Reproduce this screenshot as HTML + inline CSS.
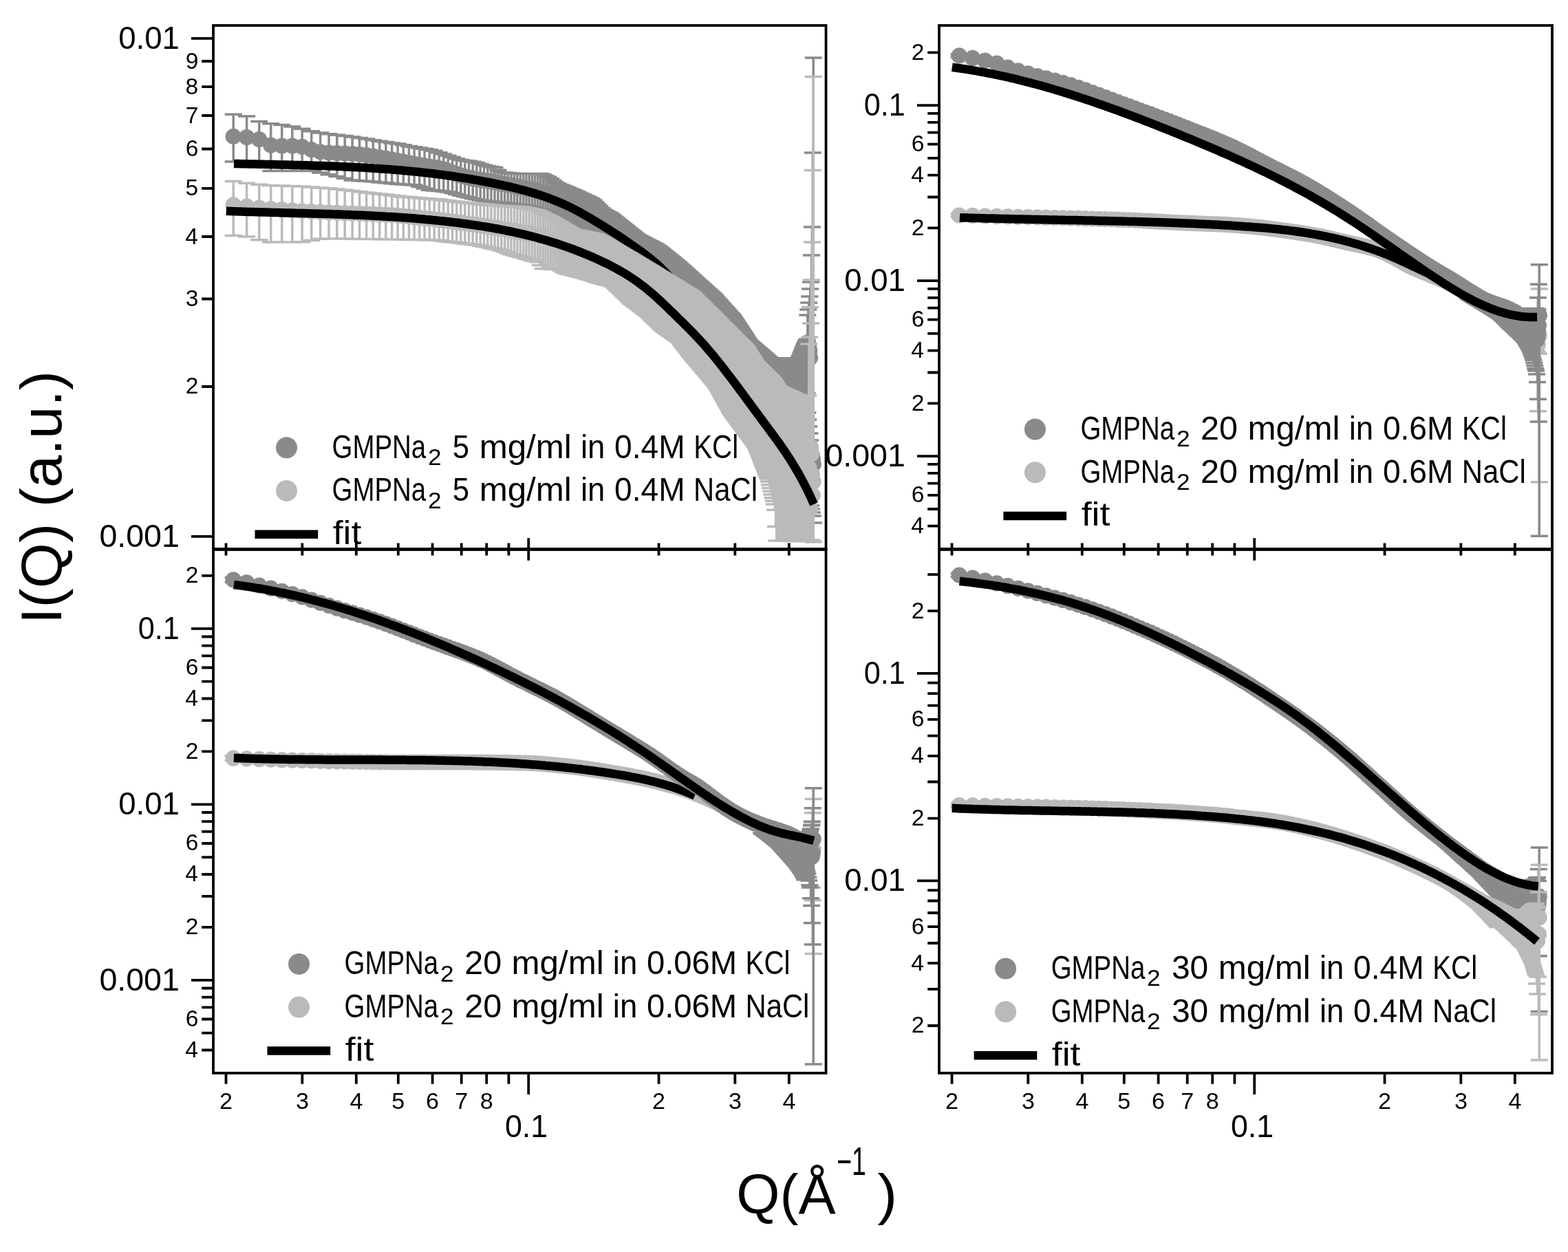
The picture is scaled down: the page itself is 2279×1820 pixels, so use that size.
<!DOCTYPE html>
<html><head><meta charset="utf-8"><title>SAXS I(Q)</title><style>html,body{margin:0;padding:0;background:#fff;overflow:hidden}</style></head><body>
<svg xmlns="http://www.w3.org/2000/svg" width="2279" height="1820" viewBox="0 0 2279 1820" font-family="'Liberation Sans', Arial, sans-serif" style="display:block">
<rect width="2279" height="1820" fill="#fff"/>
<defs>
<clipPath id="cTL"><rect x="310" y="37" width="890.5" height="761.5"/></clipPath>
<clipPath id="cTR"><rect x="1365" y="37" width="891" height="761.5"/></clipPath>
<clipPath id="cBL"><rect x="310" y="798.5" width="890.5" height="761.4000000000001"/></clipPath>
<clipPath id="cBR"><rect x="1365" y="798.5" width="891" height="761.4000000000001"/></clipPath>
</defs>
<g clip-path="url(#cTL)">
<path d="M327.6 198.4a11.6 11.6 0 1 0 23.2 0a11.6 11.6 0 1 0 -23.2 0M347.0 199.5a11.6 11.6 0 1 0 23.2 0a11.6 11.6 0 1 0 -23.2 0M365.1 202.5a11.6 11.6 0 1 0 23.2 0a11.6 11.6 0 1 0 -23.2 0M382.1 211.1a11.6 11.6 0 1 0 23.2 0a11.6 11.6 0 1 0 -23.2 0M398.1 212.0a11.6 11.6 0 1 0 23.2 0a11.6 11.6 0 1 0 -23.2 0M413.2 212.0a11.6 11.6 0 1 0 23.2 0a11.6 11.6 0 1 0 -23.2 0M427.5 213.3a11.6 11.6 0 1 0 23.2 0a11.6 11.6 0 1 0 -23.2 0M441.1 217.5a11.6 11.6 0 1 0 23.2 0a11.6 11.6 0 1 0 -23.2 0M454.0 220.9a11.6 11.6 0 1 0 23.2 0a11.6 11.6 0 1 0 -23.2 0M466.4 222.1a11.6 11.6 0 1 0 23.2 0a11.6 11.6 0 1 0 -23.2 0M478.2 222.7a11.6 11.6 0 1 0 23.2 0a11.6 11.6 0 1 0 -23.2 0M489.6 223.1a11.6 11.6 0 1 0 23.2 0a11.6 11.6 0 1 0 -23.2 0M500.5 223.6a11.6 11.6 0 1 0 23.2 0a11.6 11.6 0 1 0 -23.2 0M510.9 224.4a11.6 11.6 0 1 0 23.2 0a11.6 11.6 0 1 0 -23.2 0M521.0 225.6a11.6 11.6 0 1 0 23.2 0a11.6 11.6 0 1 0 -23.2 0M530.7 227.0a11.6 11.6 0 1 0 23.2 0a11.6 11.6 0 1 0 -23.2 0M540.1 228.6a11.6 11.6 0 1 0 23.2 0a11.6 11.6 0 1 0 -23.2 0M549.2 230.1a11.6 11.6 0 1 0 23.2 0a11.6 11.6 0 1 0 -23.2 0M558.0 231.8a11.6 11.6 0 1 0 23.2 0a11.6 11.6 0 1 0 -23.2 0M566.5 233.5a11.6 11.6 0 1 0 23.2 0a11.6 11.6 0 1 0 -23.2 0M574.7 235.2a11.6 11.6 0 1 0 23.2 0a11.6 11.6 0 1 0 -23.2 0M582.8 236.9a11.6 11.6 0 1 0 23.2 0a11.6 11.6 0 1 0 -23.2 0M590.5 238.4a11.6 11.6 0 1 0 23.2 0a11.6 11.6 0 1 0 -23.2 0M598.1 239.7a11.6 11.6 0 1 0 23.2 0a11.6 11.6 0 1 0 -23.2 0M605.5 240.8a11.6 11.6 0 1 0 23.2 0a11.6 11.6 0 1 0 -23.2 0M612.6 242.0a11.6 11.6 0 1 0 23.2 0a11.6 11.6 0 1 0 -23.2 0M619.6 243.2a11.6 11.6 0 1 0 23.2 0a11.6 11.6 0 1 0 -23.2 0M626.5 244.6a11.6 11.6 0 1 0 23.2 0a11.6 11.6 0 1 0 -23.2 0M633.1 246.2a11.6 11.6 0 1 0 23.2 0a11.6 11.6 0 1 0 -23.2 0M639.6 248.3a11.6 11.6 0 1 0 23.2 0a11.6 11.6 0 1 0 -23.2 0M645.9 250.6a11.6 11.6 0 1 0 23.2 0a11.6 11.6 0 1 0 -23.2 0M652.1 252.9a11.6 11.6 0 1 0 23.2 0a11.6 11.6 0 1 0 -23.2 0M658.2 255.0a11.6 11.6 0 1 0 23.2 0a11.6 11.6 0 1 0 -23.2 0M664.1 256.9a11.6 11.6 0 1 0 23.2 0a11.6 11.6 0 1 0 -23.2 0M669.9 258.3a11.6 11.6 0 1 0 23.2 0a11.6 11.6 0 1 0 -23.2 0M675.6 259.5a11.6 11.6 0 1 0 23.2 0a11.6 11.6 0 1 0 -23.2 0M681.2 260.5a11.6 11.6 0 1 0 23.2 0a11.6 11.6 0 1 0 -23.2 0M686.6 261.4a11.6 11.6 0 1 0 23.2 0a11.6 11.6 0 1 0 -23.2 0M692.0 262.3a11.6 11.6 0 1 0 23.2 0a11.6 11.6 0 1 0 -23.2 0M697.2 263.1a11.6 11.6 0 1 0 23.2 0a11.6 11.6 0 1 0 -23.2 0M702.3 263.9a11.6 11.6 0 1 0 23.2 0a11.6 11.6 0 1 0 -23.2 0M707.4 264.8a11.6 11.6 0 1 0 23.2 0a11.6 11.6 0 1 0 -23.2 0M712.3 265.7a11.6 11.6 0 1 0 23.2 0a11.6 11.6 0 1 0 -23.2 0M717.2 266.7a11.6 11.6 0 1 0 23.2 0a11.6 11.6 0 1 0 -23.2 0M722.0 267.6a11.6 11.6 0 1 0 23.2 0a11.6 11.6 0 1 0 -23.2 0M726.7 268.5a11.6 11.6 0 1 0 23.2 0a11.6 11.6 0 1 0 -23.2 0M731.3 269.4a11.6 11.6 0 1 0 23.2 0a11.6 11.6 0 1 0 -23.2 0M735.9 270.3a11.6 11.6 0 1 0 23.2 0a11.6 11.6 0 1 0 -23.2 0M740.3 271.3a11.6 11.6 0 1 0 23.2 0a11.6 11.6 0 1 0 -23.2 0M744.7 272.2a11.6 11.6 0 1 0 23.2 0a11.6 11.6 0 1 0 -23.2 0M749.1 273.1a11.6 11.6 0 1 0 23.2 0a11.6 11.6 0 1 0 -23.2 0M753.3 274.1a11.6 11.6 0 1 0 23.2 0a11.6 11.6 0 1 0 -23.2 0M757.5 275.0a11.6 11.6 0 1 0 23.2 0a11.6 11.6 0 1 0 -23.2 0M761.7 276.0a11.6 11.6 0 1 0 23.2 0a11.6 11.6 0 1 0 -23.2 0M765.7 276.9a11.6 11.6 0 1 0 23.2 0a11.6 11.6 0 1 0 -23.2 0M769.8 277.9a11.6 11.6 0 1 0 23.2 0a11.6 11.6 0 1 0 -23.2 0M773.7 278.8a11.6 11.6 0 1 0 23.2 0a11.6 11.6 0 1 0 -23.2 0M777.6 279.9a11.6 11.6 0 1 0 23.2 0a11.6 11.6 0 1 0 -23.2 0M781.4 280.9a11.6 11.6 0 1 0 23.2 0a11.6 11.6 0 1 0 -23.2 0M785.2 282.0a11.6 11.6 0 1 0 23.2 0a11.6 11.6 0 1 0 -23.2 0M789.0 283.2a11.6 11.6 0 1 0 23.2 0a11.6 11.6 0 1 0 -23.2 0M792.7 284.4a11.6 11.6 0 1 0 23.2 0a11.6 11.6 0 1 0 -23.2 0M796.3 285.7a11.6 11.6 0 1 0 23.2 0a11.6 11.6 0 1 0 -23.2 0M799.9 287.0a11.6 11.6 0 1 0 23.2 0a11.6 11.6 0 1 0 -23.2 0M803.4 288.4a11.6 11.6 0 1 0 23.2 0a11.6 11.6 0 1 0 -23.2 0M806.9 289.9a11.6 11.6 0 1 0 23.2 0a11.6 11.6 0 1 0 -23.2 0M810.4 291.3a11.6 11.6 0 1 0 23.2 0a11.6 11.6 0 1 0 -23.2 0M813.8 292.8a11.6 11.6 0 1 0 23.2 0a11.6 11.6 0 1 0 -23.2 0M817.2 294.4a11.6 11.6 0 1 0 23.2 0a11.6 11.6 0 1 0 -23.2 0M820.5 296.0a11.6 11.6 0 1 0 23.2 0a11.6 11.6 0 1 0 -23.2 0M823.8 297.5a11.6 11.6 0 1 0 23.2 0a11.6 11.6 0 1 0 -23.2 0M827.0 299.1a11.6 11.6 0 1 0 23.2 0a11.6 11.6 0 1 0 -23.2 0M830.2 300.8a11.6 11.6 0 1 0 23.2 0a11.6 11.6 0 1 0 -23.2 0M833.4 302.4a11.6 11.6 0 1 0 23.2 0a11.6 11.6 0 1 0 -23.2 0M836.5 304.0a11.6 11.6 0 1 0 23.2 0a11.6 11.6 0 1 0 -23.2 0M839.6 305.7a11.6 11.6 0 1 0 23.2 0a11.6 11.6 0 1 0 -23.2 0M842.7 307.4a11.6 11.6 0 1 0 23.2 0a11.6 11.6 0 1 0 -23.2 0M845.7 309.1a11.6 11.6 0 1 0 23.2 0a11.6 11.6 0 1 0 -23.2 0M848.7 310.9a11.6 11.6 0 1 0 23.2 0a11.6 11.6 0 1 0 -23.2 0M851.7 312.8a11.6 11.6 0 1 0 23.2 0a11.6 11.6 0 1 0 -23.2 0M854.6 314.7a11.6 11.6 0 1 0 23.2 0a11.6 11.6 0 1 0 -23.2 0M857.5 316.6a11.6 11.6 0 1 0 23.2 0a11.6 11.6 0 1 0 -23.2 0M860.4 318.6a11.6 11.6 0 1 0 23.2 0a11.6 11.6 0 1 0 -23.2 0M863.3 320.5a11.6 11.6 0 1 0 23.2 0a11.6 11.6 0 1 0 -23.2 0M866.1 322.5a11.6 11.6 0 1 0 23.2 0a11.6 11.6 0 1 0 -23.2 0M868.9 324.4a11.6 11.6 0 1 0 23.2 0a11.6 11.6 0 1 0 -23.2 0M871.6 326.4a11.6 11.6 0 1 0 23.2 0a11.6 11.6 0 1 0 -23.2 0M874.3 328.3a11.6 11.6 0 1 0 23.2 0a11.6 11.6 0 1 0 -23.2 0M877.0 330.2a11.6 11.6 0 1 0 23.2 0a11.6 11.6 0 1 0 -23.2 0M879.7 332.0a11.6 11.6 0 1 0 23.2 0a11.6 11.6 0 1 0 -23.2 0M882.4 333.9a11.6 11.6 0 1 0 23.2 0a11.6 11.6 0 1 0 -23.2 0M885.0 335.7a11.6 11.6 0 1 0 23.2 0a11.6 11.6 0 1 0 -23.2 0M887.6 337.5a11.6 11.6 0 1 0 23.2 0a11.6 11.6 0 1 0 -23.2 0M890.2 339.2a11.6 11.6 0 1 0 23.2 0a11.6 11.6 0 1 0 -23.2 0M892.7 340.9a11.6 11.6 0 1 0 23.2 0a11.6 11.6 0 1 0 -23.2 0M895.2 342.5a11.6 11.6 0 1 0 23.2 0a11.6 11.6 0 1 0 -23.2 0M897.8 344.2a11.6 11.6 0 1 0 23.2 0a11.6 11.6 0 1 0 -23.2 0M900.2 345.8a11.6 11.6 0 1 0 23.2 0a11.6 11.6 0 1 0 -23.2 0M902.7 347.4a11.6 11.6 0 1 0 23.2 0a11.6 11.6 0 1 0 -23.2 0M905.1 349.0a11.6 11.6 0 1 0 23.2 0a11.6 11.6 0 1 0 -23.2 0M907.5 350.6a11.6 11.6 0 1 0 23.2 0a11.6 11.6 0 1 0 -23.2 0M909.9 352.2a11.6 11.6 0 1 0 23.2 0a11.6 11.6 0 1 0 -23.2 0M912.3 353.8a11.6 11.6 0 1 0 23.2 0a11.6 11.6 0 1 0 -23.2 0M914.7 355.3a11.6 11.6 0 1 0 23.2 0a11.6 11.6 0 1 0 -23.2 0M917.0 356.9a11.6 11.6 0 1 0 23.2 0a11.6 11.6 0 1 0 -23.2 0M919.3 358.5a11.6 11.6 0 1 0 23.2 0a11.6 11.6 0 1 0 -23.2 0M921.6 360.0a11.6 11.6 0 1 0 23.2 0a11.6 11.6 0 1 0 -23.2 0M923.9 361.6a11.6 11.6 0 1 0 23.2 0a11.6 11.6 0 1 0 -23.2 0M926.1 363.1a11.6 11.6 0 1 0 23.2 0a11.6 11.6 0 1 0 -23.2 0M928.4 364.7a11.6 11.6 0 1 0 23.2 0a11.6 11.6 0 1 0 -23.2 0M930.6 366.3a11.6 11.6 0 1 0 23.2 0a11.6 11.6 0 1 0 -23.2 0M932.8 367.9a11.6 11.6 0 1 0 23.2 0a11.6 11.6 0 1 0 -23.2 0M935.0 369.5a11.6 11.6 0 1 0 23.2 0a11.6 11.6 0 1 0 -23.2 0M937.1 371.1a11.6 11.6 0 1 0 23.2 0a11.6 11.6 0 1 0 -23.2 0M939.3 372.7a11.6 11.6 0 1 0 23.2 0a11.6 11.6 0 1 0 -23.2 0M941.4 374.3a11.6 11.6 0 1 0 23.2 0a11.6 11.6 0 1 0 -23.2 0M943.5 375.9a11.6 11.6 0 1 0 23.2 0a11.6 11.6 0 1 0 -23.2 0M945.6 377.6a11.6 11.6 0 1 0 23.2 0a11.6 11.6 0 1 0 -23.2 0M947.7 379.2a11.6 11.6 0 1 0 23.2 0a11.6 11.6 0 1 0 -23.2 0M949.8 380.9a11.6 11.6 0 1 0 23.2 0a11.6 11.6 0 1 0 -23.2 0M951.8 382.6a11.6 11.6 0 1 0 23.2 0a11.6 11.6 0 1 0 -23.2 0M953.9 384.2a11.6 11.6 0 1 0 23.2 0a11.6 11.6 0 1 0 -23.2 0M955.9 385.9a11.6 11.6 0 1 0 23.2 0a11.6 11.6 0 1 0 -23.2 0M957.9 387.6a11.6 11.6 0 1 0 23.2 0a11.6 11.6 0 1 0 -23.2 0M959.9 389.2a11.6 11.6 0 1 0 23.2 0a11.6 11.6 0 1 0 -23.2 0M961.9 390.9a11.6 11.6 0 1 0 23.2 0a11.6 11.6 0 1 0 -23.2 0M963.8 392.6a11.6 11.6 0 1 0 23.2 0a11.6 11.6 0 1 0 -23.2 0M965.8 394.3a11.6 11.6 0 1 0 23.2 0a11.6 11.6 0 1 0 -23.2 0M967.7 395.9a11.6 11.6 0 1 0 23.2 0a11.6 11.6 0 1 0 -23.2 0M969.7 397.6a11.6 11.6 0 1 0 23.2 0a11.6 11.6 0 1 0 -23.2 0M971.6 399.2a11.6 11.6 0 1 0 23.2 0a11.6 11.6 0 1 0 -23.2 0M973.5 400.9a11.6 11.6 0 1 0 23.2 0a11.6 11.6 0 1 0 -23.2 0M975.3 402.5a11.6 11.6 0 1 0 23.2 0a11.6 11.6 0 1 0 -23.2 0M977.2 404.2a11.6 11.6 0 1 0 23.2 0a11.6 11.6 0 1 0 -23.2 0M979.1 405.8a11.6 11.6 0 1 0 23.2 0a11.6 11.6 0 1 0 -23.2 0M980.9 407.4a11.6 11.6 0 1 0 23.2 0a11.6 11.6 0 1 0 -23.2 0M982.7 409.0a11.6 11.6 0 1 0 23.2 0a11.6 11.6 0 1 0 -23.2 0M984.6 410.6a11.6 11.6 0 1 0 23.2 0a11.6 11.6 0 1 0 -23.2 0M986.4 412.2a11.6 11.6 0 1 0 23.2 0a11.6 11.6 0 1 0 -23.2 0M988.2 413.8a11.6 11.6 0 1 0 23.2 0a11.6 11.6 0 1 0 -23.2 0M990.0 415.4a11.6 11.6 0 1 0 23.2 0a11.6 11.6 0 1 0 -23.2 0M991.7 416.9a11.6 11.6 0 1 0 23.2 0a11.6 11.6 0 1 0 -23.2 0M993.5 418.5a11.6 11.6 0 1 0 23.2 0a11.6 11.6 0 1 0 -23.2 0M995.2 420.0a11.6 11.6 0 1 0 23.2 0a11.6 11.6 0 1 0 -23.2 0M997.0 421.5a11.6 11.6 0 1 0 23.2 0a11.6 11.6 0 1 0 -23.2 0M998.7 423.0a11.6 11.6 0 1 0 23.2 0a11.6 11.6 0 1 0 -23.2 0M1000.4 424.5a11.6 11.6 0 1 0 23.2 0a11.6 11.6 0 1 0 -23.2 0M1002.1 426.0a11.6 11.6 0 1 0 23.2 0a11.6 11.6 0 1 0 -23.2 0M1003.8 427.5a11.6 11.6 0 1 0 23.2 0a11.6 11.6 0 1 0 -23.2 0M1005.5 429.0a11.6 11.6 0 1 0 23.2 0a11.6 11.6 0 1 0 -23.2 0M1007.2 430.4a11.6 11.6 0 1 0 23.2 0a11.6 11.6 0 1 0 -23.2 0M1008.8 431.9a11.6 11.6 0 1 0 23.2 0a11.6 11.6 0 1 0 -23.2 0M1010.5 433.4a11.6 11.6 0 1 0 23.2 0a11.6 11.6 0 1 0 -23.2 0M1012.1 434.9a11.6 11.6 0 1 0 23.2 0a11.6 11.6 0 1 0 -23.2 0M1013.8 436.3a11.6 11.6 0 1 0 23.2 0a11.6 11.6 0 1 0 -23.2 0M1015.4 437.8a11.6 11.6 0 1 0 23.2 0a11.6 11.6 0 1 0 -23.2 0M1017.0 439.3a11.6 11.6 0 1 0 23.2 0a11.6 11.6 0 1 0 -23.2 0M1018.6 440.7a11.6 11.6 0 1 0 23.2 0a11.6 11.6 0 1 0 -23.2 0M1020.2 442.2a11.6 11.6 0 1 0 23.2 0a11.6 11.6 0 1 0 -23.2 0M1021.8 443.7a11.6 11.6 0 1 0 23.2 0a11.6 11.6 0 1 0 -23.2 0M1023.4 445.2a11.6 11.6 0 1 0 23.2 0a11.6 11.6 0 1 0 -23.2 0M1025.0 446.7a11.6 11.6 0 1 0 23.2 0a11.6 11.6 0 1 0 -23.2 0M1026.5 448.1a11.6 11.6 0 1 0 23.2 0a11.6 11.6 0 1 0 -23.2 0M1028.1 449.6a11.6 11.6 0 1 0 23.2 0a11.6 11.6 0 1 0 -23.2 0M1029.6 451.1a11.6 11.6 0 1 0 23.2 0a11.6 11.6 0 1 0 -23.2 0M1031.1 452.6a11.6 11.6 0 1 0 23.2 0a11.6 11.6 0 1 0 -23.2 0M1032.7 454.2a11.6 11.6 0 1 0 23.2 0a11.6 11.6 0 1 0 -23.2 0M1034.2 455.7a11.6 11.6 0 1 0 23.2 0a11.6 11.6 0 1 0 -23.2 0M1035.7 457.2a11.6 11.6 0 1 0 23.2 0a11.6 11.6 0 1 0 -23.2 0M1037.2 458.8a11.6 11.6 0 1 0 23.2 0a11.6 11.6 0 1 0 -23.2 0M1038.7 460.3a11.6 11.6 0 1 0 23.2 0a11.6 11.6 0 1 0 -23.2 0M1040.2 461.9a11.6 11.6 0 1 0 23.2 0a11.6 11.6 0 1 0 -23.2 0M1041.7 463.5a11.6 11.6 0 1 0 23.2 0a11.6 11.6 0 1 0 -23.2 0M1043.1 465.2a11.6 11.6 0 1 0 23.2 0a11.6 11.6 0 1 0 -23.2 0M1044.6 466.9a11.6 11.6 0 1 0 23.2 0a11.6 11.6 0 1 0 -23.2 0M1046.0 468.6a11.6 11.6 0 1 0 23.2 0a11.6 11.6 0 1 0 -23.2 0M1047.5 470.3a11.6 11.6 0 1 0 23.2 0a11.6 11.6 0 1 0 -23.2 0M1048.9 472.1a11.6 11.6 0 1 0 23.2 0a11.6 11.6 0 1 0 -23.2 0M1050.3 473.8a11.6 11.6 0 1 0 23.2 0a11.6 11.6 0 1 0 -23.2 0M1051.8 475.6a11.6 11.6 0 1 0 23.2 0a11.6 11.6 0 1 0 -23.2 0M1053.2 477.4a11.6 11.6 0 1 0 23.2 0a11.6 11.6 0 1 0 -23.2 0M1054.6 479.2a11.6 11.6 0 1 0 23.2 0a11.6 11.6 0 1 0 -23.2 0M1056.0 481.1a11.6 11.6 0 1 0 23.2 0a11.6 11.6 0 1 0 -23.2 0M1057.4 482.9a11.6 11.6 0 1 0 23.2 0a11.6 11.6 0 1 0 -23.2 0M1058.8 484.7a11.6 11.6 0 1 0 23.2 0a11.6 11.6 0 1 0 -23.2 0M1060.1 486.5a11.6 11.6 0 1 0 23.2 0a11.6 11.6 0 1 0 -23.2 0M1061.5 488.3a11.6 11.6 0 1 0 23.2 0a11.6 11.6 0 1 0 -23.2 0M1062.9 490.1a11.6 11.6 0 1 0 23.2 0a11.6 11.6 0 1 0 -23.2 0M1064.2 491.9a11.6 11.6 0 1 0 23.2 0a11.6 11.6 0 1 0 -23.2 0M1065.6 493.6a11.6 11.6 0 1 0 23.2 0a11.6 11.6 0 1 0 -23.2 0M1066.9 495.4a11.6 11.6 0 1 0 23.2 0a11.6 11.6 0 1 0 -23.2 0M1068.3 497.1a11.6 11.6 0 1 0 23.2 0a11.6 11.6 0 1 0 -23.2 0M1069.6 498.8a11.6 11.6 0 1 0 23.2 0a11.6 11.6 0 1 0 -23.2 0M1070.9 500.5a11.6 11.6 0 1 0 23.2 0a11.6 11.6 0 1 0 -23.2 0M1072.3 502.1a11.6 11.6 0 1 0 23.2 0a11.6 11.6 0 1 0 -23.2 0M1073.6 503.8a11.6 11.6 0 1 0 23.2 0a11.6 11.6 0 1 0 -23.2 0M1074.9 505.4a11.6 11.6 0 1 0 23.2 0a11.6 11.6 0 1 0 -23.2 0M1076.2 506.9a11.6 11.6 0 1 0 23.2 0a11.6 11.6 0 1 0 -23.2 0M1077.5 508.5a11.6 11.6 0 1 0 23.2 0a11.6 11.6 0 1 0 -23.2 0M1078.8 510.0a11.6 11.6 0 1 0 23.2 0a11.6 11.6 0 1 0 -23.2 0M1080.0 511.4a11.6 11.6 0 1 0 23.2 0a11.6 11.6 0 1 0 -23.2 0M1081.3 512.8a11.6 11.6 0 1 0 23.2 0a11.6 11.6 0 1 0 -23.2 0M1082.6 514.2a11.6 11.6 0 1 0 23.2 0a11.6 11.6 0 1 0 -23.2 0M1083.8 515.5a11.6 11.6 0 1 0 23.2 0a11.6 11.6 0 1 0 -23.2 0M1085.1 516.8a11.6 11.6 0 1 0 23.2 0a11.6 11.6 0 1 0 -23.2 0M1086.4 518.1a11.6 11.6 0 1 0 23.2 0a11.6 11.6 0 1 0 -23.2 0M1087.6 519.3a11.6 11.6 0 1 0 23.2 0a11.6 11.6 0 1 0 -23.2 0M1088.8 520.4a11.6 11.6 0 1 0 23.2 0a11.6 11.6 0 1 0 -23.2 0M1090.1 521.5a11.6 11.6 0 1 0 23.2 0a11.6 11.6 0 1 0 -23.2 0M1091.3 522.7a11.6 11.6 0 1 0 23.2 0a11.6 11.6 0 1 0 -23.2 0M1092.5 523.8a11.6 11.6 0 1 0 23.2 0a11.6 11.6 0 1 0 -23.2 0M1093.8 524.9a11.6 11.6 0 1 0 23.2 0a11.6 11.6 0 1 0 -23.2 0M1095.0 526.0a11.6 11.6 0 1 0 23.2 0a11.6 11.6 0 1 0 -23.2 0M1096.2 527.1a11.6 11.6 0 1 0 23.2 0a11.6 11.6 0 1 0 -23.2 0M1097.4 528.2a11.6 11.6 0 1 0 23.2 0a11.6 11.6 0 1 0 -23.2 0M1098.6 529.2a11.6 11.6 0 1 0 23.2 0a11.6 11.6 0 1 0 -23.2 0M1099.8 530.2a11.6 11.6 0 1 0 23.2 0a11.6 11.6 0 1 0 -23.2 0M1101.0 531.3a11.6 11.6 0 1 0 23.2 0a11.6 11.6 0 1 0 -23.2 0M1102.1 532.2a11.6 11.6 0 1 0 23.2 0a11.6 11.6 0 1 0 -23.2 0M1103.3 533.2a11.6 11.6 0 1 0 23.2 0a11.6 11.6 0 1 0 -23.2 0M1104.5 534.1a11.6 11.6 0 1 0 23.2 0a11.6 11.6 0 1 0 -23.2 0M1105.7 535.1a11.6 11.6 0 1 0 23.2 0a11.6 11.6 0 1 0 -23.2 0M1106.8 535.9a11.6 11.6 0 1 0 23.2 0a11.6 11.6 0 1 0 -23.2 0M1108.0 536.8a11.6 11.6 0 1 0 23.2 0a11.6 11.6 0 1 0 -23.2 0M1109.1 537.6a11.6 11.6 0 1 0 23.2 0a11.6 11.6 0 1 0 -23.2 0M1110.3 538.4a11.6 11.6 0 1 0 23.2 0a11.6 11.6 0 1 0 -23.2 0M1111.4 539.2a11.6 11.6 0 1 0 23.2 0a11.6 11.6 0 1 0 -23.2 0M1112.6 539.9a11.6 11.6 0 1 0 23.2 0a11.6 11.6 0 1 0 -23.2 0M1113.7 540.6a11.6 11.6 0 1 0 23.2 0a11.6 11.6 0 1 0 -23.2 0M1114.8 541.2a11.6 11.6 0 1 0 23.2 0a11.6 11.6 0 1 0 -23.2 0M1115.9 541.8a11.6 11.6 0 1 0 23.2 0a11.6 11.6 0 1 0 -23.2 0M1117.1 542.4a11.6 11.6 0 1 0 23.2 0a11.6 11.6 0 1 0 -23.2 0M1118.2 542.9a11.6 11.6 0 1 0 23.2 0a11.6 11.6 0 1 0 -23.2 0M1119.3 543.4a11.6 11.6 0 1 0 23.2 0a11.6 11.6 0 1 0 -23.2 0M1120.4 543.9a11.6 11.6 0 1 0 23.2 0a11.6 11.6 0 1 0 -23.2 0M1121.5 544.4a11.6 11.6 0 1 0 23.2 0a11.6 11.6 0 1 0 -23.2 0M1122.6 544.9a11.6 11.6 0 1 0 23.2 0a11.6 11.6 0 1 0 -23.2 0M1123.7 545.4a11.6 11.6 0 1 0 23.2 0a11.6 11.6 0 1 0 -23.2 0M1124.8 545.9a11.6 11.6 0 1 0 23.2 0a11.6 11.6 0 1 0 -23.2 0M1125.8 546.3a11.6 11.6 0 1 0 23.2 0a11.6 11.6 0 1 0 -23.2 0M1126.9 546.7a11.6 11.6 0 1 0 23.2 0a11.6 11.6 0 1 0 -23.2 0M1128.0 547.1a11.6 11.6 0 1 0 23.2 0a11.6 11.6 0 1 0 -23.2 0M1129.1 547.4a11.6 11.6 0 1 0 23.2 0a11.6 11.6 0 1 0 -23.2 0M1130.1 547.6a11.6 11.6 0 1 0 23.2 0a11.6 11.6 0 1 0 -23.2 0M1131.2 547.8a11.6 11.6 0 1 0 23.2 0a11.6 11.6 0 1 0 -23.2 0M1132.3 548.0a11.6 11.6 0 1 0 23.2 0a11.6 11.6 0 1 0 -23.2 0M1133.3 548.0a11.6 11.6 0 1 0 23.2 0a11.6 11.6 0 1 0 -23.2 0M1134.4 547.9a11.6 11.6 0 1 0 23.2 0a11.6 11.6 0 1 0 -23.2 0M1135.4 547.5a11.6 11.6 0 1 0 23.2 0a11.6 11.6 0 1 0 -23.2 0M1136.5 547.0a11.6 11.6 0 1 0 23.2 0a11.6 11.6 0 1 0 -23.2 0M1137.5 546.3a11.6 11.6 0 1 0 23.2 0a11.6 11.6 0 1 0 -23.2 0M1138.5 545.4a11.6 11.6 0 1 0 23.2 0a11.6 11.6 0 1 0 -23.2 0M1139.6 544.4a11.6 11.6 0 1 0 23.2 0a11.6 11.6 0 1 0 -23.2 0M1140.6 543.3a11.6 11.6 0 1 0 23.2 0a11.6 11.6 0 1 0 -23.2 0M1141.6 542.1a11.6 11.6 0 1 0 23.2 0a11.6 11.6 0 1 0 -23.2 0M1142.6 540.9a11.6 11.6 0 1 0 23.2 0a11.6 11.6 0 1 0 -23.2 0M1143.6 539.7a11.6 11.6 0 1 0 23.2 0a11.6 11.6 0 1 0 -23.2 0M1144.7 538.1a11.6 11.6 0 1 0 23.2 0a11.6 11.6 0 1 0 -23.2 0M1145.7 536.2a11.6 11.6 0 1 0 23.2 0a11.6 11.6 0 1 0 -23.2 0M1146.7 533.9a11.6 11.6 0 1 0 23.2 0a11.6 11.6 0 1 0 -23.2 0M1147.7 531.5a11.6 11.6 0 1 0 23.2 0a11.6 11.6 0 1 0 -23.2 0M1148.7 528.9a11.6 11.6 0 1 0 23.2 0a11.6 11.6 0 1 0 -23.2 0M1149.7 526.3a11.6 11.6 0 1 0 23.2 0a11.6 11.6 0 1 0 -23.2 0M1150.6 523.8a11.6 11.6 0 1 0 23.2 0a11.6 11.6 0 1 0 -23.2 0M1151.6 521.5a11.6 11.6 0 1 0 23.2 0a11.6 11.6 0 1 0 -23.2 0M1152.6 519.1a11.6 11.6 0 1 0 23.2 0a11.6 11.6 0 1 0 -23.2 0M1153.6 516.6a11.6 11.6 0 1 0 23.2 0a11.6 11.6 0 1 0 -23.2 0M1154.6 514.0a11.6 11.6 0 1 0 23.2 0a11.6 11.6 0 1 0 -23.2 0M1155.5 511.6a11.6 11.6 0 1 0 23.2 0a11.6 11.6 0 1 0 -23.2 0M1156.5 509.2a11.6 11.6 0 1 0 23.2 0a11.6 11.6 0 1 0 -23.2 0M1157.5 506.9a11.6 11.6 0 1 0 23.2 0a11.6 11.6 0 1 0 -23.2 0M1158.4 504.9a11.6 11.6 0 1 0 23.2 0a11.6 11.6 0 1 0 -23.2 0M1159.4 503.1a11.6 11.6 0 1 0 23.2 0a11.6 11.6 0 1 0 -23.2 0M1160.3 501.2a11.6 11.6 0 1 0 23.2 0a11.6 11.6 0 1 0 -23.2 0M1161.3 499.5a11.6 11.6 0 1 0 23.2 0a11.6 11.6 0 1 0 -23.2 0M1162.2 498.0a11.6 11.6 0 1 0 23.2 0a11.6 11.6 0 1 0 -23.2 0M1163.2 500.0a11.6 11.6 0 1 0 23.2 0a11.6 11.6 0 1 0 -23.2 0M1164.1 505.0a11.6 11.6 0 1 0 23.2 0a11.6 11.6 0 1 0 -23.2 0M1165.1 510.0a11.6 11.6 0 1 0 23.2 0a11.6 11.6 0 1 0 -23.2 0M1166.0 520.0a11.6 11.6 0 1 0 23.2 0a11.6 11.6 0 1 0 -23.2 0M1166.9 665.0a11.6 11.6 0 1 0 23.2 0a11.6 11.6 0 1 0 -23.2 0M1167.9 672.0a11.6 11.6 0 1 0 23.2 0a11.6 11.6 0 1 0 -23.2 0M1168.8 662.0a11.6 11.6 0 1 0 23.2 0a11.6 11.6 0 1 0 -23.2 0M1169.7 668.0a11.6 11.6 0 1 0 23.2 0a11.6 11.6 0 1 0 -23.2 0M1170.6 675.0a11.6 11.6 0 1 0 23.2 0a11.6 11.6 0 1 0 -23.2 0" fill="#8a8a8a"/>
<path d="M339.2 166.2V235.0M358.6 169.0V236.5M376.7 176.6V242.1M393.7 179.8V248.5M409.7 181.4V248.5M424.8 184.0V248.5M439.1 187.2V248.5M452.7 190.7V248.5M465.6 193.1V250.9M478.0 194.7V253.7M489.8 196.3V256.6M501.2 197.6V259.3M512.1 198.9V261.9M522.5 200.4V262.7M532.6 202.1V263.3M542.3 203.8V264.0M551.7 205.3V264.9M560.8 206.6V265.8M569.6 207.9V266.7M578.1 209.1V267.4M586.3 210.8V267.9M594.4 212.4V268.5M602.1 213.8V269.0M609.7 215.0V271.5M617.1 216.3V274.1M624.2 217.5V276.2M631.2 219.3V276.9M638.1 221.7V277.6M644.7 224.0V278.2M651.2 226.3V278.9M657.5 228.5V280.5M663.7 230.7V282.4M669.8 232.4V284.2M675.7 233.4V285.7M681.5 234.3V287.1M687.2 235.3V288.4M692.8 236.6V289.7M698.2 238.5V291.0M703.6 240.3V292.1M708.8 241.6V292.6M713.9 242.6V293.1M719.0 243.5V293.6M723.9 247.2V294.1M728.8 250.7V294.6M733.6 251.1V295.1M738.3 251.5V295.7M742.9 251.9V296.3M747.5 252.2V296.9M751.9 252.4V297.4M756.3 252.4V298.0M760.7 252.4V298.5M764.9 252.4V299.1M769.1 252.4V299.6M773.3 252.4V300.2M777.3 252.4V301.5M781.4 252.4V302.7M785.3 252.4V303.8M789.2 253.7V305.0M793.0 255.4V306.2M796.8 257.2V307.3M800.6 259.8V308.4M804.3 262.5V309.5M807.9 265.2V310.6M811.5 267.2V311.7M815.0 268.7V313.3M818.5 270.2V315.1M822.0 271.6V316.9M825.4 273.0V318.7M828.8 274.4V320.5M832.1 275.8V322.2M835.4 277.3V323.9M838.6 278.8V325.6M841.8 280.3V327.3M845.0 281.8V328.9M848.1 283.2V330.5M851.2 284.7V332.1M854.3 286.1V333.7M857.3 287.5V335.3M860.3 288.9V336.9M863.3 291.2V338.4M866.2 294.1V340.0M869.1 297.0V341.6M872.0 299.8V343.1M874.9 302.7V344.7M877.7 305.1V346.2M880.5 306.5V347.7M883.2 307.9V349.2M885.9 309.2V350.7M888.6 310.9V352.1M891.3 313.1V353.6M894.0 315.2V355.0M896.6 317.3V356.4M899.2 319.4V357.8M901.8 321.4V359.2M904.3 323.5V360.6M906.8 325.5V361.9M909.4 327.5V363.3M911.8 329.5V364.6M914.3 331.5V366.3M916.7 333.4V368.1M919.1 335.4V369.9M921.5 337.3V371.7M923.9 339.2V373.4M926.3 341.1V375.2M928.6 342.5V376.9M930.9 343.7V378.6M933.2 344.9V380.3M935.5 346.1V382.0M937.7 347.2V383.7M940.0 348.4V385.3M942.2 349.6V387.0M944.4 350.7V388.6M946.6 351.8V390.2M948.7 353.0V391.8M950.9 354.1V393.4M953.0 355.2V395.0M955.1 356.3V396.6M957.2 357.8V398.1M959.3 359.4V399.6M961.4 361.1V401.2M963.4 362.7V402.7M965.5 364.4V404.3M967.5 366.0V405.8M969.5 367.6V407.3M971.5 369.2V408.8M973.5 370.7V410.3M975.4 372.4V411.8M977.4 374.0V413.3M979.3 375.6V414.8M981.3 377.2V416.3M983.2 378.7V417.7M985.1 380.3V419.1M986.9 381.8V420.6M988.8 383.5V422.0M990.7 385.2V423.4M992.5 386.8V424.8M994.3 388.5V426.2M996.2 390.1V427.6M998.0 391.7V429.0M999.8 393.4V430.3M1001.6 395.0V431.7M1003.3 396.6V433.0M1005.1 398.2V434.4M1006.8 399.7V435.7M1008.6 401.3V437.0M1010.3 402.9V438.3M1012.0 404.4V439.6M1013.7 406.0V441.2M1015.4 407.5V442.9M1017.1 409.0V444.6M1018.8 410.5V446.3M1020.4 412.0V447.9M1022.1 413.5V449.6M1023.7 415.0V451.2M1025.4 416.5V452.9M1027.0 417.9V454.5M1028.6 419.4V456.1M1030.2 420.8V457.7M1031.8 422.3V459.3M1033.4 423.7V460.9M1035.0 425.1V462.5M1036.6 426.6V464.1M1038.1 428.1V465.6M1039.7 429.8V467.2M1041.2 431.5V468.7M1042.7 433.2V470.2M1044.3 434.9V471.8M1045.8 436.6V473.3M1047.3 438.3V474.8M1048.8 439.9V476.3M1050.3 441.6V477.8M1051.8 443.2V479.3M1053.3 444.9V480.8M1054.7 446.5V482.2M1056.2 448.1V483.7M1057.6 449.7V485.1M1059.1 451.3V486.6M1060.5 452.9V488.0M1061.9 454.5V489.4M1063.4 456.1V490.9M1064.8 457.6V492.3M1066.2 459.3V493.7M1067.6 461.4V495.1M1069.0 463.6V496.5M1070.4 465.7V497.9M1071.7 467.8V499.2M1073.1 469.9V500.6M1074.5 472.0V502.0M1075.8 474.1V503.3M1077.2 476.1V500.0M1078.5 478.2V501.7M1079.9 480.3V503.5M1081.2 482.3V505.2M1082.5 484.3V506.8M1083.9 486.3V508.5M1085.2 488.4V510.1M1086.5 490.4V511.7M1087.8 492.4V513.3M1089.1 494.3V514.8M1090.4 495.7V516.3M1091.6 496.8V517.8M1092.9 497.9V519.2M1094.2 499.0V520.6M1095.4 500.1V521.9M1096.7 501.2V523.2M1098.0 502.3V524.4M1099.2 503.3V525.6M1100.4 504.4V526.8M1101.7 505.5V527.9M1102.9 506.5V529.0M1104.1 507.6V530.1M1105.4 508.6V531.3M1106.6 509.7V532.4M1107.8 510.7V533.4M1109.0 511.8V534.5M1110.2 512.8V535.6M1111.4 513.8V536.6M1112.6 514.8V537.6M1113.7 515.8V538.6M1114.9 516.9V539.6M1116.1 517.9V540.5M1117.3 518.9V541.4M1118.4 519.9V542.3M1119.6 520.8V543.1M1120.7 520.8V544.0M1121.9 520.8V544.8M1123.0 520.8V545.5M1124.2 520.8V546.2M1125.3 520.8V546.9M1126.4 520.8V547.6M1127.5 520.8V548.2M1128.7 520.8V548.7M1129.8 520.8V549.2M1130.9 520.8V549.7M1132.0 520.8V550.3M1133.1 520.8V550.8M1134.2 520.8V551.3M1135.3 520.8V551.8M1136.4 520.8V552.2M1137.4 520.8V552.7M1138.5 520.8V553.1M1139.6 520.8V553.4M1140.7 520.8V553.7M1141.7 520.8V554.0M1142.8 520.8V558.9M1143.9 520.8V559.6M1144.9 520.8V560.3M1146.0 520.8V560.9M1147.0 520.8V561.6M1148.1 520.8V562.2M1149.1 520.8V562.9M1150.1 520.8V563.5M1151.2 520.8V564.2M1152.2 520.8V564.8M1153.2 520.8V565.2M1154.2 520.8V565.5M1155.2 520.8V565.9M1156.3 520.8V566.2M1157.3 520.8V566.5M1158.3 520.8V566.8M1159.3 525.2V567.1M1160.3 522.7V567.4M1161.3 520.1V567.7M1162.2 517.6V568.0M1163.2 515.2V568.4M1164.2 512.8V568.7M1165.2 510.3V569.0M1166.2 507.8V569.3M1167.1 505.3V569.6M1168.1 502.9V569.9M1169.1 500.7V570.2M1170.0 498.7V570.5M1171.0 496.8V570.8M1171.9 495.0V571.1M1172.9 493.2V571.4M1173.8 458.0V600.0M1174.8 450.0V610.0M1175.7 440.0V620.0M1176.7 431.0V630.0M1177.6 420.0V640.0M1178.5 410.0V735.0M1179.5 371.0V740.0M1180.4 330.0V745.0M1181.3 222.0V750.0M1182.2 84.0V760.0" stroke="#8a8a8a" stroke-width="3.5" fill="none"/>
<path d="M326.7 166.2h25M326.7 235.0h25M346.1 169.0h25M346.1 236.5h25M364.2 176.6h25M364.2 242.1h25M381.2 179.8h25M381.2 248.5h25M397.2 181.4h25M397.2 248.5h25M412.3 184.0h25M412.3 248.5h25M426.6 187.2h25M426.6 248.5h25M440.2 190.7h25M440.2 248.5h25M453.1 193.1h25M453.1 250.9h25M465.5 194.7h25M465.5 253.7h25M477.3 196.3h25M477.3 256.6h25M488.7 197.6h25M488.7 259.3h25M499.6 198.9h25M499.6 261.9h25M510.0 200.4h25M510.0 262.7h25M520.1 202.1h25M520.1 263.3h25M529.8 203.8h25M529.8 264.0h25M539.2 205.3h25M539.2 264.9h25M548.3 206.6h25M548.3 265.8h25M557.1 207.9h25M557.1 266.7h25M565.6 209.1h25M565.6 267.4h25M573.8 210.8h25M573.8 267.9h25M581.9 212.4h25M581.9 268.5h25M589.6 213.8h25M589.6 269.0h25M597.2 215.0h25M597.2 271.5h25M604.6 216.3h25M604.6 274.1h25M611.7 217.5h25M611.7 276.2h25M618.7 219.3h25M618.7 276.9h25M625.6 221.7h25M625.6 277.6h25M632.2 224.0h25M632.2 278.2h25M638.7 226.3h25M638.7 278.9h25M645.0 228.5h25M645.0 280.5h25M651.2 230.7h25M651.2 282.4h25M657.3 232.4h25M657.3 284.2h25M663.2 233.4h25M663.2 285.7h25M669.0 234.3h25M669.0 287.1h25M674.7 235.3h25M674.7 288.4h25M680.3 236.6h25M680.3 289.7h25M685.7 238.5h25M685.7 291.0h25M691.1 240.3h25M691.1 292.1h25M696.3 241.6h25M696.3 292.6h25M701.4 242.6h25M701.4 293.1h25M706.5 243.5h25M706.5 293.6h25M711.4 247.2h25M711.4 294.1h25M716.3 250.7h25M716.3 294.6h25M721.1 251.1h25M721.1 295.1h25M725.8 251.5h25M725.8 295.7h25M730.4 251.9h25M730.4 296.3h25M735.0 252.2h25M735.0 296.9h25M739.4 252.4h25M739.4 297.4h25M743.8 252.4h25M743.8 298.0h25M748.2 252.4h25M748.2 298.5h25M752.4 252.4h25M752.4 299.1h25M756.6 252.4h25M756.6 299.6h25M760.8 252.4h25M760.8 300.2h25M764.8 252.4h25M764.8 301.5h25M768.9 252.4h25M768.9 302.7h25M772.8 252.4h25M772.8 303.8h25M776.7 253.7h25M776.7 305.0h25M780.5 255.4h25M780.5 306.2h25M784.3 257.2h25M784.3 307.3h25M788.1 259.8h25M788.1 308.4h25M791.8 262.5h25M791.8 309.5h25M795.4 265.2h25M795.4 310.6h25M799.0 267.2h25M799.0 311.7h25M802.5 268.7h25M802.5 313.3h25M806.0 270.2h25M806.0 315.1h25M809.5 271.6h25M809.5 316.9h25M812.9 273.0h25M812.9 318.7h25M816.3 274.4h25M816.3 320.5h25M819.6 275.8h25M819.6 322.2h25M822.9 277.3h25M822.9 323.9h25M826.1 278.8h25M826.1 325.6h25M829.3 280.3h25M829.3 327.3h25M832.5 281.8h25M832.5 328.9h25M835.6 283.2h25M835.6 330.5h25M838.7 284.7h25M838.7 332.1h25M841.8 286.1h25M841.8 333.7h25M844.8 287.5h25M844.8 335.3h25M847.8 288.9h25M847.8 336.9h25M850.8 291.2h25M850.8 338.4h25M853.7 294.1h25M853.7 340.0h25M856.6 297.0h25M856.6 341.6h25M859.5 299.8h25M859.5 343.1h25M862.4 302.7h25M862.4 344.7h25M865.2 305.1h25M865.2 346.2h25M868.0 306.5h25M868.0 347.7h25M870.7 307.9h25M870.7 349.2h25M873.4 309.2h25M873.4 350.7h25M876.1 310.9h25M876.1 352.1h25M878.8 313.1h25M878.8 353.6h25M881.5 315.2h25M881.5 355.0h25M884.1 317.3h25M884.1 356.4h25M886.7 319.4h25M886.7 357.8h25M889.3 321.4h25M889.3 359.2h25M891.8 323.5h25M891.8 360.6h25M894.3 325.5h25M894.3 361.9h25M896.9 327.5h25M896.9 363.3h25M899.3 329.5h25M899.3 364.6h25M901.8 331.5h25M901.8 366.3h25M904.2 333.4h25M904.2 368.1h25M906.6 335.4h25M906.6 369.9h25M909.0 337.3h25M909.0 371.7h25M911.4 339.2h25M911.4 373.4h25M913.8 341.1h25M913.8 375.2h25M916.1 342.5h25M916.1 376.9h25M918.4 343.7h25M918.4 378.6h25M920.7 344.9h25M920.7 380.3h25M923.0 346.1h25M923.0 382.0h25M925.2 347.2h25M925.2 383.7h25M927.5 348.4h25M927.5 385.3h25M929.7 349.6h25M929.7 387.0h25M931.9 350.7h25M931.9 388.6h25M934.1 351.8h25M934.1 390.2h25M936.2 353.0h25M936.2 391.8h25M938.4 354.1h25M938.4 393.4h25M940.5 355.2h25M940.5 395.0h25M942.6 356.3h25M942.6 396.6h25M944.7 357.8h25M944.7 398.1h25M946.8 359.4h25M946.8 399.6h25M948.9 361.1h25M948.9 401.2h25M950.9 362.7h25M950.9 402.7h25M953.0 364.4h25M953.0 404.3h25M955.0 366.0h25M955.0 405.8h25M957.0 367.6h25M957.0 407.3h25M959.0 369.2h25M959.0 408.8h25M961.0 370.7h25M961.0 410.3h25M962.9 372.4h25M962.9 411.8h25M964.9 374.0h25M964.9 413.3h25M966.8 375.6h25M966.8 414.8h25M968.8 377.2h25M968.8 416.3h25M970.7 378.7h25M970.7 417.7h25M972.6 380.3h25M972.6 419.1h25M974.4 381.8h25M974.4 420.6h25M976.3 383.5h25M976.3 422.0h25M978.2 385.2h25M978.2 423.4h25M980.0 386.8h25M980.0 424.8h25M981.8 388.5h25M981.8 426.2h25M983.7 390.1h25M983.7 427.6h25M985.5 391.7h25M985.5 429.0h25M987.3 393.4h25M987.3 430.3h25M989.1 395.0h25M989.1 431.7h25M990.8 396.6h25M990.8 433.0h25M992.6 398.2h25M992.6 434.4h25M994.3 399.7h25M994.3 435.7h25M996.1 401.3h25M996.1 437.0h25M997.8 402.9h25M997.8 438.3h25M999.5 404.4h25M999.5 439.6h25M1001.2 406.0h25M1001.2 441.2h25M1002.9 407.5h25M1002.9 442.9h25M1004.6 409.0h25M1004.6 444.6h25M1006.3 410.5h25M1006.3 446.3h25M1007.9 412.0h25M1007.9 447.9h25M1009.6 413.5h25M1009.6 449.6h25M1011.2 415.0h25M1011.2 451.2h25M1012.9 416.5h25M1012.9 452.9h25M1014.5 417.9h25M1014.5 454.5h25M1016.1 419.4h25M1016.1 456.1h25M1017.7 420.8h25M1017.7 457.7h25M1019.3 422.3h25M1019.3 459.3h25M1020.9 423.7h25M1020.9 460.9h25M1022.5 425.1h25M1022.5 462.5h25M1024.1 426.6h25M1024.1 464.1h25M1025.6 428.1h25M1025.6 465.6h25M1027.2 429.8h25M1027.2 467.2h25M1028.7 431.5h25M1028.7 468.7h25M1030.2 433.2h25M1030.2 470.2h25M1031.8 434.9h25M1031.8 471.8h25M1033.3 436.6h25M1033.3 473.3h25M1034.8 438.3h25M1034.8 474.8h25M1036.3 439.9h25M1036.3 476.3h25M1037.8 441.6h25M1037.8 477.8h25M1039.3 443.2h25M1039.3 479.3h25M1040.8 444.9h25M1040.8 480.8h25M1042.2 446.5h25M1042.2 482.2h25M1043.7 448.1h25M1043.7 483.7h25M1045.1 449.7h25M1045.1 485.1h25M1046.6 451.3h25M1046.6 486.6h25M1048.0 452.9h25M1048.0 488.0h25M1049.4 454.5h25M1049.4 489.4h25M1050.9 456.1h25M1050.9 490.9h25M1052.3 457.6h25M1052.3 492.3h25M1053.7 459.3h25M1053.7 493.7h25M1055.1 461.4h25M1055.1 495.1h25M1056.5 463.6h25M1056.5 496.5h25M1057.9 465.7h25M1057.9 497.9h25M1059.2 467.8h25M1059.2 499.2h25M1060.6 469.9h25M1060.6 500.6h25M1062.0 472.0h25M1062.0 502.0h25M1063.3 474.1h25M1063.3 503.3h25M1064.7 476.1h25M1064.7 500.0h25M1066.0 478.2h25M1066.0 501.7h25M1067.4 480.3h25M1067.4 503.5h25M1068.7 482.3h25M1068.7 505.2h25M1070.0 484.3h25M1070.0 506.8h25M1071.4 486.3h25M1071.4 508.5h25M1072.7 488.4h25M1072.7 510.1h25M1074.0 490.4h25M1074.0 511.7h25M1075.3 492.4h25M1075.3 513.3h25M1076.6 494.3h25M1076.6 514.8h25M1077.9 495.7h25M1077.9 516.3h25M1079.1 496.8h25M1079.1 517.8h25M1080.4 497.9h25M1080.4 519.2h25M1081.7 499.0h25M1081.7 520.6h25M1082.9 500.1h25M1082.9 521.9h25M1084.2 501.2h25M1084.2 523.2h25M1085.5 502.3h25M1085.5 524.4h25M1086.7 503.3h25M1086.7 525.6h25M1087.9 504.4h25M1087.9 526.8h25M1089.2 505.5h25M1089.2 527.9h25M1090.4 506.5h25M1090.4 529.0h25M1091.6 507.6h25M1091.6 530.1h25M1092.9 508.6h25M1092.9 531.3h25M1094.1 509.7h25M1094.1 532.4h25M1095.3 510.7h25M1095.3 533.4h25M1096.5 511.8h25M1096.5 534.5h25M1097.7 512.8h25M1097.7 535.6h25M1098.9 513.8h25M1098.9 536.6h25M1100.1 514.8h25M1100.1 537.6h25M1101.2 515.8h25M1101.2 538.6h25M1102.4 516.9h25M1102.4 539.6h25M1103.6 517.9h25M1103.6 540.5h25M1104.8 518.9h25M1104.8 541.4h25M1105.9 519.9h25M1105.9 542.3h25M1107.1 520.8h25M1107.1 543.1h25M1108.2 520.8h25M1108.2 544.0h25M1109.4 520.8h25M1109.4 544.8h25M1110.5 520.8h25M1110.5 545.5h25M1111.7 520.8h25M1111.7 546.2h25M1112.8 520.8h25M1112.8 546.9h25M1113.9 520.8h25M1113.9 547.6h25M1115.0 520.8h25M1115.0 548.2h25M1116.2 520.8h25M1116.2 548.7h25M1117.3 520.8h25M1117.3 549.2h25M1118.4 520.8h25M1118.4 549.7h25M1119.5 520.8h25M1119.5 550.3h25M1120.6 520.8h25M1120.6 550.8h25M1121.7 520.8h25M1121.7 551.3h25M1122.8 520.8h25M1122.8 551.8h25M1123.9 520.8h25M1123.9 552.2h25M1124.9 520.8h25M1124.9 552.7h25M1126.0 520.8h25M1126.0 553.1h25M1127.1 520.8h25M1127.1 553.4h25M1128.2 520.8h25M1128.2 553.7h25M1129.2 520.8h25M1129.2 554.0h25M1130.3 520.8h25M1130.3 558.9h25M1131.4 520.8h25M1131.4 559.6h25M1132.4 520.8h25M1132.4 560.3h25M1133.5 520.8h25M1133.5 560.9h25M1134.5 520.8h25M1134.5 561.6h25M1135.6 520.8h25M1135.6 562.2h25M1136.6 520.8h25M1136.6 562.9h25M1137.6 520.8h25M1137.6 563.5h25M1138.7 520.8h25M1138.7 564.2h25M1139.7 520.8h25M1139.7 564.8h25M1140.7 520.8h25M1140.7 565.2h25M1141.7 520.8h25M1141.7 565.5h25M1142.7 520.8h25M1142.7 565.9h25M1143.8 520.8h25M1143.8 566.2h25M1144.8 520.8h25M1144.8 566.5h25M1145.8 520.8h25M1145.8 566.8h25M1146.8 525.2h25M1146.8 567.1h25M1147.8 522.7h25M1147.8 567.4h25M1148.8 520.1h25M1148.8 567.7h25M1149.7 517.6h25M1149.7 568.0h25M1150.7 515.2h25M1150.7 568.4h25M1151.7 512.8h25M1151.7 568.7h25M1152.7 510.3h25M1152.7 569.0h25M1153.7 507.8h25M1153.7 569.3h25M1154.6 505.3h25M1154.6 569.6h25M1155.6 502.9h25M1155.6 569.9h25M1156.6 500.7h25M1156.6 570.2h25M1157.5 498.7h25M1157.5 570.5h25M1158.5 496.8h25M1158.5 570.8h25M1159.4 495.0h25M1159.4 571.1h25M1160.4 493.2h25M1160.4 571.4h25M1161.3 458.0h25M1161.3 600.0h25M1162.3 450.0h25M1162.3 610.0h25M1163.2 440.0h25M1163.2 620.0h25M1164.2 431.0h25M1164.2 630.0h25M1165.1 420.0h25M1165.1 640.0h25M1166.0 410.0h25M1166.0 735.0h25M1167.0 371.0h25M1167.0 740.0h25M1167.9 330.0h25M1167.9 745.0h25M1168.8 222.0h25M1168.8 750.0h25M1169.7 84.0h25M1169.7 760.0h25" stroke="#8a8a8a" stroke-width="3.5" fill="none"/>
<path d="M340.0 237.9 L343.5 238.0 L347.0 238.1 L350.6 238.2 L354.1 238.2 L357.6 238.3 L361.1 238.4 L364.7 238.5 L368.2 238.5 L371.7 238.6 L375.2 238.7 L378.8 238.8 L382.3 238.8 L385.8 238.9 L389.3 239.0 L392.8 239.1 L396.4 239.1 L399.9 239.2 L403.4 239.3 L406.9 239.4 L410.5 239.5 L414.0 239.5 L417.5 239.6 L421.0 239.7 L424.6 239.8 L428.1 239.9 L431.6 240.0 L435.1 240.1 L438.6 240.2 L442.2 240.2 L445.7 240.3 L449.2 240.4 L452.7 240.5 L456.3 240.7 L459.8 240.8 L463.3 240.9 L466.8 241.0 L470.4 241.1 L473.9 241.2 L477.4 241.4 L480.9 241.5 L484.4 241.6 L488.0 241.8 L491.5 241.9 L495.0 242.1 L498.5 242.2 L502.1 242.4 L505.6 242.5 L509.1 242.7 L512.6 242.9 L516.2 243.0 L519.7 243.2 L523.2 243.4 L526.7 243.6 L530.2 243.8 L533.8 244.0 L537.3 244.2 L540.8 244.4 L544.3 244.7 L547.9 244.9 L551.4 245.1 L554.9 245.4 L558.4 245.6 L561.9 245.9 L565.5 246.1 L569.0 246.4 L572.5 246.7 L576.0 247.0 L579.6 247.3 L583.1 247.6 L586.6 247.9 L590.1 248.2 L593.7 248.5 L597.2 248.9 L600.7 249.2 L604.2 249.6 L607.7 249.9 L611.3 250.3 L614.8 250.7 L618.3 251.1 L621.8 251.5 L625.4 251.9 L628.9 252.3 L632.4 252.7 L635.9 253.2 L639.5 253.6 L643.0 254.1 L646.5 254.6 L650.0 255.0 L653.5 255.5 L657.1 256.0 L660.6 256.5 L664.1 257.1 L667.6 257.6 L671.2 258.2 L674.7 258.7 L678.2 259.3 L681.7 259.9 L685.3 260.5 L688.8 261.1 L692.3 261.7 L695.8 262.3 L699.3 263.0 L702.9 263.6 L706.4 264.3 L709.9 265.0 L713.4 265.7 L717.0 266.4 L720.5 267.1 L724.0 267.8 L727.5 268.6 L731.1 269.3 L734.6 270.1 L738.1 270.9 L741.6 271.7 L745.1 272.5 L748.7 273.4 L752.2 274.3 L755.7 275.2 L759.2 276.1 L762.8 277.0 L766.3 278.0 L769.8 279.0 L773.3 280.0 L776.9 281.1 L780.4 282.2 L783.9 283.3 L787.4 284.4 L790.9 285.6 L794.5 286.9 L798.0 288.2 L801.5 289.5 L805.0 290.9 L808.6 292.3 L812.1 293.7 L815.6 295.2 L819.1 296.8 L822.7 298.4 L826.2 300.0 L829.7 301.8 L833.2 303.5 L836.7 305.3 L840.3 307.2 L843.8 309.1 L847.3 311.1 L850.8 313.1 L854.4 315.1 L857.9 317.2 L861.4 319.3 L864.9 321.4 L868.5 323.6 L872.0 325.7 L875.5 327.9 L879.0 330.0 L882.5 332.2 L886.1 334.5 L889.6 336.7 L893.1 339.0 L896.6 341.3 L900.2 343.6 L903.7 346.0 L907.2 348.4 L910.7 350.9 L914.3 353.3 L917.8 355.8 L921.3 358.2 L924.8 360.6 L928.3 363.1 L931.9 365.6 L935.4 368.2 L938.9 370.9 L942.4 373.6 L946.0 376.4 L949.5 379.4 L953.0 382.4 L956.5 385.6 L960.1 388.9 L963.6 392.4 L967.1 395.9 L970.6 399.5 L974.1 403.2 L977.7 406.9 L981.2 410.7 L984.7 414.6 L988.2 418.5 L991.8 422.5 L995.3 426.5 L998.8 430.6 L1002.3 434.7 L1005.8 438.8 L1009.4 443.0 L1012.9 447.1 L1016.4 451.3 L1019.9 455.5 L1023.5 459.7 L1027.0 463.9 L1030.5 468.2 L1034.0 472.4 L1037.6 476.7 L1041.1 481.0 L1044.6 485.3 L1048.1 489.7 L1051.6 494.1 L1055.2 498.5 L1058.7 503.0 L1062.2 507.6 L1065.7 512.1 L1069.3 516.8 L1072.8 521.5 L1076.3 526.2 L1079.8 531.0 L1083.4 535.9 L1086.9 540.9 L1090.4 545.9 L1093.9 551.0 L1097.4 556.2 L1101.0 561.5 L1104.5 566.8 L1108.0 572.2 L1111.5 577.7 L1115.1 583.3 L1118.6 588.9 L1122.1 594.6 L1125.6 600.2 L1129.2 606.0 L1132.7 611.7 L1136.2 617.5 L1139.7 623.2 L1143.2 629.0 L1146.8 634.7 L1150.3 640.5 L1153.8 646.2 L1157.3 651.8 L1160.9 657.5 L1164.4 663.1 L1167.9 668.6 L1171.4 674.1 L1175.0 679.5 L1178.5 684.8 L1182.0 690.0" stroke="#000" stroke-width="12.5" fill="none" stroke-linejoin="round"/>
<path d="M327.6 297.9a11.6 11.6 0 1 0 23.2 0a11.6 11.6 0 1 0 -23.2 0M347.0 300.1a11.6 11.6 0 1 0 23.2 0a11.6 11.6 0 1 0 -23.2 0M365.1 302.0a11.6 11.6 0 1 0 23.2 0a11.6 11.6 0 1 0 -23.2 0M382.1 303.5a11.6 11.6 0 1 0 23.2 0a11.6 11.6 0 1 0 -23.2 0M398.1 304.7a11.6 11.6 0 1 0 23.2 0a11.6 11.6 0 1 0 -23.2 0M413.2 305.8a11.6 11.6 0 1 0 23.2 0a11.6 11.6 0 1 0 -23.2 0M427.5 306.8a11.6 11.6 0 1 0 23.2 0a11.6 11.6 0 1 0 -23.2 0M441.1 307.6a11.6 11.6 0 1 0 23.2 0a11.6 11.6 0 1 0 -23.2 0M454.0 308.3a11.6 11.6 0 1 0 23.2 0a11.6 11.6 0 1 0 -23.2 0M466.4 308.9a11.6 11.6 0 1 0 23.2 0a11.6 11.6 0 1 0 -23.2 0M478.2 309.4a11.6 11.6 0 1 0 23.2 0a11.6 11.6 0 1 0 -23.2 0M489.6 309.8a11.6 11.6 0 1 0 23.2 0a11.6 11.6 0 1 0 -23.2 0M500.5 310.2a11.6 11.6 0 1 0 23.2 0a11.6 11.6 0 1 0 -23.2 0M510.9 310.5a11.6 11.6 0 1 0 23.2 0a11.6 11.6 0 1 0 -23.2 0M521.0 310.8a11.6 11.6 0 1 0 23.2 0a11.6 11.6 0 1 0 -23.2 0M530.7 311.2a11.6 11.6 0 1 0 23.2 0a11.6 11.6 0 1 0 -23.2 0M540.1 311.6a11.6 11.6 0 1 0 23.2 0a11.6 11.6 0 1 0 -23.2 0M549.2 312.0a11.6 11.6 0 1 0 23.2 0a11.6 11.6 0 1 0 -23.2 0M558.0 312.6a11.6 11.6 0 1 0 23.2 0a11.6 11.6 0 1 0 -23.2 0M566.5 313.3a11.6 11.6 0 1 0 23.2 0a11.6 11.6 0 1 0 -23.2 0M574.7 314.1a11.6 11.6 0 1 0 23.2 0a11.6 11.6 0 1 0 -23.2 0M582.8 314.9a11.6 11.6 0 1 0 23.2 0a11.6 11.6 0 1 0 -23.2 0M590.5 315.7a11.6 11.6 0 1 0 23.2 0a11.6 11.6 0 1 0 -23.2 0M598.1 316.5a11.6 11.6 0 1 0 23.2 0a11.6 11.6 0 1 0 -23.2 0M605.5 317.3a11.6 11.6 0 1 0 23.2 0a11.6 11.6 0 1 0 -23.2 0M612.6 318.1a11.6 11.6 0 1 0 23.2 0a11.6 11.6 0 1 0 -23.2 0M619.6 318.9a11.6 11.6 0 1 0 23.2 0a11.6 11.6 0 1 0 -23.2 0M626.5 319.7a11.6 11.6 0 1 0 23.2 0a11.6 11.6 0 1 0 -23.2 0M633.1 320.5a11.6 11.6 0 1 0 23.2 0a11.6 11.6 0 1 0 -23.2 0M639.6 321.3a11.6 11.6 0 1 0 23.2 0a11.6 11.6 0 1 0 -23.2 0M645.9 322.1a11.6 11.6 0 1 0 23.2 0a11.6 11.6 0 1 0 -23.2 0M652.1 322.9a11.6 11.6 0 1 0 23.2 0a11.6 11.6 0 1 0 -23.2 0M658.2 323.7a11.6 11.6 0 1 0 23.2 0a11.6 11.6 0 1 0 -23.2 0M664.1 324.5a11.6 11.6 0 1 0 23.2 0a11.6 11.6 0 1 0 -23.2 0M669.9 325.3a11.6 11.6 0 1 0 23.2 0a11.6 11.6 0 1 0 -23.2 0M675.6 326.1a11.6 11.6 0 1 0 23.2 0a11.6 11.6 0 1 0 -23.2 0M681.2 326.9a11.6 11.6 0 1 0 23.2 0a11.6 11.6 0 1 0 -23.2 0M686.6 327.7a11.6 11.6 0 1 0 23.2 0a11.6 11.6 0 1 0 -23.2 0M692.0 328.5a11.6 11.6 0 1 0 23.2 0a11.6 11.6 0 1 0 -23.2 0M697.2 329.3a11.6 11.6 0 1 0 23.2 0a11.6 11.6 0 1 0 -23.2 0M702.3 330.1a11.6 11.6 0 1 0 23.2 0a11.6 11.6 0 1 0 -23.2 0M707.4 330.9a11.6 11.6 0 1 0 23.2 0a11.6 11.6 0 1 0 -23.2 0M712.3 331.7a11.6 11.6 0 1 0 23.2 0a11.6 11.6 0 1 0 -23.2 0M717.2 332.5a11.6 11.6 0 1 0 23.2 0a11.6 11.6 0 1 0 -23.2 0M722.0 333.3a11.6 11.6 0 1 0 23.2 0a11.6 11.6 0 1 0 -23.2 0M726.7 334.1a11.6 11.6 0 1 0 23.2 0a11.6 11.6 0 1 0 -23.2 0M731.3 334.9a11.6 11.6 0 1 0 23.2 0a11.6 11.6 0 1 0 -23.2 0M735.9 335.7a11.6 11.6 0 1 0 23.2 0a11.6 11.6 0 1 0 -23.2 0M740.3 336.5a11.6 11.6 0 1 0 23.2 0a11.6 11.6 0 1 0 -23.2 0M744.7 337.3a11.6 11.6 0 1 0 23.2 0a11.6 11.6 0 1 0 -23.2 0M749.1 338.1a11.6 11.6 0 1 0 23.2 0a11.6 11.6 0 1 0 -23.2 0M753.3 338.9a11.6 11.6 0 1 0 23.2 0a11.6 11.6 0 1 0 -23.2 0M757.5 339.6a11.6 11.6 0 1 0 23.2 0a11.6 11.6 0 1 0 -23.2 0M761.7 340.4a11.6 11.6 0 1 0 23.2 0a11.6 11.6 0 1 0 -23.2 0M765.7 341.1a11.6 11.6 0 1 0 23.2 0a11.6 11.6 0 1 0 -23.2 0M769.8 341.9a11.6 11.6 0 1 0 23.2 0a11.6 11.6 0 1 0 -23.2 0M773.7 342.6a11.6 11.6 0 1 0 23.2 0a11.6 11.6 0 1 0 -23.2 0M777.6 343.4a11.6 11.6 0 1 0 23.2 0a11.6 11.6 0 1 0 -23.2 0M781.4 344.3a11.6 11.6 0 1 0 23.2 0a11.6 11.6 0 1 0 -23.2 0M785.2 345.2a11.6 11.6 0 1 0 23.2 0a11.6 11.6 0 1 0 -23.2 0M789.0 346.2a11.6 11.6 0 1 0 23.2 0a11.6 11.6 0 1 0 -23.2 0M792.7 347.2a11.6 11.6 0 1 0 23.2 0a11.6 11.6 0 1 0 -23.2 0M796.3 348.4a11.6 11.6 0 1 0 23.2 0a11.6 11.6 0 1 0 -23.2 0M799.9 349.6a11.6 11.6 0 1 0 23.2 0a11.6 11.6 0 1 0 -23.2 0M803.4 350.9a11.6 11.6 0 1 0 23.2 0a11.6 11.6 0 1 0 -23.2 0M806.9 352.3a11.6 11.6 0 1 0 23.2 0a11.6 11.6 0 1 0 -23.2 0M810.4 353.7a11.6 11.6 0 1 0 23.2 0a11.6 11.6 0 1 0 -23.2 0M813.8 355.1a11.6 11.6 0 1 0 23.2 0a11.6 11.6 0 1 0 -23.2 0M817.2 356.5a11.6 11.6 0 1 0 23.2 0a11.6 11.6 0 1 0 -23.2 0M820.5 358.0a11.6 11.6 0 1 0 23.2 0a11.6 11.6 0 1 0 -23.2 0M823.8 359.5a11.6 11.6 0 1 0 23.2 0a11.6 11.6 0 1 0 -23.2 0M827.0 360.9a11.6 11.6 0 1 0 23.2 0a11.6 11.6 0 1 0 -23.2 0M830.2 362.4a11.6 11.6 0 1 0 23.2 0a11.6 11.6 0 1 0 -23.2 0M833.4 363.8a11.6 11.6 0 1 0 23.2 0a11.6 11.6 0 1 0 -23.2 0M836.5 365.2a11.6 11.6 0 1 0 23.2 0a11.6 11.6 0 1 0 -23.2 0M839.6 366.5a11.6 11.6 0 1 0 23.2 0a11.6 11.6 0 1 0 -23.2 0M842.7 367.9a11.6 11.6 0 1 0 23.2 0a11.6 11.6 0 1 0 -23.2 0M845.7 369.2a11.6 11.6 0 1 0 23.2 0a11.6 11.6 0 1 0 -23.2 0M848.7 370.5a11.6 11.6 0 1 0 23.2 0a11.6 11.6 0 1 0 -23.2 0M851.7 371.8a11.6 11.6 0 1 0 23.2 0a11.6 11.6 0 1 0 -23.2 0M854.6 373.2a11.6 11.6 0 1 0 23.2 0a11.6 11.6 0 1 0 -23.2 0M857.5 374.5a11.6 11.6 0 1 0 23.2 0a11.6 11.6 0 1 0 -23.2 0M860.4 375.8a11.6 11.6 0 1 0 23.2 0a11.6 11.6 0 1 0 -23.2 0M863.3 377.1a11.6 11.6 0 1 0 23.2 0a11.6 11.6 0 1 0 -23.2 0M866.1 378.4a11.6 11.6 0 1 0 23.2 0a11.6 11.6 0 1 0 -23.2 0M868.9 379.8a11.6 11.6 0 1 0 23.2 0a11.6 11.6 0 1 0 -23.2 0M871.6 381.1a11.6 11.6 0 1 0 23.2 0a11.6 11.6 0 1 0 -23.2 0M874.3 382.5a11.6 11.6 0 1 0 23.2 0a11.6 11.6 0 1 0 -23.2 0M877.0 383.9a11.6 11.6 0 1 0 23.2 0a11.6 11.6 0 1 0 -23.2 0M879.7 385.2a11.6 11.6 0 1 0 23.2 0a11.6 11.6 0 1 0 -23.2 0M882.4 386.7a11.6 11.6 0 1 0 23.2 0a11.6 11.6 0 1 0 -23.2 0M885.0 388.1a11.6 11.6 0 1 0 23.2 0a11.6 11.6 0 1 0 -23.2 0M887.6 389.5a11.6 11.6 0 1 0 23.2 0a11.6 11.6 0 1 0 -23.2 0M890.2 391.0a11.6 11.6 0 1 0 23.2 0a11.6 11.6 0 1 0 -23.2 0M892.7 392.5a11.6 11.6 0 1 0 23.2 0a11.6 11.6 0 1 0 -23.2 0M895.2 394.1a11.6 11.6 0 1 0 23.2 0a11.6 11.6 0 1 0 -23.2 0M897.8 395.7a11.6 11.6 0 1 0 23.2 0a11.6 11.6 0 1 0 -23.2 0M900.2 397.3a11.6 11.6 0 1 0 23.2 0a11.6 11.6 0 1 0 -23.2 0M902.7 398.9a11.6 11.6 0 1 0 23.2 0a11.6 11.6 0 1 0 -23.2 0M905.1 400.6a11.6 11.6 0 1 0 23.2 0a11.6 11.6 0 1 0 -23.2 0M907.5 402.2a11.6 11.6 0 1 0 23.2 0a11.6 11.6 0 1 0 -23.2 0M909.9 403.9a11.6 11.6 0 1 0 23.2 0a11.6 11.6 0 1 0 -23.2 0M912.3 405.6a11.6 11.6 0 1 0 23.2 0a11.6 11.6 0 1 0 -23.2 0M914.7 407.3a11.6 11.6 0 1 0 23.2 0a11.6 11.6 0 1 0 -23.2 0M917.0 409.0a11.6 11.6 0 1 0 23.2 0a11.6 11.6 0 1 0 -23.2 0M919.3 410.7a11.6 11.6 0 1 0 23.2 0a11.6 11.6 0 1 0 -23.2 0M921.6 412.4a11.6 11.6 0 1 0 23.2 0a11.6 11.6 0 1 0 -23.2 0M923.9 414.1a11.6 11.6 0 1 0 23.2 0a11.6 11.6 0 1 0 -23.2 0M926.1 415.8a11.6 11.6 0 1 0 23.2 0a11.6 11.6 0 1 0 -23.2 0M928.4 417.5a11.6 11.6 0 1 0 23.2 0a11.6 11.6 0 1 0 -23.2 0M930.6 419.1a11.6 11.6 0 1 0 23.2 0a11.6 11.6 0 1 0 -23.2 0M932.8 420.8a11.6 11.6 0 1 0 23.2 0a11.6 11.6 0 1 0 -23.2 0M935.0 422.4a11.6 11.6 0 1 0 23.2 0a11.6 11.6 0 1 0 -23.2 0M937.1 424.1a11.6 11.6 0 1 0 23.2 0a11.6 11.6 0 1 0 -23.2 0M939.3 425.7a11.6 11.6 0 1 0 23.2 0a11.6 11.6 0 1 0 -23.2 0M941.4 427.3a11.6 11.6 0 1 0 23.2 0a11.6 11.6 0 1 0 -23.2 0M943.5 428.8a11.6 11.6 0 1 0 23.2 0a11.6 11.6 0 1 0 -23.2 0M945.6 430.4a11.6 11.6 0 1 0 23.2 0a11.6 11.6 0 1 0 -23.2 0M947.7 432.0a11.6 11.6 0 1 0 23.2 0a11.6 11.6 0 1 0 -23.2 0M949.8 433.5a11.6 11.6 0 1 0 23.2 0a11.6 11.6 0 1 0 -23.2 0M951.8 435.0a11.6 11.6 0 1 0 23.2 0a11.6 11.6 0 1 0 -23.2 0M953.9 436.6a11.6 11.6 0 1 0 23.2 0a11.6 11.6 0 1 0 -23.2 0M955.9 438.1a11.6 11.6 0 1 0 23.2 0a11.6 11.6 0 1 0 -23.2 0M957.9 439.6a11.6 11.6 0 1 0 23.2 0a11.6 11.6 0 1 0 -23.2 0M959.9 441.2a11.6 11.6 0 1 0 23.2 0a11.6 11.6 0 1 0 -23.2 0M961.9 442.7a11.6 11.6 0 1 0 23.2 0a11.6 11.6 0 1 0 -23.2 0M963.8 444.2a11.6 11.6 0 1 0 23.2 0a11.6 11.6 0 1 0 -23.2 0M965.8 445.8a11.6 11.6 0 1 0 23.2 0a11.6 11.6 0 1 0 -23.2 0M967.7 447.3a11.6 11.6 0 1 0 23.2 0a11.6 11.6 0 1 0 -23.2 0M969.7 448.8a11.6 11.6 0 1 0 23.2 0a11.6 11.6 0 1 0 -23.2 0M971.6 450.4a11.6 11.6 0 1 0 23.2 0a11.6 11.6 0 1 0 -23.2 0M973.5 452.0a11.6 11.6 0 1 0 23.2 0a11.6 11.6 0 1 0 -23.2 0M975.3 453.5a11.6 11.6 0 1 0 23.2 0a11.6 11.6 0 1 0 -23.2 0M977.2 455.1a11.6 11.6 0 1 0 23.2 0a11.6 11.6 0 1 0 -23.2 0M979.1 456.7a11.6 11.6 0 1 0 23.2 0a11.6 11.6 0 1 0 -23.2 0M980.9 458.3a11.6 11.6 0 1 0 23.2 0a11.6 11.6 0 1 0 -23.2 0M982.7 459.9a11.6 11.6 0 1 0 23.2 0a11.6 11.6 0 1 0 -23.2 0M984.6 461.5a11.6 11.6 0 1 0 23.2 0a11.6 11.6 0 1 0 -23.2 0M986.4 463.1a11.6 11.6 0 1 0 23.2 0a11.6 11.6 0 1 0 -23.2 0M988.2 464.8a11.6 11.6 0 1 0 23.2 0a11.6 11.6 0 1 0 -23.2 0M990.0 466.5a11.6 11.6 0 1 0 23.2 0a11.6 11.6 0 1 0 -23.2 0M991.7 468.1a11.6 11.6 0 1 0 23.2 0a11.6 11.6 0 1 0 -23.2 0M993.5 469.8a11.6 11.6 0 1 0 23.2 0a11.6 11.6 0 1 0 -23.2 0M995.2 471.6a11.6 11.6 0 1 0 23.2 0a11.6 11.6 0 1 0 -23.2 0M997.0 473.3a11.6 11.6 0 1 0 23.2 0a11.6 11.6 0 1 0 -23.2 0M998.7 475.1a11.6 11.6 0 1 0 23.2 0a11.6 11.6 0 1 0 -23.2 0M1000.4 476.8a11.6 11.6 0 1 0 23.2 0a11.6 11.6 0 1 0 -23.2 0M1002.1 478.6a11.6 11.6 0 1 0 23.2 0a11.6 11.6 0 1 0 -23.2 0M1003.8 480.4a11.6 11.6 0 1 0 23.2 0a11.6 11.6 0 1 0 -23.2 0M1005.5 482.2a11.6 11.6 0 1 0 23.2 0a11.6 11.6 0 1 0 -23.2 0M1007.2 484.0a11.6 11.6 0 1 0 23.2 0a11.6 11.6 0 1 0 -23.2 0M1008.8 485.8a11.6 11.6 0 1 0 23.2 0a11.6 11.6 0 1 0 -23.2 0M1010.5 487.6a11.6 11.6 0 1 0 23.2 0a11.6 11.6 0 1 0 -23.2 0M1012.1 489.4a11.6 11.6 0 1 0 23.2 0a11.6 11.6 0 1 0 -23.2 0M1013.8 491.3a11.6 11.6 0 1 0 23.2 0a11.6 11.6 0 1 0 -23.2 0M1015.4 493.1a11.6 11.6 0 1 0 23.2 0a11.6 11.6 0 1 0 -23.2 0M1017.0 494.9a11.6 11.6 0 1 0 23.2 0a11.6 11.6 0 1 0 -23.2 0M1018.6 496.8a11.6 11.6 0 1 0 23.2 0a11.6 11.6 0 1 0 -23.2 0M1020.2 498.6a11.6 11.6 0 1 0 23.2 0a11.6 11.6 0 1 0 -23.2 0M1021.8 500.4a11.6 11.6 0 1 0 23.2 0a11.6 11.6 0 1 0 -23.2 0M1023.4 502.3a11.6 11.6 0 1 0 23.2 0a11.6 11.6 0 1 0 -23.2 0M1025.0 504.1a11.6 11.6 0 1 0 23.2 0a11.6 11.6 0 1 0 -23.2 0M1026.5 505.9a11.6 11.6 0 1 0 23.2 0a11.6 11.6 0 1 0 -23.2 0M1028.1 507.7a11.6 11.6 0 1 0 23.2 0a11.6 11.6 0 1 0 -23.2 0M1029.6 509.6a11.6 11.6 0 1 0 23.2 0a11.6 11.6 0 1 0 -23.2 0M1031.1 511.4a11.6 11.6 0 1 0 23.2 0a11.6 11.6 0 1 0 -23.2 0M1032.7 513.2a11.6 11.6 0 1 0 23.2 0a11.6 11.6 0 1 0 -23.2 0M1034.2 515.0a11.6 11.6 0 1 0 23.2 0a11.6 11.6 0 1 0 -23.2 0M1035.7 516.8a11.6 11.6 0 1 0 23.2 0a11.6 11.6 0 1 0 -23.2 0M1037.2 518.6a11.6 11.6 0 1 0 23.2 0a11.6 11.6 0 1 0 -23.2 0M1038.7 520.3a11.6 11.6 0 1 0 23.2 0a11.6 11.6 0 1 0 -23.2 0M1040.2 522.1a11.6 11.6 0 1 0 23.2 0a11.6 11.6 0 1 0 -23.2 0M1041.7 523.9a11.6 11.6 0 1 0 23.2 0a11.6 11.6 0 1 0 -23.2 0M1043.1 525.7a11.6 11.6 0 1 0 23.2 0a11.6 11.6 0 1 0 -23.2 0M1044.6 527.4a11.6 11.6 0 1 0 23.2 0a11.6 11.6 0 1 0 -23.2 0M1046.0 529.2a11.6 11.6 0 1 0 23.2 0a11.6 11.6 0 1 0 -23.2 0M1047.5 530.9a11.6 11.6 0 1 0 23.2 0a11.6 11.6 0 1 0 -23.2 0M1048.9 532.7a11.6 11.6 0 1 0 23.2 0a11.6 11.6 0 1 0 -23.2 0M1050.3 534.4a11.6 11.6 0 1 0 23.2 0a11.6 11.6 0 1 0 -23.2 0M1051.8 536.2a11.6 11.6 0 1 0 23.2 0a11.6 11.6 0 1 0 -23.2 0M1053.2 538.0a11.6 11.6 0 1 0 23.2 0a11.6 11.6 0 1 0 -23.2 0M1054.6 539.7a11.6 11.6 0 1 0 23.2 0a11.6 11.6 0 1 0 -23.2 0M1056.0 541.5a11.6 11.6 0 1 0 23.2 0a11.6 11.6 0 1 0 -23.2 0M1057.4 543.2a11.6 11.6 0 1 0 23.2 0a11.6 11.6 0 1 0 -23.2 0M1058.8 545.0a11.6 11.6 0 1 0 23.2 0a11.6 11.6 0 1 0 -23.2 0M1060.1 546.7a11.6 11.6 0 1 0 23.2 0a11.6 11.6 0 1 0 -23.2 0M1061.5 548.5a11.6 11.6 0 1 0 23.2 0a11.6 11.6 0 1 0 -23.2 0M1062.9 550.2a11.6 11.6 0 1 0 23.2 0a11.6 11.6 0 1 0 -23.2 0M1064.2 552.0a11.6 11.6 0 1 0 23.2 0a11.6 11.6 0 1 0 -23.2 0M1065.6 553.7a11.6 11.6 0 1 0 23.2 0a11.6 11.6 0 1 0 -23.2 0M1066.9 555.5a11.6 11.6 0 1 0 23.2 0a11.6 11.6 0 1 0 -23.2 0M1068.3 557.2a11.6 11.6 0 1 0 23.2 0a11.6 11.6 0 1 0 -23.2 0M1069.6 559.0a11.6 11.6 0 1 0 23.2 0a11.6 11.6 0 1 0 -23.2 0M1070.9 560.8a11.6 11.6 0 1 0 23.2 0a11.6 11.6 0 1 0 -23.2 0M1072.3 562.5a11.6 11.6 0 1 0 23.2 0a11.6 11.6 0 1 0 -23.2 0M1073.6 564.3a11.6 11.6 0 1 0 23.2 0a11.6 11.6 0 1 0 -23.2 0M1074.9 566.0a11.6 11.6 0 1 0 23.2 0a11.6 11.6 0 1 0 -23.2 0M1076.2 567.8a11.6 11.6 0 1 0 23.2 0a11.6 11.6 0 1 0 -23.2 0M1077.5 569.6a11.6 11.6 0 1 0 23.2 0a11.6 11.6 0 1 0 -23.2 0M1078.8 571.4a11.6 11.6 0 1 0 23.2 0a11.6 11.6 0 1 0 -23.2 0M1080.0 573.1a11.6 11.6 0 1 0 23.2 0a11.6 11.6 0 1 0 -23.2 0M1081.3 574.9a11.6 11.6 0 1 0 23.2 0a11.6 11.6 0 1 0 -23.2 0M1082.6 576.7a11.6 11.6 0 1 0 23.2 0a11.6 11.6 0 1 0 -23.2 0M1083.8 578.5a11.6 11.6 0 1 0 23.2 0a11.6 11.6 0 1 0 -23.2 0M1085.1 580.3a11.6 11.6 0 1 0 23.2 0a11.6 11.6 0 1 0 -23.2 0M1086.4 582.1a11.6 11.6 0 1 0 23.2 0a11.6 11.6 0 1 0 -23.2 0M1087.6 583.8a11.6 11.6 0 1 0 23.2 0a11.6 11.6 0 1 0 -23.2 0M1088.8 585.6a11.6 11.6 0 1 0 23.2 0a11.6 11.6 0 1 0 -23.2 0M1090.1 587.5a11.6 11.6 0 1 0 23.2 0a11.6 11.6 0 1 0 -23.2 0M1091.3 589.3a11.6 11.6 0 1 0 23.2 0a11.6 11.6 0 1 0 -23.2 0M1092.5 591.2a11.6 11.6 0 1 0 23.2 0a11.6 11.6 0 1 0 -23.2 0M1093.8 593.0a11.6 11.6 0 1 0 23.2 0a11.6 11.6 0 1 0 -23.2 0M1095.0 594.9a11.6 11.6 0 1 0 23.2 0a11.6 11.6 0 1 0 -23.2 0M1096.2 596.8a11.6 11.6 0 1 0 23.2 0a11.6 11.6 0 1 0 -23.2 0M1097.4 598.8a11.6 11.6 0 1 0 23.2 0a11.6 11.6 0 1 0 -23.2 0M1098.6 600.7a11.6 11.6 0 1 0 23.2 0a11.6 11.6 0 1 0 -23.2 0M1099.8 602.6a11.6 11.6 0 1 0 23.2 0a11.6 11.6 0 1 0 -23.2 0M1101.0 604.6a11.6 11.6 0 1 0 23.2 0a11.6 11.6 0 1 0 -23.2 0M1102.1 606.5a11.6 11.6 0 1 0 23.2 0a11.6 11.6 0 1 0 -23.2 0M1103.3 608.5a11.6 11.6 0 1 0 23.2 0a11.6 11.6 0 1 0 -23.2 0M1104.5 610.4a11.6 11.6 0 1 0 23.2 0a11.6 11.6 0 1 0 -23.2 0M1105.7 612.4a11.6 11.6 0 1 0 23.2 0a11.6 11.6 0 1 0 -23.2 0M1106.8 614.3a11.6 11.6 0 1 0 23.2 0a11.6 11.6 0 1 0 -23.2 0M1108.0 616.3a11.6 11.6 0 1 0 23.2 0a11.6 11.6 0 1 0 -23.2 0M1109.1 618.2a11.6 11.6 0 1 0 23.2 0a11.6 11.6 0 1 0 -23.2 0M1110.3 620.1a11.6 11.6 0 1 0 23.2 0a11.6 11.6 0 1 0 -23.2 0M1111.4 622.1a11.6 11.6 0 1 0 23.2 0a11.6 11.6 0 1 0 -23.2 0M1112.6 624.0a11.6 11.6 0 1 0 23.2 0a11.6 11.6 0 1 0 -23.2 0M1113.7 625.9a11.6 11.6 0 1 0 23.2 0a11.6 11.6 0 1 0 -23.2 0M1114.8 627.8a11.6 11.6 0 1 0 23.2 0a11.6 11.6 0 1 0 -23.2 0M1115.9 629.7a11.6 11.6 0 1 0 23.2 0a11.6 11.6 0 1 0 -23.2 0M1117.1 631.6a11.6 11.6 0 1 0 23.2 0a11.6 11.6 0 1 0 -23.2 0M1118.2 633.4a11.6 11.6 0 1 0 23.2 0a11.6 11.6 0 1 0 -23.2 0M1119.3 635.3a11.6 11.6 0 1 0 23.2 0a11.6 11.6 0 1 0 -23.2 0M1120.4 637.1a11.6 11.6 0 1 0 23.2 0a11.6 11.6 0 1 0 -23.2 0M1121.5 638.9a11.6 11.6 0 1 0 23.2 0a11.6 11.6 0 1 0 -23.2 0M1122.6 640.7a11.6 11.6 0 1 0 23.2 0a11.6 11.6 0 1 0 -23.2 0M1123.7 642.5a11.6 11.6 0 1 0 23.2 0a11.6 11.6 0 1 0 -23.2 0M1124.8 644.3a11.6 11.6 0 1 0 23.2 0a11.6 11.6 0 1 0 -23.2 0M1125.8 646.0a11.6 11.6 0 1 0 23.2 0a11.6 11.6 0 1 0 -23.2 0M1126.9 647.7a11.6 11.6 0 1 0 23.2 0a11.6 11.6 0 1 0 -23.2 0M1128.0 649.4a11.6 11.6 0 1 0 23.2 0a11.6 11.6 0 1 0 -23.2 0M1129.1 651.0a11.6 11.6 0 1 0 23.2 0a11.6 11.6 0 1 0 -23.2 0M1130.1 652.7a11.6 11.6 0 1 0 23.2 0a11.6 11.6 0 1 0 -23.2 0M1131.2 654.3a11.6 11.6 0 1 0 23.2 0a11.6 11.6 0 1 0 -23.2 0M1132.3 655.9a11.6 11.6 0 1 0 23.2 0a11.6 11.6 0 1 0 -23.2 0M1133.3 657.4a11.6 11.6 0 1 0 23.2 0a11.6 11.6 0 1 0 -23.2 0M1134.4 659.0a11.6 11.6 0 1 0 23.2 0a11.6 11.6 0 1 0 -23.2 0M1135.4 660.5a11.6 11.6 0 1 0 23.2 0a11.6 11.6 0 1 0 -23.2 0M1136.5 662.0a11.6 11.6 0 1 0 23.2 0a11.6 11.6 0 1 0 -23.2 0M1137.5 663.5a11.6 11.6 0 1 0 23.2 0a11.6 11.6 0 1 0 -23.2 0M1138.5 665.0a11.6 11.6 0 1 0 23.2 0a11.6 11.6 0 1 0 -23.2 0M1139.6 666.6a11.6 11.6 0 1 0 23.2 0a11.6 11.6 0 1 0 -23.2 0M1140.6 668.1a11.6 11.6 0 1 0 23.2 0a11.6 11.6 0 1 0 -23.2 0M1141.6 669.6a11.6 11.6 0 1 0 23.2 0a11.6 11.6 0 1 0 -23.2 0M1142.6 671.1a11.6 11.6 0 1 0 23.2 0a11.6 11.6 0 1 0 -23.2 0M1143.6 672.6a11.6 11.6 0 1 0 23.2 0a11.6 11.6 0 1 0 -23.2 0M1144.7 674.1a11.6 11.6 0 1 0 23.2 0a11.6 11.6 0 1 0 -23.2 0M1145.7 675.7a11.6 11.6 0 1 0 23.2 0a11.6 11.6 0 1 0 -23.2 0M1146.7 677.2a11.6 11.6 0 1 0 23.2 0a11.6 11.6 0 1 0 -23.2 0M1147.7 678.8a11.6 11.6 0 1 0 23.2 0a11.6 11.6 0 1 0 -23.2 0M1148.7 680.4a11.6 11.6 0 1 0 23.2 0a11.6 11.6 0 1 0 -23.2 0M1149.7 682.0a11.6 11.6 0 1 0 23.2 0a11.6 11.6 0 1 0 -23.2 0M1150.6 683.6a11.6 11.6 0 1 0 23.2 0a11.6 11.6 0 1 0 -23.2 0M1151.6 685.3a11.6 11.6 0 1 0 23.2 0a11.6 11.6 0 1 0 -23.2 0M1152.6 686.9a11.6 11.6 0 1 0 23.2 0a11.6 11.6 0 1 0 -23.2 0M1153.6 688.5a11.6 11.6 0 1 0 23.2 0a11.6 11.6 0 1 0 -23.2 0M1154.6 690.1a11.6 11.6 0 1 0 23.2 0a11.6 11.6 0 1 0 -23.2 0M1155.5 691.8a11.6 11.6 0 1 0 23.2 0a11.6 11.6 0 1 0 -23.2 0M1156.5 693.4a11.6 11.6 0 1 0 23.2 0a11.6 11.6 0 1 0 -23.2 0M1157.5 695.1a11.6 11.6 0 1 0 23.2 0a11.6 11.6 0 1 0 -23.2 0M1158.4 696.7a11.6 11.6 0 1 0 23.2 0a11.6 11.6 0 1 0 -23.2 0M1159.4 698.4a11.6 11.6 0 1 0 23.2 0a11.6 11.6 0 1 0 -23.2 0M1160.3 700.0a11.6 11.6 0 1 0 23.2 0a11.6 11.6 0 1 0 -23.2 0M1161.3 701.7a11.6 11.6 0 1 0 23.2 0a11.6 11.6 0 1 0 -23.2 0M1162.2 703.4a11.6 11.6 0 1 0 23.2 0a11.6 11.6 0 1 0 -23.2 0M1163.2 705.0a11.6 11.6 0 1 0 23.2 0a11.6 11.6 0 1 0 -23.2 0M1164.1 680.0a11.6 11.6 0 1 0 23.2 0a11.6 11.6 0 1 0 -23.2 0M1165.1 700.0a11.6 11.6 0 1 0 23.2 0a11.6 11.6 0 1 0 -23.2 0M1166.0 740.0a11.6 11.6 0 1 0 23.2 0a11.6 11.6 0 1 0 -23.2 0M1166.9 650.0a11.6 11.6 0 1 0 23.2 0a11.6 11.6 0 1 0 -23.2 0M1167.9 660.0a11.6 11.6 0 1 0 23.2 0a11.6 11.6 0 1 0 -23.2 0M1168.8 690.0a11.6 11.6 0 1 0 23.2 0a11.6 11.6 0 1 0 -23.2 0M1169.7 720.0a11.6 11.6 0 1 0 23.2 0a11.6 11.6 0 1 0 -23.2 0M1170.6 700.0a11.6 11.6 0 1 0 23.2 0a11.6 11.6 0 1 0 -23.2 0" fill="#bababa"/>
<path d="M339.2 263.5V342.5M358.6 266.3V344.1M376.7 268.2V348.7M393.7 269.6V352.0M409.7 270.1V352.0M424.8 270.6V352.0M439.1 271.1V351.7M452.7 272.0V349.5M465.6 272.9V347.3M478.0 273.7V347.0M489.8 274.9V347.0M501.2 276.2V347.1M512.1 277.5V347.2M522.5 278.8V347.4M532.6 280.0V347.5M542.3 281.1V347.6M551.7 282.1V347.7M560.8 283.1V347.9M569.6 284.0V348.0M578.1 285.0V348.1M586.3 285.9V348.2M594.4 286.5V348.4M602.1 287.2V348.5M609.7 287.8V348.6M617.1 288.4V348.7M624.2 288.9V348.9M631.2 289.5V349.0M638.1 290.1V349.6M644.7 290.9V350.4M651.2 291.7V351.2M657.5 292.5V351.9M663.7 293.3V352.6M669.8 294.0V353.3M675.7 294.8V354.0M681.5 295.4V354.7M687.2 296.0V355.4M692.8 296.5V356.1M698.2 297.1V357.2M703.6 297.6V358.4M708.8 298.1V359.5M713.9 298.4V360.7M719.0 298.7V361.8M723.9 299.0V362.8M728.8 299.3V364.2M733.6 299.6V366.1M738.3 299.8V368.0M742.9 300.1V369.8M747.5 300.4V371.1M751.9 300.7V372.3M756.3 300.9V373.4M760.7 301.6V374.6M764.9 302.5V375.9M769.1 303.3V377.1M773.3 304.2V378.4M777.3 305.0V379.6M781.4 305.8V380.8M785.3 307.4V385.5M789.2 309.4V390.5M793.0 311.4V390.7M796.8 313.3V390.8M800.6 315.3V391.0M804.3 317.1V391.2M807.9 319.0V391.4M811.5 321.2V391.6M815.0 323.3V393.2M818.5 325.3V395.5M822.0 327.4V397.2M825.4 329.4V398.0M828.8 331.4V398.8M832.1 333.4V399.7M835.4 334.6V400.5M838.6 335.2V401.3M841.8 335.8V402.1M845.0 336.5V402.9M848.1 337.1V403.8M851.2 337.7V404.8M854.3 338.3V405.7M857.3 338.9V406.6M860.3 339.5V407.6M863.3 340.1V408.5M866.2 340.9V409.4M869.1 342.3V410.3M872.0 343.8V411.1M874.9 345.2V411.9M877.7 346.6V412.6M880.5 348.2V413.4M883.2 349.8V414.1M885.9 351.4V414.8M888.6 353.0V415.5M891.3 354.6V416.8M894.0 356.1V419.3M896.6 357.7V421.9M899.2 359.2V424.4M901.8 360.7V426.8M904.3 362.2V429.3M906.8 363.7V431.7M909.4 365.2V434.1M911.8 366.7V436.5M914.3 368.1V438.9M916.7 369.5V441.2M919.1 371.0V443.1M921.5 372.4V444.9M923.9 373.9V446.6M926.3 375.3V448.4M928.6 376.7V450.1M930.9 378.1V451.9M933.2 379.5V453.6M935.5 380.9V455.3M937.7 382.3V456.9M940.0 383.6V458.6M942.2 385.0V460.6M944.4 386.3V462.7M946.6 387.6V464.8M948.7 388.9V466.9M950.9 390.2V468.9M953.0 391.6V471.0M955.1 392.9V473.0M957.2 394.2V475.0M959.3 395.5V477.0M961.4 396.8V479.0M963.4 398.1V480.9M965.5 399.4V482.4M967.5 400.6V483.8M969.5 401.9V485.2M971.5 403.1V486.6M973.5 404.4V487.9M975.4 405.6V489.3M977.4 406.8V490.7M979.3 408.0V492.0M981.3 409.1V493.4M983.2 410.3V494.7M985.1 411.5V496.0M986.9 412.6V497.6M988.8 413.8V500.0M990.7 414.9V502.4M992.5 416.0V504.9M994.3 417.2V507.2M996.2 418.3V509.6M998.0 419.4V512.0M999.8 420.5V514.3M1001.6 421.6V516.7M1003.3 422.7V519.0M1005.1 423.7V521.2M1006.8 425.3V523.3M1008.6 427.0V525.3M1010.3 428.7V527.3M1012.0 430.4V529.4M1013.7 432.1V531.4M1015.4 433.8V533.4M1017.1 435.4V535.4M1018.8 437.1V537.3M1020.4 438.7V539.3M1022.1 440.3V541.3M1023.7 442.0V543.2M1025.4 443.6V545.1M1027.0 445.2V547.0M1028.6 446.8V548.9M1030.2 448.3V550.8M1031.8 449.9V552.7M1033.4 451.5V554.6M1035.0 453.0V556.5M1036.6 454.6V558.3M1038.1 456.1V560.1M1039.7 457.7V562.0M1041.2 459.3V564.4M1042.7 460.8V567.1M1044.3 462.3V569.8M1045.8 463.9V572.5M1047.3 465.4V575.2M1048.8 466.9V577.9M1050.3 468.4V580.5M1051.8 469.9V583.2M1053.3 471.4V585.8M1054.7 472.9V588.4M1056.2 474.4V591.0M1057.6 475.8V593.6M1059.1 477.3V596.1M1060.5 478.7V598.7M1061.9 480.2V601.2M1063.4 481.6V603.8M1064.8 483.0V605.7M1066.2 484.5V607.6M1067.6 485.9V609.5M1069.0 487.3V611.4M1070.4 488.6V613.2M1071.7 490.0V615.1M1073.1 491.3V616.9M1074.5 492.7V618.8M1075.8 494.0V620.6M1077.2 495.3V622.4M1078.5 496.6V624.2M1079.9 498.0V626.0M1081.2 499.3V627.8M1082.5 500.6V629.6M1083.9 501.9V631.4M1085.2 503.5V633.1M1086.5 505.6V634.9M1087.8 507.6V636.6M1089.1 509.7V638.4M1090.4 511.7V640.1M1091.6 513.7V641.8M1092.9 515.7V643.6M1094.2 517.7V645.3M1095.4 519.6V647.0M1096.7 521.6V648.7M1098.0 523.6V650.3M1099.2 525.5V653.1M1100.4 526.9V656.2M1101.7 528.1V659.4M1102.9 529.3V662.5M1104.1 530.5V665.6M1105.4 531.7V668.7M1106.6 532.9V671.8M1107.8 534.1V674.9M1109.0 535.3V677.9M1110.2 536.5V680.9M1111.4 537.6V684.0M1112.6 538.8V687.0M1113.7 539.9V690.0M1114.9 541.1V693.0M1116.1 542.2V695.9M1117.3 543.4V700.1M1118.4 544.5V704.8M1119.6 545.7V709.6M1120.7 546.8V714.3M1121.9 547.9V719.0M1123.0 549.0V723.7M1124.2 550.5V728.3M1125.3 552.3V733.0M1126.4 554.1V741.3M1127.5 555.8V765.4M1128.7 557.6V786.0M1129.8 559.3V786.0M1130.9 561.0V786.0M1132.0 562.2V786.1M1133.1 562.7V786.1M1134.2 563.2V786.1M1135.3 563.8V786.1M1136.4 564.3V786.1M1137.4 564.8V786.2M1138.5 565.3V786.2M1139.6 565.8V786.2M1140.7 566.3V786.2M1141.7 566.8V786.2M1142.8 567.2V786.3M1143.9 567.7V786.3M1144.9 568.2V786.3M1146.0 568.7V786.3M1147.0 569.2V786.3M1148.1 569.7V786.3M1149.1 570.2V786.4M1150.1 570.6V786.4M1151.2 571.1V786.4M1152.2 571.6V786.4M1153.2 572.1V786.4M1154.2 572.6V786.5M1155.2 573.0V786.5M1156.3 573.5V786.5M1157.3 574.0V786.5M1158.3 574.4V786.5M1159.3 574.9V786.5M1160.3 575.0V786.6M1161.3 575.0V786.6M1162.2 575.0V786.6M1163.2 575.0V786.6M1164.2 575.0V786.6M1165.2 575.0V786.7M1166.2 575.0V786.7M1167.1 575.0V786.7M1168.1 575.0V786.7M1169.1 575.0V786.7M1170.0 575.0V786.7M1171.0 575.0V786.8M1171.9 575.0V786.8M1172.9 575.0V786.8M1173.8 575.0V786.8M1174.8 575.0V786.8M1175.7 500.0V785.0M1176.7 490.0V785.0M1177.6 446.5V785.0M1178.5 470.0V785.0M1179.5 407.0V786.0M1180.4 352.0V786.0M1181.3 247.6V787.0M1182.2 111.5V788.0" stroke="#bababa" stroke-width="3.5" fill="none"/>
<path d="M326.7 263.5h25M326.7 342.5h25M346.1 266.3h25M346.1 344.1h25M364.2 268.2h25M364.2 348.7h25M381.2 269.6h25M381.2 352.0h25M397.2 270.1h25M397.2 352.0h25M412.3 270.6h25M412.3 352.0h25M426.6 271.1h25M426.6 351.7h25M440.2 272.0h25M440.2 349.5h25M453.1 272.9h25M453.1 347.3h25M465.5 273.7h25M465.5 347.0h25M477.3 274.9h25M477.3 347.0h25M488.7 276.2h25M488.7 347.1h25M499.6 277.5h25M499.6 347.2h25M510.0 278.8h25M510.0 347.4h25M520.1 280.0h25M520.1 347.5h25M529.8 281.1h25M529.8 347.6h25M539.2 282.1h25M539.2 347.7h25M548.3 283.1h25M548.3 347.9h25M557.1 284.0h25M557.1 348.0h25M565.6 285.0h25M565.6 348.1h25M573.8 285.9h25M573.8 348.2h25M581.9 286.5h25M581.9 348.4h25M589.6 287.2h25M589.6 348.5h25M597.2 287.8h25M597.2 348.6h25M604.6 288.4h25M604.6 348.7h25M611.7 288.9h25M611.7 348.9h25M618.7 289.5h25M618.7 349.0h25M625.6 290.1h25M625.6 349.6h25M632.2 290.9h25M632.2 350.4h25M638.7 291.7h25M638.7 351.2h25M645.0 292.5h25M645.0 351.9h25M651.2 293.3h25M651.2 352.6h25M657.3 294.0h25M657.3 353.3h25M663.2 294.8h25M663.2 354.0h25M669.0 295.4h25M669.0 354.7h25M674.7 296.0h25M674.7 355.4h25M680.3 296.5h25M680.3 356.1h25M685.7 297.1h25M685.7 357.2h25M691.1 297.6h25M691.1 358.4h25M696.3 298.1h25M696.3 359.5h25M701.4 298.4h25M701.4 360.7h25M706.5 298.7h25M706.5 361.8h25M711.4 299.0h25M711.4 362.8h25M716.3 299.3h25M716.3 364.2h25M721.1 299.6h25M721.1 366.1h25M725.8 299.8h25M725.8 368.0h25M730.4 300.1h25M730.4 369.8h25M735.0 300.4h25M735.0 371.1h25M739.4 300.7h25M739.4 372.3h25M743.8 300.9h25M743.8 373.4h25M748.2 301.6h25M748.2 374.6h25M752.4 302.5h25M752.4 375.9h25M756.6 303.3h25M756.6 377.1h25M760.8 304.2h25M760.8 378.4h25M764.8 305.0h25M764.8 379.6h25M768.9 305.8h25M768.9 380.8h25M772.8 307.4h25M772.8 385.5h25M776.7 309.4h25M776.7 390.5h25M780.5 311.4h25M780.5 390.7h25M784.3 313.3h25M784.3 390.8h25M788.1 315.3h25M788.1 391.0h25M791.8 317.1h25M791.8 391.2h25M795.4 319.0h25M795.4 391.4h25M799.0 321.2h25M799.0 391.6h25M802.5 323.3h25M802.5 393.2h25M806.0 325.3h25M806.0 395.5h25M809.5 327.4h25M809.5 397.2h25M812.9 329.4h25M812.9 398.0h25M816.3 331.4h25M816.3 398.8h25M819.6 333.4h25M819.6 399.7h25M822.9 334.6h25M822.9 400.5h25M826.1 335.2h25M826.1 401.3h25M829.3 335.8h25M829.3 402.1h25M832.5 336.5h25M832.5 402.9h25M835.6 337.1h25M835.6 403.8h25M838.7 337.7h25M838.7 404.8h25M841.8 338.3h25M841.8 405.7h25M844.8 338.9h25M844.8 406.6h25M847.8 339.5h25M847.8 407.6h25M850.8 340.1h25M850.8 408.5h25M853.7 340.9h25M853.7 409.4h25M856.6 342.3h25M856.6 410.3h25M859.5 343.8h25M859.5 411.1h25M862.4 345.2h25M862.4 411.9h25M865.2 346.6h25M865.2 412.6h25M868.0 348.2h25M868.0 413.4h25M870.7 349.8h25M870.7 414.1h25M873.4 351.4h25M873.4 414.8h25M876.1 353.0h25M876.1 415.5h25M878.8 354.6h25M878.8 416.8h25M881.5 356.1h25M881.5 419.3h25M884.1 357.7h25M884.1 421.9h25M886.7 359.2h25M886.7 424.4h25M889.3 360.7h25M889.3 426.8h25M891.8 362.2h25M891.8 429.3h25M894.3 363.7h25M894.3 431.7h25M896.9 365.2h25M896.9 434.1h25M899.3 366.7h25M899.3 436.5h25M901.8 368.1h25M901.8 438.9h25M904.2 369.5h25M904.2 441.2h25M906.6 371.0h25M906.6 443.1h25M909.0 372.4h25M909.0 444.9h25M911.4 373.9h25M911.4 446.6h25M913.8 375.3h25M913.8 448.4h25M916.1 376.7h25M916.1 450.1h25M918.4 378.1h25M918.4 451.9h25M920.7 379.5h25M920.7 453.6h25M923.0 380.9h25M923.0 455.3h25M925.2 382.3h25M925.2 456.9h25M927.5 383.6h25M927.5 458.6h25M929.7 385.0h25M929.7 460.6h25M931.9 386.3h25M931.9 462.7h25M934.1 387.6h25M934.1 464.8h25M936.2 388.9h25M936.2 466.9h25M938.4 390.2h25M938.4 468.9h25M940.5 391.6h25M940.5 471.0h25M942.6 392.9h25M942.6 473.0h25M944.7 394.2h25M944.7 475.0h25M946.8 395.5h25M946.8 477.0h25M948.9 396.8h25M948.9 479.0h25M950.9 398.1h25M950.9 480.9h25M953.0 399.4h25M953.0 482.4h25M955.0 400.6h25M955.0 483.8h25M957.0 401.9h25M957.0 485.2h25M959.0 403.1h25M959.0 486.6h25M961.0 404.4h25M961.0 487.9h25M962.9 405.6h25M962.9 489.3h25M964.9 406.8h25M964.9 490.7h25M966.8 408.0h25M966.8 492.0h25M968.8 409.1h25M968.8 493.4h25M970.7 410.3h25M970.7 494.7h25M972.6 411.5h25M972.6 496.0h25M974.4 412.6h25M974.4 497.6h25M976.3 413.8h25M976.3 500.0h25M978.2 414.9h25M978.2 502.4h25M980.0 416.0h25M980.0 504.9h25M981.8 417.2h25M981.8 507.2h25M983.7 418.3h25M983.7 509.6h25M985.5 419.4h25M985.5 512.0h25M987.3 420.5h25M987.3 514.3h25M989.1 421.6h25M989.1 516.7h25M990.8 422.7h25M990.8 519.0h25M992.6 423.7h25M992.6 521.2h25M994.3 425.3h25M994.3 523.3h25M996.1 427.0h25M996.1 525.3h25M997.8 428.7h25M997.8 527.3h25M999.5 430.4h25M999.5 529.4h25M1001.2 432.1h25M1001.2 531.4h25M1002.9 433.8h25M1002.9 533.4h25M1004.6 435.4h25M1004.6 535.4h25M1006.3 437.1h25M1006.3 537.3h25M1007.9 438.7h25M1007.9 539.3h25M1009.6 440.3h25M1009.6 541.3h25M1011.2 442.0h25M1011.2 543.2h25M1012.9 443.6h25M1012.9 545.1h25M1014.5 445.2h25M1014.5 547.0h25M1016.1 446.8h25M1016.1 548.9h25M1017.7 448.3h25M1017.7 550.8h25M1019.3 449.9h25M1019.3 552.7h25M1020.9 451.5h25M1020.9 554.6h25M1022.5 453.0h25M1022.5 556.5h25M1024.1 454.6h25M1024.1 558.3h25M1025.6 456.1h25M1025.6 560.1h25M1027.2 457.7h25M1027.2 562.0h25M1028.7 459.3h25M1028.7 564.4h25M1030.2 460.8h25M1030.2 567.1h25M1031.8 462.3h25M1031.8 569.8h25M1033.3 463.9h25M1033.3 572.5h25M1034.8 465.4h25M1034.8 575.2h25M1036.3 466.9h25M1036.3 577.9h25M1037.8 468.4h25M1037.8 580.5h25M1039.3 469.9h25M1039.3 583.2h25M1040.8 471.4h25M1040.8 585.8h25M1042.2 472.9h25M1042.2 588.4h25M1043.7 474.4h25M1043.7 591.0h25M1045.1 475.8h25M1045.1 593.6h25M1046.6 477.3h25M1046.6 596.1h25M1048.0 478.7h25M1048.0 598.7h25M1049.4 480.2h25M1049.4 601.2h25M1050.9 481.6h25M1050.9 603.8h25M1052.3 483.0h25M1052.3 605.7h25M1053.7 484.5h25M1053.7 607.6h25M1055.1 485.9h25M1055.1 609.5h25M1056.5 487.3h25M1056.5 611.4h25M1057.9 488.6h25M1057.9 613.2h25M1059.2 490.0h25M1059.2 615.1h25M1060.6 491.3h25M1060.6 616.9h25M1062.0 492.7h25M1062.0 618.8h25M1063.3 494.0h25M1063.3 620.6h25M1064.7 495.3h25M1064.7 622.4h25M1066.0 496.6h25M1066.0 624.2h25M1067.4 498.0h25M1067.4 626.0h25M1068.7 499.3h25M1068.7 627.8h25M1070.0 500.6h25M1070.0 629.6h25M1071.4 501.9h25M1071.4 631.4h25M1072.7 503.5h25M1072.7 633.1h25M1074.0 505.6h25M1074.0 634.9h25M1075.3 507.6h25M1075.3 636.6h25M1076.6 509.7h25M1076.6 638.4h25M1077.9 511.7h25M1077.9 640.1h25M1079.1 513.7h25M1079.1 641.8h25M1080.4 515.7h25M1080.4 643.6h25M1081.7 517.7h25M1081.7 645.3h25M1082.9 519.6h25M1082.9 647.0h25M1084.2 521.6h25M1084.2 648.7h25M1085.5 523.6h25M1085.5 650.3h25M1086.7 525.5h25M1086.7 653.1h25M1087.9 526.9h25M1087.9 656.2h25M1089.2 528.1h25M1089.2 659.4h25M1090.4 529.3h25M1090.4 662.5h25M1091.6 530.5h25M1091.6 665.6h25M1092.9 531.7h25M1092.9 668.7h25M1094.1 532.9h25M1094.1 671.8h25M1095.3 534.1h25M1095.3 674.9h25M1096.5 535.3h25M1096.5 677.9h25M1097.7 536.5h25M1097.7 680.9h25M1098.9 537.6h25M1098.9 684.0h25M1100.1 538.8h25M1100.1 687.0h25M1101.2 539.9h25M1101.2 690.0h25M1102.4 541.1h25M1102.4 693.0h25M1103.6 542.2h25M1103.6 695.9h25M1104.8 543.4h25M1104.8 700.1h25M1105.9 544.5h25M1105.9 704.8h25M1107.1 545.7h25M1107.1 709.6h25M1108.2 546.8h25M1108.2 714.3h25M1109.4 547.9h25M1109.4 719.0h25M1110.5 549.0h25M1110.5 723.7h25M1111.7 550.5h25M1111.7 728.3h25M1112.8 552.3h25M1112.8 733.0h25M1113.9 554.1h25M1113.9 741.3h25M1115.0 555.8h25M1115.0 765.4h25M1116.2 557.6h25M1116.2 786.0h25M1117.3 559.3h25M1117.3 786.0h25M1118.4 561.0h25M1118.4 786.0h25M1119.5 562.2h25M1119.5 786.1h25M1120.6 562.7h25M1120.6 786.1h25M1121.7 563.2h25M1121.7 786.1h25M1122.8 563.8h25M1122.8 786.1h25M1123.9 564.3h25M1123.9 786.1h25M1124.9 564.8h25M1124.9 786.2h25M1126.0 565.3h25M1126.0 786.2h25M1127.1 565.8h25M1127.1 786.2h25M1128.2 566.3h25M1128.2 786.2h25M1129.2 566.8h25M1129.2 786.2h25M1130.3 567.2h25M1130.3 786.3h25M1131.4 567.7h25M1131.4 786.3h25M1132.4 568.2h25M1132.4 786.3h25M1133.5 568.7h25M1133.5 786.3h25M1134.5 569.2h25M1134.5 786.3h25M1135.6 569.7h25M1135.6 786.3h25M1136.6 570.2h25M1136.6 786.4h25M1137.6 570.6h25M1137.6 786.4h25M1138.7 571.1h25M1138.7 786.4h25M1139.7 571.6h25M1139.7 786.4h25M1140.7 572.1h25M1140.7 786.4h25M1141.7 572.6h25M1141.7 786.5h25M1142.7 573.0h25M1142.7 786.5h25M1143.8 573.5h25M1143.8 786.5h25M1144.8 574.0h25M1144.8 786.5h25M1145.8 574.4h25M1145.8 786.5h25M1146.8 574.9h25M1146.8 786.5h25M1147.8 575.0h25M1147.8 786.6h25M1148.8 575.0h25M1148.8 786.6h25M1149.7 575.0h25M1149.7 786.6h25M1150.7 575.0h25M1150.7 786.6h25M1151.7 575.0h25M1151.7 786.6h25M1152.7 575.0h25M1152.7 786.7h25M1153.7 575.0h25M1153.7 786.7h25M1154.6 575.0h25M1154.6 786.7h25M1155.6 575.0h25M1155.6 786.7h25M1156.6 575.0h25M1156.6 786.7h25M1157.5 575.0h25M1157.5 786.7h25M1158.5 575.0h25M1158.5 786.8h25M1159.4 575.0h25M1159.4 786.8h25M1160.4 575.0h25M1160.4 786.8h25M1161.3 575.0h25M1161.3 786.8h25M1162.3 575.0h25M1162.3 786.8h25M1163.2 500.0h25M1163.2 785.0h25M1164.2 490.0h25M1164.2 785.0h25M1165.1 446.5h25M1165.1 785.0h25M1166.0 470.0h25M1166.0 785.0h25M1167.0 407.0h25M1167.0 786.0h25M1167.9 352.0h25M1167.9 786.0h25M1168.8 247.6h25M1168.8 787.0h25M1169.7 111.5h25M1169.7 788.0h25" stroke="#bababa" stroke-width="3.5" fill="none"/>
<path d="M328.8 306.7 L332.4 306.9 L335.9 307.0 L339.5 307.2 L343.1 307.3 L346.7 307.4 L350.2 307.5 L353.8 307.7 L357.4 307.8 L361.0 307.9 L364.5 308.0 L368.1 308.1 L371.7 308.2 L375.3 308.3 L378.8 308.4 L382.4 308.5 L386.0 308.6 L389.6 308.7 L393.1 308.8 L396.7 308.9 L400.3 309.0 L403.9 309.1 L407.4 309.2 L411.0 309.3 L414.6 309.4 L418.2 309.5 L421.7 309.6 L425.3 309.7 L428.9 309.8 L432.4 309.9 L436.0 309.9 L439.6 310.0 L443.2 310.1 L446.7 310.2 L450.3 310.3 L453.9 310.4 L457.5 310.5 L461.0 310.6 L464.6 310.7 L468.2 310.8 L471.8 310.9 L475.3 311.0 L478.9 311.1 L482.5 311.3 L486.1 311.4 L489.6 311.5 L493.2 311.6 L496.8 311.7 L500.4 311.9 L503.9 312.0 L507.5 312.1 L511.1 312.3 L514.7 312.4 L518.2 312.5 L521.8 312.7 L525.4 312.8 L528.9 313.0 L532.5 313.2 L536.1 313.3 L539.7 313.5 L543.2 313.7 L546.8 313.9 L550.4 314.1 L554.0 314.2 L557.5 314.4 L561.1 314.7 L564.7 314.9 L568.3 315.1 L571.8 315.3 L575.4 315.5 L579.0 315.8 L582.6 316.0 L586.1 316.3 L589.7 316.5 L593.3 316.8 L596.9 317.1 L600.4 317.3 L604.0 317.6 L607.6 317.9 L611.2 318.2 L614.7 318.5 L618.3 318.9 L621.9 319.2 L625.4 319.5 L629.0 319.9 L632.6 320.2 L636.2 320.6 L639.7 321.0 L643.3 321.3 L646.9 321.7 L650.5 322.1 L654.0 322.5 L657.6 323.0 L661.2 323.4 L664.8 323.8 L668.3 324.3 L671.9 324.8 L675.5 325.2 L679.1 325.7 L682.6 326.2 L686.2 326.7 L689.8 327.2 L693.4 327.8 L696.9 328.3 L700.5 328.9 L704.1 329.4 L707.7 330.0 L711.2 330.6 L714.8 331.2 L718.4 331.9 L721.9 332.5 L725.5 333.2 L729.1 333.9 L732.7 334.5 L736.2 335.3 L739.8 336.0 L743.4 336.7 L747.0 337.5 L750.5 338.3 L754.1 339.1 L757.7 339.9 L761.3 340.7 L764.8 341.6 L768.4 342.5 L772.0 343.4 L775.6 344.3 L779.1 345.2 L782.7 346.2 L786.3 347.2 L789.9 348.2 L793.4 349.2 L797.0 350.3 L800.6 351.4 L804.1 352.5 L807.7 353.6 L811.3 354.7 L814.9 355.9 L818.4 357.1 L822.0 358.4 L825.6 359.6 L829.2 360.9 L832.7 362.2 L836.3 363.6 L839.9 364.9 L843.5 366.3 L847.0 367.8 L850.6 369.2 L854.2 370.7 L857.8 372.2 L861.3 373.8 L864.9 375.4 L868.5 377.0 L872.1 378.6 L875.6 380.3 L879.2 382.0 L882.8 383.7 L886.4 385.5 L889.9 387.4 L893.5 389.3 L897.1 391.2 L900.6 393.2 L904.2 395.3 L907.8 397.4 L911.4 399.6 L914.9 401.9 L918.5 404.2 L922.1 406.6 L925.7 409.1 L929.2 411.7 L932.8 414.4 L936.4 417.1 L940.0 420.0 L943.5 423.0 L947.1 426.0 L950.7 429.1 L954.3 432.3 L957.8 435.6 L961.4 438.9 L965.0 442.3 L968.6 445.7 L972.1 449.2 L975.7 452.6 L979.3 456.1 L982.9 459.6 L986.4 463.1 L990.0 466.6 L993.6 470.1 L997.1 473.6 L1000.7 477.2 L1004.3 480.8 L1007.9 484.4 L1011.4 488.2 L1015.0 492.0 L1018.6 495.9 L1022.2 499.8 L1025.7 503.9 L1029.3 508.1 L1032.9 512.3 L1036.5 516.6 L1040.0 520.9 L1043.6 525.4 L1047.2 529.9 L1050.8 534.4 L1054.3 539.0 L1057.9 543.7 L1061.5 548.3 L1065.1 553.1 L1068.6 557.8 L1072.2 562.6 L1075.8 567.4 L1079.4 572.2 L1082.9 577.1 L1086.5 581.9 L1090.1 586.8 L1093.6 591.6 L1097.2 596.5 L1100.8 601.3 L1104.4 606.2 L1107.9 611.0 L1111.5 615.8 L1115.1 620.6 L1118.7 625.4 L1122.2 630.2 L1125.8 635.1 L1129.4 640.0 L1133.0 645.0 L1136.5 650.1 L1140.1 655.3 L1143.7 660.7 L1147.3 666.1 L1150.8 671.8 L1154.4 677.6 L1158.0 683.7 L1161.6 689.9 L1165.1 696.4 L1168.7 703.2 L1172.3 710.2 L1175.9 717.5 L1179.4 725.1 L1183.0 733.0" stroke="#000" stroke-width="12.5" fill="none" stroke-linejoin="round"/>
</g>
<g clip-path="url(#cTR)">
<path d="M1382.6 313.0a11.6 11.6 0 1 0 23.2 0a11.6 11.6 0 1 0 -23.2 0M1402.0 313.5a11.6 11.6 0 1 0 23.2 0a11.6 11.6 0 1 0 -23.2 0M1420.1 314.0a11.6 11.6 0 1 0 23.2 0a11.6 11.6 0 1 0 -23.2 0M1437.1 314.5a11.6 11.6 0 1 0 23.2 0a11.6 11.6 0 1 0 -23.2 0M1453.1 314.9a11.6 11.6 0 1 0 23.2 0a11.6 11.6 0 1 0 -23.2 0M1468.2 315.3a11.6 11.6 0 1 0 23.2 0a11.6 11.6 0 1 0 -23.2 0M1482.5 315.6a11.6 11.6 0 1 0 23.2 0a11.6 11.6 0 1 0 -23.2 0M1496.1 315.9a11.6 11.6 0 1 0 23.2 0a11.6 11.6 0 1 0 -23.2 0M1509.0 316.2a11.6 11.6 0 1 0 23.2 0a11.6 11.6 0 1 0 -23.2 0M1521.4 316.5a11.6 11.6 0 1 0 23.2 0a11.6 11.6 0 1 0 -23.2 0M1533.2 316.8a11.6 11.6 0 1 0 23.2 0a11.6 11.6 0 1 0 -23.2 0M1544.6 317.1a11.6 11.6 0 1 0 23.2 0a11.6 11.6 0 1 0 -23.2 0M1555.5 317.4a11.6 11.6 0 1 0 23.2 0a11.6 11.6 0 1 0 -23.2 0M1565.9 317.7a11.6 11.6 0 1 0 23.2 0a11.6 11.6 0 1 0 -23.2 0M1576.0 318.0a11.6 11.6 0 1 0 23.2 0a11.6 11.6 0 1 0 -23.2 0M1585.7 318.3a11.6 11.6 0 1 0 23.2 0a11.6 11.6 0 1 0 -23.2 0M1595.1 318.6a11.6 11.6 0 1 0 23.2 0a11.6 11.6 0 1 0 -23.2 0M1604.2 318.9a11.6 11.6 0 1 0 23.2 0a11.6 11.6 0 1 0 -23.2 0M1613.0 319.2a11.6 11.6 0 1 0 23.2 0a11.6 11.6 0 1 0 -23.2 0M1621.5 319.6a11.6 11.6 0 1 0 23.2 0a11.6 11.6 0 1 0 -23.2 0M1629.7 319.9a11.6 11.6 0 1 0 23.2 0a11.6 11.6 0 1 0 -23.2 0M1637.8 320.2a11.6 11.6 0 1 0 23.2 0a11.6 11.6 0 1 0 -23.2 0M1645.5 320.6a11.6 11.6 0 1 0 23.2 0a11.6 11.6 0 1 0 -23.2 0M1653.1 321.0a11.6 11.6 0 1 0 23.2 0a11.6 11.6 0 1 0 -23.2 0M1660.5 321.4a11.6 11.6 0 1 0 23.2 0a11.6 11.6 0 1 0 -23.2 0M1667.6 321.8a11.6 11.6 0 1 0 23.2 0a11.6 11.6 0 1 0 -23.2 0M1674.6 322.2a11.6 11.6 0 1 0 23.2 0a11.6 11.6 0 1 0 -23.2 0M1681.5 322.6a11.6 11.6 0 1 0 23.2 0a11.6 11.6 0 1 0 -23.2 0M1688.1 322.9a11.6 11.6 0 1 0 23.2 0a11.6 11.6 0 1 0 -23.2 0M1694.6 323.3a11.6 11.6 0 1 0 23.2 0a11.6 11.6 0 1 0 -23.2 0M1700.9 323.6a11.6 11.6 0 1 0 23.2 0a11.6 11.6 0 1 0 -23.2 0M1707.1 323.9a11.6 11.6 0 1 0 23.2 0a11.6 11.6 0 1 0 -23.2 0M1713.2 324.2a11.6 11.6 0 1 0 23.2 0a11.6 11.6 0 1 0 -23.2 0M1719.1 324.4a11.6 11.6 0 1 0 23.2 0a11.6 11.6 0 1 0 -23.2 0M1724.9 324.7a11.6 11.6 0 1 0 23.2 0a11.6 11.6 0 1 0 -23.2 0M1730.6 324.9a11.6 11.6 0 1 0 23.2 0a11.6 11.6 0 1 0 -23.2 0M1736.2 325.1a11.6 11.6 0 1 0 23.2 0a11.6 11.6 0 1 0 -23.2 0M1741.6 325.3a11.6 11.6 0 1 0 23.2 0a11.6 11.6 0 1 0 -23.2 0M1747.0 325.5a11.6 11.6 0 1 0 23.2 0a11.6 11.6 0 1 0 -23.2 0M1752.2 325.7a11.6 11.6 0 1 0 23.2 0a11.6 11.6 0 1 0 -23.2 0M1757.3 325.9a11.6 11.6 0 1 0 23.2 0a11.6 11.6 0 1 0 -23.2 0M1762.4 326.1a11.6 11.6 0 1 0 23.2 0a11.6 11.6 0 1 0 -23.2 0M1767.3 326.4a11.6 11.6 0 1 0 23.2 0a11.6 11.6 0 1 0 -23.2 0M1772.2 326.6a11.6 11.6 0 1 0 23.2 0a11.6 11.6 0 1 0 -23.2 0M1777.0 326.9a11.6 11.6 0 1 0 23.2 0a11.6 11.6 0 1 0 -23.2 0M1781.7 327.2a11.6 11.6 0 1 0 23.2 0a11.6 11.6 0 1 0 -23.2 0M1786.3 327.5a11.6 11.6 0 1 0 23.2 0a11.6 11.6 0 1 0 -23.2 0M1790.9 327.9a11.6 11.6 0 1 0 23.2 0a11.6 11.6 0 1 0 -23.2 0M1795.3 328.2a11.6 11.6 0 1 0 23.2 0a11.6 11.6 0 1 0 -23.2 0M1799.7 328.6a11.6 11.6 0 1 0 23.2 0a11.6 11.6 0 1 0 -23.2 0M1804.1 329.0a11.6 11.6 0 1 0 23.2 0a11.6 11.6 0 1 0 -23.2 0M1808.3 329.4a11.6 11.6 0 1 0 23.2 0a11.6 11.6 0 1 0 -23.2 0M1812.5 329.8a11.6 11.6 0 1 0 23.2 0a11.6 11.6 0 1 0 -23.2 0M1816.7 330.3a11.6 11.6 0 1 0 23.2 0a11.6 11.6 0 1 0 -23.2 0M1820.7 330.7a11.6 11.6 0 1 0 23.2 0a11.6 11.6 0 1 0 -23.2 0M1824.8 331.1a11.6 11.6 0 1 0 23.2 0a11.6 11.6 0 1 0 -23.2 0M1828.7 331.6a11.6 11.6 0 1 0 23.2 0a11.6 11.6 0 1 0 -23.2 0M1832.6 332.1a11.6 11.6 0 1 0 23.2 0a11.6 11.6 0 1 0 -23.2 0M1836.4 332.6a11.6 11.6 0 1 0 23.2 0a11.6 11.6 0 1 0 -23.2 0M1840.2 333.0a11.6 11.6 0 1 0 23.2 0a11.6 11.6 0 1 0 -23.2 0M1844.0 333.5a11.6 11.6 0 1 0 23.2 0a11.6 11.6 0 1 0 -23.2 0M1847.7 334.0a11.6 11.6 0 1 0 23.2 0a11.6 11.6 0 1 0 -23.2 0M1851.3 334.5a11.6 11.6 0 1 0 23.2 0a11.6 11.6 0 1 0 -23.2 0M1854.9 335.0a11.6 11.6 0 1 0 23.2 0a11.6 11.6 0 1 0 -23.2 0M1858.4 335.5a11.6 11.6 0 1 0 23.2 0a11.6 11.6 0 1 0 -23.2 0M1861.9 336.0a11.6 11.6 0 1 0 23.2 0a11.6 11.6 0 1 0 -23.2 0M1865.4 336.5a11.6 11.6 0 1 0 23.2 0a11.6 11.6 0 1 0 -23.2 0M1868.8 337.0a11.6 11.6 0 1 0 23.2 0a11.6 11.6 0 1 0 -23.2 0M1872.2 337.5a11.6 11.6 0 1 0 23.2 0a11.6 11.6 0 1 0 -23.2 0M1875.5 338.0a11.6 11.6 0 1 0 23.2 0a11.6 11.6 0 1 0 -23.2 0M1878.8 338.5a11.6 11.6 0 1 0 23.2 0a11.6 11.6 0 1 0 -23.2 0M1882.0 339.0a11.6 11.6 0 1 0 23.2 0a11.6 11.6 0 1 0 -23.2 0M1885.2 339.5a11.6 11.6 0 1 0 23.2 0a11.6 11.6 0 1 0 -23.2 0M1888.4 340.0a11.6 11.6 0 1 0 23.2 0a11.6 11.6 0 1 0 -23.2 0M1891.5 340.5a11.6 11.6 0 1 0 23.2 0a11.6 11.6 0 1 0 -23.2 0M1894.6 341.0a11.6 11.6 0 1 0 23.2 0a11.6 11.6 0 1 0 -23.2 0M1897.7 341.6a11.6 11.6 0 1 0 23.2 0a11.6 11.6 0 1 0 -23.2 0M1900.7 342.2a11.6 11.6 0 1 0 23.2 0a11.6 11.6 0 1 0 -23.2 0M1903.7 342.8a11.6 11.6 0 1 0 23.2 0a11.6 11.6 0 1 0 -23.2 0M1906.7 343.4a11.6 11.6 0 1 0 23.2 0a11.6 11.6 0 1 0 -23.2 0M1909.6 344.0a11.6 11.6 0 1 0 23.2 0a11.6 11.6 0 1 0 -23.2 0M1912.5 344.7a11.6 11.6 0 1 0 23.2 0a11.6 11.6 0 1 0 -23.2 0M1915.4 345.3a11.6 11.6 0 1 0 23.2 0a11.6 11.6 0 1 0 -23.2 0M1918.3 345.9a11.6 11.6 0 1 0 23.2 0a11.6 11.6 0 1 0 -23.2 0M1921.1 346.6a11.6 11.6 0 1 0 23.2 0a11.6 11.6 0 1 0 -23.2 0M1923.9 347.2a11.6 11.6 0 1 0 23.2 0a11.6 11.6 0 1 0 -23.2 0M1926.6 347.9a11.6 11.6 0 1 0 23.2 0a11.6 11.6 0 1 0 -23.2 0M1929.3 348.5a11.6 11.6 0 1 0 23.2 0a11.6 11.6 0 1 0 -23.2 0M1932.0 349.2a11.6 11.6 0 1 0 23.2 0a11.6 11.6 0 1 0 -23.2 0M1934.7 349.8a11.6 11.6 0 1 0 23.2 0a11.6 11.6 0 1 0 -23.2 0M1937.4 350.4a11.6 11.6 0 1 0 23.2 0a11.6 11.6 0 1 0 -23.2 0M1940.0 351.0a11.6 11.6 0 1 0 23.2 0a11.6 11.6 0 1 0 -23.2 0M1942.6 351.7a11.6 11.6 0 1 0 23.2 0a11.6 11.6 0 1 0 -23.2 0M1945.2 352.3a11.6 11.6 0 1 0 23.2 0a11.6 11.6 0 1 0 -23.2 0M1947.7 352.8a11.6 11.6 0 1 0 23.2 0a11.6 11.6 0 1 0 -23.2 0M1950.2 353.4a11.6 11.6 0 1 0 23.2 0a11.6 11.6 0 1 0 -23.2 0M1952.8 354.0a11.6 11.6 0 1 0 23.2 0a11.6 11.6 0 1 0 -23.2 0M1955.2 354.5a11.6 11.6 0 1 0 23.2 0a11.6 11.6 0 1 0 -23.2 0M1957.7 355.0a11.6 11.6 0 1 0 23.2 0a11.6 11.6 0 1 0 -23.2 0M1960.1 355.5a11.6 11.6 0 1 0 23.2 0a11.6 11.6 0 1 0 -23.2 0M1962.5 356.0a11.6 11.6 0 1 0 23.2 0a11.6 11.6 0 1 0 -23.2 0M1964.9 356.6a11.6 11.6 0 1 0 23.2 0a11.6 11.6 0 1 0 -23.2 0M1967.3 357.1a11.6 11.6 0 1 0 23.2 0a11.6 11.6 0 1 0 -23.2 0M1969.7 357.6a11.6 11.6 0 1 0 23.2 0a11.6 11.6 0 1 0 -23.2 0M1972.0 358.1a11.6 11.6 0 1 0 23.2 0a11.6 11.6 0 1 0 -23.2 0M1974.3 358.6a11.6 11.6 0 1 0 23.2 0a11.6 11.6 0 1 0 -23.2 0M1976.6 359.2a11.6 11.6 0 1 0 23.2 0a11.6 11.6 0 1 0 -23.2 0M1978.9 359.8a11.6 11.6 0 1 0 23.2 0a11.6 11.6 0 1 0 -23.2 0M1981.1 360.3a11.6 11.6 0 1 0 23.2 0a11.6 11.6 0 1 0 -23.2 0M1983.4 361.0a11.6 11.6 0 1 0 23.2 0a11.6 11.6 0 1 0 -23.2 0M1985.6 361.6a11.6 11.6 0 1 0 23.2 0a11.6 11.6 0 1 0 -23.2 0M1987.8 362.2a11.6 11.6 0 1 0 23.2 0a11.6 11.6 0 1 0 -23.2 0M1990.0 362.9a11.6 11.6 0 1 0 23.2 0a11.6 11.6 0 1 0 -23.2 0M1992.1 363.7a11.6 11.6 0 1 0 23.2 0a11.6 11.6 0 1 0 -23.2 0M1994.3 364.5a11.6 11.6 0 1 0 23.2 0a11.6 11.6 0 1 0 -23.2 0M1996.4 365.3a11.6 11.6 0 1 0 23.2 0a11.6 11.6 0 1 0 -23.2 0M1998.5 366.2a11.6 11.6 0 1 0 23.2 0a11.6 11.6 0 1 0 -23.2 0M2000.6 367.1a11.6 11.6 0 1 0 23.2 0a11.6 11.6 0 1 0 -23.2 0M2002.7 368.1a11.6 11.6 0 1 0 23.2 0a11.6 11.6 0 1 0 -23.2 0M2004.8 369.1a11.6 11.6 0 1 0 23.2 0a11.6 11.6 0 1 0 -23.2 0M2006.8 370.2a11.6 11.6 0 1 0 23.2 0a11.6 11.6 0 1 0 -23.2 0M2008.9 371.2a11.6 11.6 0 1 0 23.2 0a11.6 11.6 0 1 0 -23.2 0M2010.9 372.2a11.6 11.6 0 1 0 23.2 0a11.6 11.6 0 1 0 -23.2 0M2012.9 373.3a11.6 11.6 0 1 0 23.2 0a11.6 11.6 0 1 0 -23.2 0M2014.9 374.3a11.6 11.6 0 1 0 23.2 0a11.6 11.6 0 1 0 -23.2 0M2016.9 375.4a11.6 11.6 0 1 0 23.2 0a11.6 11.6 0 1 0 -23.2 0M2018.8 376.4a11.6 11.6 0 1 0 23.2 0a11.6 11.6 0 1 0 -23.2 0M2020.8 377.5a11.6 11.6 0 1 0 23.2 0a11.6 11.6 0 1 0 -23.2 0M2022.7 378.6a11.6 11.6 0 1 0 23.2 0a11.6 11.6 0 1 0 -23.2 0M2024.7 379.8a11.6 11.6 0 1 0 23.2 0a11.6 11.6 0 1 0 -23.2 0M2026.6 380.9a11.6 11.6 0 1 0 23.2 0a11.6 11.6 0 1 0 -23.2 0M2028.5 382.1a11.6 11.6 0 1 0 23.2 0a11.6 11.6 0 1 0 -23.2 0M2030.3 383.2a11.6 11.6 0 1 0 23.2 0a11.6 11.6 0 1 0 -23.2 0M2032.2 384.3a11.6 11.6 0 1 0 23.2 0a11.6 11.6 0 1 0 -23.2 0M2034.1 385.3a11.6 11.6 0 1 0 23.2 0a11.6 11.6 0 1 0 -23.2 0M2035.9 386.3a11.6 11.6 0 1 0 23.2 0a11.6 11.6 0 1 0 -23.2 0M2037.7 387.1a11.6 11.6 0 1 0 23.2 0a11.6 11.6 0 1 0 -23.2 0M2039.6 388.0a11.6 11.6 0 1 0 23.2 0a11.6 11.6 0 1 0 -23.2 0M2041.4 388.8a11.6 11.6 0 1 0 23.2 0a11.6 11.6 0 1 0 -23.2 0M2043.2 389.6a11.6 11.6 0 1 0 23.2 0a11.6 11.6 0 1 0 -23.2 0M2045.0 390.4a11.6 11.6 0 1 0 23.2 0a11.6 11.6 0 1 0 -23.2 0M2046.7 391.1a11.6 11.6 0 1 0 23.2 0a11.6 11.6 0 1 0 -23.2 0M2048.5 391.9a11.6 11.6 0 1 0 23.2 0a11.6 11.6 0 1 0 -23.2 0M2050.2 392.6a11.6 11.6 0 1 0 23.2 0a11.6 11.6 0 1 0 -23.2 0M2052.0 393.3a11.6 11.6 0 1 0 23.2 0a11.6 11.6 0 1 0 -23.2 0M2053.7 394.0a11.6 11.6 0 1 0 23.2 0a11.6 11.6 0 1 0 -23.2 0M2055.4 394.7a11.6 11.6 0 1 0 23.2 0a11.6 11.6 0 1 0 -23.2 0M2057.1 395.4a11.6 11.6 0 1 0 23.2 0a11.6 11.6 0 1 0 -23.2 0M2058.8 396.0a11.6 11.6 0 1 0 23.2 0a11.6 11.6 0 1 0 -23.2 0M2060.5 396.7a11.6 11.6 0 1 0 23.2 0a11.6 11.6 0 1 0 -23.2 0M2062.2 397.4a11.6 11.6 0 1 0 23.2 0a11.6 11.6 0 1 0 -23.2 0M2063.8 398.1a11.6 11.6 0 1 0 23.2 0a11.6 11.6 0 1 0 -23.2 0M2065.5 398.8a11.6 11.6 0 1 0 23.2 0a11.6 11.6 0 1 0 -23.2 0M2067.1 399.5a11.6 11.6 0 1 0 23.2 0a11.6 11.6 0 1 0 -23.2 0M2068.8 400.2a11.6 11.6 0 1 0 23.2 0a11.6 11.6 0 1 0 -23.2 0M2070.4 400.9a11.6 11.6 0 1 0 23.2 0a11.6 11.6 0 1 0 -23.2 0M2072.0 401.6a11.6 11.6 0 1 0 23.2 0a11.6 11.6 0 1 0 -23.2 0M2073.6 402.2a11.6 11.6 0 1 0 23.2 0a11.6 11.6 0 1 0 -23.2 0M2075.2 402.9a11.6 11.6 0 1 0 23.2 0a11.6 11.6 0 1 0 -23.2 0M2076.8 403.6a11.6 11.6 0 1 0 23.2 0a11.6 11.6 0 1 0 -23.2 0M2078.4 404.3a11.6 11.6 0 1 0 23.2 0a11.6 11.6 0 1 0 -23.2 0M2080.0 404.9a11.6 11.6 0 1 0 23.2 0a11.6 11.6 0 1 0 -23.2 0M2081.5 405.6a11.6 11.6 0 1 0 23.2 0a11.6 11.6 0 1 0 -23.2 0M2083.1 406.2a11.6 11.6 0 1 0 23.2 0a11.6 11.6 0 1 0 -23.2 0M2084.6 406.9a11.6 11.6 0 1 0 23.2 0a11.6 11.6 0 1 0 -23.2 0M2086.1 407.5a11.6 11.6 0 1 0 23.2 0a11.6 11.6 0 1 0 -23.2 0M2087.7 408.2a11.6 11.6 0 1 0 23.2 0a11.6 11.6 0 1 0 -23.2 0M2089.2 408.8a11.6 11.6 0 1 0 23.2 0a11.6 11.6 0 1 0 -23.2 0M2090.7 409.5a11.6 11.6 0 1 0 23.2 0a11.6 11.6 0 1 0 -23.2 0M2092.2 410.1a11.6 11.6 0 1 0 23.2 0a11.6 11.6 0 1 0 -23.2 0M2093.7 410.7a11.6 11.6 0 1 0 23.2 0a11.6 11.6 0 1 0 -23.2 0M2095.2 411.4a11.6 11.6 0 1 0 23.2 0a11.6 11.6 0 1 0 -23.2 0M2096.7 412.0a11.6 11.6 0 1 0 23.2 0a11.6 11.6 0 1 0 -23.2 0M2098.1 412.7a11.6 11.6 0 1 0 23.2 0a11.6 11.6 0 1 0 -23.2 0M2099.6 413.3a11.6 11.6 0 1 0 23.2 0a11.6 11.6 0 1 0 -23.2 0M2101.0 413.9a11.6 11.6 0 1 0 23.2 0a11.6 11.6 0 1 0 -23.2 0M2102.5 414.6a11.6 11.6 0 1 0 23.2 0a11.6 11.6 0 1 0 -23.2 0M2103.9 415.2a11.6 11.6 0 1 0 23.2 0a11.6 11.6 0 1 0 -23.2 0M2105.3 415.9a11.6 11.6 0 1 0 23.2 0a11.6 11.6 0 1 0 -23.2 0M2106.8 416.5a11.6 11.6 0 1 0 23.2 0a11.6 11.6 0 1 0 -23.2 0M2108.2 417.1a11.6 11.6 0 1 0 23.2 0a11.6 11.6 0 1 0 -23.2 0M2109.6 417.8a11.6 11.6 0 1 0 23.2 0a11.6 11.6 0 1 0 -23.2 0M2111.0 418.4a11.6 11.6 0 1 0 23.2 0a11.6 11.6 0 1 0 -23.2 0M2112.4 419.1a11.6 11.6 0 1 0 23.2 0a11.6 11.6 0 1 0 -23.2 0M2113.8 419.8a11.6 11.6 0 1 0 23.2 0a11.6 11.6 0 1 0 -23.2 0M2115.1 420.4a11.6 11.6 0 1 0 23.2 0a11.6 11.6 0 1 0 -23.2 0M2116.5 421.1a11.6 11.6 0 1 0 23.2 0a11.6 11.6 0 1 0 -23.2 0M2117.9 421.7a11.6 11.6 0 1 0 23.2 0a11.6 11.6 0 1 0 -23.2 0M2119.2 422.4a11.6 11.6 0 1 0 23.2 0a11.6 11.6 0 1 0 -23.2 0M2120.6 423.1a11.6 11.6 0 1 0 23.2 0a11.6 11.6 0 1 0 -23.2 0M2121.9 423.8a11.6 11.6 0 1 0 23.2 0a11.6 11.6 0 1 0 -23.2 0M2123.3 424.4a11.6 11.6 0 1 0 23.2 0a11.6 11.6 0 1 0 -23.2 0M2124.6 425.1a11.6 11.6 0 1 0 23.2 0a11.6 11.6 0 1 0 -23.2 0M2125.9 425.8a11.6 11.6 0 1 0 23.2 0a11.6 11.6 0 1 0 -23.2 0M2127.3 426.5a11.6 11.6 0 1 0 23.2 0a11.6 11.6 0 1 0 -23.2 0M2128.6 427.2a11.6 11.6 0 1 0 23.2 0a11.6 11.6 0 1 0 -23.2 0M2129.9 427.9a11.6 11.6 0 1 0 23.2 0a11.6 11.6 0 1 0 -23.2 0M2131.2 428.6a11.6 11.6 0 1 0 23.2 0a11.6 11.6 0 1 0 -23.2 0M2132.5 429.3a11.6 11.6 0 1 0 23.2 0a11.6 11.6 0 1 0 -23.2 0M2133.8 430.0a11.6 11.6 0 1 0 23.2 0a11.6 11.6 0 1 0 -23.2 0M2135.0 430.7a11.6 11.6 0 1 0 23.2 0a11.6 11.6 0 1 0 -23.2 0M2136.3 431.4a11.6 11.6 0 1 0 23.2 0a11.6 11.6 0 1 0 -23.2 0M2137.6 432.1a11.6 11.6 0 1 0 23.2 0a11.6 11.6 0 1 0 -23.2 0M2138.8 432.8a11.6 11.6 0 1 0 23.2 0a11.6 11.6 0 1 0 -23.2 0M2140.1 433.5a11.6 11.6 0 1 0 23.2 0a11.6 11.6 0 1 0 -23.2 0M2141.4 434.2a11.6 11.6 0 1 0 23.2 0a11.6 11.6 0 1 0 -23.2 0M2142.6 434.9a11.6 11.6 0 1 0 23.2 0a11.6 11.6 0 1 0 -23.2 0M2143.8 435.6a11.6 11.6 0 1 0 23.2 0a11.6 11.6 0 1 0 -23.2 0M2145.1 436.3a11.6 11.6 0 1 0 23.2 0a11.6 11.6 0 1 0 -23.2 0M2146.3 437.0a11.6 11.6 0 1 0 23.2 0a11.6 11.6 0 1 0 -23.2 0M2147.5 437.7a11.6 11.6 0 1 0 23.2 0a11.6 11.6 0 1 0 -23.2 0M2148.8 438.5a11.6 11.6 0 1 0 23.2 0a11.6 11.6 0 1 0 -23.2 0M2150.0 439.2a11.6 11.6 0 1 0 23.2 0a11.6 11.6 0 1 0 -23.2 0M2151.2 439.9a11.6 11.6 0 1 0 23.2 0a11.6 11.6 0 1 0 -23.2 0M2152.4 440.6a11.6 11.6 0 1 0 23.2 0a11.6 11.6 0 1 0 -23.2 0M2153.6 441.3a11.6 11.6 0 1 0 23.2 0a11.6 11.6 0 1 0 -23.2 0M2154.8 442.0a11.6 11.6 0 1 0 23.2 0a11.6 11.6 0 1 0 -23.2 0M2156.0 442.7a11.6 11.6 0 1 0 23.2 0a11.6 11.6 0 1 0 -23.2 0M2157.1 443.3a11.6 11.6 0 1 0 23.2 0a11.6 11.6 0 1 0 -23.2 0M2158.3 444.0a11.6 11.6 0 1 0 23.2 0a11.6 11.6 0 1 0 -23.2 0M2159.5 444.7a11.6 11.6 0 1 0 23.2 0a11.6 11.6 0 1 0 -23.2 0M2160.7 445.4a11.6 11.6 0 1 0 23.2 0a11.6 11.6 0 1 0 -23.2 0M2161.8 446.1a11.6 11.6 0 1 0 23.2 0a11.6 11.6 0 1 0 -23.2 0M2163.0 446.8a11.6 11.6 0 1 0 23.2 0a11.6 11.6 0 1 0 -23.2 0M2164.1 447.5a11.6 11.6 0 1 0 23.2 0a11.6 11.6 0 1 0 -23.2 0M2165.3 448.1a11.6 11.6 0 1 0 23.2 0a11.6 11.6 0 1 0 -23.2 0M2166.4 448.8a11.6 11.6 0 1 0 23.2 0a11.6 11.6 0 1 0 -23.2 0M2167.6 449.5a11.6 11.6 0 1 0 23.2 0a11.6 11.6 0 1 0 -23.2 0M2168.7 450.2a11.6 11.6 0 1 0 23.2 0a11.6 11.6 0 1 0 -23.2 0M2169.8 450.8a11.6 11.6 0 1 0 23.2 0a11.6 11.6 0 1 0 -23.2 0M2170.9 451.5a11.6 11.6 0 1 0 23.2 0a11.6 11.6 0 1 0 -23.2 0M2172.1 452.2a11.6 11.6 0 1 0 23.2 0a11.6 11.6 0 1 0 -23.2 0M2173.2 452.9a11.6 11.6 0 1 0 23.2 0a11.6 11.6 0 1 0 -23.2 0M2174.3 453.6a11.6 11.6 0 1 0 23.2 0a11.6 11.6 0 1 0 -23.2 0M2175.4 454.3a11.6 11.6 0 1 0 23.2 0a11.6 11.6 0 1 0 -23.2 0M2176.5 455.0a11.6 11.6 0 1 0 23.2 0a11.6 11.6 0 1 0 -23.2 0M2177.6 455.7a11.6 11.6 0 1 0 23.2 0a11.6 11.6 0 1 0 -23.2 0M2178.7 456.4a11.6 11.6 0 1 0 23.2 0a11.6 11.6 0 1 0 -23.2 0M2179.8 457.1a11.6 11.6 0 1 0 23.2 0a11.6 11.6 0 1 0 -23.2 0M2180.8 457.8a11.6 11.6 0 1 0 23.2 0a11.6 11.6 0 1 0 -23.2 0M2181.9 458.5a11.6 11.6 0 1 0 23.2 0a11.6 11.6 0 1 0 -23.2 0M2183.0 459.2a11.6 11.6 0 1 0 23.2 0a11.6 11.6 0 1 0 -23.2 0M2184.1 459.9a11.6 11.6 0 1 0 23.2 0a11.6 11.6 0 1 0 -23.2 0M2185.1 460.6a11.6 11.6 0 1 0 23.2 0a11.6 11.6 0 1 0 -23.2 0M2186.2 461.3a11.6 11.6 0 1 0 23.2 0a11.6 11.6 0 1 0 -23.2 0M2187.3 462.0a11.6 11.6 0 1 0 23.2 0a11.6 11.6 0 1 0 -23.2 0M2188.3 462.7a11.6 11.6 0 1 0 23.2 0a11.6 11.6 0 1 0 -23.2 0M2189.4 463.3a11.6 11.6 0 1 0 23.2 0a11.6 11.6 0 1 0 -23.2 0M2190.4 464.0a11.6 11.6 0 1 0 23.2 0a11.6 11.6 0 1 0 -23.2 0M2191.5 464.7a11.6 11.6 0 1 0 23.2 0a11.6 11.6 0 1 0 -23.2 0M2192.5 465.4a11.6 11.6 0 1 0 23.2 0a11.6 11.6 0 1 0 -23.2 0M2193.5 466.0a11.6 11.6 0 1 0 23.2 0a11.6 11.6 0 1 0 -23.2 0M2194.6 466.7a11.6 11.6 0 1 0 23.2 0a11.6 11.6 0 1 0 -23.2 0M2195.6 467.3a11.6 11.6 0 1 0 23.2 0a11.6 11.6 0 1 0 -23.2 0M2196.6 468.0a11.6 11.6 0 1 0 23.2 0a11.6 11.6 0 1 0 -23.2 0M2197.6 468.6a11.6 11.6 0 1 0 23.2 0a11.6 11.6 0 1 0 -23.2 0M2198.6 469.3a11.6 11.6 0 1 0 23.2 0a11.6 11.6 0 1 0 -23.2 0M2199.7 469.9a11.6 11.6 0 1 0 23.2 0a11.6 11.6 0 1 0 -23.2 0M2200.7 470.5a11.6 11.6 0 1 0 23.2 0a11.6 11.6 0 1 0 -23.2 0M2201.7 471.1a11.6 11.6 0 1 0 23.2 0a11.6 11.6 0 1 0 -23.2 0M2202.7 471.7a11.6 11.6 0 1 0 23.2 0a11.6 11.6 0 1 0 -23.2 0M2203.7 472.3a11.6 11.6 0 1 0 23.2 0a11.6 11.6 0 1 0 -23.2 0M2204.7 472.9a11.6 11.6 0 1 0 23.2 0a11.6 11.6 0 1 0 -23.2 0M2205.6 473.5a11.6 11.6 0 1 0 23.2 0a11.6 11.6 0 1 0 -23.2 0M2206.6 474.0a11.6 11.6 0 1 0 23.2 0a11.6 11.6 0 1 0 -23.2 0M2207.6 474.6a11.6 11.6 0 1 0 23.2 0a11.6 11.6 0 1 0 -23.2 0M2208.6 475.1a11.6 11.6 0 1 0 23.2 0a11.6 11.6 0 1 0 -23.2 0M2209.6 475.6a11.6 11.6 0 1 0 23.2 0a11.6 11.6 0 1 0 -23.2 0M2210.5 476.2a11.6 11.6 0 1 0 23.2 0a11.6 11.6 0 1 0 -23.2 0M2211.5 476.7a11.6 11.6 0 1 0 23.2 0a11.6 11.6 0 1 0 -23.2 0M2212.5 477.2a11.6 11.6 0 1 0 23.2 0a11.6 11.6 0 1 0 -23.2 0M2213.4 477.7a11.6 11.6 0 1 0 23.2 0a11.6 11.6 0 1 0 -23.2 0M2214.4 478.2a11.6 11.6 0 1 0 23.2 0a11.6 11.6 0 1 0 -23.2 0M2215.3 478.7a11.6 11.6 0 1 0 23.2 0a11.6 11.6 0 1 0 -23.2 0M2216.3 479.2a11.6 11.6 0 1 0 23.2 0a11.6 11.6 0 1 0 -23.2 0M2217.2 479.6a11.6 11.6 0 1 0 23.2 0a11.6 11.6 0 1 0 -23.2 0M2218.2 480.1a11.6 11.6 0 1 0 23.2 0a11.6 11.6 0 1 0 -23.2 0M2219.1 480.6a11.6 11.6 0 1 0 23.2 0a11.6 11.6 0 1 0 -23.2 0M2220.1 481.1a11.6 11.6 0 1 0 23.2 0a11.6 11.6 0 1 0 -23.2 0M2221.0 481.5a11.6 11.6 0 1 0 23.2 0a11.6 11.6 0 1 0 -23.2 0M2221.9 482.0a11.6 11.6 0 1 0 23.2 0a11.6 11.6 0 1 0 -23.2 0M2222.9 482.4a11.6 11.6 0 1 0 23.2 0a11.6 11.6 0 1 0 -23.2 0M2223.8 500.9a11.6 11.6 0 1 0 23.2 0a11.6 11.6 0 1 0 -23.2 0M2224.7 483.3a11.6 11.6 0 1 0 23.2 0a11.6 11.6 0 1 0 -23.2 0M2225.6 488.3a11.6 11.6 0 1 0 23.2 0a11.6 11.6 0 1 0 -23.2 0" fill="#bababa"/>
<path d="M1394.2 310.8V315.2M1413.6 311.3V315.8M1431.7 311.8V316.3M1448.7 312.2V316.8M1464.7 312.6V317.2M1479.8 312.9V317.6M1494.1 313.2V318.0M1507.7 313.5V318.3M1520.6 313.8V318.6M1533.0 314.1V318.9M1544.8 314.4V319.3M1556.2 314.6V319.6M1567.1 314.9V319.9M1577.5 315.2V320.2M1587.6 315.5V320.5M1597.3 315.8V320.9M1606.7 316.1V321.2M1615.8 316.4V321.5M1624.6 316.7V321.8M1633.1 317.0V322.2M1641.3 317.3V322.5M1649.4 317.7V322.9M1657.1 318.0V323.3M1664.7 318.4V323.7M1672.1 318.8V324.1M1679.2 319.2V324.5M1686.2 319.6V324.9M1693.1 319.9V325.3M1699.7 320.3V325.7M1706.2 320.6V326.0M1712.5 320.9V326.4M1718.7 321.2V326.7M1724.8 321.5V327.0M1730.7 321.7V327.2M1736.5 322.0V327.5M1742.2 322.2V327.7M1747.8 322.4V327.9M1753.2 322.6V328.1M1758.6 322.7V328.3M1763.8 322.9V328.5M1768.9 323.2V328.8M1774.0 323.4V329.0M1778.9 323.6V329.2M1783.8 323.9V329.5M1788.6 324.1V329.8M1793.3 324.4V330.1M1797.9 324.7V330.4M1802.5 325.0V330.8M1806.9 325.4V331.1M1811.3 325.8V331.5M1815.7 326.2V331.9M1819.9 326.6V332.3M1824.1 327.0V332.7M1828.3 327.4V333.2M1832.3 327.8V333.6M1836.4 328.3V334.1M1840.3 328.7V334.6M1844.2 329.2V335.0M1848.0 329.7V335.5M1851.8 330.1V336.0M1855.6 330.6V336.5M1859.3 331.1V337.0M1862.9 331.6V337.5M1866.5 332.1V338.0M1870.0 332.6V338.5M1873.5 333.1V339.0M1877.0 333.6V339.5M1880.4 334.1V340.0M1883.8 334.6V340.5M1887.1 335.1V341.0M1890.4 335.5V341.5M1893.6 336.0V342.0M1896.8 336.5V342.5M1900.0 337.0V343.1M1903.1 337.5V343.6M1906.2 338.1V344.1M1909.3 338.6V344.7M1912.3 339.2V345.3M1915.3 339.8V345.9M1918.3 340.4V346.5M1921.2 341.0V347.1M1924.1 341.6V347.7M1927.0 342.3V348.4M1929.9 342.9V349.0M1932.7 343.6V349.7M1935.5 344.2V350.3M1938.2 344.9V351.0M1940.9 345.5V351.6M1943.6 346.1V352.3M1946.3 346.8V352.9M1949.0 347.4V353.6M1951.6 348.0V354.2M1954.2 348.6V354.8M1956.8 349.2V355.4M1959.3 349.8V356.0M1961.8 350.4V356.6M1964.4 350.9V357.1M1966.8 351.4V357.7M1969.3 352.0V358.2M1971.7 352.5V358.7M1974.1 353.0V359.2M1976.5 353.5V359.7M1978.9 354.0V360.2M1981.3 354.5V360.8M1983.6 355.0V361.3M1985.9 355.5V361.8M1988.2 356.1V362.4M1990.5 356.7V363.0M1992.7 357.2V363.5M1995.0 357.8V364.2M1997.2 358.5V364.8M1999.4 359.1V365.5M2001.6 359.8V366.1M2003.7 360.5V366.9M2005.9 361.3V367.7M2008.0 362.2V368.5M2010.1 363.1V369.4M2012.2 364.0V370.4M2014.3 365.0V371.4M2016.4 366.0V372.4M2018.4 367.0V373.4M2020.5 368.0V374.4M2022.5 369.1V375.5M2024.5 370.1V376.5M2026.5 371.2V377.6M2028.5 372.2V378.6M2030.4 373.2V379.7M2032.4 374.3V380.7M2034.3 375.4V381.9M2036.3 376.6V383.0M2038.2 377.8V384.2M2040.1 378.9V385.4M2041.9 380.0V386.5M2043.8 381.1V387.6M2045.7 382.1V388.6M2047.5 383.1V389.5M2049.3 383.9V390.4M2051.2 384.8V391.3M2053.0 385.6V392.1M2054.8 386.4V392.9M2056.6 387.2V393.7M2058.3 387.9V394.5M2060.1 388.7V395.2M2061.8 389.4V395.9M2063.6 390.1V396.6M2065.3 390.8V397.3M2067.0 391.5V398.0M2068.7 392.1V398.7M2070.4 392.8V399.4M2072.1 393.5V400.1M2073.8 394.2V400.7M2075.4 394.8V401.4M2077.1 395.5V402.1M2078.7 396.2V402.8M2080.4 396.9V403.5M2082.0 397.6V404.2M2083.6 398.3V404.9M2085.2 399.0V405.6M2086.8 399.7V406.3M2088.4 400.3V406.9M2090.0 401.0V407.6M2091.6 401.7V408.3M2093.1 402.3V408.9M2094.7 403.0V409.6M2096.2 403.6V410.3M2097.7 404.3V410.9M2099.3 404.9V411.5M2100.8 405.5V412.2M2102.3 406.1V412.9M2103.8 406.7V413.6M2105.3 407.4V414.2M2106.8 408.0V414.9M2108.3 408.6V415.6M2109.7 409.2V416.3M2111.2 409.8V416.9M2112.6 410.4V417.6M2114.1 411.0V418.3M2115.5 411.6V418.9M2116.9 412.2V419.6M2118.4 412.8V420.3M2119.8 413.4V421.0M2121.2 414.1V421.7M2122.6 414.7V422.3M2124.0 415.3V423.0M2125.4 415.9V423.7M2126.7 416.6V424.4M2128.1 417.2V425.1M2129.5 417.8V425.8M2130.8 418.5V426.5M2132.2 419.1V427.2M2133.5 419.8V427.9M2134.9 420.4V428.6M2136.2 421.1V429.3M2137.5 421.7V430.1M2138.9 422.4V430.8M2140.2 423.1V431.5M2141.5 423.7V432.2M2142.8 424.4V433.0M2144.1 425.1V433.7M2145.4 425.8V434.4M2146.6 426.4V435.1M2147.9 427.1V435.9M2149.2 427.8V436.6M2150.4 428.4V437.4M2151.7 429.1V438.2M2153.0 429.7V439.0M2154.2 430.3V439.8M2155.4 430.9V440.6M2156.7 431.5V441.4M2157.9 432.1V442.2M2159.1 432.8V443.0M2160.4 433.4V443.8M2161.6 434.0V444.6M2162.8 434.6V445.4M2164.0 435.2V446.2M2165.2 435.8V447.0M2166.4 436.5V447.7M2167.6 437.1V448.5M2168.7 437.7V449.3M2169.9 438.3V450.1M2171.1 438.9V450.9M2172.3 439.5V451.7M2173.4 440.1V452.4M2174.6 440.7V453.2M2175.7 441.3V454.0M2176.9 441.9V454.8M2178.0 442.5V455.5M2179.2 443.1V456.3M2180.3 443.7V457.1M2181.4 444.1V458.0M2182.5 444.5V459.0M2183.7 445.0V459.9M2184.8 445.5V460.9M2185.9 445.9V461.8M2187.0 446.4V462.8M2188.1 446.9V463.8M2189.2 447.3V464.7M2190.3 447.8V465.7M2191.4 448.3V466.7M2192.4 448.8V467.6M2193.5 449.2V468.6M2194.6 449.7V469.5M2195.7 450.2V470.5M2196.7 450.7V471.5M2197.8 451.2V472.4M2198.9 451.6V473.4M2199.9 452.1V474.3M2201.0 452.5V475.4M2202.0 452.8V476.5M2203.1 453.1V477.6M2204.1 453.4V478.7M2205.1 453.8V479.8M2206.2 454.1V480.9M2207.2 454.4V482.0M2208.2 454.7V483.1M2209.2 455.0V484.2M2210.2 455.3V485.2M2211.3 455.6V486.3M2212.3 455.9V487.3M2213.3 456.2V488.4M2214.3 456.5V489.4M2215.3 456.7V490.5M2216.3 456.8V491.7M2217.2 456.9V492.9M2218.2 457.0V494.1M2219.2 457.1V495.3M2220.2 457.2V496.5M2221.2 457.2V497.7M2222.1 457.3V498.9M2223.1 457.4V500.1M2224.1 457.4V501.3M2225.0 457.5V502.4M2226.0 457.6V503.4M2226.9 457.8V504.4M2227.9 457.9V505.4M2228.8 458.1V506.4M2229.8 458.2V507.4M2230.7 458.4V508.4M2231.7 458.5V509.4M2232.6 458.6V510.4M2233.5 458.8V511.3M2234.5 458.9V512.3M2235.4 450.0V597.7M2236.3 459.1V514.2M2237.2 420.0V700.7" stroke="#bababa" stroke-width="3.5" fill="none"/>
<path d="M1381.7 310.8h25M1381.7 315.2h25M1401.1 311.3h25M1401.1 315.8h25M1419.2 311.8h25M1419.2 316.3h25M1436.2 312.2h25M1436.2 316.8h25M1452.2 312.6h25M1452.2 317.2h25M1467.3 312.9h25M1467.3 317.6h25M1481.6 313.2h25M1481.6 318.0h25M1495.2 313.5h25M1495.2 318.3h25M1508.1 313.8h25M1508.1 318.6h25M1520.5 314.1h25M1520.5 318.9h25M1532.3 314.4h25M1532.3 319.3h25M1543.7 314.6h25M1543.7 319.6h25M1554.6 314.9h25M1554.6 319.9h25M1565.0 315.2h25M1565.0 320.2h25M1575.1 315.5h25M1575.1 320.5h25M1584.8 315.8h25M1584.8 320.9h25M1594.2 316.1h25M1594.2 321.2h25M1603.3 316.4h25M1603.3 321.5h25M1612.1 316.7h25M1612.1 321.8h25M1620.6 317.0h25M1620.6 322.2h25M1628.8 317.3h25M1628.8 322.5h25M1636.9 317.7h25M1636.9 322.9h25M1644.6 318.0h25M1644.6 323.3h25M1652.2 318.4h25M1652.2 323.7h25M1659.6 318.8h25M1659.6 324.1h25M1666.7 319.2h25M1666.7 324.5h25M1673.7 319.6h25M1673.7 324.9h25M1680.6 319.9h25M1680.6 325.3h25M1687.2 320.3h25M1687.2 325.7h25M1693.7 320.6h25M1693.7 326.0h25M1700.0 320.9h25M1700.0 326.4h25M1706.2 321.2h25M1706.2 326.7h25M1712.3 321.5h25M1712.3 327.0h25M1718.2 321.7h25M1718.2 327.2h25M1724.0 322.0h25M1724.0 327.5h25M1729.7 322.2h25M1729.7 327.7h25M1735.3 322.4h25M1735.3 327.9h25M1740.7 322.6h25M1740.7 328.1h25M1746.1 322.7h25M1746.1 328.3h25M1751.3 322.9h25M1751.3 328.5h25M1756.4 323.2h25M1756.4 328.8h25M1761.5 323.4h25M1761.5 329.0h25M1766.4 323.6h25M1766.4 329.2h25M1771.3 323.9h25M1771.3 329.5h25M1776.1 324.1h25M1776.1 329.8h25M1780.8 324.4h25M1780.8 330.1h25M1785.4 324.7h25M1785.4 330.4h25M1790.0 325.0h25M1790.0 330.8h25M1794.4 325.4h25M1794.4 331.1h25M1798.8 325.8h25M1798.8 331.5h25M1803.2 326.2h25M1803.2 331.9h25M1807.4 326.6h25M1807.4 332.3h25M1811.6 327.0h25M1811.6 332.7h25M1815.8 327.4h25M1815.8 333.2h25M1819.8 327.8h25M1819.8 333.6h25M1823.9 328.3h25M1823.9 334.1h25M1827.8 328.7h25M1827.8 334.6h25M1831.7 329.2h25M1831.7 335.0h25M1835.5 329.7h25M1835.5 335.5h25M1839.3 330.1h25M1839.3 336.0h25M1843.1 330.6h25M1843.1 336.5h25M1846.8 331.1h25M1846.8 337.0h25M1850.4 331.6h25M1850.4 337.5h25M1854.0 332.1h25M1854.0 338.0h25M1857.5 332.6h25M1857.5 338.5h25M1861.0 333.1h25M1861.0 339.0h25M1864.5 333.6h25M1864.5 339.5h25M1867.9 334.1h25M1867.9 340.0h25M1871.3 334.6h25M1871.3 340.5h25M1874.6 335.1h25M1874.6 341.0h25M1877.9 335.5h25M1877.9 341.5h25M1881.1 336.0h25M1881.1 342.0h25M1884.3 336.5h25M1884.3 342.5h25M1887.5 337.0h25M1887.5 343.1h25M1890.6 337.5h25M1890.6 343.6h25M1893.7 338.1h25M1893.7 344.1h25M1896.8 338.6h25M1896.8 344.7h25M1899.8 339.2h25M1899.8 345.3h25M1902.8 339.8h25M1902.8 345.9h25M1905.8 340.4h25M1905.8 346.5h25M1908.7 341.0h25M1908.7 347.1h25M1911.6 341.6h25M1911.6 347.7h25M1914.5 342.3h25M1914.5 348.4h25M1917.4 342.9h25M1917.4 349.0h25M1920.2 343.6h25M1920.2 349.7h25M1923.0 344.2h25M1923.0 350.3h25M1925.7 344.9h25M1925.7 351.0h25M1928.4 345.5h25M1928.4 351.6h25M1931.1 346.1h25M1931.1 352.3h25M1933.8 346.8h25M1933.8 352.9h25M1936.5 347.4h25M1936.5 353.6h25M1939.1 348.0h25M1939.1 354.2h25M1941.7 348.6h25M1941.7 354.8h25M1944.3 349.2h25M1944.3 355.4h25M1946.8 349.8h25M1946.8 356.0h25M1949.3 350.4h25M1949.3 356.6h25M1951.9 350.9h25M1951.9 357.1h25M1954.3 351.4h25M1954.3 357.7h25M1956.8 352.0h25M1956.8 358.2h25M1959.2 352.5h25M1959.2 358.7h25M1961.6 353.0h25M1961.6 359.2h25M1964.0 353.5h25M1964.0 359.7h25M1966.4 354.0h25M1966.4 360.2h25M1968.8 354.5h25M1968.8 360.8h25M1971.1 355.0h25M1971.1 361.3h25M1973.4 355.5h25M1973.4 361.8h25M1975.7 356.1h25M1975.7 362.4h25M1978.0 356.7h25M1978.0 363.0h25M1980.2 357.2h25M1980.2 363.5h25M1982.5 357.8h25M1982.5 364.2h25M1984.7 358.5h25M1984.7 364.8h25M1986.9 359.1h25M1986.9 365.5h25M1989.1 359.8h25M1989.1 366.1h25M1991.2 360.5h25M1991.2 366.9h25M1993.4 361.3h25M1993.4 367.7h25M1995.5 362.2h25M1995.5 368.5h25M1997.6 363.1h25M1997.6 369.4h25M1999.7 364.0h25M1999.7 370.4h25M2001.8 365.0h25M2001.8 371.4h25M2003.9 366.0h25M2003.9 372.4h25M2005.9 367.0h25M2005.9 373.4h25M2008.0 368.0h25M2008.0 374.4h25M2010.0 369.1h25M2010.0 375.5h25M2012.0 370.1h25M2012.0 376.5h25M2014.0 371.2h25M2014.0 377.6h25M2016.0 372.2h25M2016.0 378.6h25M2017.9 373.2h25M2017.9 379.7h25M2019.9 374.3h25M2019.9 380.7h25M2021.8 375.4h25M2021.8 381.9h25M2023.8 376.6h25M2023.8 383.0h25M2025.7 377.8h25M2025.7 384.2h25M2027.6 378.9h25M2027.6 385.4h25M2029.4 380.0h25M2029.4 386.5h25M2031.3 381.1h25M2031.3 387.6h25M2033.2 382.1h25M2033.2 388.6h25M2035.0 383.1h25M2035.0 389.5h25M2036.8 383.9h25M2036.8 390.4h25M2038.7 384.8h25M2038.7 391.3h25M2040.5 385.6h25M2040.5 392.1h25M2042.3 386.4h25M2042.3 392.9h25M2044.1 387.2h25M2044.1 393.7h25M2045.8 387.9h25M2045.8 394.5h25M2047.6 388.7h25M2047.6 395.2h25M2049.3 389.4h25M2049.3 395.9h25M2051.1 390.1h25M2051.1 396.6h25M2052.8 390.8h25M2052.8 397.3h25M2054.5 391.5h25M2054.5 398.0h25M2056.2 392.1h25M2056.2 398.7h25M2057.9 392.8h25M2057.9 399.4h25M2059.6 393.5h25M2059.6 400.1h25M2061.3 394.2h25M2061.3 400.7h25M2062.9 394.8h25M2062.9 401.4h25M2064.6 395.5h25M2064.6 402.1h25M2066.2 396.2h25M2066.2 402.8h25M2067.9 396.9h25M2067.9 403.5h25M2069.5 397.6h25M2069.5 404.2h25M2071.1 398.3h25M2071.1 404.9h25M2072.7 399.0h25M2072.7 405.6h25M2074.3 399.7h25M2074.3 406.3h25M2075.9 400.3h25M2075.9 406.9h25M2077.5 401.0h25M2077.5 407.6h25M2079.1 401.7h25M2079.1 408.3h25M2080.6 402.3h25M2080.6 408.9h25M2082.2 403.0h25M2082.2 409.6h25M2083.7 403.6h25M2083.7 410.3h25M2085.2 404.3h25M2085.2 410.9h25M2086.8 404.9h25M2086.8 411.5h25M2088.3 405.5h25M2088.3 412.2h25M2089.8 406.1h25M2089.8 412.9h25M2091.3 406.7h25M2091.3 413.6h25M2092.8 407.4h25M2092.8 414.2h25M2094.3 408.0h25M2094.3 414.9h25M2095.8 408.6h25M2095.8 415.6h25M2097.2 409.2h25M2097.2 416.3h25M2098.7 409.8h25M2098.7 416.9h25M2100.1 410.4h25M2100.1 417.6h25M2101.6 411.0h25M2101.6 418.3h25M2103.0 411.6h25M2103.0 418.9h25M2104.4 412.2h25M2104.4 419.6h25M2105.9 412.8h25M2105.9 420.3h25M2107.3 413.4h25M2107.3 421.0h25M2108.7 414.1h25M2108.7 421.7h25M2110.1 414.7h25M2110.1 422.3h25M2111.5 415.3h25M2111.5 423.0h25M2112.9 415.9h25M2112.9 423.7h25M2114.2 416.6h25M2114.2 424.4h25M2115.6 417.2h25M2115.6 425.1h25M2117.0 417.8h25M2117.0 425.8h25M2118.3 418.5h25M2118.3 426.5h25M2119.7 419.1h25M2119.7 427.2h25M2121.0 419.8h25M2121.0 427.9h25M2122.4 420.4h25M2122.4 428.6h25M2123.7 421.1h25M2123.7 429.3h25M2125.0 421.7h25M2125.0 430.1h25M2126.4 422.4h25M2126.4 430.8h25M2127.7 423.1h25M2127.7 431.5h25M2129.0 423.7h25M2129.0 432.2h25M2130.3 424.4h25M2130.3 433.0h25M2131.6 425.1h25M2131.6 433.7h25M2132.9 425.8h25M2132.9 434.4h25M2134.1 426.4h25M2134.1 435.1h25M2135.4 427.1h25M2135.4 435.9h25M2136.7 427.8h25M2136.7 436.6h25M2137.9 428.4h25M2137.9 437.4h25M2139.2 429.1h25M2139.2 438.2h25M2140.5 429.7h25M2140.5 439.0h25M2141.7 430.3h25M2141.7 439.8h25M2142.9 430.9h25M2142.9 440.6h25M2144.2 431.5h25M2144.2 441.4h25M2145.4 432.1h25M2145.4 442.2h25M2146.6 432.8h25M2146.6 443.0h25M2147.9 433.4h25M2147.9 443.8h25M2149.1 434.0h25M2149.1 444.6h25M2150.3 434.6h25M2150.3 445.4h25M2151.5 435.2h25M2151.5 446.2h25M2152.7 435.8h25M2152.7 447.0h25M2153.9 436.5h25M2153.9 447.7h25M2155.1 437.1h25M2155.1 448.5h25M2156.2 437.7h25M2156.2 449.3h25M2157.4 438.3h25M2157.4 450.1h25M2158.6 438.9h25M2158.6 450.9h25M2159.8 439.5h25M2159.8 451.7h25M2160.9 440.1h25M2160.9 452.4h25M2162.1 440.7h25M2162.1 453.2h25M2163.2 441.3h25M2163.2 454.0h25M2164.4 441.9h25M2164.4 454.8h25M2165.5 442.5h25M2165.5 455.5h25M2166.7 443.1h25M2166.7 456.3h25M2167.8 443.7h25M2167.8 457.1h25M2168.9 444.1h25M2168.9 458.0h25M2170.0 444.5h25M2170.0 459.0h25M2171.2 445.0h25M2171.2 459.9h25M2172.3 445.5h25M2172.3 460.9h25M2173.4 445.9h25M2173.4 461.8h25M2174.5 446.4h25M2174.5 462.8h25M2175.6 446.9h25M2175.6 463.8h25M2176.7 447.3h25M2176.7 464.7h25M2177.8 447.8h25M2177.8 465.7h25M2178.9 448.3h25M2178.9 466.7h25M2179.9 448.8h25M2179.9 467.6h25M2181.0 449.2h25M2181.0 468.6h25M2182.1 449.7h25M2182.1 469.5h25M2183.2 450.2h25M2183.2 470.5h25M2184.2 450.7h25M2184.2 471.5h25M2185.3 451.2h25M2185.3 472.4h25M2186.4 451.6h25M2186.4 473.4h25M2187.4 452.1h25M2187.4 474.3h25M2188.5 452.5h25M2188.5 475.4h25M2189.5 452.8h25M2189.5 476.5h25M2190.6 453.1h25M2190.6 477.6h25M2191.6 453.4h25M2191.6 478.7h25M2192.6 453.8h25M2192.6 479.8h25M2193.7 454.1h25M2193.7 480.9h25M2194.7 454.4h25M2194.7 482.0h25M2195.7 454.7h25M2195.7 483.1h25M2196.7 455.0h25M2196.7 484.2h25M2197.7 455.3h25M2197.7 485.2h25M2198.8 455.6h25M2198.8 486.3h25M2199.8 455.9h25M2199.8 487.3h25M2200.8 456.2h25M2200.8 488.4h25M2201.8 456.5h25M2201.8 489.4h25M2202.8 456.7h25M2202.8 490.5h25M2203.8 456.8h25M2203.8 491.7h25M2204.7 456.9h25M2204.7 492.9h25M2205.7 457.0h25M2205.7 494.1h25M2206.7 457.1h25M2206.7 495.3h25M2207.7 457.2h25M2207.7 496.5h25M2208.7 457.2h25M2208.7 497.7h25M2209.6 457.3h25M2209.6 498.9h25M2210.6 457.4h25M2210.6 500.1h25M2211.6 457.4h25M2211.6 501.3h25M2212.5 457.5h25M2212.5 502.4h25M2213.5 457.6h25M2213.5 503.4h25M2214.4 457.8h25M2214.4 504.4h25M2215.4 457.9h25M2215.4 505.4h25M2216.3 458.1h25M2216.3 506.4h25M2217.3 458.2h25M2217.3 507.4h25M2218.2 458.4h25M2218.2 508.4h25M2219.2 458.5h25M2219.2 509.4h25M2220.1 458.6h25M2220.1 510.4h25M2221.0 458.8h25M2221.0 511.3h25M2222.0 458.9h25M2222.0 512.3h25M2222.9 450.0h25M2222.9 597.7h25M2223.8 459.1h25M2223.8 514.2h25M2224.7 420.0h25M2224.7 700.7h25" stroke="#bababa" stroke-width="3.5" fill="none"/>
<path d="M1394.9 316.2 L1398.4 316.4 L1401.9 316.5 L1405.4 316.6 L1408.9 316.7 L1412.5 316.8 L1416.0 316.9 L1419.5 317.0 L1423.0 317.1 L1426.5 317.2 L1430.0 317.3 L1433.5 317.4 L1437.0 317.5 L1440.5 317.6 L1444.1 317.6 L1447.6 317.7 L1451.1 317.8 L1454.6 317.9 L1458.1 318.0 L1461.6 318.1 L1465.1 318.1 L1468.6 318.2 L1472.1 318.3 L1475.7 318.4 L1479.2 318.5 L1482.7 318.5 L1486.2 318.6 L1489.7 318.7 L1493.2 318.7 L1496.7 318.8 L1500.2 318.9 L1503.7 319.0 L1507.2 319.0 L1510.8 319.1 L1514.3 319.2 L1517.8 319.2 L1521.3 319.3 L1524.8 319.4 L1528.3 319.4 L1531.8 319.5 L1535.3 319.6 L1538.8 319.7 L1542.4 319.7 L1545.9 319.8 L1549.4 319.9 L1552.9 319.9 L1556.4 320.0 L1559.9 320.1 L1563.4 320.1 L1566.9 320.2 L1570.4 320.3 L1574.0 320.3 L1577.5 320.4 L1581.0 320.5 L1584.5 320.6 L1588.0 320.6 L1591.5 320.7 L1595.0 320.8 L1598.5 320.9 L1602.0 320.9 L1605.6 321.0 L1609.1 321.1 L1612.6 321.2 L1616.1 321.3 L1619.6 321.3 L1623.1 321.4 L1626.6 321.5 L1630.1 321.6 L1633.6 321.7 L1637.2 321.8 L1640.7 321.9 L1644.2 322.0 L1647.7 322.1 L1651.2 322.1 L1654.7 322.2 L1658.2 322.3 L1661.7 322.4 L1665.2 322.5 L1668.7 322.7 L1672.3 322.8 L1675.8 322.9 L1679.3 323.0 L1682.8 323.1 L1686.3 323.2 L1689.8 323.3 L1693.3 323.5 L1696.8 323.6 L1700.3 323.7 L1703.9 323.8 L1707.4 324.0 L1710.9 324.1 L1714.4 324.2 L1717.9 324.4 L1721.4 324.5 L1724.9 324.7 L1728.4 324.8 L1731.9 325.0 L1735.5 325.1 L1739.0 325.3 L1742.5 325.4 L1746.0 325.6 L1749.5 325.8 L1753.0 325.9 L1756.5 326.1 L1760.0 326.3 L1763.5 326.5 L1767.1 326.6 L1770.6 326.8 L1774.1 327.0 L1777.6 327.2 L1781.1 327.4 L1784.6 327.6 L1788.1 327.8 L1791.6 328.0 L1795.1 328.2 L1798.7 328.5 L1802.2 328.7 L1805.7 328.9 L1809.2 329.2 L1812.7 329.4 L1816.2 329.6 L1819.7 329.9 L1823.2 330.2 L1826.7 330.4 L1830.2 330.7 L1833.8 331.0 L1837.3 331.3 L1840.8 331.6 L1844.3 331.9 L1847.8 332.3 L1851.3 332.6 L1854.8 333.0 L1858.3 333.3 L1861.8 333.7 L1865.4 334.1 L1868.9 334.5 L1872.4 334.9 L1875.9 335.4 L1879.4 335.8 L1882.9 336.3 L1886.4 336.8 L1889.9 337.3 L1893.4 337.8 L1897.0 338.3 L1900.5 338.9 L1904.0 339.5 L1907.5 340.1 L1911.0 340.7 L1914.5 341.3 L1918.0 342.0 L1921.5 342.6 L1925.0 343.3 L1928.6 344.0 L1932.1 344.8 L1935.6 345.5 L1939.1 346.3 L1942.6 347.1 L1946.1 348.0 L1949.6 348.8 L1953.1 349.7 L1956.6 350.6 L1960.2 351.5 L1963.7 352.5 L1967.2 353.5 L1970.7 354.5 L1974.2 355.5 L1977.7 356.6 L1981.2 357.7 L1984.7 358.8 L1988.2 360.0 L1991.7 361.1 L1995.3 362.4 L1998.8 363.6 L2002.3 364.9 L2005.8 366.2 L2009.3 367.5 L2012.8 368.9 L2016.3 370.3 L2019.8 371.7 L2023.3 373.2 L2026.9 374.7 L2030.4 376.3 L2033.9 377.9 L2037.4 379.5 L2040.9 381.1 L2044.4 382.7 L2047.9 384.4 L2051.4 386.1 L2054.9 387.8 L2058.5 389.4 L2062.0 391.1 L2065.5 392.7 L2069.0 394.4 L2072.5 396.0 L2076.0 397.7 L2079.5 399.5 L2083.0 401.4 L2086.5 403.3 L2090.1 405.4 L2093.6 407.5 L2097.1 409.7 L2100.6 411.9 L2104.1 414.2 L2107.6 416.5 L2111.1 418.8 L2114.6 421.1 L2118.1 423.5 L2121.7 425.8 L2125.2 428.1 L2128.7 430.3 L2132.2 432.5 L2135.7 434.6 L2139.2 436.7 L2142.7 438.7 L2146.2 440.6 L2149.7 442.4 L2153.2 444.1 L2156.8 445.6 L2160.3 447.1 L2163.8 448.4 L2167.3 449.6 L2170.8 450.8 L2174.3 451.8 L2177.8 452.8 L2181.3 453.6 L2184.8 454.4 L2188.4 455.2 L2191.9 455.8 L2195.4 456.5 L2198.9 457.0 L2202.4 457.5 L2205.9 458.0 L2209.4 458.5 L2212.9 458.9 L2216.4 459.3 L2220.0 459.7 L2223.5 460.1 L2227.0 460.5 L2230.5 460.9 L2234.0 461.3" stroke="#000" stroke-width="12.5" fill="none" stroke-linejoin="round"/>
<path d="M1382.6 80.9a11.6 11.6 0 1 0 23.2 0a11.6 11.6 0 1 0 -23.2 0M1402.0 84.5a11.6 11.6 0 1 0 23.2 0a11.6 11.6 0 1 0 -23.2 0M1420.1 88.0a11.6 11.6 0 1 0 23.2 0a11.6 11.6 0 1 0 -23.2 0M1437.1 92.2a11.6 11.6 0 1 0 23.2 0a11.6 11.6 0 1 0 -23.2 0M1453.1 98.1a11.6 11.6 0 1 0 23.2 0a11.6 11.6 0 1 0 -23.2 0M1468.2 102.9a11.6 11.6 0 1 0 23.2 0a11.6 11.6 0 1 0 -23.2 0M1482.5 106.9a11.6 11.6 0 1 0 23.2 0a11.6 11.6 0 1 0 -23.2 0M1496.1 110.5a11.6 11.6 0 1 0 23.2 0a11.6 11.6 0 1 0 -23.2 0M1509.0 113.8a11.6 11.6 0 1 0 23.2 0a11.6 11.6 0 1 0 -23.2 0M1521.4 117.0a11.6 11.6 0 1 0 23.2 0a11.6 11.6 0 1 0 -23.2 0M1533.2 120.3a11.6 11.6 0 1 0 23.2 0a11.6 11.6 0 1 0 -23.2 0M1544.6 123.7a11.6 11.6 0 1 0 23.2 0a11.6 11.6 0 1 0 -23.2 0M1555.5 127.3a11.6 11.6 0 1 0 23.2 0a11.6 11.6 0 1 0 -23.2 0M1565.9 131.0a11.6 11.6 0 1 0 23.2 0a11.6 11.6 0 1 0 -23.2 0M1576.0 134.6a11.6 11.6 0 1 0 23.2 0a11.6 11.6 0 1 0 -23.2 0M1585.7 138.2a11.6 11.6 0 1 0 23.2 0a11.6 11.6 0 1 0 -23.2 0M1595.1 141.7a11.6 11.6 0 1 0 23.2 0a11.6 11.6 0 1 0 -23.2 0M1604.2 145.1a11.6 11.6 0 1 0 23.2 0a11.6 11.6 0 1 0 -23.2 0M1613.0 148.4a11.6 11.6 0 1 0 23.2 0a11.6 11.6 0 1 0 -23.2 0M1621.5 151.6a11.6 11.6 0 1 0 23.2 0a11.6 11.6 0 1 0 -23.2 0M1629.7 154.7a11.6 11.6 0 1 0 23.2 0a11.6 11.6 0 1 0 -23.2 0M1637.8 157.6a11.6 11.6 0 1 0 23.2 0a11.6 11.6 0 1 0 -23.2 0M1645.5 160.5a11.6 11.6 0 1 0 23.2 0a11.6 11.6 0 1 0 -23.2 0M1653.1 163.3a11.6 11.6 0 1 0 23.2 0a11.6 11.6 0 1 0 -23.2 0M1660.5 166.0a11.6 11.6 0 1 0 23.2 0a11.6 11.6 0 1 0 -23.2 0M1667.6 168.7a11.6 11.6 0 1 0 23.2 0a11.6 11.6 0 1 0 -23.2 0M1674.6 171.3a11.6 11.6 0 1 0 23.2 0a11.6 11.6 0 1 0 -23.2 0M1681.5 173.9a11.6 11.6 0 1 0 23.2 0a11.6 11.6 0 1 0 -23.2 0M1688.1 176.4a11.6 11.6 0 1 0 23.2 0a11.6 11.6 0 1 0 -23.2 0M1694.6 178.9a11.6 11.6 0 1 0 23.2 0a11.6 11.6 0 1 0 -23.2 0M1700.9 181.4a11.6 11.6 0 1 0 23.2 0a11.6 11.6 0 1 0 -23.2 0M1707.1 183.8a11.6 11.6 0 1 0 23.2 0a11.6 11.6 0 1 0 -23.2 0M1713.2 186.2a11.6 11.6 0 1 0 23.2 0a11.6 11.6 0 1 0 -23.2 0M1719.1 188.5a11.6 11.6 0 1 0 23.2 0a11.6 11.6 0 1 0 -23.2 0M1724.9 190.8a11.6 11.6 0 1 0 23.2 0a11.6 11.6 0 1 0 -23.2 0M1730.6 193.0a11.6 11.6 0 1 0 23.2 0a11.6 11.6 0 1 0 -23.2 0M1736.2 195.2a11.6 11.6 0 1 0 23.2 0a11.6 11.6 0 1 0 -23.2 0M1741.6 197.4a11.6 11.6 0 1 0 23.2 0a11.6 11.6 0 1 0 -23.2 0M1747.0 199.5a11.6 11.6 0 1 0 23.2 0a11.6 11.6 0 1 0 -23.2 0M1752.2 201.7a11.6 11.6 0 1 0 23.2 0a11.6 11.6 0 1 0 -23.2 0M1757.3 203.8a11.6 11.6 0 1 0 23.2 0a11.6 11.6 0 1 0 -23.2 0M1762.4 205.9a11.6 11.6 0 1 0 23.2 0a11.6 11.6 0 1 0 -23.2 0M1767.3 208.1a11.6 11.6 0 1 0 23.2 0a11.6 11.6 0 1 0 -23.2 0M1772.2 210.2a11.6 11.6 0 1 0 23.2 0a11.6 11.6 0 1 0 -23.2 0M1777.0 212.4a11.6 11.6 0 1 0 23.2 0a11.6 11.6 0 1 0 -23.2 0M1781.7 214.5a11.6 11.6 0 1 0 23.2 0a11.6 11.6 0 1 0 -23.2 0M1786.3 216.7a11.6 11.6 0 1 0 23.2 0a11.6 11.6 0 1 0 -23.2 0M1790.9 218.9a11.6 11.6 0 1 0 23.2 0a11.6 11.6 0 1 0 -23.2 0M1795.3 221.2a11.6 11.6 0 1 0 23.2 0a11.6 11.6 0 1 0 -23.2 0M1799.7 223.4a11.6 11.6 0 1 0 23.2 0a11.6 11.6 0 1 0 -23.2 0M1804.1 225.7a11.6 11.6 0 1 0 23.2 0a11.6 11.6 0 1 0 -23.2 0M1808.3 227.9a11.6 11.6 0 1 0 23.2 0a11.6 11.6 0 1 0 -23.2 0M1812.5 230.1a11.6 11.6 0 1 0 23.2 0a11.6 11.6 0 1 0 -23.2 0M1816.7 232.3a11.6 11.6 0 1 0 23.2 0a11.6 11.6 0 1 0 -23.2 0M1820.7 234.4a11.6 11.6 0 1 0 23.2 0a11.6 11.6 0 1 0 -23.2 0M1824.8 236.5a11.6 11.6 0 1 0 23.2 0a11.6 11.6 0 1 0 -23.2 0M1828.7 238.6a11.6 11.6 0 1 0 23.2 0a11.6 11.6 0 1 0 -23.2 0M1832.6 240.6a11.6 11.6 0 1 0 23.2 0a11.6 11.6 0 1 0 -23.2 0M1836.4 242.6a11.6 11.6 0 1 0 23.2 0a11.6 11.6 0 1 0 -23.2 0M1840.2 244.5a11.6 11.6 0 1 0 23.2 0a11.6 11.6 0 1 0 -23.2 0M1844.0 246.4a11.6 11.6 0 1 0 23.2 0a11.6 11.6 0 1 0 -23.2 0M1847.7 248.2a11.6 11.6 0 1 0 23.2 0a11.6 11.6 0 1 0 -23.2 0M1851.3 250.0a11.6 11.6 0 1 0 23.2 0a11.6 11.6 0 1 0 -23.2 0M1854.9 251.9a11.6 11.6 0 1 0 23.2 0a11.6 11.6 0 1 0 -23.2 0M1858.4 253.6a11.6 11.6 0 1 0 23.2 0a11.6 11.6 0 1 0 -23.2 0M1861.9 255.4a11.6 11.6 0 1 0 23.2 0a11.6 11.6 0 1 0 -23.2 0M1865.4 257.2a11.6 11.6 0 1 0 23.2 0a11.6 11.6 0 1 0 -23.2 0M1868.8 258.9a11.6 11.6 0 1 0 23.2 0a11.6 11.6 0 1 0 -23.2 0M1872.2 260.7a11.6 11.6 0 1 0 23.2 0a11.6 11.6 0 1 0 -23.2 0M1875.5 262.4a11.6 11.6 0 1 0 23.2 0a11.6 11.6 0 1 0 -23.2 0M1878.8 264.2a11.6 11.6 0 1 0 23.2 0a11.6 11.6 0 1 0 -23.2 0M1882.0 266.0a11.6 11.6 0 1 0 23.2 0a11.6 11.6 0 1 0 -23.2 0M1885.2 267.7a11.6 11.6 0 1 0 23.2 0a11.6 11.6 0 1 0 -23.2 0M1888.4 269.5a11.6 11.6 0 1 0 23.2 0a11.6 11.6 0 1 0 -23.2 0M1891.5 271.3a11.6 11.6 0 1 0 23.2 0a11.6 11.6 0 1 0 -23.2 0M1894.6 273.1a11.6 11.6 0 1 0 23.2 0a11.6 11.6 0 1 0 -23.2 0M1897.7 274.9a11.6 11.6 0 1 0 23.2 0a11.6 11.6 0 1 0 -23.2 0M1900.7 276.7a11.6 11.6 0 1 0 23.2 0a11.6 11.6 0 1 0 -23.2 0M1903.7 278.5a11.6 11.6 0 1 0 23.2 0a11.6 11.6 0 1 0 -23.2 0M1906.7 280.3a11.6 11.6 0 1 0 23.2 0a11.6 11.6 0 1 0 -23.2 0M1909.6 282.1a11.6 11.6 0 1 0 23.2 0a11.6 11.6 0 1 0 -23.2 0M1912.5 283.9a11.6 11.6 0 1 0 23.2 0a11.6 11.6 0 1 0 -23.2 0M1915.4 285.7a11.6 11.6 0 1 0 23.2 0a11.6 11.6 0 1 0 -23.2 0M1918.3 287.5a11.6 11.6 0 1 0 23.2 0a11.6 11.6 0 1 0 -23.2 0M1921.1 289.2a11.6 11.6 0 1 0 23.2 0a11.6 11.6 0 1 0 -23.2 0M1923.9 291.0a11.6 11.6 0 1 0 23.2 0a11.6 11.6 0 1 0 -23.2 0M1926.6 292.8a11.6 11.6 0 1 0 23.2 0a11.6 11.6 0 1 0 -23.2 0M1929.3 294.5a11.6 11.6 0 1 0 23.2 0a11.6 11.6 0 1 0 -23.2 0M1932.0 296.3a11.6 11.6 0 1 0 23.2 0a11.6 11.6 0 1 0 -23.2 0M1934.7 298.0a11.6 11.6 0 1 0 23.2 0a11.6 11.6 0 1 0 -23.2 0M1937.4 299.7a11.6 11.6 0 1 0 23.2 0a11.6 11.6 0 1 0 -23.2 0M1940.0 301.5a11.6 11.6 0 1 0 23.2 0a11.6 11.6 0 1 0 -23.2 0M1942.6 303.2a11.6 11.6 0 1 0 23.2 0a11.6 11.6 0 1 0 -23.2 0M1945.2 304.9a11.6 11.6 0 1 0 23.2 0a11.6 11.6 0 1 0 -23.2 0M1947.7 306.6a11.6 11.6 0 1 0 23.2 0a11.6 11.6 0 1 0 -23.2 0M1950.2 308.2a11.6 11.6 0 1 0 23.2 0a11.6 11.6 0 1 0 -23.2 0M1952.8 309.9a11.6 11.6 0 1 0 23.2 0a11.6 11.6 0 1 0 -23.2 0M1955.2 311.6a11.6 11.6 0 1 0 23.2 0a11.6 11.6 0 1 0 -23.2 0M1957.7 313.3a11.6 11.6 0 1 0 23.2 0a11.6 11.6 0 1 0 -23.2 0M1960.1 314.9a11.6 11.6 0 1 0 23.2 0a11.6 11.6 0 1 0 -23.2 0M1962.5 316.6a11.6 11.6 0 1 0 23.2 0a11.6 11.6 0 1 0 -23.2 0M1964.9 318.3a11.6 11.6 0 1 0 23.2 0a11.6 11.6 0 1 0 -23.2 0M1967.3 320.0a11.6 11.6 0 1 0 23.2 0a11.6 11.6 0 1 0 -23.2 0M1969.7 321.6a11.6 11.6 0 1 0 23.2 0a11.6 11.6 0 1 0 -23.2 0M1972.0 323.3a11.6 11.6 0 1 0 23.2 0a11.6 11.6 0 1 0 -23.2 0M1974.3 324.9a11.6 11.6 0 1 0 23.2 0a11.6 11.6 0 1 0 -23.2 0M1976.6 326.5a11.6 11.6 0 1 0 23.2 0a11.6 11.6 0 1 0 -23.2 0M1978.9 328.2a11.6 11.6 0 1 0 23.2 0a11.6 11.6 0 1 0 -23.2 0M1981.1 329.8a11.6 11.6 0 1 0 23.2 0a11.6 11.6 0 1 0 -23.2 0M1983.4 331.4a11.6 11.6 0 1 0 23.2 0a11.6 11.6 0 1 0 -23.2 0M1985.6 333.0a11.6 11.6 0 1 0 23.2 0a11.6 11.6 0 1 0 -23.2 0M1987.8 334.5a11.6 11.6 0 1 0 23.2 0a11.6 11.6 0 1 0 -23.2 0M1990.0 336.1a11.6 11.6 0 1 0 23.2 0a11.6 11.6 0 1 0 -23.2 0M1992.1 337.6a11.6 11.6 0 1 0 23.2 0a11.6 11.6 0 1 0 -23.2 0M1994.3 339.2a11.6 11.6 0 1 0 23.2 0a11.6 11.6 0 1 0 -23.2 0M1996.4 340.7a11.6 11.6 0 1 0 23.2 0a11.6 11.6 0 1 0 -23.2 0M1998.5 342.2a11.6 11.6 0 1 0 23.2 0a11.6 11.6 0 1 0 -23.2 0M2000.6 343.6a11.6 11.6 0 1 0 23.2 0a11.6 11.6 0 1 0 -23.2 0M2002.7 345.1a11.6 11.6 0 1 0 23.2 0a11.6 11.6 0 1 0 -23.2 0M2004.8 346.5a11.6 11.6 0 1 0 23.2 0a11.6 11.6 0 1 0 -23.2 0M2006.8 347.9a11.6 11.6 0 1 0 23.2 0a11.6 11.6 0 1 0 -23.2 0M2008.9 349.3a11.6 11.6 0 1 0 23.2 0a11.6 11.6 0 1 0 -23.2 0M2010.9 350.7a11.6 11.6 0 1 0 23.2 0a11.6 11.6 0 1 0 -23.2 0M2012.9 352.1a11.6 11.6 0 1 0 23.2 0a11.6 11.6 0 1 0 -23.2 0M2014.9 353.4a11.6 11.6 0 1 0 23.2 0a11.6 11.6 0 1 0 -23.2 0M2016.9 354.8a11.6 11.6 0 1 0 23.2 0a11.6 11.6 0 1 0 -23.2 0M2018.8 356.1a11.6 11.6 0 1 0 23.2 0a11.6 11.6 0 1 0 -23.2 0M2020.8 357.5a11.6 11.6 0 1 0 23.2 0a11.6 11.6 0 1 0 -23.2 0M2022.7 358.8a11.6 11.6 0 1 0 23.2 0a11.6 11.6 0 1 0 -23.2 0M2024.7 360.1a11.6 11.6 0 1 0 23.2 0a11.6 11.6 0 1 0 -23.2 0M2026.6 361.4a11.6 11.6 0 1 0 23.2 0a11.6 11.6 0 1 0 -23.2 0M2028.5 362.7a11.6 11.6 0 1 0 23.2 0a11.6 11.6 0 1 0 -23.2 0M2030.3 364.0a11.6 11.6 0 1 0 23.2 0a11.6 11.6 0 1 0 -23.2 0M2032.2 365.3a11.6 11.6 0 1 0 23.2 0a11.6 11.6 0 1 0 -23.2 0M2034.1 366.5a11.6 11.6 0 1 0 23.2 0a11.6 11.6 0 1 0 -23.2 0M2035.9 367.8a11.6 11.6 0 1 0 23.2 0a11.6 11.6 0 1 0 -23.2 0M2037.7 369.0a11.6 11.6 0 1 0 23.2 0a11.6 11.6 0 1 0 -23.2 0M2039.6 370.2a11.6 11.6 0 1 0 23.2 0a11.6 11.6 0 1 0 -23.2 0M2041.4 371.5a11.6 11.6 0 1 0 23.2 0a11.6 11.6 0 1 0 -23.2 0M2043.2 372.7a11.6 11.6 0 1 0 23.2 0a11.6 11.6 0 1 0 -23.2 0M2045.0 373.9a11.6 11.6 0 1 0 23.2 0a11.6 11.6 0 1 0 -23.2 0M2046.7 375.0a11.6 11.6 0 1 0 23.2 0a11.6 11.6 0 1 0 -23.2 0M2048.5 376.2a11.6 11.6 0 1 0 23.2 0a11.6 11.6 0 1 0 -23.2 0M2050.2 377.4a11.6 11.6 0 1 0 23.2 0a11.6 11.6 0 1 0 -23.2 0M2052.0 378.5a11.6 11.6 0 1 0 23.2 0a11.6 11.6 0 1 0 -23.2 0M2053.7 379.6a11.6 11.6 0 1 0 23.2 0a11.6 11.6 0 1 0 -23.2 0M2055.4 380.7a11.6 11.6 0 1 0 23.2 0a11.6 11.6 0 1 0 -23.2 0M2057.1 381.8a11.6 11.6 0 1 0 23.2 0a11.6 11.6 0 1 0 -23.2 0M2058.8 382.9a11.6 11.6 0 1 0 23.2 0a11.6 11.6 0 1 0 -23.2 0M2060.5 384.0a11.6 11.6 0 1 0 23.2 0a11.6 11.6 0 1 0 -23.2 0M2062.2 385.1a11.6 11.6 0 1 0 23.2 0a11.6 11.6 0 1 0 -23.2 0M2063.8 386.1a11.6 11.6 0 1 0 23.2 0a11.6 11.6 0 1 0 -23.2 0M2065.5 387.2a11.6 11.6 0 1 0 23.2 0a11.6 11.6 0 1 0 -23.2 0M2067.1 388.2a11.6 11.6 0 1 0 23.2 0a11.6 11.6 0 1 0 -23.2 0M2068.8 389.2a11.6 11.6 0 1 0 23.2 0a11.6 11.6 0 1 0 -23.2 0M2070.4 390.2a11.6 11.6 0 1 0 23.2 0a11.6 11.6 0 1 0 -23.2 0M2072.0 391.2a11.6 11.6 0 1 0 23.2 0a11.6 11.6 0 1 0 -23.2 0M2073.6 392.2a11.6 11.6 0 1 0 23.2 0a11.6 11.6 0 1 0 -23.2 0M2075.2 393.1a11.6 11.6 0 1 0 23.2 0a11.6 11.6 0 1 0 -23.2 0M2076.8 394.1a11.6 11.6 0 1 0 23.2 0a11.6 11.6 0 1 0 -23.2 0M2078.4 395.0a11.6 11.6 0 1 0 23.2 0a11.6 11.6 0 1 0 -23.2 0M2080.0 395.9a11.6 11.6 0 1 0 23.2 0a11.6 11.6 0 1 0 -23.2 0M2081.5 396.8a11.6 11.6 0 1 0 23.2 0a11.6 11.6 0 1 0 -23.2 0M2083.1 397.7a11.6 11.6 0 1 0 23.2 0a11.6 11.6 0 1 0 -23.2 0M2084.6 398.6a11.6 11.6 0 1 0 23.2 0a11.6 11.6 0 1 0 -23.2 0M2086.1 399.5a11.6 11.6 0 1 0 23.2 0a11.6 11.6 0 1 0 -23.2 0M2087.7 400.4a11.6 11.6 0 1 0 23.2 0a11.6 11.6 0 1 0 -23.2 0M2089.2 401.2a11.6 11.6 0 1 0 23.2 0a11.6 11.6 0 1 0 -23.2 0M2090.7 402.1a11.6 11.6 0 1 0 23.2 0a11.6 11.6 0 1 0 -23.2 0M2092.2 403.0a11.6 11.6 0 1 0 23.2 0a11.6 11.6 0 1 0 -23.2 0M2093.7 403.9a11.6 11.6 0 1 0 23.2 0a11.6 11.6 0 1 0 -23.2 0M2095.2 404.8a11.6 11.6 0 1 0 23.2 0a11.6 11.6 0 1 0 -23.2 0M2096.7 405.7a11.6 11.6 0 1 0 23.2 0a11.6 11.6 0 1 0 -23.2 0M2098.1 406.6a11.6 11.6 0 1 0 23.2 0a11.6 11.6 0 1 0 -23.2 0M2099.6 407.5a11.6 11.6 0 1 0 23.2 0a11.6 11.6 0 1 0 -23.2 0M2101.0 408.4a11.6 11.6 0 1 0 23.2 0a11.6 11.6 0 1 0 -23.2 0M2102.5 409.3a11.6 11.6 0 1 0 23.2 0a11.6 11.6 0 1 0 -23.2 0M2103.9 410.2a11.6 11.6 0 1 0 23.2 0a11.6 11.6 0 1 0 -23.2 0M2105.3 411.1a11.6 11.6 0 1 0 23.2 0a11.6 11.6 0 1 0 -23.2 0M2106.8 412.0a11.6 11.6 0 1 0 23.2 0a11.6 11.6 0 1 0 -23.2 0M2108.2 412.9a11.6 11.6 0 1 0 23.2 0a11.6 11.6 0 1 0 -23.2 0M2109.6 413.8a11.6 11.6 0 1 0 23.2 0a11.6 11.6 0 1 0 -23.2 0M2111.0 414.7a11.6 11.6 0 1 0 23.2 0a11.6 11.6 0 1 0 -23.2 0M2112.4 415.6a11.6 11.6 0 1 0 23.2 0a11.6 11.6 0 1 0 -23.2 0M2113.8 416.5a11.6 11.6 0 1 0 23.2 0a11.6 11.6 0 1 0 -23.2 0M2115.1 417.4a11.6 11.6 0 1 0 23.2 0a11.6 11.6 0 1 0 -23.2 0M2116.5 418.3a11.6 11.6 0 1 0 23.2 0a11.6 11.6 0 1 0 -23.2 0M2117.9 419.2a11.6 11.6 0 1 0 23.2 0a11.6 11.6 0 1 0 -23.2 0M2119.2 420.1a11.6 11.6 0 1 0 23.2 0a11.6 11.6 0 1 0 -23.2 0M2120.6 421.0a11.6 11.6 0 1 0 23.2 0a11.6 11.6 0 1 0 -23.2 0M2121.9 421.8a11.6 11.6 0 1 0 23.2 0a11.6 11.6 0 1 0 -23.2 0M2123.3 422.7a11.6 11.6 0 1 0 23.2 0a11.6 11.6 0 1 0 -23.2 0M2124.6 423.6a11.6 11.6 0 1 0 23.2 0a11.6 11.6 0 1 0 -23.2 0M2125.9 424.4a11.6 11.6 0 1 0 23.2 0a11.6 11.6 0 1 0 -23.2 0M2127.3 425.3a11.6 11.6 0 1 0 23.2 0a11.6 11.6 0 1 0 -23.2 0M2128.6 426.1a11.6 11.6 0 1 0 23.2 0a11.6 11.6 0 1 0 -23.2 0M2129.9 426.9a11.6 11.6 0 1 0 23.2 0a11.6 11.6 0 1 0 -23.2 0M2131.2 427.8a11.6 11.6 0 1 0 23.2 0a11.6 11.6 0 1 0 -23.2 0M2132.5 428.6a11.6 11.6 0 1 0 23.2 0a11.6 11.6 0 1 0 -23.2 0M2133.8 429.4a11.6 11.6 0 1 0 23.2 0a11.6 11.6 0 1 0 -23.2 0M2135.0 430.2a11.6 11.6 0 1 0 23.2 0a11.6 11.6 0 1 0 -23.2 0M2136.3 431.0a11.6 11.6 0 1 0 23.2 0a11.6 11.6 0 1 0 -23.2 0M2137.6 431.7a11.6 11.6 0 1 0 23.2 0a11.6 11.6 0 1 0 -23.2 0M2138.8 432.5a11.6 11.6 0 1 0 23.2 0a11.6 11.6 0 1 0 -23.2 0M2140.1 433.2a11.6 11.6 0 1 0 23.2 0a11.6 11.6 0 1 0 -23.2 0M2141.4 434.0a11.6 11.6 0 1 0 23.2 0a11.6 11.6 0 1 0 -23.2 0M2142.6 434.7a11.6 11.6 0 1 0 23.2 0a11.6 11.6 0 1 0 -23.2 0M2143.8 435.4a11.6 11.6 0 1 0 23.2 0a11.6 11.6 0 1 0 -23.2 0M2145.1 436.1a11.6 11.6 0 1 0 23.2 0a11.6 11.6 0 1 0 -23.2 0M2146.3 436.8a11.6 11.6 0 1 0 23.2 0a11.6 11.6 0 1 0 -23.2 0M2147.5 437.5a11.6 11.6 0 1 0 23.2 0a11.6 11.6 0 1 0 -23.2 0M2148.8 438.1a11.6 11.6 0 1 0 23.2 0a11.6 11.6 0 1 0 -23.2 0M2150.0 438.8a11.6 11.6 0 1 0 23.2 0a11.6 11.6 0 1 0 -23.2 0M2151.2 439.4a11.6 11.6 0 1 0 23.2 0a11.6 11.6 0 1 0 -23.2 0M2152.4 440.0a11.6 11.6 0 1 0 23.2 0a11.6 11.6 0 1 0 -23.2 0M2153.6 440.6a11.6 11.6 0 1 0 23.2 0a11.6 11.6 0 1 0 -23.2 0M2154.8 441.2a11.6 11.6 0 1 0 23.2 0a11.6 11.6 0 1 0 -23.2 0M2156.0 441.9a11.6 11.6 0 1 0 23.2 0a11.6 11.6 0 1 0 -23.2 0M2157.1 442.5a11.6 11.6 0 1 0 23.2 0a11.6 11.6 0 1 0 -23.2 0M2158.3 443.0a11.6 11.6 0 1 0 23.2 0a11.6 11.6 0 1 0 -23.2 0M2159.5 443.6a11.6 11.6 0 1 0 23.2 0a11.6 11.6 0 1 0 -23.2 0M2160.7 444.2a11.6 11.6 0 1 0 23.2 0a11.6 11.6 0 1 0 -23.2 0M2161.8 444.8a11.6 11.6 0 1 0 23.2 0a11.6 11.6 0 1 0 -23.2 0M2163.0 445.4a11.6 11.6 0 1 0 23.2 0a11.6 11.6 0 1 0 -23.2 0M2164.1 446.0a11.6 11.6 0 1 0 23.2 0a11.6 11.6 0 1 0 -23.2 0M2165.3 446.6a11.6 11.6 0 1 0 23.2 0a11.6 11.6 0 1 0 -23.2 0M2166.4 447.2a11.6 11.6 0 1 0 23.2 0a11.6 11.6 0 1 0 -23.2 0M2167.6 447.7a11.6 11.6 0 1 0 23.2 0a11.6 11.6 0 1 0 -23.2 0M2168.7 448.3a11.6 11.6 0 1 0 23.2 0a11.6 11.6 0 1 0 -23.2 0M2169.8 448.9a11.6 11.6 0 1 0 23.2 0a11.6 11.6 0 1 0 -23.2 0M2170.9 449.5a11.6 11.6 0 1 0 23.2 0a11.6 11.6 0 1 0 -23.2 0M2172.1 450.1a11.6 11.6 0 1 0 23.2 0a11.6 11.6 0 1 0 -23.2 0M2173.2 450.7a11.6 11.6 0 1 0 23.2 0a11.6 11.6 0 1 0 -23.2 0M2174.3 451.3a11.6 11.6 0 1 0 23.2 0a11.6 11.6 0 1 0 -23.2 0M2175.4 452.0a11.6 11.6 0 1 0 23.2 0a11.6 11.6 0 1 0 -23.2 0M2176.5 452.6a11.6 11.6 0 1 0 23.2 0a11.6 11.6 0 1 0 -23.2 0M2177.6 453.2a11.6 11.6 0 1 0 23.2 0a11.6 11.6 0 1 0 -23.2 0M2178.7 453.8a11.6 11.6 0 1 0 23.2 0a11.6 11.6 0 1 0 -23.2 0M2179.8 454.5a11.6 11.6 0 1 0 23.2 0a11.6 11.6 0 1 0 -23.2 0M2180.8 455.1a11.6 11.6 0 1 0 23.2 0a11.6 11.6 0 1 0 -23.2 0M2181.9 455.8a11.6 11.6 0 1 0 23.2 0a11.6 11.6 0 1 0 -23.2 0M2183.0 456.5a11.6 11.6 0 1 0 23.2 0a11.6 11.6 0 1 0 -23.2 0M2184.1 457.1a11.6 11.6 0 1 0 23.2 0a11.6 11.6 0 1 0 -23.2 0M2185.1 457.8a11.6 11.6 0 1 0 23.2 0a11.6 11.6 0 1 0 -23.2 0M2186.2 458.5a11.6 11.6 0 1 0 23.2 0a11.6 11.6 0 1 0 -23.2 0M2187.3 459.3a11.6 11.6 0 1 0 23.2 0a11.6 11.6 0 1 0 -23.2 0M2188.3 460.0a11.6 11.6 0 1 0 23.2 0a11.6 11.6 0 1 0 -23.2 0M2189.4 460.8a11.6 11.6 0 1 0 23.2 0a11.6 11.6 0 1 0 -23.2 0M2190.4 461.5a11.6 11.6 0 1 0 23.2 0a11.6 11.6 0 1 0 -23.2 0M2191.5 462.3a11.6 11.6 0 1 0 23.2 0a11.6 11.6 0 1 0 -23.2 0M2192.5 463.1a11.6 11.6 0 1 0 23.2 0a11.6 11.6 0 1 0 -23.2 0M2193.5 463.9a11.6 11.6 0 1 0 23.2 0a11.6 11.6 0 1 0 -23.2 0M2194.6 464.7a11.6 11.6 0 1 0 23.2 0a11.6 11.6 0 1 0 -23.2 0M2195.6 465.6a11.6 11.6 0 1 0 23.2 0a11.6 11.6 0 1 0 -23.2 0M2196.6 466.4a11.6 11.6 0 1 0 23.2 0a11.6 11.6 0 1 0 -23.2 0M2197.6 467.2a11.6 11.6 0 1 0 23.2 0a11.6 11.6 0 1 0 -23.2 0M2198.6 468.1a11.6 11.6 0 1 0 23.2 0a11.6 11.6 0 1 0 -23.2 0M2199.7 468.9a11.6 11.6 0 1 0 23.2 0a11.6 11.6 0 1 0 -23.2 0M2200.7 469.7a11.6 11.6 0 1 0 23.2 0a11.6 11.6 0 1 0 -23.2 0M2201.7 470.6a11.6 11.6 0 1 0 23.2 0a11.6 11.6 0 1 0 -23.2 0M2202.7 471.4a11.6 11.6 0 1 0 23.2 0a11.6 11.6 0 1 0 -23.2 0M2203.7 472.2a11.6 11.6 0 1 0 23.2 0a11.6 11.6 0 1 0 -23.2 0M2204.7 473.0a11.6 11.6 0 1 0 23.2 0a11.6 11.6 0 1 0 -23.2 0M2205.6 473.8a11.6 11.6 0 1 0 23.2 0a11.6 11.6 0 1 0 -23.2 0M2206.6 474.6a11.6 11.6 0 1 0 23.2 0a11.6 11.6 0 1 0 -23.2 0M2207.6 475.4a11.6 11.6 0 1 0 23.2 0a11.6 11.6 0 1 0 -23.2 0M2208.6 476.1a11.6 11.6 0 1 0 23.2 0a11.6 11.6 0 1 0 -23.2 0M2209.6 476.9a11.6 11.6 0 1 0 23.2 0a11.6 11.6 0 1 0 -23.2 0M2210.5 477.7a11.6 11.6 0 1 0 23.2 0a11.6 11.6 0 1 0 -23.2 0M2211.5 478.4a11.6 11.6 0 1 0 23.2 0a11.6 11.6 0 1 0 -23.2 0M2212.5 479.2a11.6 11.6 0 1 0 23.2 0a11.6 11.6 0 1 0 -23.2 0M2213.4 479.9a11.6 11.6 0 1 0 23.2 0a11.6 11.6 0 1 0 -23.2 0M2214.4 480.7a11.6 11.6 0 1 0 23.2 0a11.6 11.6 0 1 0 -23.2 0M2215.3 481.4a11.6 11.6 0 1 0 23.2 0a11.6 11.6 0 1 0 -23.2 0M2216.3 482.2a11.6 11.6 0 1 0 23.2 0a11.6 11.6 0 1 0 -23.2 0M2217.2 482.9a11.6 11.6 0 1 0 23.2 0a11.6 11.6 0 1 0 -23.2 0M2218.2 483.6a11.6 11.6 0 1 0 23.2 0a11.6 11.6 0 1 0 -23.2 0M2219.1 484.4a11.6 11.6 0 1 0 23.2 0a11.6 11.6 0 1 0 -23.2 0M2220.1 485.1a11.6 11.6 0 1 0 23.2 0a11.6 11.6 0 1 0 -23.2 0M2221.0 485.8a11.6 11.6 0 1 0 23.2 0a11.6 11.6 0 1 0 -23.2 0M2221.9 494.2a11.6 11.6 0 1 0 23.2 0a11.6 11.6 0 1 0 -23.2 0M2222.9 490.6a11.6 11.6 0 1 0 23.2 0a11.6 11.6 0 1 0 -23.2 0M2223.8 483.6a11.6 11.6 0 1 0 23.2 0a11.6 11.6 0 1 0 -23.2 0M2224.7 473.1a11.6 11.6 0 1 0 23.2 0a11.6 11.6 0 1 0 -23.2 0M2225.6 458.5a11.6 11.6 0 1 0 23.2 0a11.6 11.6 0 1 0 -23.2 0" fill="#8a8a8a"/>
<path d="M1394.2 78.7V83.1M1413.6 82.3V86.8M1431.7 85.7V90.3M1448.7 89.9V94.5M1464.7 95.8V100.4M1479.8 100.6V105.3M1494.1 104.6V109.3M1507.7 108.1V112.9M1520.6 111.4V116.2M1533.0 114.6V119.4M1544.8 117.9V122.8M1556.2 121.3V126.2M1567.1 124.9V129.8M1577.5 128.5V133.5M1587.6 132.1V137.1M1597.3 135.7V140.7M1606.7 139.2V144.3M1615.8 142.6V147.7M1624.6 145.9V151.1M1633.1 149.1V154.2M1641.3 152.1V157.3M1649.4 155.0V160.3M1657.1 157.9V163.2M1664.7 160.7V166.0M1672.1 163.4V168.7M1679.2 166.1V171.4M1686.2 168.7V174.0M1693.1 171.3V176.6M1699.7 173.8V179.2M1706.2 176.3V181.7M1712.5 178.7V184.1M1718.7 181.1V186.6M1724.8 183.5V188.9M1730.7 185.8V191.3M1736.5 188.1V193.6M1742.2 190.3V195.8M1747.8 192.5V198.0M1753.2 194.6V200.2M1758.6 196.8V202.4M1763.8 198.9V204.5M1768.9 201.0V206.7M1774.0 203.2V208.8M1778.9 205.3V210.9M1783.8 207.4V213.1M1788.6 209.6V215.2M1793.3 211.7V217.4M1797.9 213.9V219.6M1802.5 216.1V221.8M1806.9 218.4V224.1M1811.3 220.6V226.3M1815.7 222.8V228.6M1819.9 225.0V230.8M1824.1 227.2V233.0M1828.3 229.4V235.2M1832.3 231.5V237.3M1836.4 233.6V239.5M1840.3 235.7V241.5M1844.2 237.7V243.6M1848.0 239.7V245.5M1851.8 241.6V247.5M1855.6 243.5V249.3M1859.3 245.3V251.2M1862.9 247.1V253.0M1866.5 248.9V254.8M1870.0 250.7V256.6M1873.5 252.5V258.4M1877.0 254.2V260.2M1880.4 256.0V262.0M1883.8 257.7V263.7M1887.1 259.5V265.5M1890.4 261.2V267.2M1893.6 263.0V269.0M1896.8 264.8V270.8M1900.0 266.5V272.6M1903.1 268.3V274.3M1906.2 270.1V276.1M1909.3 271.9V277.9M1912.3 273.7V279.8M1915.3 275.5V281.6M1918.3 277.3V283.4M1921.2 279.1V285.2M1924.1 280.9V287.0M1927.0 282.7V288.8M1929.9 284.4V290.6M1932.7 286.2V292.3M1935.5 288.0V294.1M1938.2 289.7V295.9M1940.9 291.5V297.6M1943.6 293.2V299.4M1946.3 295.0V301.1M1949.0 296.7V302.9M1951.6 298.4V304.6M1954.2 300.1V306.3M1956.8 301.8V308.0M1959.3 303.5V309.7M1961.8 305.2V311.4M1964.4 306.8V313.1M1966.8 308.5V314.7M1969.3 310.2V316.4M1971.7 311.9V318.1M1974.1 313.5V319.8M1976.5 315.2V321.5M1978.9 316.9V323.1M1981.3 318.5V324.8M1983.6 320.2V326.5M1985.9 321.8V328.1M1988.2 323.4V329.7M1990.5 325.1V331.4M1992.7 326.7V333.0M1995.0 328.3V334.6M1997.2 329.9V336.2M1999.4 331.4V337.8M2001.6 333.0V339.3M2003.7 334.5V340.9M2005.9 336.0V342.4M2008.0 337.5V343.9M2010.1 339.0V345.4M2012.2 340.5V346.9M2014.3 341.9V348.3M2016.4 343.4V349.8M2018.4 344.8V351.2M2020.5 346.2V352.6M2022.5 347.6V354.0M2024.5 348.9V355.3M2026.5 350.3V356.7M2028.5 351.6V358.1M2030.4 353.0V359.4M2032.4 354.3V360.7M2034.3 355.6V362.1M2036.3 356.9V363.4M2038.2 358.2V364.7M2040.1 359.5V366.0M2041.9 360.8V367.3M2043.8 362.1V368.6M2045.7 363.3V369.8M2047.5 364.6V371.1M2049.3 365.8V372.3M2051.2 367.0V373.5M2053.0 368.3V374.8M2054.8 369.5V376.0M2056.6 370.6V377.2M2058.3 371.8V378.3M2060.1 373.0V379.5M2061.8 374.1V380.7M2063.6 375.3V381.8M2065.3 376.4V382.9M2067.0 377.5V384.1M2068.7 378.6V385.2M2070.4 379.7V386.3M2072.1 380.8V387.4M2073.8 381.9V388.4M2075.4 382.9V389.5M2077.1 383.9V390.5M2078.7 385.0V391.6M2080.4 386.0V392.6M2082.0 387.0V393.6M2083.6 388.0V394.6M2085.2 388.9V395.5M2086.8 389.9V396.5M2088.4 390.8V397.4M2090.0 391.7V398.3M2091.6 392.6V399.3M2093.1 393.5V400.2M2094.7 394.4V401.1M2096.2 395.3V402.0M2097.7 396.2V402.8M2099.3 397.1V403.7M2100.8 397.9V404.7M2102.3 398.8V405.6M2103.8 399.6V406.6M2105.3 400.4V407.5M2106.8 401.2V408.5M2108.3 402.0V409.4M2109.7 402.9V410.4M2111.2 403.7V411.3M2112.6 404.5V412.3M2114.1 405.4V413.3M2115.5 406.2V414.3M2116.9 407.1V415.2M2118.4 407.9V416.2M2119.8 408.8V417.2M2121.2 409.6V418.2M2122.6 410.5V419.1M2124.0 411.3V420.1M2125.4 412.2V421.1M2126.7 413.0V422.0M2128.1 413.8V423.0M2129.5 414.7V423.9M2130.8 415.5V424.9M2132.2 416.3V425.8M2133.5 417.1V433.6M2134.9 417.9V434.4M2136.2 418.8V435.2M2137.5 419.6V436.0M2138.9 420.3V436.8M2140.2 421.1V437.6M2141.5 421.9V438.4M2142.8 422.7V439.2M2144.1 423.4V439.9M2145.4 424.2V440.7M2146.6 424.9V441.5M2147.9 425.6V442.2M2149.2 426.4V443.0M2150.4 427.0V443.8M2151.7 427.5V444.5M2153.0 428.1V445.3M2154.2 428.6V446.0M2155.4 429.1V446.8M2156.7 429.5V447.5M2157.9 430.0V448.2M2159.1 430.5V449.0M2160.4 430.9V449.7M2161.6 431.3V450.4M2162.8 431.8V451.2M2164.0 432.2V451.9M2165.2 432.6V452.7M2166.4 433.0V453.4M2167.6 433.4V454.2M2168.7 433.8V454.9M2169.9 434.2V455.7M2171.1 434.6V456.4M2172.3 435.0V457.2M2173.4 435.4V457.9M2174.6 435.8V458.6M2175.7 436.2V459.4M2176.9 436.5V460.1M2178.0 436.9V460.8M2179.2 437.3V461.5M2180.3 437.8V462.2M2181.4 438.3V462.9M2182.5 438.7V464.0M2183.7 439.3V465.2M2184.8 439.8V466.3M2185.9 440.3V467.4M2187.0 440.8V468.5M2188.1 441.3V469.6M2189.2 441.9V470.7M2190.3 442.4V471.8M2191.4 442.9V472.9M2192.4 443.5V473.9M2193.5 444.1V475.0M2194.6 444.6V476.1M2195.7 445.2V477.2M2196.7 445.8V478.2M2197.8 446.4V479.1M2198.9 447.1V480.1M2199.9 448.5V481.1M2201.0 448.5V482.1M2202.0 448.5V483.0M2203.1 448.5V484.0M2204.1 448.5V485.0M2205.1 448.5V485.9M2206.2 448.5V486.9M2207.2 448.5V487.8M2208.2 448.5V488.8M2209.2 448.5V489.7M2210.2 448.5V490.7M2211.3 448.5V491.8M2212.3 448.5V492.8M2213.3 448.5V493.8M2214.3 448.5V494.8M2215.3 448.5V495.8M2216.3 448.5V496.8M2217.2 448.5V498.3M2218.2 448.5V500.0M2219.2 448.5V501.6M2220.2 448.5V503.3M2221.2 448.5V505.0M2222.1 448.5V506.7M2223.1 448.5V508.3M2224.1 448.5V510.5M2225.0 448.5V513.0M2226.0 448.5V515.5M2226.9 448.5V518.0M2227.9 448.5V520.4M2228.8 448.5V523.5M2229.8 448.5V527.5M2230.7 448.5V531.5M2231.7 448.5V535.5M2232.6 448.5V539.1M2233.5 460.0V544.0M2234.5 450.0V555.5M2235.4 432.8V580.3M2236.3 413.2V613.0M2237.2 384.8V779.2" stroke="#8a8a8a" stroke-width="3.5" fill="none"/>
<path d="M1381.7 78.7h25M1381.7 83.1h25M1401.1 82.3h25M1401.1 86.8h25M1419.2 85.7h25M1419.2 90.3h25M1436.2 89.9h25M1436.2 94.5h25M1452.2 95.8h25M1452.2 100.4h25M1467.3 100.6h25M1467.3 105.3h25M1481.6 104.6h25M1481.6 109.3h25M1495.2 108.1h25M1495.2 112.9h25M1508.1 111.4h25M1508.1 116.2h25M1520.5 114.6h25M1520.5 119.4h25M1532.3 117.9h25M1532.3 122.8h25M1543.7 121.3h25M1543.7 126.2h25M1554.6 124.9h25M1554.6 129.8h25M1565.0 128.5h25M1565.0 133.5h25M1575.1 132.1h25M1575.1 137.1h25M1584.8 135.7h25M1584.8 140.7h25M1594.2 139.2h25M1594.2 144.3h25M1603.3 142.6h25M1603.3 147.7h25M1612.1 145.9h25M1612.1 151.1h25M1620.6 149.1h25M1620.6 154.2h25M1628.8 152.1h25M1628.8 157.3h25M1636.9 155.0h25M1636.9 160.3h25M1644.6 157.9h25M1644.6 163.2h25M1652.2 160.7h25M1652.2 166.0h25M1659.6 163.4h25M1659.6 168.7h25M1666.7 166.1h25M1666.7 171.4h25M1673.7 168.7h25M1673.7 174.0h25M1680.6 171.3h25M1680.6 176.6h25M1687.2 173.8h25M1687.2 179.2h25M1693.7 176.3h25M1693.7 181.7h25M1700.0 178.7h25M1700.0 184.1h25M1706.2 181.1h25M1706.2 186.6h25M1712.3 183.5h25M1712.3 188.9h25M1718.2 185.8h25M1718.2 191.3h25M1724.0 188.1h25M1724.0 193.6h25M1729.7 190.3h25M1729.7 195.8h25M1735.3 192.5h25M1735.3 198.0h25M1740.7 194.6h25M1740.7 200.2h25M1746.1 196.8h25M1746.1 202.4h25M1751.3 198.9h25M1751.3 204.5h25M1756.4 201.0h25M1756.4 206.7h25M1761.5 203.2h25M1761.5 208.8h25M1766.4 205.3h25M1766.4 210.9h25M1771.3 207.4h25M1771.3 213.1h25M1776.1 209.6h25M1776.1 215.2h25M1780.8 211.7h25M1780.8 217.4h25M1785.4 213.9h25M1785.4 219.6h25M1790.0 216.1h25M1790.0 221.8h25M1794.4 218.4h25M1794.4 224.1h25M1798.8 220.6h25M1798.8 226.3h25M1803.2 222.8h25M1803.2 228.6h25M1807.4 225.0h25M1807.4 230.8h25M1811.6 227.2h25M1811.6 233.0h25M1815.8 229.4h25M1815.8 235.2h25M1819.8 231.5h25M1819.8 237.3h25M1823.9 233.6h25M1823.9 239.5h25M1827.8 235.7h25M1827.8 241.5h25M1831.7 237.7h25M1831.7 243.6h25M1835.5 239.7h25M1835.5 245.5h25M1839.3 241.6h25M1839.3 247.5h25M1843.1 243.5h25M1843.1 249.3h25M1846.8 245.3h25M1846.8 251.2h25M1850.4 247.1h25M1850.4 253.0h25M1854.0 248.9h25M1854.0 254.8h25M1857.5 250.7h25M1857.5 256.6h25M1861.0 252.5h25M1861.0 258.4h25M1864.5 254.2h25M1864.5 260.2h25M1867.9 256.0h25M1867.9 262.0h25M1871.3 257.7h25M1871.3 263.7h25M1874.6 259.5h25M1874.6 265.5h25M1877.9 261.2h25M1877.9 267.2h25M1881.1 263.0h25M1881.1 269.0h25M1884.3 264.8h25M1884.3 270.8h25M1887.5 266.5h25M1887.5 272.6h25M1890.6 268.3h25M1890.6 274.3h25M1893.7 270.1h25M1893.7 276.1h25M1896.8 271.9h25M1896.8 277.9h25M1899.8 273.7h25M1899.8 279.8h25M1902.8 275.5h25M1902.8 281.6h25M1905.8 277.3h25M1905.8 283.4h25M1908.7 279.1h25M1908.7 285.2h25M1911.6 280.9h25M1911.6 287.0h25M1914.5 282.7h25M1914.5 288.8h25M1917.4 284.4h25M1917.4 290.6h25M1920.2 286.2h25M1920.2 292.3h25M1923.0 288.0h25M1923.0 294.1h25M1925.7 289.7h25M1925.7 295.9h25M1928.4 291.5h25M1928.4 297.6h25M1931.1 293.2h25M1931.1 299.4h25M1933.8 295.0h25M1933.8 301.1h25M1936.5 296.7h25M1936.5 302.9h25M1939.1 298.4h25M1939.1 304.6h25M1941.7 300.1h25M1941.7 306.3h25M1944.3 301.8h25M1944.3 308.0h25M1946.8 303.5h25M1946.8 309.7h25M1949.3 305.2h25M1949.3 311.4h25M1951.9 306.8h25M1951.9 313.1h25M1954.3 308.5h25M1954.3 314.7h25M1956.8 310.2h25M1956.8 316.4h25M1959.2 311.9h25M1959.2 318.1h25M1961.6 313.5h25M1961.6 319.8h25M1964.0 315.2h25M1964.0 321.5h25M1966.4 316.9h25M1966.4 323.1h25M1968.8 318.5h25M1968.8 324.8h25M1971.1 320.2h25M1971.1 326.5h25M1973.4 321.8h25M1973.4 328.1h25M1975.7 323.4h25M1975.7 329.7h25M1978.0 325.1h25M1978.0 331.4h25M1980.2 326.7h25M1980.2 333.0h25M1982.5 328.3h25M1982.5 334.6h25M1984.7 329.9h25M1984.7 336.2h25M1986.9 331.4h25M1986.9 337.8h25M1989.1 333.0h25M1989.1 339.3h25M1991.2 334.5h25M1991.2 340.9h25M1993.4 336.0h25M1993.4 342.4h25M1995.5 337.5h25M1995.5 343.9h25M1997.6 339.0h25M1997.6 345.4h25M1999.7 340.5h25M1999.7 346.9h25M2001.8 341.9h25M2001.8 348.3h25M2003.9 343.4h25M2003.9 349.8h25M2005.9 344.8h25M2005.9 351.2h25M2008.0 346.2h25M2008.0 352.6h25M2010.0 347.6h25M2010.0 354.0h25M2012.0 348.9h25M2012.0 355.3h25M2014.0 350.3h25M2014.0 356.7h25M2016.0 351.6h25M2016.0 358.1h25M2017.9 353.0h25M2017.9 359.4h25M2019.9 354.3h25M2019.9 360.7h25M2021.8 355.6h25M2021.8 362.1h25M2023.8 356.9h25M2023.8 363.4h25M2025.7 358.2h25M2025.7 364.7h25M2027.6 359.5h25M2027.6 366.0h25M2029.4 360.8h25M2029.4 367.3h25M2031.3 362.1h25M2031.3 368.6h25M2033.2 363.3h25M2033.2 369.8h25M2035.0 364.6h25M2035.0 371.1h25M2036.8 365.8h25M2036.8 372.3h25M2038.7 367.0h25M2038.7 373.5h25M2040.5 368.3h25M2040.5 374.8h25M2042.3 369.5h25M2042.3 376.0h25M2044.1 370.6h25M2044.1 377.2h25M2045.8 371.8h25M2045.8 378.3h25M2047.6 373.0h25M2047.6 379.5h25M2049.3 374.1h25M2049.3 380.7h25M2051.1 375.3h25M2051.1 381.8h25M2052.8 376.4h25M2052.8 382.9h25M2054.5 377.5h25M2054.5 384.1h25M2056.2 378.6h25M2056.2 385.2h25M2057.9 379.7h25M2057.9 386.3h25M2059.6 380.8h25M2059.6 387.4h25M2061.3 381.9h25M2061.3 388.4h25M2062.9 382.9h25M2062.9 389.5h25M2064.6 383.9h25M2064.6 390.5h25M2066.2 385.0h25M2066.2 391.6h25M2067.9 386.0h25M2067.9 392.6h25M2069.5 387.0h25M2069.5 393.6h25M2071.1 388.0h25M2071.1 394.6h25M2072.7 388.9h25M2072.7 395.5h25M2074.3 389.9h25M2074.3 396.5h25M2075.9 390.8h25M2075.9 397.4h25M2077.5 391.7h25M2077.5 398.3h25M2079.1 392.6h25M2079.1 399.3h25M2080.6 393.5h25M2080.6 400.2h25M2082.2 394.4h25M2082.2 401.1h25M2083.7 395.3h25M2083.7 402.0h25M2085.2 396.2h25M2085.2 402.8h25M2086.8 397.1h25M2086.8 403.7h25M2088.3 397.9h25M2088.3 404.7h25M2089.8 398.8h25M2089.8 405.6h25M2091.3 399.6h25M2091.3 406.6h25M2092.8 400.4h25M2092.8 407.5h25M2094.3 401.2h25M2094.3 408.5h25M2095.8 402.0h25M2095.8 409.4h25M2097.2 402.9h25M2097.2 410.4h25M2098.7 403.7h25M2098.7 411.3h25M2100.1 404.5h25M2100.1 412.3h25M2101.6 405.4h25M2101.6 413.3h25M2103.0 406.2h25M2103.0 414.3h25M2104.4 407.1h25M2104.4 415.2h25M2105.9 407.9h25M2105.9 416.2h25M2107.3 408.8h25M2107.3 417.2h25M2108.7 409.6h25M2108.7 418.2h25M2110.1 410.5h25M2110.1 419.1h25M2111.5 411.3h25M2111.5 420.1h25M2112.9 412.2h25M2112.9 421.1h25M2114.2 413.0h25M2114.2 422.0h25M2115.6 413.8h25M2115.6 423.0h25M2117.0 414.7h25M2117.0 423.9h25M2118.3 415.5h25M2118.3 424.9h25M2119.7 416.3h25M2119.7 425.8h25M2121.0 417.1h25M2121.0 433.6h25M2122.4 417.9h25M2122.4 434.4h25M2123.7 418.8h25M2123.7 435.2h25M2125.0 419.6h25M2125.0 436.0h25M2126.4 420.3h25M2126.4 436.8h25M2127.7 421.1h25M2127.7 437.6h25M2129.0 421.9h25M2129.0 438.4h25M2130.3 422.7h25M2130.3 439.2h25M2131.6 423.4h25M2131.6 439.9h25M2132.9 424.2h25M2132.9 440.7h25M2134.1 424.9h25M2134.1 441.5h25M2135.4 425.6h25M2135.4 442.2h25M2136.7 426.4h25M2136.7 443.0h25M2137.9 427.0h25M2137.9 443.8h25M2139.2 427.5h25M2139.2 444.5h25M2140.5 428.1h25M2140.5 445.3h25M2141.7 428.6h25M2141.7 446.0h25M2142.9 429.1h25M2142.9 446.8h25M2144.2 429.5h25M2144.2 447.5h25M2145.4 430.0h25M2145.4 448.2h25M2146.6 430.5h25M2146.6 449.0h25M2147.9 430.9h25M2147.9 449.7h25M2149.1 431.3h25M2149.1 450.4h25M2150.3 431.8h25M2150.3 451.2h25M2151.5 432.2h25M2151.5 451.9h25M2152.7 432.6h25M2152.7 452.7h25M2153.9 433.0h25M2153.9 453.4h25M2155.1 433.4h25M2155.1 454.2h25M2156.2 433.8h25M2156.2 454.9h25M2157.4 434.2h25M2157.4 455.7h25M2158.6 434.6h25M2158.6 456.4h25M2159.8 435.0h25M2159.8 457.2h25M2160.9 435.4h25M2160.9 457.9h25M2162.1 435.8h25M2162.1 458.6h25M2163.2 436.2h25M2163.2 459.4h25M2164.4 436.5h25M2164.4 460.1h25M2165.5 436.9h25M2165.5 460.8h25M2166.7 437.3h25M2166.7 461.5h25M2167.8 437.8h25M2167.8 462.2h25M2168.9 438.3h25M2168.9 462.9h25M2170.0 438.7h25M2170.0 464.0h25M2171.2 439.3h25M2171.2 465.2h25M2172.3 439.8h25M2172.3 466.3h25M2173.4 440.3h25M2173.4 467.4h25M2174.5 440.8h25M2174.5 468.5h25M2175.6 441.3h25M2175.6 469.6h25M2176.7 441.9h25M2176.7 470.7h25M2177.8 442.4h25M2177.8 471.8h25M2178.9 442.9h25M2178.9 472.9h25M2179.9 443.5h25M2179.9 473.9h25M2181.0 444.1h25M2181.0 475.0h25M2182.1 444.6h25M2182.1 476.1h25M2183.2 445.2h25M2183.2 477.2h25M2184.2 445.8h25M2184.2 478.2h25M2185.3 446.4h25M2185.3 479.1h25M2186.4 447.1h25M2186.4 480.1h25M2187.4 448.5h25M2187.4 481.1h25M2188.5 448.5h25M2188.5 482.1h25M2189.5 448.5h25M2189.5 483.0h25M2190.6 448.5h25M2190.6 484.0h25M2191.6 448.5h25M2191.6 485.0h25M2192.6 448.5h25M2192.6 485.9h25M2193.7 448.5h25M2193.7 486.9h25M2194.7 448.5h25M2194.7 487.8h25M2195.7 448.5h25M2195.7 488.8h25M2196.7 448.5h25M2196.7 489.7h25M2197.7 448.5h25M2197.7 490.7h25M2198.8 448.5h25M2198.8 491.8h25M2199.8 448.5h25M2199.8 492.8h25M2200.8 448.5h25M2200.8 493.8h25M2201.8 448.5h25M2201.8 494.8h25M2202.8 448.5h25M2202.8 495.8h25M2203.8 448.5h25M2203.8 496.8h25M2204.7 448.5h25M2204.7 498.3h25M2205.7 448.5h25M2205.7 500.0h25M2206.7 448.5h25M2206.7 501.6h25M2207.7 448.5h25M2207.7 503.3h25M2208.7 448.5h25M2208.7 505.0h25M2209.6 448.5h25M2209.6 506.7h25M2210.6 448.5h25M2210.6 508.3h25M2211.6 448.5h25M2211.6 510.5h25M2212.5 448.5h25M2212.5 513.0h25M2213.5 448.5h25M2213.5 515.5h25M2214.4 448.5h25M2214.4 518.0h25M2215.4 448.5h25M2215.4 520.4h25M2216.3 448.5h25M2216.3 523.5h25M2217.3 448.5h25M2217.3 527.5h25M2218.2 448.5h25M2218.2 531.5h25M2219.2 448.5h25M2219.2 535.5h25M2220.1 448.5h25M2220.1 539.1h25M2221.0 460.0h25M2221.0 544.0h25M2222.0 450.0h25M2222.0 555.5h25M2222.9 432.8h25M2222.9 580.3h25M2223.8 413.2h25M2223.8 613.0h25M2224.7 384.8h25M2224.7 779.2h25" stroke="#8a8a8a" stroke-width="3.5" fill="none"/>
<path d="M1383.8 97.8 L1387.4 98.3 L1390.9 98.7 L1394.5 99.2 L1398.0 99.7 L1401.6 100.3 L1405.1 100.8 L1408.7 101.4 L1412.3 102.0 L1415.8 102.6 L1419.4 103.2 L1422.9 103.8 L1426.5 104.5 L1430.0 105.1 L1433.6 105.8 L1437.2 106.5 L1440.7 107.2 L1444.3 107.9 L1447.8 108.6 L1451.4 109.4 L1454.9 110.2 L1458.5 110.9 L1462.1 111.7 L1465.6 112.5 L1469.2 113.4 L1472.7 114.2 L1476.3 115.0 L1479.8 115.9 L1483.4 116.8 L1487.0 117.7 L1490.5 118.6 L1494.1 119.5 L1497.6 120.4 L1501.2 121.4 L1504.7 122.3 L1508.3 123.3 L1511.9 124.2 L1515.4 125.2 L1519.0 126.2 L1522.5 127.3 L1526.1 128.3 L1529.7 129.3 L1533.2 130.4 L1536.8 131.4 L1540.3 132.5 L1543.9 133.6 L1547.4 134.7 L1551.0 135.8 L1554.6 136.9 L1558.1 138.0 L1561.7 139.2 L1565.2 140.3 L1568.8 141.5 L1572.3 142.6 L1575.9 143.8 L1579.5 145.0 L1583.0 146.2 L1586.6 147.4 L1590.1 148.6 L1593.7 149.8 L1597.2 151.1 L1600.8 152.3 L1604.4 153.5 L1607.9 154.8 L1611.5 156.1 L1615.0 157.3 L1618.6 158.6 L1622.1 159.9 L1625.7 161.2 L1629.3 162.5 L1632.8 163.8 L1636.4 165.2 L1639.9 166.5 L1643.5 167.8 L1647.0 169.2 L1650.6 170.5 L1654.2 171.9 L1657.7 173.2 L1661.3 174.6 L1664.8 176.0 L1668.4 177.3 L1671.9 178.7 L1675.5 180.1 L1679.1 181.5 L1682.6 182.9 L1686.2 184.3 L1689.7 185.8 L1693.3 187.2 L1696.8 188.6 L1700.4 190.0 L1704.0 191.5 L1707.5 192.9 L1711.1 194.3 L1714.6 195.8 L1718.2 197.2 L1721.7 198.7 L1725.3 200.2 L1728.9 201.6 L1732.4 203.1 L1736.0 204.6 L1739.5 206.1 L1743.1 207.5 L1746.6 209.0 L1750.2 210.5 L1753.8 212.0 L1757.3 213.5 L1760.9 215.0 L1764.4 216.6 L1768.0 218.1 L1771.5 219.6 L1775.1 221.2 L1778.7 222.7 L1782.2 224.3 L1785.8 225.8 L1789.3 227.4 L1792.9 229.0 L1796.4 230.6 L1800.0 232.2 L1803.6 233.8 L1807.1 235.4 L1810.7 237.1 L1814.2 238.7 L1817.8 240.4 L1821.4 242.0 L1824.9 243.7 L1828.5 245.4 L1832.0 247.1 L1835.6 248.8 L1839.1 250.5 L1842.7 252.2 L1846.3 254.0 L1849.8 255.7 L1853.4 257.5 L1856.9 259.3 L1860.5 261.1 L1864.0 262.9 L1867.6 264.7 L1871.2 266.6 L1874.7 268.4 L1878.3 270.3 L1881.8 272.2 L1885.4 274.1 L1888.9 276.0 L1892.5 277.9 L1896.1 279.9 L1899.6 281.8 L1903.2 283.8 L1906.7 285.8 L1910.3 287.8 L1913.8 289.8 L1917.4 291.9 L1921.0 294.0 L1924.5 296.0 L1928.1 298.1 L1931.6 300.3 L1935.2 302.4 L1938.7 304.6 L1942.3 306.7 L1945.9 308.9 L1949.4 311.1 L1953.0 313.4 L1956.5 315.6 L1960.1 317.9 L1963.6 320.2 L1967.2 322.5 L1970.8 324.8 L1974.3 327.2 L1977.9 329.6 L1981.4 332.0 L1985.0 334.3 L1988.5 336.8 L1992.1 339.2 L1995.7 341.6 L1999.2 344.1 L2002.8 346.5 L2006.3 349.0 L2009.9 351.4 L2013.4 353.9 L2017.0 356.4 L2020.6 358.9 L2024.1 361.4 L2027.7 363.8 L2031.2 366.3 L2034.8 368.8 L2038.3 371.3 L2041.9 373.8 L2045.5 376.3 L2049.0 378.7 L2052.6 381.2 L2056.1 383.7 L2059.7 386.1 L2063.2 388.6 L2066.8 391.0 L2070.4 393.4 L2073.9 395.8 L2077.5 398.2 L2081.0 400.6 L2084.6 403.0 L2088.1 405.3 L2091.7 407.6 L2095.3 409.9 L2098.8 412.2 L2102.4 414.5 L2105.9 416.7 L2109.5 418.9 L2113.1 421.1 L2116.6 423.2 L2120.2 425.3 L2123.7 427.4 L2127.3 429.4 L2130.8 431.3 L2134.4 433.3 L2138.0 435.1 L2141.5 437.0 L2145.1 438.8 L2148.6 440.5 L2152.2 442.1 L2155.7 443.8 L2159.3 445.3 L2162.9 446.8 L2166.4 448.2 L2170.0 449.6 L2173.5 450.9 L2177.1 452.1 L2180.6 453.3 L2184.2 454.3 L2187.8 455.4 L2191.3 456.3 L2194.9 457.1 L2198.4 457.9 L2202.0 458.6 L2205.5 459.2 L2209.1 459.7 L2212.7 460.2 L2216.2 460.5 L2219.8 460.8 L2223.3 460.9 L2226.9 461.0 L2230.4 460.9 L2234.0 460.8" stroke="#000" stroke-width="12.5" fill="none" stroke-linejoin="round"/>
</g>
<g clip-path="url(#cBL)">
<path d="M327.6 1102.2a11.6 11.6 0 1 0 23.2 0a11.6 11.6 0 1 0 -23.2 0M347.0 1102.9a11.6 11.6 0 1 0 23.2 0a11.6 11.6 0 1 0 -23.2 0M365.1 1103.6a11.6 11.6 0 1 0 23.2 0a11.6 11.6 0 1 0 -23.2 0M382.1 1104.1a11.6 11.6 0 1 0 23.2 0a11.6 11.6 0 1 0 -23.2 0M398.1 1104.7a11.6 11.6 0 1 0 23.2 0a11.6 11.6 0 1 0 -23.2 0M413.2 1105.1a11.6 11.6 0 1 0 23.2 0a11.6 11.6 0 1 0 -23.2 0M427.5 1105.5a11.6 11.6 0 1 0 23.2 0a11.6 11.6 0 1 0 -23.2 0M441.1 1105.9a11.6 11.6 0 1 0 23.2 0a11.6 11.6 0 1 0 -23.2 0M454.0 1106.3a11.6 11.6 0 1 0 23.2 0a11.6 11.6 0 1 0 -23.2 0M466.4 1106.6a11.6 11.6 0 1 0 23.2 0a11.6 11.6 0 1 0 -23.2 0M478.2 1106.8a11.6 11.6 0 1 0 23.2 0a11.6 11.6 0 1 0 -23.2 0M489.6 1107.0a11.6 11.6 0 1 0 23.2 0a11.6 11.6 0 1 0 -23.2 0M500.5 1107.2a11.6 11.6 0 1 0 23.2 0a11.6 11.6 0 1 0 -23.2 0M510.9 1107.4a11.6 11.6 0 1 0 23.2 0a11.6 11.6 0 1 0 -23.2 0M521.0 1107.6a11.6 11.6 0 1 0 23.2 0a11.6 11.6 0 1 0 -23.2 0M530.7 1107.7a11.6 11.6 0 1 0 23.2 0a11.6 11.6 0 1 0 -23.2 0M540.1 1107.8a11.6 11.6 0 1 0 23.2 0a11.6 11.6 0 1 0 -23.2 0M549.2 1107.9a11.6 11.6 0 1 0 23.2 0a11.6 11.6 0 1 0 -23.2 0M558.0 1108.0a11.6 11.6 0 1 0 23.2 0a11.6 11.6 0 1 0 -23.2 0M566.5 1108.0a11.6 11.6 0 1 0 23.2 0a11.6 11.6 0 1 0 -23.2 0M574.7 1108.0a11.6 11.6 0 1 0 23.2 0a11.6 11.6 0 1 0 -23.2 0M582.8 1108.0a11.6 11.6 0 1 0 23.2 0a11.6 11.6 0 1 0 -23.2 0M590.5 1108.0a11.6 11.6 0 1 0 23.2 0a11.6 11.6 0 1 0 -23.2 0M598.1 1108.0a11.6 11.6 0 1 0 23.2 0a11.6 11.6 0 1 0 -23.2 0M605.5 1108.0a11.6 11.6 0 1 0 23.2 0a11.6 11.6 0 1 0 -23.2 0M612.6 1108.0a11.6 11.6 0 1 0 23.2 0a11.6 11.6 0 1 0 -23.2 0M619.6 1108.0a11.6 11.6 0 1 0 23.2 0a11.6 11.6 0 1 0 -23.2 0M626.5 1108.0a11.6 11.6 0 1 0 23.2 0a11.6 11.6 0 1 0 -23.2 0M633.1 1108.0a11.6 11.6 0 1 0 23.2 0a11.6 11.6 0 1 0 -23.2 0M639.6 1108.0a11.6 11.6 0 1 0 23.2 0a11.6 11.6 0 1 0 -23.2 0M645.9 1108.0a11.6 11.6 0 1 0 23.2 0a11.6 11.6 0 1 0 -23.2 0M652.1 1108.0a11.6 11.6 0 1 0 23.2 0a11.6 11.6 0 1 0 -23.2 0M658.2 1108.0a11.6 11.6 0 1 0 23.2 0a11.6 11.6 0 1 0 -23.2 0M664.1 1108.0a11.6 11.6 0 1 0 23.2 0a11.6 11.6 0 1 0 -23.2 0M669.9 1108.0a11.6 11.6 0 1 0 23.2 0a11.6 11.6 0 1 0 -23.2 0M675.6 1108.1a11.6 11.6 0 1 0 23.2 0a11.6 11.6 0 1 0 -23.2 0M681.2 1108.1a11.6 11.6 0 1 0 23.2 0a11.6 11.6 0 1 0 -23.2 0M686.6 1108.1a11.6 11.6 0 1 0 23.2 0a11.6 11.6 0 1 0 -23.2 0M692.0 1108.2a11.6 11.6 0 1 0 23.2 0a11.6 11.6 0 1 0 -23.2 0M697.2 1108.2a11.6 11.6 0 1 0 23.2 0a11.6 11.6 0 1 0 -23.2 0M702.3 1108.3a11.6 11.6 0 1 0 23.2 0a11.6 11.6 0 1 0 -23.2 0M707.4 1108.3a11.6 11.6 0 1 0 23.2 0a11.6 11.6 0 1 0 -23.2 0M712.3 1108.4a11.6 11.6 0 1 0 23.2 0a11.6 11.6 0 1 0 -23.2 0M717.2 1108.5a11.6 11.6 0 1 0 23.2 0a11.6 11.6 0 1 0 -23.2 0M722.0 1108.5a11.6 11.6 0 1 0 23.2 0a11.6 11.6 0 1 0 -23.2 0M726.7 1108.6a11.6 11.6 0 1 0 23.2 0a11.6 11.6 0 1 0 -23.2 0M731.3 1108.7a11.6 11.6 0 1 0 23.2 0a11.6 11.6 0 1 0 -23.2 0M735.9 1108.8a11.6 11.6 0 1 0 23.2 0a11.6 11.6 0 1 0 -23.2 0M740.3 1108.8a11.6 11.6 0 1 0 23.2 0a11.6 11.6 0 1 0 -23.2 0M744.7 1108.9a11.6 11.6 0 1 0 23.2 0a11.6 11.6 0 1 0 -23.2 0M749.1 1109.0a11.6 11.6 0 1 0 23.2 0a11.6 11.6 0 1 0 -23.2 0M753.3 1109.1a11.6 11.6 0 1 0 23.2 0a11.6 11.6 0 1 0 -23.2 0M757.5 1109.3a11.6 11.6 0 1 0 23.2 0a11.6 11.6 0 1 0 -23.2 0M761.7 1109.5a11.6 11.6 0 1 0 23.2 0a11.6 11.6 0 1 0 -23.2 0M765.7 1109.7a11.6 11.6 0 1 0 23.2 0a11.6 11.6 0 1 0 -23.2 0M769.8 1110.0a11.6 11.6 0 1 0 23.2 0a11.6 11.6 0 1 0 -23.2 0M773.7 1110.2a11.6 11.6 0 1 0 23.2 0a11.6 11.6 0 1 0 -23.2 0M777.6 1110.5a11.6 11.6 0 1 0 23.2 0a11.6 11.6 0 1 0 -23.2 0M781.4 1110.9a11.6 11.6 0 1 0 23.2 0a11.6 11.6 0 1 0 -23.2 0M785.2 1111.2a11.6 11.6 0 1 0 23.2 0a11.6 11.6 0 1 0 -23.2 0M789.0 1111.5a11.6 11.6 0 1 0 23.2 0a11.6 11.6 0 1 0 -23.2 0M792.7 1111.9a11.6 11.6 0 1 0 23.2 0a11.6 11.6 0 1 0 -23.2 0M796.3 1112.3a11.6 11.6 0 1 0 23.2 0a11.6 11.6 0 1 0 -23.2 0M799.9 1112.6a11.6 11.6 0 1 0 23.2 0a11.6 11.6 0 1 0 -23.2 0M803.4 1113.0a11.6 11.6 0 1 0 23.2 0a11.6 11.6 0 1 0 -23.2 0M806.9 1113.3a11.6 11.6 0 1 0 23.2 0a11.6 11.6 0 1 0 -23.2 0M810.4 1113.7a11.6 11.6 0 1 0 23.2 0a11.6 11.6 0 1 0 -23.2 0M813.8 1114.1a11.6 11.6 0 1 0 23.2 0a11.6 11.6 0 1 0 -23.2 0M817.2 1114.4a11.6 11.6 0 1 0 23.2 0a11.6 11.6 0 1 0 -23.2 0M820.5 1114.8a11.6 11.6 0 1 0 23.2 0a11.6 11.6 0 1 0 -23.2 0M823.8 1115.1a11.6 11.6 0 1 0 23.2 0a11.6 11.6 0 1 0 -23.2 0M827.0 1115.5a11.6 11.6 0 1 0 23.2 0a11.6 11.6 0 1 0 -23.2 0M830.2 1115.9a11.6 11.6 0 1 0 23.2 0a11.6 11.6 0 1 0 -23.2 0M833.4 1116.3a11.6 11.6 0 1 0 23.2 0a11.6 11.6 0 1 0 -23.2 0M836.5 1116.8a11.6 11.6 0 1 0 23.2 0a11.6 11.6 0 1 0 -23.2 0M839.6 1117.2a11.6 11.6 0 1 0 23.2 0a11.6 11.6 0 1 0 -23.2 0M842.7 1117.6a11.6 11.6 0 1 0 23.2 0a11.6 11.6 0 1 0 -23.2 0M845.7 1118.1a11.6 11.6 0 1 0 23.2 0a11.6 11.6 0 1 0 -23.2 0M848.7 1118.5a11.6 11.6 0 1 0 23.2 0a11.6 11.6 0 1 0 -23.2 0M851.7 1119.0a11.6 11.6 0 1 0 23.2 0a11.6 11.6 0 1 0 -23.2 0M854.6 1119.5a11.6 11.6 0 1 0 23.2 0a11.6 11.6 0 1 0 -23.2 0M857.5 1119.9a11.6 11.6 0 1 0 23.2 0a11.6 11.6 0 1 0 -23.2 0M860.4 1120.4a11.6 11.6 0 1 0 23.2 0a11.6 11.6 0 1 0 -23.2 0M863.3 1120.9a11.6 11.6 0 1 0 23.2 0a11.6 11.6 0 1 0 -23.2 0M866.1 1121.3a11.6 11.6 0 1 0 23.2 0a11.6 11.6 0 1 0 -23.2 0M868.9 1121.8a11.6 11.6 0 1 0 23.2 0a11.6 11.6 0 1 0 -23.2 0M871.6 1122.3a11.6 11.6 0 1 0 23.2 0a11.6 11.6 0 1 0 -23.2 0M874.3 1122.7a11.6 11.6 0 1 0 23.2 0a11.6 11.6 0 1 0 -23.2 0M877.0 1123.2a11.6 11.6 0 1 0 23.2 0a11.6 11.6 0 1 0 -23.2 0M879.7 1123.7a11.6 11.6 0 1 0 23.2 0a11.6 11.6 0 1 0 -23.2 0M882.4 1124.1a11.6 11.6 0 1 0 23.2 0a11.6 11.6 0 1 0 -23.2 0M885.0 1124.6a11.6 11.6 0 1 0 23.2 0a11.6 11.6 0 1 0 -23.2 0M887.6 1125.0a11.6 11.6 0 1 0 23.2 0a11.6 11.6 0 1 0 -23.2 0M890.2 1125.5a11.6 11.6 0 1 0 23.2 0a11.6 11.6 0 1 0 -23.2 0M892.7 1125.9a11.6 11.6 0 1 0 23.2 0a11.6 11.6 0 1 0 -23.2 0M895.2 1126.3a11.6 11.6 0 1 0 23.2 0a11.6 11.6 0 1 0 -23.2 0M897.8 1126.8a11.6 11.6 0 1 0 23.2 0a11.6 11.6 0 1 0 -23.2 0M900.2 1127.2a11.6 11.6 0 1 0 23.2 0a11.6 11.6 0 1 0 -23.2 0M902.7 1127.7a11.6 11.6 0 1 0 23.2 0a11.6 11.6 0 1 0 -23.2 0M905.1 1128.1a11.6 11.6 0 1 0 23.2 0a11.6 11.6 0 1 0 -23.2 0M907.5 1128.6a11.6 11.6 0 1 0 23.2 0a11.6 11.6 0 1 0 -23.2 0M909.9 1129.0a11.6 11.6 0 1 0 23.2 0a11.6 11.6 0 1 0 -23.2 0M912.3 1129.5a11.6 11.6 0 1 0 23.2 0a11.6 11.6 0 1 0 -23.2 0M914.7 1130.0a11.6 11.6 0 1 0 23.2 0a11.6 11.6 0 1 0 -23.2 0M917.0 1130.4a11.6 11.6 0 1 0 23.2 0a11.6 11.6 0 1 0 -23.2 0M919.3 1130.9a11.6 11.6 0 1 0 23.2 0a11.6 11.6 0 1 0 -23.2 0M921.6 1131.4a11.6 11.6 0 1 0 23.2 0a11.6 11.6 0 1 0 -23.2 0M923.9 1131.8a11.6 11.6 0 1 0 23.2 0a11.6 11.6 0 1 0 -23.2 0M926.1 1132.3a11.6 11.6 0 1 0 23.2 0a11.6 11.6 0 1 0 -23.2 0M928.4 1132.8a11.6 11.6 0 1 0 23.2 0a11.6 11.6 0 1 0 -23.2 0M930.6 1133.3a11.6 11.6 0 1 0 23.2 0a11.6 11.6 0 1 0 -23.2 0M932.8 1133.8a11.6 11.6 0 1 0 23.2 0a11.6 11.6 0 1 0 -23.2 0M935.0 1134.3a11.6 11.6 0 1 0 23.2 0a11.6 11.6 0 1 0 -23.2 0M937.1 1134.8a11.6 11.6 0 1 0 23.2 0a11.6 11.6 0 1 0 -23.2 0M939.3 1135.3a11.6 11.6 0 1 0 23.2 0a11.6 11.6 0 1 0 -23.2 0M941.4 1135.9a11.6 11.6 0 1 0 23.2 0a11.6 11.6 0 1 0 -23.2 0M943.5 1136.4a11.6 11.6 0 1 0 23.2 0a11.6 11.6 0 1 0 -23.2 0M945.6 1137.0a11.6 11.6 0 1 0 23.2 0a11.6 11.6 0 1 0 -23.2 0M947.7 1137.5a11.6 11.6 0 1 0 23.2 0a11.6 11.6 0 1 0 -23.2 0M949.8 1138.1a11.6 11.6 0 1 0 23.2 0a11.6 11.6 0 1 0 -23.2 0M951.8 1138.6a11.6 11.6 0 1 0 23.2 0a11.6 11.6 0 1 0 -23.2 0M953.9 1139.1a11.6 11.6 0 1 0 23.2 0a11.6 11.6 0 1 0 -23.2 0M955.9 1139.7a11.6 11.6 0 1 0 23.2 0a11.6 11.6 0 1 0 -23.2 0M957.9 1140.2a11.6 11.6 0 1 0 23.2 0a11.6 11.6 0 1 0 -23.2 0M959.9 1140.7a11.6 11.6 0 1 0 23.2 0a11.6 11.6 0 1 0 -23.2 0M961.9 1141.3a11.6 11.6 0 1 0 23.2 0a11.6 11.6 0 1 0 -23.2 0M963.8 1141.8a11.6 11.6 0 1 0 23.2 0a11.6 11.6 0 1 0 -23.2 0M965.8 1142.3a11.6 11.6 0 1 0 23.2 0a11.6 11.6 0 1 0 -23.2 0M967.7 1142.8a11.6 11.6 0 1 0 23.2 0a11.6 11.6 0 1 0 -23.2 0M969.7 1143.4a11.6 11.6 0 1 0 23.2 0a11.6 11.6 0 1 0 -23.2 0M971.6 1143.9a11.6 11.6 0 1 0 23.2 0a11.6 11.6 0 1 0 -23.2 0M973.5 1144.5a11.6 11.6 0 1 0 23.2 0a11.6 11.6 0 1 0 -23.2 0M975.3 1145.0a11.6 11.6 0 1 0 23.2 0a11.6 11.6 0 1 0 -23.2 0M977.2 1145.6a11.6 11.6 0 1 0 23.2 0a11.6 11.6 0 1 0 -23.2 0M979.1 1146.2a11.6 11.6 0 1 0 23.2 0a11.6 11.6 0 1 0 -23.2 0M980.9 1146.8a11.6 11.6 0 1 0 23.2 0a11.6 11.6 0 1 0 -23.2 0M982.7 1147.4a11.6 11.6 0 1 0 23.2 0a11.6 11.6 0 1 0 -23.2 0M984.6 1148.1a11.6 11.6 0 1 0 23.2 0a11.6 11.6 0 1 0 -23.2 0M986.4 1148.7a11.6 11.6 0 1 0 23.2 0a11.6 11.6 0 1 0 -23.2 0M988.2 1149.3a11.6 11.6 0 1 0 23.2 0a11.6 11.6 0 1 0 -23.2 0M990.0 1149.9a11.6 11.6 0 1 0 23.2 0a11.6 11.6 0 1 0 -23.2 0M991.7 1150.6a11.6 11.6 0 1 0 23.2 0a11.6 11.6 0 1 0 -23.2 0M993.5 1151.2a11.6 11.6 0 1 0 23.2 0a11.6 11.6 0 1 0 -23.2 0M995.2 1151.9a11.6 11.6 0 1 0 23.2 0a11.6 11.6 0 1 0 -23.2 0M997.0 1152.5a11.6 11.6 0 1 0 23.2 0a11.6 11.6 0 1 0 -23.2 0M998.7 1153.2a11.6 11.6 0 1 0 23.2 0a11.6 11.6 0 1 0 -23.2 0M1000.4 1153.9a11.6 11.6 0 1 0 23.2 0a11.6 11.6 0 1 0 -23.2 0M1002.1 1154.5a11.6 11.6 0 1 0 23.2 0a11.6 11.6 0 1 0 -23.2 0M1003.8 1155.2a11.6 11.6 0 1 0 23.2 0a11.6 11.6 0 1 0 -23.2 0M1005.5 1155.9a11.6 11.6 0 1 0 23.2 0a11.6 11.6 0 1 0 -23.2 0M1007.2 1156.6a11.6 11.6 0 1 0 23.2 0a11.6 11.6 0 1 0 -23.2 0M1008.8 1157.3a11.6 11.6 0 1 0 23.2 0a11.6 11.6 0 1 0 -23.2 0M1010.5 1158.0a11.6 11.6 0 1 0 23.2 0a11.6 11.6 0 1 0 -23.2 0M1012.1 1158.7a11.6 11.6 0 1 0 23.2 0a11.6 11.6 0 1 0 -23.2 0M1013.8 1159.4a11.6 11.6 0 1 0 23.2 0a11.6 11.6 0 1 0 -23.2 0M1015.4 1160.1a11.6 11.6 0 1 0 23.2 0a11.6 11.6 0 1 0 -23.2 0M1017.0 1160.8a11.6 11.6 0 1 0 23.2 0a11.6 11.6 0 1 0 -23.2 0M1018.6 1161.5a11.6 11.6 0 1 0 23.2 0a11.6 11.6 0 1 0 -23.2 0M1020.2 1162.2a11.6 11.6 0 1 0 23.2 0a11.6 11.6 0 1 0 -23.2 0M1021.8 1162.9a11.6 11.6 0 1 0 23.2 0a11.6 11.6 0 1 0 -23.2 0M1023.4 1163.7a11.6 11.6 0 1 0 23.2 0a11.6 11.6 0 1 0 -23.2 0M1025.0 1164.4a11.6 11.6 0 1 0 23.2 0a11.6 11.6 0 1 0 -23.2 0M1026.5 1165.1a11.6 11.6 0 1 0 23.2 0a11.6 11.6 0 1 0 -23.2 0M1028.1 1165.8a11.6 11.6 0 1 0 23.2 0a11.6 11.6 0 1 0 -23.2 0M1029.6 1166.6a11.6 11.6 0 1 0 23.2 0a11.6 11.6 0 1 0 -23.2 0M1031.1 1167.4a11.6 11.6 0 1 0 23.2 0a11.6 11.6 0 1 0 -23.2 0M1032.7 1168.2a11.6 11.6 0 1 0 23.2 0a11.6 11.6 0 1 0 -23.2 0M1034.2 1169.0a11.6 11.6 0 1 0 23.2 0a11.6 11.6 0 1 0 -23.2 0M1035.7 1169.8a11.6 11.6 0 1 0 23.2 0a11.6 11.6 0 1 0 -23.2 0M1037.2 1170.7a11.6 11.6 0 1 0 23.2 0a11.6 11.6 0 1 0 -23.2 0M1038.7 1171.5a11.6 11.6 0 1 0 23.2 0a11.6 11.6 0 1 0 -23.2 0M1040.2 1172.4a11.6 11.6 0 1 0 23.2 0a11.6 11.6 0 1 0 -23.2 0M1041.7 1173.2a11.6 11.6 0 1 0 23.2 0a11.6 11.6 0 1 0 -23.2 0M1043.1 1174.1a11.6 11.6 0 1 0 23.2 0a11.6 11.6 0 1 0 -23.2 0M1044.6 1175.0a11.6 11.6 0 1 0 23.2 0a11.6 11.6 0 1 0 -23.2 0M1046.0 1175.9a11.6 11.6 0 1 0 23.2 0a11.6 11.6 0 1 0 -23.2 0M1047.5 1176.7a11.6 11.6 0 1 0 23.2 0a11.6 11.6 0 1 0 -23.2 0M1048.9 1177.6a11.6 11.6 0 1 0 23.2 0a11.6 11.6 0 1 0 -23.2 0M1050.3 1178.4a11.6 11.6 0 1 0 23.2 0a11.6 11.6 0 1 0 -23.2 0M1051.8 1179.3a11.6 11.6 0 1 0 23.2 0a11.6 11.6 0 1 0 -23.2 0M1053.2 1180.1a11.6 11.6 0 1 0 23.2 0a11.6 11.6 0 1 0 -23.2 0M1054.6 1180.9a11.6 11.6 0 1 0 23.2 0a11.6 11.6 0 1 0 -23.2 0M1056.0 1181.7a11.6 11.6 0 1 0 23.2 0a11.6 11.6 0 1 0 -23.2 0M1057.4 1182.5a11.6 11.6 0 1 0 23.2 0a11.6 11.6 0 1 0 -23.2 0M1058.8 1183.2a11.6 11.6 0 1 0 23.2 0a11.6 11.6 0 1 0 -23.2 0M1060.1 1183.9a11.6 11.6 0 1 0 23.2 0a11.6 11.6 0 1 0 -23.2 0M1061.5 1184.7a11.6 11.6 0 1 0 23.2 0a11.6 11.6 0 1 0 -23.2 0M1062.9 1185.4a11.6 11.6 0 1 0 23.2 0a11.6 11.6 0 1 0 -23.2 0M1064.2 1186.1a11.6 11.6 0 1 0 23.2 0a11.6 11.6 0 1 0 -23.2 0M1065.6 1186.8a11.6 11.6 0 1 0 23.2 0a11.6 11.6 0 1 0 -23.2 0M1066.9 1187.5a11.6 11.6 0 1 0 23.2 0a11.6 11.6 0 1 0 -23.2 0M1068.3 1188.2a11.6 11.6 0 1 0 23.2 0a11.6 11.6 0 1 0 -23.2 0M1069.6 1188.9a11.6 11.6 0 1 0 23.2 0a11.6 11.6 0 1 0 -23.2 0M1070.9 1189.6a11.6 11.6 0 1 0 23.2 0a11.6 11.6 0 1 0 -23.2 0M1072.3 1190.3a11.6 11.6 0 1 0 23.2 0a11.6 11.6 0 1 0 -23.2 0M1073.6 1191.0a11.6 11.6 0 1 0 23.2 0a11.6 11.6 0 1 0 -23.2 0M1074.9 1191.6a11.6 11.6 0 1 0 23.2 0a11.6 11.6 0 1 0 -23.2 0M1076.2 1192.3a11.6 11.6 0 1 0 23.2 0a11.6 11.6 0 1 0 -23.2 0M1077.5 1192.9a11.6 11.6 0 1 0 23.2 0a11.6 11.6 0 1 0 -23.2 0M1078.8 1193.6a11.6 11.6 0 1 0 23.2 0a11.6 11.6 0 1 0 -23.2 0M1080.0 1194.2a11.6 11.6 0 1 0 23.2 0a11.6 11.6 0 1 0 -23.2 0M1081.3 1194.8a11.6 11.6 0 1 0 23.2 0a11.6 11.6 0 1 0 -23.2 0M1082.6 1195.4a11.6 11.6 0 1 0 23.2 0a11.6 11.6 0 1 0 -23.2 0M1083.8 1196.0a11.6 11.6 0 1 0 23.2 0a11.6 11.6 0 1 0 -23.2 0M1085.1 1196.6a11.6 11.6 0 1 0 23.2 0a11.6 11.6 0 1 0 -23.2 0M1086.4 1197.1a11.6 11.6 0 1 0 23.2 0a11.6 11.6 0 1 0 -23.2 0M1087.6 1197.7a11.6 11.6 0 1 0 23.2 0a11.6 11.6 0 1 0 -23.2 0M1088.8 1198.2a11.6 11.6 0 1 0 23.2 0a11.6 11.6 0 1 0 -23.2 0M1090.1 1198.7a11.6 11.6 0 1 0 23.2 0a11.6 11.6 0 1 0 -23.2 0M1091.3 1199.2a11.6 11.6 0 1 0 23.2 0a11.6 11.6 0 1 0 -23.2 0M1092.5 1199.7a11.6 11.6 0 1 0 23.2 0a11.6 11.6 0 1 0 -23.2 0M1093.8 1200.1a11.6 11.6 0 1 0 23.2 0a11.6 11.6 0 1 0 -23.2 0M1095.0 1200.6a11.6 11.6 0 1 0 23.2 0a11.6 11.6 0 1 0 -23.2 0M1096.2 1201.0a11.6 11.6 0 1 0 23.2 0a11.6 11.6 0 1 0 -23.2 0M1097.4 1201.5a11.6 11.6 0 1 0 23.2 0a11.6 11.6 0 1 0 -23.2 0M1098.6 1201.9a11.6 11.6 0 1 0 23.2 0a11.6 11.6 0 1 0 -23.2 0M1099.8 1202.3a11.6 11.6 0 1 0 23.2 0a11.6 11.6 0 1 0 -23.2 0M1101.0 1202.7a11.6 11.6 0 1 0 23.2 0a11.6 11.6 0 1 0 -23.2 0M1102.1 1203.2a11.6 11.6 0 1 0 23.2 0a11.6 11.6 0 1 0 -23.2 0M1103.3 1203.6a11.6 11.6 0 1 0 23.2 0a11.6 11.6 0 1 0 -23.2 0M1104.5 1204.0a11.6 11.6 0 1 0 23.2 0a11.6 11.6 0 1 0 -23.2 0M1105.7 1204.4a11.6 11.6 0 1 0 23.2 0a11.6 11.6 0 1 0 -23.2 0M1106.8 1204.8a11.6 11.6 0 1 0 23.2 0a11.6 11.6 0 1 0 -23.2 0M1108.0 1205.2a11.6 11.6 0 1 0 23.2 0a11.6 11.6 0 1 0 -23.2 0M1109.1 1205.6a11.6 11.6 0 1 0 23.2 0a11.6 11.6 0 1 0 -23.2 0M1110.3 1206.0a11.6 11.6 0 1 0 23.2 0a11.6 11.6 0 1 0 -23.2 0M1111.4 1206.5a11.6 11.6 0 1 0 23.2 0a11.6 11.6 0 1 0 -23.2 0M1112.6 1206.9a11.6 11.6 0 1 0 23.2 0a11.6 11.6 0 1 0 -23.2 0M1113.7 1207.3a11.6 11.6 0 1 0 23.2 0a11.6 11.6 0 1 0 -23.2 0M1114.8 1207.8a11.6 11.6 0 1 0 23.2 0a11.6 11.6 0 1 0 -23.2 0M1115.9 1208.2a11.6 11.6 0 1 0 23.2 0a11.6 11.6 0 1 0 -23.2 0M1117.1 1208.7a11.6 11.6 0 1 0 23.2 0a11.6 11.6 0 1 0 -23.2 0M1118.2 1209.1a11.6 11.6 0 1 0 23.2 0a11.6 11.6 0 1 0 -23.2 0M1119.3 1209.6a11.6 11.6 0 1 0 23.2 0a11.6 11.6 0 1 0 -23.2 0M1120.4 1210.0a11.6 11.6 0 1 0 23.2 0a11.6 11.6 0 1 0 -23.2 0M1121.5 1210.5a11.6 11.6 0 1 0 23.2 0a11.6 11.6 0 1 0 -23.2 0M1122.6 1210.9a11.6 11.6 0 1 0 23.2 0a11.6 11.6 0 1 0 -23.2 0M1123.7 1211.4a11.6 11.6 0 1 0 23.2 0a11.6 11.6 0 1 0 -23.2 0M1124.8 1211.9a11.6 11.6 0 1 0 23.2 0a11.6 11.6 0 1 0 -23.2 0M1125.8 1212.3a11.6 11.6 0 1 0 23.2 0a11.6 11.6 0 1 0 -23.2 0M1126.9 1212.8a11.6 11.6 0 1 0 23.2 0a11.6 11.6 0 1 0 -23.2 0M1128.0 1213.3a11.6 11.6 0 1 0 23.2 0a11.6 11.6 0 1 0 -23.2 0M1129.1 1213.8a11.6 11.6 0 1 0 23.2 0a11.6 11.6 0 1 0 -23.2 0M1130.1 1214.4a11.6 11.6 0 1 0 23.2 0a11.6 11.6 0 1 0 -23.2 0M1131.2 1214.9a11.6 11.6 0 1 0 23.2 0a11.6 11.6 0 1 0 -23.2 0M1132.3 1215.5a11.6 11.6 0 1 0 23.2 0a11.6 11.6 0 1 0 -23.2 0M1133.3 1216.1a11.6 11.6 0 1 0 23.2 0a11.6 11.6 0 1 0 -23.2 0M1134.4 1216.7a11.6 11.6 0 1 0 23.2 0a11.6 11.6 0 1 0 -23.2 0M1135.4 1217.3a11.6 11.6 0 1 0 23.2 0a11.6 11.6 0 1 0 -23.2 0M1136.5 1218.0a11.6 11.6 0 1 0 23.2 0a11.6 11.6 0 1 0 -23.2 0M1137.5 1218.7a11.6 11.6 0 1 0 23.2 0a11.6 11.6 0 1 0 -23.2 0M1138.5 1219.3a11.6 11.6 0 1 0 23.2 0a11.6 11.6 0 1 0 -23.2 0M1139.6 1220.0a11.6 11.6 0 1 0 23.2 0a11.6 11.6 0 1 0 -23.2 0M1140.6 1220.7a11.6 11.6 0 1 0 23.2 0a11.6 11.6 0 1 0 -23.2 0M1141.6 1221.4a11.6 11.6 0 1 0 23.2 0a11.6 11.6 0 1 0 -23.2 0M1142.6 1222.1a11.6 11.6 0 1 0 23.2 0a11.6 11.6 0 1 0 -23.2 0M1143.6 1222.8a11.6 11.6 0 1 0 23.2 0a11.6 11.6 0 1 0 -23.2 0M1144.7 1223.5a11.6 11.6 0 1 0 23.2 0a11.6 11.6 0 1 0 -23.2 0M1145.7 1224.2a11.6 11.6 0 1 0 23.2 0a11.6 11.6 0 1 0 -23.2 0M1146.7 1224.9a11.6 11.6 0 1 0 23.2 0a11.6 11.6 0 1 0 -23.2 0M1147.7 1225.5a11.6 11.6 0 1 0 23.2 0a11.6 11.6 0 1 0 -23.2 0M1148.7 1226.2a11.6 11.6 0 1 0 23.2 0a11.6 11.6 0 1 0 -23.2 0M1149.7 1226.8a11.6 11.6 0 1 0 23.2 0a11.6 11.6 0 1 0 -23.2 0M1150.6 1227.4a11.6 11.6 0 1 0 23.2 0a11.6 11.6 0 1 0 -23.2 0M1151.6 1228.0a11.6 11.6 0 1 0 23.2 0a11.6 11.6 0 1 0 -23.2 0M1152.6 1228.6a11.6 11.6 0 1 0 23.2 0a11.6 11.6 0 1 0 -23.2 0M1153.6 1229.2a11.6 11.6 0 1 0 23.2 0a11.6 11.6 0 1 0 -23.2 0M1154.6 1229.8a11.6 11.6 0 1 0 23.2 0a11.6 11.6 0 1 0 -23.2 0M1155.5 1230.4a11.6 11.6 0 1 0 23.2 0a11.6 11.6 0 1 0 -23.2 0M1156.5 1231.0a11.6 11.6 0 1 0 23.2 0a11.6 11.6 0 1 0 -23.2 0M1157.5 1231.6a11.6 11.6 0 1 0 23.2 0a11.6 11.6 0 1 0 -23.2 0M1158.4 1232.2a11.6 11.6 0 1 0 23.2 0a11.6 11.6 0 1 0 -23.2 0M1159.4 1232.8a11.6 11.6 0 1 0 23.2 0a11.6 11.6 0 1 0 -23.2 0M1160.3 1233.4a11.6 11.6 0 1 0 23.2 0a11.6 11.6 0 1 0 -23.2 0M1161.3 1234.0a11.6 11.6 0 1 0 23.2 0a11.6 11.6 0 1 0 -23.2 0M1162.2 1234.5a11.6 11.6 0 1 0 23.2 0a11.6 11.6 0 1 0 -23.2 0M1163.2 1235.1a11.6 11.6 0 1 0 23.2 0a11.6 11.6 0 1 0 -23.2 0M1164.1 1235.7a11.6 11.6 0 1 0 23.2 0a11.6 11.6 0 1 0 -23.2 0M1165.1 1236.2a11.6 11.6 0 1 0 23.2 0a11.6 11.6 0 1 0 -23.2 0M1166.0 1236.8a11.6 11.6 0 1 0 23.2 0a11.6 11.6 0 1 0 -23.2 0M1166.9 1237.4a11.6 11.6 0 1 0 23.2 0a11.6 11.6 0 1 0 -23.2 0M1167.9 1237.9a11.6 11.6 0 1 0 23.2 0a11.6 11.6 0 1 0 -23.2 0M1168.8 1238.0a11.6 11.6 0 1 0 23.2 0a11.6 11.6 0 1 0 -23.2 0M1169.7 1240.0a11.6 11.6 0 1 0 23.2 0a11.6 11.6 0 1 0 -23.2 0M1170.6 1235.0a11.6 11.6 0 1 0 23.2 0a11.6 11.6 0 1 0 -23.2 0" fill="#bababa"/>
<path d="M339.2 1098.9V1105.6M358.6 1099.6V1106.3M376.7 1100.3V1106.9M393.7 1100.9V1107.5M409.7 1101.4V1108.0M424.8 1101.8V1108.5M439.1 1102.3V1108.9M452.7 1102.7V1109.3M465.6 1103.0V1109.7M478.0 1103.3V1110.0M489.8 1103.6V1110.2M501.2 1103.8V1110.4M512.1 1104.0V1110.6M522.5 1104.1V1110.8M532.6 1104.3V1110.9M542.3 1104.4V1111.1M551.7 1104.5V1111.2M560.8 1104.6V1111.3M569.6 1104.7V1111.3M578.1 1104.7V1111.4M586.3 1104.7V1111.4M594.4 1104.7V1111.4M602.1 1104.7V1111.4M609.7 1104.7V1111.4M617.1 1104.7V1111.4M624.2 1104.7V1111.4M631.2 1104.7V1111.4M638.1 1104.7V1111.4M644.7 1104.7V1111.4M651.2 1104.7V1111.4M657.5 1104.7V1111.4M663.7 1104.7V1111.4M669.8 1104.7V1111.4M675.7 1104.7V1111.4M681.5 1104.8V1111.4M687.2 1104.8V1111.4M692.8 1104.8V1111.5M698.2 1104.9V1111.5M703.6 1104.9V1111.6M708.8 1104.9V1111.6M713.9 1105.0V1111.7M719.0 1105.1V1111.7M723.9 1105.1V1111.8M728.8 1105.2V1111.9M733.6 1105.3V1111.9M738.3 1105.3V1112.0M742.9 1105.4V1112.1M747.5 1105.5V1112.1M751.9 1105.6V1112.2M756.3 1105.7V1112.3M760.7 1105.7V1112.4M764.9 1105.8V1112.5M769.1 1106.0V1112.7M773.3 1106.2V1112.9M777.3 1106.4V1113.1M781.4 1106.7V1113.3M785.3 1107.0V1113.6M789.2 1107.3V1113.9M793.0 1107.6V1114.2M796.8 1107.9V1114.6M800.6 1108.3V1114.9M804.3 1108.6V1115.3M807.9 1109.0V1115.6M811.5 1109.3V1116.0M815.0 1109.7V1116.4M818.5 1110.1V1116.7M822.0 1110.4V1117.1M825.4 1110.8V1117.4M828.8 1111.1V1117.8M832.1 1111.5V1118.1M835.4 1111.9V1118.5M838.6 1112.2V1118.9M841.8 1112.6V1119.3M845.0 1113.1V1119.7M848.1 1113.5V1120.1M851.2 1113.9V1120.6M854.3 1114.4V1121.0M857.3 1114.8V1121.5M860.3 1115.3V1121.9M863.3 1115.7V1122.4M866.2 1116.2V1122.9M869.1 1116.7V1123.3M872.0 1117.1V1123.8M874.9 1117.6V1124.3M877.7 1118.1V1124.7M880.5 1118.5V1125.2M883.2 1119.0V1125.7M885.9 1119.5V1126.1M888.6 1119.9V1126.6M891.3 1120.4V1127.0M894.0 1120.8V1127.5M896.6 1121.3V1128.0M899.2 1121.7V1128.4M901.8 1122.2V1128.8M904.3 1122.6V1129.3M906.8 1123.1V1129.7M909.4 1123.5V1130.2M911.8 1124.0V1130.6M914.3 1124.4V1131.1M916.7 1124.9V1131.5M919.1 1125.3V1132.0M921.5 1125.8V1132.4M923.9 1126.2V1132.9M926.3 1126.7V1133.3M928.6 1127.1V1133.8M930.9 1127.6V1134.3M933.2 1128.1V1134.7M935.5 1128.6V1135.2M937.7 1129.0V1135.7M940.0 1129.5V1136.2M942.2 1130.0V1136.7M944.4 1130.5V1137.2M946.6 1131.0V1137.7M948.7 1131.5V1138.2M950.9 1132.1V1138.7M953.0 1132.6V1139.3M955.1 1133.1V1139.8M957.2 1133.7V1140.3M959.3 1134.2V1140.9M961.4 1134.8V1141.4M963.4 1135.3V1142.0M965.5 1135.9V1142.5M967.5 1136.4V1143.1M969.5 1136.9V1143.6M971.5 1137.5V1144.1M973.5 1138.0V1144.6M975.4 1138.5V1145.2M977.4 1139.0V1145.7M979.3 1139.6V1146.2M981.3 1140.1V1146.8M983.2 1140.6V1147.3M985.1 1141.2V1147.9M986.9 1141.8V1148.4M988.8 1142.3V1149.0M990.7 1142.9V1149.6M992.5 1143.5V1150.2M994.3 1144.2V1150.8M996.2 1144.8V1151.4M998.0 1145.4V1152.1M999.8 1146.0V1152.7M1001.6 1146.7V1153.3M1003.3 1147.3V1154.0M1005.1 1147.9V1154.6M1006.8 1148.6V1155.3M1008.6 1149.2V1156.0M1010.3 1149.9V1156.6M1012.0 1150.5V1157.3M1013.7 1151.2V1158.0M1015.4 1151.8V1158.7M1017.1 1152.5V1159.4M1018.8 1153.2V1160.1M1020.4 1153.9V1160.8M1022.1 1154.6V1161.5M1023.7 1155.2V1162.2M1025.4 1155.9V1162.9M1027.0 1156.6V1163.6M1028.6 1157.3V1164.3M1030.2 1158.0V1165.1M1031.8 1158.7V1165.8M1033.4 1159.5V1166.5M1035.0 1160.2V1167.3M1036.6 1160.9V1168.0M1038.1 1161.6V1168.7M1039.7 1162.3V1169.5M1041.2 1163.1V1170.2M1042.7 1163.8V1171.0M1044.3 1164.6V1171.8M1045.8 1165.4V1172.6M1047.3 1166.2V1173.5M1048.8 1167.1V1174.3M1050.3 1167.9V1175.2M1051.8 1168.8V1176.1M1053.3 1169.7V1177.0M1054.7 1170.5V1177.8M1056.2 1171.4V1178.7M1057.6 1172.3V1179.6M1059.1 1173.1V1180.5M1060.5 1174.0V1181.4M1061.9 1174.8V1182.2M1063.4 1175.6V1183.1M1064.8 1176.4V1183.9M1066.2 1177.2V1184.7M1067.6 1178.0V1185.5M1069.0 1178.8V1186.3M1070.4 1179.5V1187.0M1071.7 1180.2V1187.8M1073.1 1180.9V1188.5M1074.5 1181.7V1189.2M1075.8 1182.4V1190.0M1077.2 1183.1V1190.7M1078.5 1183.8V1191.4M1079.9 1184.5V1192.1M1081.2 1185.2V1192.8M1082.5 1185.9V1193.5M1083.9 1186.5V1194.2M1085.2 1187.2V1194.9M1086.5 1187.9V1195.6M1087.8 1188.5V1196.2M1089.1 1189.1V1196.9M1090.4 1189.8V1197.5M1091.6 1190.4V1198.2M1092.9 1191.0V1198.8M1094.2 1191.6V1199.4M1095.4 1192.1V1200.0M1096.7 1192.7V1200.5M1098.0 1193.3V1201.1M1099.2 1193.8V1201.7M1100.4 1194.3V1202.2M1101.7 1194.8V1202.7M1102.9 1195.3V1203.2M1104.1 1195.8V1203.7M1105.4 1196.2V1204.2M1106.6 1196.7V1204.6M1107.8 1197.1V1205.1M1109.0 1197.6V1205.5M1110.2 1198.0V1206.0M1111.4 1198.4V1206.4M1112.6 1198.8V1206.8M1113.7 1199.2V1207.2M1114.9 1199.6V1207.7M1116.1 1200.0V1208.1M1117.3 1200.4V1208.5M1118.4 1200.8V1208.9M1119.6 1201.2V1209.3M1120.7 1201.6V1209.7M1121.9 1202.0V1210.2M1123.0 1202.5V1210.6M1124.2 1202.9V1211.0M1125.3 1203.3V1211.5M1126.4 1203.7V1211.9M1127.5 1204.2V1212.4M1128.7 1204.6V1212.9M1129.8 1205.1V1213.3M1130.9 1205.5V1213.8M1132.0 1206.0V1214.2M1133.1 1206.4V1214.7M1134.2 1206.9V1215.1M1135.3 1207.3V1215.6M1136.4 1207.8V1216.1M1137.4 1208.2V1216.6M1138.5 1208.7V1217.1M1139.6 1209.2V1217.6M1140.7 1209.7V1218.1M1141.7 1210.2V1218.6M1142.8 1210.8V1219.2M1143.9 1211.3V1219.7M1144.9 1211.9V1220.3M1146.0 1212.5V1221.0M1147.0 1213.2V1221.6M1148.1 1213.8V1222.3M1149.1 1214.5V1223.0M1150.1 1215.2V1223.7M1151.2 1215.9V1224.4M1152.2 1216.6V1225.1M1153.2 1217.3V1225.8M1154.2 1218.0V1226.5M1155.2 1218.7V1227.2M1156.3 1219.3V1227.9M1157.3 1220.0V1228.6M1158.3 1220.7V1229.3M1159.3 1221.3V1229.9M1160.3 1221.9V1230.5M1161.3 1222.6V1231.2M1162.2 1223.2V1231.8M1163.2 1223.8V1232.4M1164.2 1224.4V1233.0M1165.2 1225.0V1233.7M1166.2 1225.6V1234.3M1167.1 1226.2V1234.9M1168.1 1226.8V1235.5M1169.1 1227.4V1236.1M1170.0 1227.9V1236.7M1171.0 1228.5V1237.3M1171.9 1229.1V1237.9M1172.9 1229.7V1238.4M1173.8 1230.2V1239.0M1174.8 1230.8V1239.6M1175.7 1231.4V1240.2M1176.7 1231.9V1240.7M1177.6 1232.5V1241.3M1178.5 1233.0V1241.9M1179.5 1233.6V1242.4M1180.4 1198.2V1290.0M1181.3 1181.8V1308.8M1182.2 1161.4V1386.4" stroke="#bababa" stroke-width="3.5" fill="none"/>
<path d="M326.7 1098.9h25M326.7 1105.6h25M346.1 1099.6h25M346.1 1106.3h25M364.2 1100.3h25M364.2 1106.9h25M381.2 1100.9h25M381.2 1107.5h25M397.2 1101.4h25M397.2 1108.0h25M412.3 1101.8h25M412.3 1108.5h25M426.6 1102.3h25M426.6 1108.9h25M440.2 1102.7h25M440.2 1109.3h25M453.1 1103.0h25M453.1 1109.7h25M465.5 1103.3h25M465.5 1110.0h25M477.3 1103.6h25M477.3 1110.2h25M488.7 1103.8h25M488.7 1110.4h25M499.6 1104.0h25M499.6 1110.6h25M510.0 1104.1h25M510.0 1110.8h25M520.1 1104.3h25M520.1 1110.9h25M529.8 1104.4h25M529.8 1111.1h25M539.2 1104.5h25M539.2 1111.2h25M548.3 1104.6h25M548.3 1111.3h25M557.1 1104.7h25M557.1 1111.3h25M565.6 1104.7h25M565.6 1111.4h25M573.8 1104.7h25M573.8 1111.4h25M581.9 1104.7h25M581.9 1111.4h25M589.6 1104.7h25M589.6 1111.4h25M597.2 1104.7h25M597.2 1111.4h25M604.6 1104.7h25M604.6 1111.4h25M611.7 1104.7h25M611.7 1111.4h25M618.7 1104.7h25M618.7 1111.4h25M625.6 1104.7h25M625.6 1111.4h25M632.2 1104.7h25M632.2 1111.4h25M638.7 1104.7h25M638.7 1111.4h25M645.0 1104.7h25M645.0 1111.4h25M651.2 1104.7h25M651.2 1111.4h25M657.3 1104.7h25M657.3 1111.4h25M663.2 1104.7h25M663.2 1111.4h25M669.0 1104.8h25M669.0 1111.4h25M674.7 1104.8h25M674.7 1111.4h25M680.3 1104.8h25M680.3 1111.5h25M685.7 1104.9h25M685.7 1111.5h25M691.1 1104.9h25M691.1 1111.6h25M696.3 1104.9h25M696.3 1111.6h25M701.4 1105.0h25M701.4 1111.7h25M706.5 1105.1h25M706.5 1111.7h25M711.4 1105.1h25M711.4 1111.8h25M716.3 1105.2h25M716.3 1111.9h25M721.1 1105.3h25M721.1 1111.9h25M725.8 1105.3h25M725.8 1112.0h25M730.4 1105.4h25M730.4 1112.1h25M735.0 1105.5h25M735.0 1112.1h25M739.4 1105.6h25M739.4 1112.2h25M743.8 1105.7h25M743.8 1112.3h25M748.2 1105.7h25M748.2 1112.4h25M752.4 1105.8h25M752.4 1112.5h25M756.6 1106.0h25M756.6 1112.7h25M760.8 1106.2h25M760.8 1112.9h25M764.8 1106.4h25M764.8 1113.1h25M768.9 1106.7h25M768.9 1113.3h25M772.8 1107.0h25M772.8 1113.6h25M776.7 1107.3h25M776.7 1113.9h25M780.5 1107.6h25M780.5 1114.2h25M784.3 1107.9h25M784.3 1114.6h25M788.1 1108.3h25M788.1 1114.9h25M791.8 1108.6h25M791.8 1115.3h25M795.4 1109.0h25M795.4 1115.6h25M799.0 1109.3h25M799.0 1116.0h25M802.5 1109.7h25M802.5 1116.4h25M806.0 1110.1h25M806.0 1116.7h25M809.5 1110.4h25M809.5 1117.1h25M812.9 1110.8h25M812.9 1117.4h25M816.3 1111.1h25M816.3 1117.8h25M819.6 1111.5h25M819.6 1118.1h25M822.9 1111.9h25M822.9 1118.5h25M826.1 1112.2h25M826.1 1118.9h25M829.3 1112.6h25M829.3 1119.3h25M832.5 1113.1h25M832.5 1119.7h25M835.6 1113.5h25M835.6 1120.1h25M838.7 1113.9h25M838.7 1120.6h25M841.8 1114.4h25M841.8 1121.0h25M844.8 1114.8h25M844.8 1121.5h25M847.8 1115.3h25M847.8 1121.9h25M850.8 1115.7h25M850.8 1122.4h25M853.7 1116.2h25M853.7 1122.9h25M856.6 1116.7h25M856.6 1123.3h25M859.5 1117.1h25M859.5 1123.8h25M862.4 1117.6h25M862.4 1124.3h25M865.2 1118.1h25M865.2 1124.7h25M868.0 1118.5h25M868.0 1125.2h25M870.7 1119.0h25M870.7 1125.7h25M873.4 1119.5h25M873.4 1126.1h25M876.1 1119.9h25M876.1 1126.6h25M878.8 1120.4h25M878.8 1127.0h25M881.5 1120.8h25M881.5 1127.5h25M884.1 1121.3h25M884.1 1128.0h25M886.7 1121.7h25M886.7 1128.4h25M889.3 1122.2h25M889.3 1128.8h25M891.8 1122.6h25M891.8 1129.3h25M894.3 1123.1h25M894.3 1129.7h25M896.9 1123.5h25M896.9 1130.2h25M899.3 1124.0h25M899.3 1130.6h25M901.8 1124.4h25M901.8 1131.1h25M904.2 1124.9h25M904.2 1131.5h25M906.6 1125.3h25M906.6 1132.0h25M909.0 1125.8h25M909.0 1132.4h25M911.4 1126.2h25M911.4 1132.9h25M913.8 1126.7h25M913.8 1133.3h25M916.1 1127.1h25M916.1 1133.8h25M918.4 1127.6h25M918.4 1134.3h25M920.7 1128.1h25M920.7 1134.7h25M923.0 1128.6h25M923.0 1135.2h25M925.2 1129.0h25M925.2 1135.7h25M927.5 1129.5h25M927.5 1136.2h25M929.7 1130.0h25M929.7 1136.7h25M931.9 1130.5h25M931.9 1137.2h25M934.1 1131.0h25M934.1 1137.7h25M936.2 1131.5h25M936.2 1138.2h25M938.4 1132.1h25M938.4 1138.7h25M940.5 1132.6h25M940.5 1139.3h25M942.6 1133.1h25M942.6 1139.8h25M944.7 1133.7h25M944.7 1140.3h25M946.8 1134.2h25M946.8 1140.9h25M948.9 1134.8h25M948.9 1141.4h25M950.9 1135.3h25M950.9 1142.0h25M953.0 1135.9h25M953.0 1142.5h25M955.0 1136.4h25M955.0 1143.1h25M957.0 1136.9h25M957.0 1143.6h25M959.0 1137.5h25M959.0 1144.1h25M961.0 1138.0h25M961.0 1144.6h25M962.9 1138.5h25M962.9 1145.2h25M964.9 1139.0h25M964.9 1145.7h25M966.8 1139.6h25M966.8 1146.2h25M968.8 1140.1h25M968.8 1146.8h25M970.7 1140.6h25M970.7 1147.3h25M972.6 1141.2h25M972.6 1147.9h25M974.4 1141.8h25M974.4 1148.4h25M976.3 1142.3h25M976.3 1149.0h25M978.2 1142.9h25M978.2 1149.6h25M980.0 1143.5h25M980.0 1150.2h25M981.8 1144.2h25M981.8 1150.8h25M983.7 1144.8h25M983.7 1151.4h25M985.5 1145.4h25M985.5 1152.1h25M987.3 1146.0h25M987.3 1152.7h25M989.1 1146.7h25M989.1 1153.3h25M990.8 1147.3h25M990.8 1154.0h25M992.6 1147.9h25M992.6 1154.6h25M994.3 1148.6h25M994.3 1155.3h25M996.1 1149.2h25M996.1 1156.0h25M997.8 1149.9h25M997.8 1156.6h25M999.5 1150.5h25M999.5 1157.3h25M1001.2 1151.2h25M1001.2 1158.0h25M1002.9 1151.8h25M1002.9 1158.7h25M1004.6 1152.5h25M1004.6 1159.4h25M1006.3 1153.2h25M1006.3 1160.1h25M1007.9 1153.9h25M1007.9 1160.8h25M1009.6 1154.6h25M1009.6 1161.5h25M1011.2 1155.2h25M1011.2 1162.2h25M1012.9 1155.9h25M1012.9 1162.9h25M1014.5 1156.6h25M1014.5 1163.6h25M1016.1 1157.3h25M1016.1 1164.3h25M1017.7 1158.0h25M1017.7 1165.1h25M1019.3 1158.7h25M1019.3 1165.8h25M1020.9 1159.5h25M1020.9 1166.5h25M1022.5 1160.2h25M1022.5 1167.3h25M1024.1 1160.9h25M1024.1 1168.0h25M1025.6 1161.6h25M1025.6 1168.7h25M1027.2 1162.3h25M1027.2 1169.5h25M1028.7 1163.1h25M1028.7 1170.2h25M1030.2 1163.8h25M1030.2 1171.0h25M1031.8 1164.6h25M1031.8 1171.8h25M1033.3 1165.4h25M1033.3 1172.6h25M1034.8 1166.2h25M1034.8 1173.5h25M1036.3 1167.1h25M1036.3 1174.3h25M1037.8 1167.9h25M1037.8 1175.2h25M1039.3 1168.8h25M1039.3 1176.1h25M1040.8 1169.7h25M1040.8 1177.0h25M1042.2 1170.5h25M1042.2 1177.8h25M1043.7 1171.4h25M1043.7 1178.7h25M1045.1 1172.3h25M1045.1 1179.6h25M1046.6 1173.1h25M1046.6 1180.5h25M1048.0 1174.0h25M1048.0 1181.4h25M1049.4 1174.8h25M1049.4 1182.2h25M1050.9 1175.6h25M1050.9 1183.1h25M1052.3 1176.4h25M1052.3 1183.9h25M1053.7 1177.2h25M1053.7 1184.7h25M1055.1 1178.0h25M1055.1 1185.5h25M1056.5 1178.8h25M1056.5 1186.3h25M1057.9 1179.5h25M1057.9 1187.0h25M1059.2 1180.2h25M1059.2 1187.8h25M1060.6 1180.9h25M1060.6 1188.5h25M1062.0 1181.7h25M1062.0 1189.2h25M1063.3 1182.4h25M1063.3 1190.0h25M1064.7 1183.1h25M1064.7 1190.7h25M1066.0 1183.8h25M1066.0 1191.4h25M1067.4 1184.5h25M1067.4 1192.1h25M1068.7 1185.2h25M1068.7 1192.8h25M1070.0 1185.9h25M1070.0 1193.5h25M1071.4 1186.5h25M1071.4 1194.2h25M1072.7 1187.2h25M1072.7 1194.9h25M1074.0 1187.9h25M1074.0 1195.6h25M1075.3 1188.5h25M1075.3 1196.2h25M1076.6 1189.1h25M1076.6 1196.9h25M1077.9 1189.8h25M1077.9 1197.5h25M1079.1 1190.4h25M1079.1 1198.2h25M1080.4 1191.0h25M1080.4 1198.8h25M1081.7 1191.6h25M1081.7 1199.4h25M1082.9 1192.1h25M1082.9 1200.0h25M1084.2 1192.7h25M1084.2 1200.5h25M1085.5 1193.3h25M1085.5 1201.1h25M1086.7 1193.8h25M1086.7 1201.7h25M1087.9 1194.3h25M1087.9 1202.2h25M1089.2 1194.8h25M1089.2 1202.7h25M1090.4 1195.3h25M1090.4 1203.2h25M1091.6 1195.8h25M1091.6 1203.7h25M1092.9 1196.2h25M1092.9 1204.2h25M1094.1 1196.7h25M1094.1 1204.6h25M1095.3 1197.1h25M1095.3 1205.1h25M1096.5 1197.6h25M1096.5 1205.5h25M1097.7 1198.0h25M1097.7 1206.0h25M1098.9 1198.4h25M1098.9 1206.4h25M1100.1 1198.8h25M1100.1 1206.8h25M1101.2 1199.2h25M1101.2 1207.2h25M1102.4 1199.6h25M1102.4 1207.7h25M1103.6 1200.0h25M1103.6 1208.1h25M1104.8 1200.4h25M1104.8 1208.5h25M1105.9 1200.8h25M1105.9 1208.9h25M1107.1 1201.2h25M1107.1 1209.3h25M1108.2 1201.6h25M1108.2 1209.7h25M1109.4 1202.0h25M1109.4 1210.2h25M1110.5 1202.5h25M1110.5 1210.6h25M1111.7 1202.9h25M1111.7 1211.0h25M1112.8 1203.3h25M1112.8 1211.5h25M1113.9 1203.7h25M1113.9 1211.9h25M1115.0 1204.2h25M1115.0 1212.4h25M1116.2 1204.6h25M1116.2 1212.9h25M1117.3 1205.1h25M1117.3 1213.3h25M1118.4 1205.5h25M1118.4 1213.8h25M1119.5 1206.0h25M1119.5 1214.2h25M1120.6 1206.4h25M1120.6 1214.7h25M1121.7 1206.9h25M1121.7 1215.1h25M1122.8 1207.3h25M1122.8 1215.6h25M1123.9 1207.8h25M1123.9 1216.1h25M1124.9 1208.2h25M1124.9 1216.6h25M1126.0 1208.7h25M1126.0 1217.1h25M1127.1 1209.2h25M1127.1 1217.6h25M1128.2 1209.7h25M1128.2 1218.1h25M1129.2 1210.2h25M1129.2 1218.6h25M1130.3 1210.8h25M1130.3 1219.2h25M1131.4 1211.3h25M1131.4 1219.7h25M1132.4 1211.9h25M1132.4 1220.3h25M1133.5 1212.5h25M1133.5 1221.0h25M1134.5 1213.2h25M1134.5 1221.6h25M1135.6 1213.8h25M1135.6 1222.3h25M1136.6 1214.5h25M1136.6 1223.0h25M1137.6 1215.2h25M1137.6 1223.7h25M1138.7 1215.9h25M1138.7 1224.4h25M1139.7 1216.6h25M1139.7 1225.1h25M1140.7 1217.3h25M1140.7 1225.8h25M1141.7 1218.0h25M1141.7 1226.5h25M1142.7 1218.7h25M1142.7 1227.2h25M1143.8 1219.3h25M1143.8 1227.9h25M1144.8 1220.0h25M1144.8 1228.6h25M1145.8 1220.7h25M1145.8 1229.3h25M1146.8 1221.3h25M1146.8 1229.9h25M1147.8 1221.9h25M1147.8 1230.5h25M1148.8 1222.6h25M1148.8 1231.2h25M1149.7 1223.2h25M1149.7 1231.8h25M1150.7 1223.8h25M1150.7 1232.4h25M1151.7 1224.4h25M1151.7 1233.0h25M1152.7 1225.0h25M1152.7 1233.7h25M1153.7 1225.6h25M1153.7 1234.3h25M1154.6 1226.2h25M1154.6 1234.9h25M1155.6 1226.8h25M1155.6 1235.5h25M1156.6 1227.4h25M1156.6 1236.1h25M1157.5 1227.9h25M1157.5 1236.7h25M1158.5 1228.5h25M1158.5 1237.3h25M1159.4 1229.1h25M1159.4 1237.9h25M1160.4 1229.7h25M1160.4 1238.4h25M1161.3 1230.2h25M1161.3 1239.0h25M1162.3 1230.8h25M1162.3 1239.6h25M1163.2 1231.4h25M1163.2 1240.2h25M1164.2 1231.9h25M1164.2 1240.7h25M1165.1 1232.5h25M1165.1 1241.3h25M1166.0 1233.0h25M1166.0 1241.9h25M1167.0 1233.6h25M1167.0 1242.4h25M1167.9 1198.2h25M1167.9 1290.0h25M1168.8 1181.8h25M1168.8 1308.8h25M1169.7 1161.4h25M1169.7 1386.4h25" stroke="#bababa" stroke-width="3.5" fill="none"/>
<path d="M339.9 1101.8 L342.7 1101.9 L345.5 1102.0 L348.3 1102.1 L351.1 1102.2 L353.9 1102.3 L356.7 1102.4 L359.5 1102.5 L362.3 1102.6 L365.1 1102.7 L367.9 1102.8 L370.7 1102.9 L373.5 1102.9 L376.3 1103.0 L379.2 1103.1 L382.0 1103.2 L384.8 1103.2 L387.6 1103.3 L390.4 1103.3 L393.2 1103.4 L396.0 1103.5 L398.8 1103.5 L401.6 1103.6 L404.4 1103.6 L407.2 1103.7 L410.0 1103.7 L412.8 1103.8 L415.6 1103.8 L418.4 1103.9 L421.2 1103.9 L424.0 1103.9 L426.8 1104.0 L429.6 1104.0 L432.4 1104.0 L435.2 1104.1 L438.0 1104.1 L440.8 1104.1 L443.6 1104.2 L446.4 1104.2 L449.2 1104.2 L452.1 1104.2 L454.9 1104.3 L457.7 1104.3 L460.5 1104.3 L463.3 1104.3 L466.1 1104.3 L468.9 1104.3 L471.7 1104.4 L474.5 1104.4 L477.3 1104.4 L480.1 1104.4 L482.9 1104.4 L485.7 1104.4 L488.5 1104.4 L491.3 1104.4 L494.1 1104.5 L496.9 1104.5 L499.7 1104.5 L502.5 1104.5 L505.3 1104.5 L508.1 1104.5 L510.9 1104.5 L513.7 1104.5 L516.5 1104.5 L519.3 1104.5 L522.1 1104.5 L524.9 1104.5 L527.8 1104.6 L530.6 1104.6 L533.4 1104.6 L536.2 1104.6 L539.0 1104.6 L541.8 1104.6 L544.6 1104.6 L547.4 1104.6 L550.2 1104.6 L553.0 1104.6 L555.8 1104.6 L558.6 1104.7 L561.4 1104.7 L564.2 1104.7 L567.0 1104.7 L569.8 1104.7 L572.6 1104.7 L575.4 1104.7 L578.2 1104.8 L581.0 1104.8 L583.8 1104.8 L586.6 1104.8 L589.4 1104.8 L592.2 1104.9 L595.0 1104.9 L597.8 1104.9 L600.7 1104.9 L603.5 1105.0 L606.3 1105.0 L609.1 1105.0 L611.9 1105.1 L614.7 1105.1 L617.5 1105.1 L620.3 1105.2 L623.1 1105.2 L625.9 1105.2 L628.7 1105.3 L631.5 1105.3 L634.3 1105.4 L637.1 1105.4 L639.9 1105.5 L642.7 1105.5 L645.5 1105.6 L648.3 1105.7 L651.1 1105.7 L653.9 1105.8 L656.7 1105.8 L659.5 1105.9 L662.3 1106.0 L665.1 1106.1 L667.9 1106.1 L670.7 1106.2 L673.5 1106.3 L676.4 1106.4 L679.2 1106.5 L682.0 1106.5 L684.8 1106.6 L687.6 1106.7 L690.4 1106.8 L693.2 1106.9 L696.0 1107.0 L698.8 1107.1 L701.6 1107.2 L704.4 1107.4 L707.2 1107.5 L710.0 1107.6 L712.8 1107.7 L715.6 1107.8 L718.4 1108.0 L721.2 1108.1 L724.0 1108.2 L726.8 1108.4 L729.6 1108.5 L732.4 1108.7 L735.2 1108.8 L738.0 1109.0 L740.8 1109.1 L743.6 1109.3 L746.4 1109.5 L749.2 1109.6 L752.1 1109.8 L754.9 1110.0 L757.7 1110.2 L760.5 1110.4 L763.3 1110.6 L766.1 1110.8 L768.9 1111.0 L771.7 1111.2 L774.5 1111.4 L777.3 1111.6 L780.1 1111.8 L782.9 1112.0 L785.7 1112.3 L788.5 1112.5 L791.3 1112.7 L794.1 1113.0 L796.9 1113.2 L799.7 1113.5 L802.5 1113.7 L805.3 1114.0 L808.1 1114.3 L810.9 1114.5 L813.7 1114.8 L816.5 1115.1 L819.3 1115.4 L822.1 1115.7 L825.0 1116.0 L827.8 1116.3 L830.6 1116.6 L833.4 1116.9 L836.2 1117.2 L839.0 1117.6 L841.8 1117.9 L844.6 1118.2 L847.4 1118.6 L850.2 1118.9 L853.0 1119.3 L855.8 1119.7 L858.6 1120.0 L861.4 1120.4 L864.2 1120.8 L867.0 1121.2 L869.8 1121.6 L872.6 1122.0 L875.4 1122.4 L878.2 1122.8 L881.0 1123.2 L883.8 1123.6 L886.6 1124.0 L889.4 1124.5 L892.2 1124.9 L895.0 1125.4 L897.8 1125.8 L900.7 1126.3 L903.5 1126.8 L906.3 1127.2 L909.1 1127.7 L911.9 1128.2 L914.7 1128.7 L917.5 1129.3 L920.3 1129.8 L923.1 1130.3 L925.9 1130.9 L928.7 1131.4 L931.5 1132.0 L934.3 1132.6 L937.1 1133.2 L939.9 1133.8 L942.7 1134.5 L945.5 1135.2 L948.3 1135.8 L951.1 1136.5 L953.9 1137.2 L956.7 1138.0 L959.5 1138.7 L962.3 1139.5 L965.1 1140.3 L967.9 1141.1 L970.7 1142.0 L973.6 1142.8 L976.4 1143.7 L979.2 1144.7 L982.0 1145.6 L984.8 1146.6 L987.6 1147.6 L990.4 1148.6 L993.2 1149.7 L996.0 1150.7 L998.8 1151.9 L1001.6 1153.0 L1004.4 1154.2 L1007.2 1155.4 L1010.0 1156.6" stroke="#000" stroke-width="12.5" fill="none" stroke-linejoin="round"/>
<path d="M327.6 842.9a11.6 11.6 0 1 0 23.2 0a11.6 11.6 0 1 0 -23.2 0M347.0 846.9a11.6 11.6 0 1 0 23.2 0a11.6 11.6 0 1 0 -23.2 0M365.1 851.1a11.6 11.6 0 1 0 23.2 0a11.6 11.6 0 1 0 -23.2 0M382.1 855.2a11.6 11.6 0 1 0 23.2 0a11.6 11.6 0 1 0 -23.2 0M398.1 859.4a11.6 11.6 0 1 0 23.2 0a11.6 11.6 0 1 0 -23.2 0M413.2 863.5a11.6 11.6 0 1 0 23.2 0a11.6 11.6 0 1 0 -23.2 0M427.5 867.8a11.6 11.6 0 1 0 23.2 0a11.6 11.6 0 1 0 -23.2 0M441.1 872.1a11.6 11.6 0 1 0 23.2 0a11.6 11.6 0 1 0 -23.2 0M454.0 876.4a11.6 11.6 0 1 0 23.2 0a11.6 11.6 0 1 0 -23.2 0M466.4 880.4a11.6 11.6 0 1 0 23.2 0a11.6 11.6 0 1 0 -23.2 0M478.2 884.2a11.6 11.6 0 1 0 23.2 0a11.6 11.6 0 1 0 -23.2 0M489.6 887.7a11.6 11.6 0 1 0 23.2 0a11.6 11.6 0 1 0 -23.2 0M500.5 890.9a11.6 11.6 0 1 0 23.2 0a11.6 11.6 0 1 0 -23.2 0M510.9 894.0a11.6 11.6 0 1 0 23.2 0a11.6 11.6 0 1 0 -23.2 0M521.0 897.1a11.6 11.6 0 1 0 23.2 0a11.6 11.6 0 1 0 -23.2 0M530.7 900.3a11.6 11.6 0 1 0 23.2 0a11.6 11.6 0 1 0 -23.2 0M540.1 903.5a11.6 11.6 0 1 0 23.2 0a11.6 11.6 0 1 0 -23.2 0M549.2 906.8a11.6 11.6 0 1 0 23.2 0a11.6 11.6 0 1 0 -23.2 0M558.0 910.1a11.6 11.6 0 1 0 23.2 0a11.6 11.6 0 1 0 -23.2 0M566.5 913.3a11.6 11.6 0 1 0 23.2 0a11.6 11.6 0 1 0 -23.2 0M574.7 916.5a11.6 11.6 0 1 0 23.2 0a11.6 11.6 0 1 0 -23.2 0M582.8 919.6a11.6 11.6 0 1 0 23.2 0a11.6 11.6 0 1 0 -23.2 0M590.5 922.7a11.6 11.6 0 1 0 23.2 0a11.6 11.6 0 1 0 -23.2 0M598.1 925.6a11.6 11.6 0 1 0 23.2 0a11.6 11.6 0 1 0 -23.2 0M605.5 928.4a11.6 11.6 0 1 0 23.2 0a11.6 11.6 0 1 0 -23.2 0M612.6 931.1a11.6 11.6 0 1 0 23.2 0a11.6 11.6 0 1 0 -23.2 0M619.6 933.6a11.6 11.6 0 1 0 23.2 0a11.6 11.6 0 1 0 -23.2 0M626.5 936.1a11.6 11.6 0 1 0 23.2 0a11.6 11.6 0 1 0 -23.2 0M633.1 938.4a11.6 11.6 0 1 0 23.2 0a11.6 11.6 0 1 0 -23.2 0M639.6 940.7a11.6 11.6 0 1 0 23.2 0a11.6 11.6 0 1 0 -23.2 0M645.9 943.0a11.6 11.6 0 1 0 23.2 0a11.6 11.6 0 1 0 -23.2 0M652.1 945.2a11.6 11.6 0 1 0 23.2 0a11.6 11.6 0 1 0 -23.2 0M658.2 947.4a11.6 11.6 0 1 0 23.2 0a11.6 11.6 0 1 0 -23.2 0M664.1 949.6a11.6 11.6 0 1 0 23.2 0a11.6 11.6 0 1 0 -23.2 0M669.9 951.8a11.6 11.6 0 1 0 23.2 0a11.6 11.6 0 1 0 -23.2 0M675.6 954.1a11.6 11.6 0 1 0 23.2 0a11.6 11.6 0 1 0 -23.2 0M681.2 956.4a11.6 11.6 0 1 0 23.2 0a11.6 11.6 0 1 0 -23.2 0M686.6 958.7a11.6 11.6 0 1 0 23.2 0a11.6 11.6 0 1 0 -23.2 0M692.0 961.1a11.6 11.6 0 1 0 23.2 0a11.6 11.6 0 1 0 -23.2 0M697.2 963.6a11.6 11.6 0 1 0 23.2 0a11.6 11.6 0 1 0 -23.2 0M702.3 966.2a11.6 11.6 0 1 0 23.2 0a11.6 11.6 0 1 0 -23.2 0M707.4 968.8a11.6 11.6 0 1 0 23.2 0a11.6 11.6 0 1 0 -23.2 0M712.3 971.5a11.6 11.6 0 1 0 23.2 0a11.6 11.6 0 1 0 -23.2 0M717.2 974.1a11.6 11.6 0 1 0 23.2 0a11.6 11.6 0 1 0 -23.2 0M722.0 976.7a11.6 11.6 0 1 0 23.2 0a11.6 11.6 0 1 0 -23.2 0M726.7 979.3a11.6 11.6 0 1 0 23.2 0a11.6 11.6 0 1 0 -23.2 0M731.3 981.8a11.6 11.6 0 1 0 23.2 0a11.6 11.6 0 1 0 -23.2 0M735.9 984.2a11.6 11.6 0 1 0 23.2 0a11.6 11.6 0 1 0 -23.2 0M740.3 986.4a11.6 11.6 0 1 0 23.2 0a11.6 11.6 0 1 0 -23.2 0M744.7 988.7a11.6 11.6 0 1 0 23.2 0a11.6 11.6 0 1 0 -23.2 0M749.1 990.8a11.6 11.6 0 1 0 23.2 0a11.6 11.6 0 1 0 -23.2 0M753.3 992.9a11.6 11.6 0 1 0 23.2 0a11.6 11.6 0 1 0 -23.2 0M757.5 995.0a11.6 11.6 0 1 0 23.2 0a11.6 11.6 0 1 0 -23.2 0M761.7 997.0a11.6 11.6 0 1 0 23.2 0a11.6 11.6 0 1 0 -23.2 0M765.7 999.0a11.6 11.6 0 1 0 23.2 0a11.6 11.6 0 1 0 -23.2 0M769.8 1001.0a11.6 11.6 0 1 0 23.2 0a11.6 11.6 0 1 0 -23.2 0M773.7 1002.9a11.6 11.6 0 1 0 23.2 0a11.6 11.6 0 1 0 -23.2 0M777.6 1004.9a11.6 11.6 0 1 0 23.2 0a11.6 11.6 0 1 0 -23.2 0M781.4 1006.8a11.6 11.6 0 1 0 23.2 0a11.6 11.6 0 1 0 -23.2 0M785.2 1008.8a11.6 11.6 0 1 0 23.2 0a11.6 11.6 0 1 0 -23.2 0M789.0 1010.7a11.6 11.6 0 1 0 23.2 0a11.6 11.6 0 1 0 -23.2 0M792.7 1012.7a11.6 11.6 0 1 0 23.2 0a11.6 11.6 0 1 0 -23.2 0M796.3 1014.6a11.6 11.6 0 1 0 23.2 0a11.6 11.6 0 1 0 -23.2 0M799.9 1016.6a11.6 11.6 0 1 0 23.2 0a11.6 11.6 0 1 0 -23.2 0M803.4 1018.6a11.6 11.6 0 1 0 23.2 0a11.6 11.6 0 1 0 -23.2 0M806.9 1020.6a11.6 11.6 0 1 0 23.2 0a11.6 11.6 0 1 0 -23.2 0M810.4 1022.6a11.6 11.6 0 1 0 23.2 0a11.6 11.6 0 1 0 -23.2 0M813.8 1024.6a11.6 11.6 0 1 0 23.2 0a11.6 11.6 0 1 0 -23.2 0M817.2 1026.6a11.6 11.6 0 1 0 23.2 0a11.6 11.6 0 1 0 -23.2 0M820.5 1028.6a11.6 11.6 0 1 0 23.2 0a11.6 11.6 0 1 0 -23.2 0M823.8 1030.6a11.6 11.6 0 1 0 23.2 0a11.6 11.6 0 1 0 -23.2 0M827.0 1032.6a11.6 11.6 0 1 0 23.2 0a11.6 11.6 0 1 0 -23.2 0M830.2 1034.5a11.6 11.6 0 1 0 23.2 0a11.6 11.6 0 1 0 -23.2 0M833.4 1036.5a11.6 11.6 0 1 0 23.2 0a11.6 11.6 0 1 0 -23.2 0M836.5 1038.4a11.6 11.6 0 1 0 23.2 0a11.6 11.6 0 1 0 -23.2 0M839.6 1040.3a11.6 11.6 0 1 0 23.2 0a11.6 11.6 0 1 0 -23.2 0M842.7 1042.2a11.6 11.6 0 1 0 23.2 0a11.6 11.6 0 1 0 -23.2 0M845.7 1044.1a11.6 11.6 0 1 0 23.2 0a11.6 11.6 0 1 0 -23.2 0M848.7 1046.0a11.6 11.6 0 1 0 23.2 0a11.6 11.6 0 1 0 -23.2 0M851.7 1047.8a11.6 11.6 0 1 0 23.2 0a11.6 11.6 0 1 0 -23.2 0M854.6 1049.6a11.6 11.6 0 1 0 23.2 0a11.6 11.6 0 1 0 -23.2 0M857.5 1051.4a11.6 11.6 0 1 0 23.2 0a11.6 11.6 0 1 0 -23.2 0M860.4 1053.1a11.6 11.6 0 1 0 23.2 0a11.6 11.6 0 1 0 -23.2 0M863.3 1054.9a11.6 11.6 0 1 0 23.2 0a11.6 11.6 0 1 0 -23.2 0M866.1 1056.6a11.6 11.6 0 1 0 23.2 0a11.6 11.6 0 1 0 -23.2 0M868.9 1058.3a11.6 11.6 0 1 0 23.2 0a11.6 11.6 0 1 0 -23.2 0M871.6 1059.9a11.6 11.6 0 1 0 23.2 0a11.6 11.6 0 1 0 -23.2 0M874.3 1061.5a11.6 11.6 0 1 0 23.2 0a11.6 11.6 0 1 0 -23.2 0M877.0 1063.2a11.6 11.6 0 1 0 23.2 0a11.6 11.6 0 1 0 -23.2 0M879.7 1064.8a11.6 11.6 0 1 0 23.2 0a11.6 11.6 0 1 0 -23.2 0M882.4 1066.4a11.6 11.6 0 1 0 23.2 0a11.6 11.6 0 1 0 -23.2 0M885.0 1067.9a11.6 11.6 0 1 0 23.2 0a11.6 11.6 0 1 0 -23.2 0M887.6 1069.5a11.6 11.6 0 1 0 23.2 0a11.6 11.6 0 1 0 -23.2 0M890.2 1071.0a11.6 11.6 0 1 0 23.2 0a11.6 11.6 0 1 0 -23.2 0M892.7 1072.5a11.6 11.6 0 1 0 23.2 0a11.6 11.6 0 1 0 -23.2 0M895.2 1074.1a11.6 11.6 0 1 0 23.2 0a11.6 11.6 0 1 0 -23.2 0M897.8 1075.6a11.6 11.6 0 1 0 23.2 0a11.6 11.6 0 1 0 -23.2 0M900.2 1077.1a11.6 11.6 0 1 0 23.2 0a11.6 11.6 0 1 0 -23.2 0M902.7 1078.5a11.6 11.6 0 1 0 23.2 0a11.6 11.6 0 1 0 -23.2 0M905.1 1080.0a11.6 11.6 0 1 0 23.2 0a11.6 11.6 0 1 0 -23.2 0M907.5 1081.5a11.6 11.6 0 1 0 23.2 0a11.6 11.6 0 1 0 -23.2 0M909.9 1083.0a11.6 11.6 0 1 0 23.2 0a11.6 11.6 0 1 0 -23.2 0M912.3 1084.4a11.6 11.6 0 1 0 23.2 0a11.6 11.6 0 1 0 -23.2 0M914.7 1085.9a11.6 11.6 0 1 0 23.2 0a11.6 11.6 0 1 0 -23.2 0M917.0 1087.3a11.6 11.6 0 1 0 23.2 0a11.6 11.6 0 1 0 -23.2 0M919.3 1088.8a11.6 11.6 0 1 0 23.2 0a11.6 11.6 0 1 0 -23.2 0M921.6 1090.2a11.6 11.6 0 1 0 23.2 0a11.6 11.6 0 1 0 -23.2 0M923.9 1091.6a11.6 11.6 0 1 0 23.2 0a11.6 11.6 0 1 0 -23.2 0M926.1 1093.1a11.6 11.6 0 1 0 23.2 0a11.6 11.6 0 1 0 -23.2 0M928.4 1094.5a11.6 11.6 0 1 0 23.2 0a11.6 11.6 0 1 0 -23.2 0M930.6 1096.0a11.6 11.6 0 1 0 23.2 0a11.6 11.6 0 1 0 -23.2 0M932.8 1097.4a11.6 11.6 0 1 0 23.2 0a11.6 11.6 0 1 0 -23.2 0M935.0 1098.8a11.6 11.6 0 1 0 23.2 0a11.6 11.6 0 1 0 -23.2 0M937.1 1100.3a11.6 11.6 0 1 0 23.2 0a11.6 11.6 0 1 0 -23.2 0M939.3 1101.8a11.6 11.6 0 1 0 23.2 0a11.6 11.6 0 1 0 -23.2 0M941.4 1103.2a11.6 11.6 0 1 0 23.2 0a11.6 11.6 0 1 0 -23.2 0M943.5 1104.7a11.6 11.6 0 1 0 23.2 0a11.6 11.6 0 1 0 -23.2 0M945.6 1106.2a11.6 11.6 0 1 0 23.2 0a11.6 11.6 0 1 0 -23.2 0M947.7 1107.7a11.6 11.6 0 1 0 23.2 0a11.6 11.6 0 1 0 -23.2 0M949.8 1109.1a11.6 11.6 0 1 0 23.2 0a11.6 11.6 0 1 0 -23.2 0M951.8 1110.6a11.6 11.6 0 1 0 23.2 0a11.6 11.6 0 1 0 -23.2 0M953.9 1112.1a11.6 11.6 0 1 0 23.2 0a11.6 11.6 0 1 0 -23.2 0M955.9 1113.5a11.6 11.6 0 1 0 23.2 0a11.6 11.6 0 1 0 -23.2 0M957.9 1114.9a11.6 11.6 0 1 0 23.2 0a11.6 11.6 0 1 0 -23.2 0M959.9 1116.4a11.6 11.6 0 1 0 23.2 0a11.6 11.6 0 1 0 -23.2 0M961.9 1117.8a11.6 11.6 0 1 0 23.2 0a11.6 11.6 0 1 0 -23.2 0M963.8 1119.2a11.6 11.6 0 1 0 23.2 0a11.6 11.6 0 1 0 -23.2 0M965.8 1120.5a11.6 11.6 0 1 0 23.2 0a11.6 11.6 0 1 0 -23.2 0M967.7 1121.9a11.6 11.6 0 1 0 23.2 0a11.6 11.6 0 1 0 -23.2 0M969.7 1123.2a11.6 11.6 0 1 0 23.2 0a11.6 11.6 0 1 0 -23.2 0M971.6 1124.5a11.6 11.6 0 1 0 23.2 0a11.6 11.6 0 1 0 -23.2 0M973.5 1125.8a11.6 11.6 0 1 0 23.2 0a11.6 11.6 0 1 0 -23.2 0M975.3 1127.0a11.6 11.6 0 1 0 23.2 0a11.6 11.6 0 1 0 -23.2 0M977.2 1128.2a11.6 11.6 0 1 0 23.2 0a11.6 11.6 0 1 0 -23.2 0M979.1 1129.4a11.6 11.6 0 1 0 23.2 0a11.6 11.6 0 1 0 -23.2 0M980.9 1130.6a11.6 11.6 0 1 0 23.2 0a11.6 11.6 0 1 0 -23.2 0M982.7 1131.7a11.6 11.6 0 1 0 23.2 0a11.6 11.6 0 1 0 -23.2 0M984.6 1132.8a11.6 11.6 0 1 0 23.2 0a11.6 11.6 0 1 0 -23.2 0M986.4 1133.8a11.6 11.6 0 1 0 23.2 0a11.6 11.6 0 1 0 -23.2 0M988.2 1134.8a11.6 11.6 0 1 0 23.2 0a11.6 11.6 0 1 0 -23.2 0M990.0 1135.9a11.6 11.6 0 1 0 23.2 0a11.6 11.6 0 1 0 -23.2 0M991.7 1136.9a11.6 11.6 0 1 0 23.2 0a11.6 11.6 0 1 0 -23.2 0M993.5 1137.9a11.6 11.6 0 1 0 23.2 0a11.6 11.6 0 1 0 -23.2 0M995.2 1138.9a11.6 11.6 0 1 0 23.2 0a11.6 11.6 0 1 0 -23.2 0M997.0 1139.9a11.6 11.6 0 1 0 23.2 0a11.6 11.6 0 1 0 -23.2 0M998.7 1141.0a11.6 11.6 0 1 0 23.2 0a11.6 11.6 0 1 0 -23.2 0M1000.4 1142.1a11.6 11.6 0 1 0 23.2 0a11.6 11.6 0 1 0 -23.2 0M1002.1 1143.2a11.6 11.6 0 1 0 23.2 0a11.6 11.6 0 1 0 -23.2 0M1003.8 1144.3a11.6 11.6 0 1 0 23.2 0a11.6 11.6 0 1 0 -23.2 0M1005.5 1145.5a11.6 11.6 0 1 0 23.2 0a11.6 11.6 0 1 0 -23.2 0M1007.2 1146.7a11.6 11.6 0 1 0 23.2 0a11.6 11.6 0 1 0 -23.2 0M1008.8 1147.9a11.6 11.6 0 1 0 23.2 0a11.6 11.6 0 1 0 -23.2 0M1010.5 1149.1a11.6 11.6 0 1 0 23.2 0a11.6 11.6 0 1 0 -23.2 0M1012.1 1150.4a11.6 11.6 0 1 0 23.2 0a11.6 11.6 0 1 0 -23.2 0M1013.8 1151.7a11.6 11.6 0 1 0 23.2 0a11.6 11.6 0 1 0 -23.2 0M1015.4 1153.0a11.6 11.6 0 1 0 23.2 0a11.6 11.6 0 1 0 -23.2 0M1017.0 1154.3a11.6 11.6 0 1 0 23.2 0a11.6 11.6 0 1 0 -23.2 0M1018.6 1155.5a11.6 11.6 0 1 0 23.2 0a11.6 11.6 0 1 0 -23.2 0M1020.2 1156.8a11.6 11.6 0 1 0 23.2 0a11.6 11.6 0 1 0 -23.2 0M1021.8 1158.1a11.6 11.6 0 1 0 23.2 0a11.6 11.6 0 1 0 -23.2 0M1023.4 1159.3a11.6 11.6 0 1 0 23.2 0a11.6 11.6 0 1 0 -23.2 0M1025.0 1160.5a11.6 11.6 0 1 0 23.2 0a11.6 11.6 0 1 0 -23.2 0M1026.5 1161.6a11.6 11.6 0 1 0 23.2 0a11.6 11.6 0 1 0 -23.2 0M1028.1 1162.8a11.6 11.6 0 1 0 23.2 0a11.6 11.6 0 1 0 -23.2 0M1029.6 1163.9a11.6 11.6 0 1 0 23.2 0a11.6 11.6 0 1 0 -23.2 0M1031.1 1165.0a11.6 11.6 0 1 0 23.2 0a11.6 11.6 0 1 0 -23.2 0M1032.7 1166.1a11.6 11.6 0 1 0 23.2 0a11.6 11.6 0 1 0 -23.2 0M1034.2 1167.1a11.6 11.6 0 1 0 23.2 0a11.6 11.6 0 1 0 -23.2 0M1035.7 1168.2a11.6 11.6 0 1 0 23.2 0a11.6 11.6 0 1 0 -23.2 0M1037.2 1169.3a11.6 11.6 0 1 0 23.2 0a11.6 11.6 0 1 0 -23.2 0M1038.7 1170.3a11.6 11.6 0 1 0 23.2 0a11.6 11.6 0 1 0 -23.2 0M1040.2 1171.4a11.6 11.6 0 1 0 23.2 0a11.6 11.6 0 1 0 -23.2 0M1041.7 1172.4a11.6 11.6 0 1 0 23.2 0a11.6 11.6 0 1 0 -23.2 0M1043.1 1173.4a11.6 11.6 0 1 0 23.2 0a11.6 11.6 0 1 0 -23.2 0M1044.6 1174.4a11.6 11.6 0 1 0 23.2 0a11.6 11.6 0 1 0 -23.2 0M1046.0 1175.4a11.6 11.6 0 1 0 23.2 0a11.6 11.6 0 1 0 -23.2 0M1047.5 1176.4a11.6 11.6 0 1 0 23.2 0a11.6 11.6 0 1 0 -23.2 0M1048.9 1177.3a11.6 11.6 0 1 0 23.2 0a11.6 11.6 0 1 0 -23.2 0M1050.3 1178.2a11.6 11.6 0 1 0 23.2 0a11.6 11.6 0 1 0 -23.2 0M1051.8 1179.1a11.6 11.6 0 1 0 23.2 0a11.6 11.6 0 1 0 -23.2 0M1053.2 1180.0a11.6 11.6 0 1 0 23.2 0a11.6 11.6 0 1 0 -23.2 0M1054.6 1180.8a11.6 11.6 0 1 0 23.2 0a11.6 11.6 0 1 0 -23.2 0M1056.0 1181.6a11.6 11.6 0 1 0 23.2 0a11.6 11.6 0 1 0 -23.2 0M1057.4 1182.4a11.6 11.6 0 1 0 23.2 0a11.6 11.6 0 1 0 -23.2 0M1058.8 1183.2a11.6 11.6 0 1 0 23.2 0a11.6 11.6 0 1 0 -23.2 0M1060.1 1183.9a11.6 11.6 0 1 0 23.2 0a11.6 11.6 0 1 0 -23.2 0M1061.5 1184.7a11.6 11.6 0 1 0 23.2 0a11.6 11.6 0 1 0 -23.2 0M1062.9 1185.4a11.6 11.6 0 1 0 23.2 0a11.6 11.6 0 1 0 -23.2 0M1064.2 1186.1a11.6 11.6 0 1 0 23.2 0a11.6 11.6 0 1 0 -23.2 0M1065.6 1186.8a11.6 11.6 0 1 0 23.2 0a11.6 11.6 0 1 0 -23.2 0M1066.9 1187.4a11.6 11.6 0 1 0 23.2 0a11.6 11.6 0 1 0 -23.2 0M1068.3 1188.1a11.6 11.6 0 1 0 23.2 0a11.6 11.6 0 1 0 -23.2 0M1069.6 1188.7a11.6 11.6 0 1 0 23.2 0a11.6 11.6 0 1 0 -23.2 0M1070.9 1189.4a11.6 11.6 0 1 0 23.2 0a11.6 11.6 0 1 0 -23.2 0M1072.3 1190.0a11.6 11.6 0 1 0 23.2 0a11.6 11.6 0 1 0 -23.2 0M1073.6 1190.6a11.6 11.6 0 1 0 23.2 0a11.6 11.6 0 1 0 -23.2 0M1074.9 1191.2a11.6 11.6 0 1 0 23.2 0a11.6 11.6 0 1 0 -23.2 0M1076.2 1191.8a11.6 11.6 0 1 0 23.2 0a11.6 11.6 0 1 0 -23.2 0M1077.5 1192.3a11.6 11.6 0 1 0 23.2 0a11.6 11.6 0 1 0 -23.2 0M1078.8 1192.9a11.6 11.6 0 1 0 23.2 0a11.6 11.6 0 1 0 -23.2 0M1080.0 1193.5a11.6 11.6 0 1 0 23.2 0a11.6 11.6 0 1 0 -23.2 0M1081.3 1194.0a11.6 11.6 0 1 0 23.2 0a11.6 11.6 0 1 0 -23.2 0M1082.6 1194.6a11.6 11.6 0 1 0 23.2 0a11.6 11.6 0 1 0 -23.2 0M1083.8 1195.1a11.6 11.6 0 1 0 23.2 0a11.6 11.6 0 1 0 -23.2 0M1085.1 1195.6a11.6 11.6 0 1 0 23.2 0a11.6 11.6 0 1 0 -23.2 0M1086.4 1196.2a11.6 11.6 0 1 0 23.2 0a11.6 11.6 0 1 0 -23.2 0M1087.6 1196.7a11.6 11.6 0 1 0 23.2 0a11.6 11.6 0 1 0 -23.2 0M1088.8 1197.2a11.6 11.6 0 1 0 23.2 0a11.6 11.6 0 1 0 -23.2 0M1090.1 1197.7a11.6 11.6 0 1 0 23.2 0a11.6 11.6 0 1 0 -23.2 0M1091.3 1198.2a11.6 11.6 0 1 0 23.2 0a11.6 11.6 0 1 0 -23.2 0M1092.5 1198.6a11.6 11.6 0 1 0 23.2 0a11.6 11.6 0 1 0 -23.2 0M1093.8 1199.1a11.6 11.6 0 1 0 23.2 0a11.6 11.6 0 1 0 -23.2 0M1095.0 1199.5a11.6 11.6 0 1 0 23.2 0a11.6 11.6 0 1 0 -23.2 0M1096.2 1200.0a11.6 11.6 0 1 0 23.2 0a11.6 11.6 0 1 0 -23.2 0M1097.4 1200.4a11.6 11.6 0 1 0 23.2 0a11.6 11.6 0 1 0 -23.2 0M1098.6 1200.9a11.6 11.6 0 1 0 23.2 0a11.6 11.6 0 1 0 -23.2 0M1099.8 1201.3a11.6 11.6 0 1 0 23.2 0a11.6 11.6 0 1 0 -23.2 0M1101.0 1201.7a11.6 11.6 0 1 0 23.2 0a11.6 11.6 0 1 0 -23.2 0M1102.1 1202.1a11.6 11.6 0 1 0 23.2 0a11.6 11.6 0 1 0 -23.2 0M1103.3 1202.5a11.6 11.6 0 1 0 23.2 0a11.6 11.6 0 1 0 -23.2 0M1104.5 1202.9a11.6 11.6 0 1 0 23.2 0a11.6 11.6 0 1 0 -23.2 0M1105.7 1203.4a11.6 11.6 0 1 0 23.2 0a11.6 11.6 0 1 0 -23.2 0M1106.8 1203.8a11.6 11.6 0 1 0 23.2 0a11.6 11.6 0 1 0 -23.2 0M1108.0 1204.2a11.6 11.6 0 1 0 23.2 0a11.6 11.6 0 1 0 -23.2 0M1109.1 1204.6a11.6 11.6 0 1 0 23.2 0a11.6 11.6 0 1 0 -23.2 0M1110.3 1205.0a11.6 11.6 0 1 0 23.2 0a11.6 11.6 0 1 0 -23.2 0M1111.4 1205.4a11.6 11.6 0 1 0 23.2 0a11.6 11.6 0 1 0 -23.2 0M1112.6 1205.9a11.6 11.6 0 1 0 23.2 0a11.6 11.6 0 1 0 -23.2 0M1113.7 1206.3a11.6 11.6 0 1 0 23.2 0a11.6 11.6 0 1 0 -23.2 0M1114.8 1206.8a11.6 11.6 0 1 0 23.2 0a11.6 11.6 0 1 0 -23.2 0M1115.9 1207.2a11.6 11.6 0 1 0 23.2 0a11.6 11.6 0 1 0 -23.2 0M1117.1 1207.7a11.6 11.6 0 1 0 23.2 0a11.6 11.6 0 1 0 -23.2 0M1118.2 1208.1a11.6 11.6 0 1 0 23.2 0a11.6 11.6 0 1 0 -23.2 0M1119.3 1208.6a11.6 11.6 0 1 0 23.2 0a11.6 11.6 0 1 0 -23.2 0M1120.4 1209.0a11.6 11.6 0 1 0 23.2 0a11.6 11.6 0 1 0 -23.2 0M1121.5 1209.5a11.6 11.6 0 1 0 23.2 0a11.6 11.6 0 1 0 -23.2 0M1122.6 1209.9a11.6 11.6 0 1 0 23.2 0a11.6 11.6 0 1 0 -23.2 0M1123.7 1210.4a11.6 11.6 0 1 0 23.2 0a11.6 11.6 0 1 0 -23.2 0M1124.8 1210.9a11.6 11.6 0 1 0 23.2 0a11.6 11.6 0 1 0 -23.2 0M1125.8 1211.3a11.6 11.6 0 1 0 23.2 0a11.6 11.6 0 1 0 -23.2 0M1126.9 1211.8a11.6 11.6 0 1 0 23.2 0a11.6 11.6 0 1 0 -23.2 0M1128.0 1212.3a11.6 11.6 0 1 0 23.2 0a11.6 11.6 0 1 0 -23.2 0M1129.1 1212.8a11.6 11.6 0 1 0 23.2 0a11.6 11.6 0 1 0 -23.2 0M1130.1 1213.4a11.6 11.6 0 1 0 23.2 0a11.6 11.6 0 1 0 -23.2 0M1131.2 1213.9a11.6 11.6 0 1 0 23.2 0a11.6 11.6 0 1 0 -23.2 0M1132.3 1214.5a11.6 11.6 0 1 0 23.2 0a11.6 11.6 0 1 0 -23.2 0M1133.3 1215.0a11.6 11.6 0 1 0 23.2 0a11.6 11.6 0 1 0 -23.2 0M1134.4 1215.7a11.6 11.6 0 1 0 23.2 0a11.6 11.6 0 1 0 -23.2 0M1135.4 1216.3a11.6 11.6 0 1 0 23.2 0a11.6 11.6 0 1 0 -23.2 0M1136.5 1217.0a11.6 11.6 0 1 0 23.2 0a11.6 11.6 0 1 0 -23.2 0M1137.5 1217.6a11.6 11.6 0 1 0 23.2 0a11.6 11.6 0 1 0 -23.2 0M1138.5 1218.3a11.6 11.6 0 1 0 23.2 0a11.6 11.6 0 1 0 -23.2 0M1139.6 1219.0a11.6 11.6 0 1 0 23.2 0a11.6 11.6 0 1 0 -23.2 0M1140.6 1219.7a11.6 11.6 0 1 0 23.2 0a11.6 11.6 0 1 0 -23.2 0M1141.6 1220.4a11.6 11.6 0 1 0 23.2 0a11.6 11.6 0 1 0 -23.2 0M1142.6 1221.1a11.6 11.6 0 1 0 23.2 0a11.6 11.6 0 1 0 -23.2 0M1143.6 1221.8a11.6 11.6 0 1 0 23.2 0a11.6 11.6 0 1 0 -23.2 0M1144.7 1222.5a11.6 11.6 0 1 0 23.2 0a11.6 11.6 0 1 0 -23.2 0M1145.7 1223.2a11.6 11.6 0 1 0 23.2 0a11.6 11.6 0 1 0 -23.2 0M1146.7 1223.9a11.6 11.6 0 1 0 23.2 0a11.6 11.6 0 1 0 -23.2 0M1147.7 1224.5a11.6 11.6 0 1 0 23.2 0a11.6 11.6 0 1 0 -23.2 0M1148.7 1225.2a11.6 11.6 0 1 0 23.2 0a11.6 11.6 0 1 0 -23.2 0M1149.7 1225.8a11.6 11.6 0 1 0 23.2 0a11.6 11.6 0 1 0 -23.2 0M1150.6 1226.5a11.6 11.6 0 1 0 23.2 0a11.6 11.6 0 1 0 -23.2 0M1151.6 1227.1a11.6 11.6 0 1 0 23.2 0a11.6 11.6 0 1 0 -23.2 0M1152.6 1227.7a11.6 11.6 0 1 0 23.2 0a11.6 11.6 0 1 0 -23.2 0M1153.6 1228.4a11.6 11.6 0 1 0 23.2 0a11.6 11.6 0 1 0 -23.2 0M1154.6 1229.0a11.6 11.6 0 1 0 23.2 0a11.6 11.6 0 1 0 -23.2 0M1155.5 1229.6a11.6 11.6 0 1 0 23.2 0a11.6 11.6 0 1 0 -23.2 0M1156.5 1230.3a11.6 11.6 0 1 0 23.2 0a11.6 11.6 0 1 0 -23.2 0M1157.5 1230.9a11.6 11.6 0 1 0 23.2 0a11.6 11.6 0 1 0 -23.2 0M1158.4 1231.5a11.6 11.6 0 1 0 23.2 0a11.6 11.6 0 1 0 -23.2 0M1159.4 1235.0a11.6 11.6 0 1 0 23.2 0a11.6 11.6 0 1 0 -23.2 0M1160.3 1236.0a11.6 11.6 0 1 0 23.2 0a11.6 11.6 0 1 0 -23.2 0M1161.3 1237.0a11.6 11.6 0 1 0 23.2 0a11.6 11.6 0 1 0 -23.2 0M1162.2 1238.0a11.6 11.6 0 1 0 23.2 0a11.6 11.6 0 1 0 -23.2 0M1163.2 1239.0a11.6 11.6 0 1 0 23.2 0a11.6 11.6 0 1 0 -23.2 0M1164.1 1240.0a11.6 11.6 0 1 0 23.2 0a11.6 11.6 0 1 0 -23.2 0M1165.1 1240.0a11.6 11.6 0 1 0 23.2 0a11.6 11.6 0 1 0 -23.2 0M1166.0 1242.0a11.6 11.6 0 1 0 23.2 0a11.6 11.6 0 1 0 -23.2 0M1166.9 1244.0a11.6 11.6 0 1 0 23.2 0a11.6 11.6 0 1 0 -23.2 0M1167.9 1246.0a11.6 11.6 0 1 0 23.2 0a11.6 11.6 0 1 0 -23.2 0M1168.8 1245.0a11.6 11.6 0 1 0 23.2 0a11.6 11.6 0 1 0 -23.2 0M1169.7 1240.0a11.6 11.6 0 1 0 23.2 0a11.6 11.6 0 1 0 -23.2 0M1170.6 1219.7a11.6 11.6 0 1 0 23.2 0a11.6 11.6 0 1 0 -23.2 0" fill="#8a8a8a"/>
<path d="M339.2 839.6V846.2M358.6 843.7V850.3M376.7 847.8V854.5M393.7 852.0V858.6M409.7 856.1V862.8M424.8 860.3V866.9M439.1 864.6V871.2M452.7 868.9V875.5M465.6 873.1V879.7M478.0 877.1V883.8M489.8 880.9V887.6M501.2 884.4V891.1M512.1 887.7V894.3M522.5 890.8V897.4M532.6 893.8V900.5M542.3 897.0V903.7M551.7 900.2V906.9M560.8 903.5V910.2M569.6 906.8V913.5M578.1 910.1V916.7M586.3 913.2V919.9M594.4 916.4V923.0M602.1 919.4V926.1M609.7 922.3V929.0M617.1 925.1V931.8M624.2 927.8V934.5M631.2 930.3V937.0M638.1 932.8V939.4M644.7 935.1V941.8M651.2 937.4V944.1M657.5 939.7V946.3M663.7 941.9V948.6M669.8 944.1V950.8M675.7 946.3V953.0M681.5 948.6V955.2M687.2 950.8V957.5M692.8 953.1V959.8M698.2 955.4V962.1M703.6 957.8V964.5M708.8 960.3V967.0M713.9 962.9V969.6M719.0 965.6V972.2M723.9 968.2V974.9M728.8 970.9V977.5M733.6 973.5V980.1M738.3 976.0V982.7M742.9 978.5V985.2M747.5 980.9V987.5M751.9 983.2V989.8M756.3 985.4V992.0M760.7 987.5V994.2M764.9 989.6V996.3M769.1 991.7V998.4M773.3 993.7V1000.4M777.3 995.7V1002.4M781.4 997.7V1004.3M785.3 999.6V1006.3M789.2 1001.6V1008.3M793.0 1003.5V1010.2M796.8 1005.5V1012.1M800.6 1007.4V1014.1M804.3 1009.4V1016.1M807.9 1011.4V1018.0M811.5 1013.3V1020.0M815.0 1015.3V1022.0M818.5 1017.3V1024.0M822.0 1019.3V1026.0M825.4 1021.3V1028.0M828.8 1023.3V1030.0M832.1 1025.3V1032.0M835.4 1027.3V1034.0M838.6 1029.3V1035.9M841.8 1031.2V1037.9M845.0 1033.2V1039.9M848.1 1035.1V1041.8M851.2 1037.0V1043.7M854.3 1038.9V1045.6M857.3 1040.8V1047.5M860.3 1042.7V1049.3M863.3 1044.5V1051.2M866.2 1046.3V1053.0M869.1 1048.1V1054.8M872.0 1049.9V1056.5M874.9 1051.6V1058.2M877.7 1053.3V1060.0M880.5 1055.0V1061.6M883.2 1056.6V1063.3M885.9 1058.3V1064.9M888.6 1059.9V1066.5M891.3 1061.5V1068.1M894.0 1063.1V1069.7M896.6 1064.6V1071.3M899.2 1066.2V1072.9M901.8 1067.7V1074.4M904.3 1069.3V1075.9M906.8 1070.8V1077.4M909.4 1072.3V1078.9M911.8 1073.8V1080.4M914.3 1075.3V1081.9M916.7 1076.7V1083.4M919.1 1078.2V1084.9M921.5 1079.7V1086.3M923.9 1081.1V1087.8M926.3 1082.6V1089.3M928.6 1084.0V1090.7M930.9 1085.5V1092.1M933.2 1086.9V1093.6M935.5 1088.4V1095.0M937.7 1089.8V1096.5M940.0 1091.2V1097.9M942.2 1092.7V1099.3M944.4 1094.1V1100.8M946.6 1095.6V1102.2M948.7 1097.0V1103.7M950.9 1098.5V1105.1M953.0 1099.9V1106.6M955.1 1101.4V1108.1M957.2 1102.9V1109.6M959.3 1104.4V1111.0M961.4 1105.9V1112.5M963.4 1107.3V1114.0M965.5 1108.8V1115.4M967.5 1110.2V1116.9M969.5 1111.7V1118.3M971.5 1113.1V1119.7M973.5 1114.5V1121.2M975.4 1115.9V1122.5M977.4 1117.2V1123.9M979.3 1118.6V1125.3M981.3 1119.9V1126.6M983.2 1121.2V1127.9M985.1 1122.5V1129.2M986.9 1123.7V1130.4M988.8 1125.0V1131.6M990.7 1126.1V1132.8M992.5 1127.3V1133.9M994.3 1128.4V1135.1M996.2 1129.5V1136.1M998.0 1130.5V1137.2M999.8 1131.6V1138.2M1001.6 1132.5V1139.3M1003.3 1133.5V1140.3M1005.1 1134.5V1141.4M1006.8 1135.5V1142.4M1008.6 1136.5V1143.5M1010.3 1137.5V1144.6M1012.0 1138.5V1145.7M1013.7 1139.6V1146.9M1015.4 1140.7V1148.0M1017.1 1141.8V1149.2M1018.8 1143.0V1150.5M1020.4 1144.2V1151.7M1022.1 1145.4V1153.0M1023.7 1146.6V1154.3M1025.4 1147.9V1155.7M1027.0 1149.1V1157.0M1028.6 1150.4V1158.3M1030.2 1151.6V1159.6M1031.8 1152.8V1160.9M1033.4 1154.1V1162.2M1035.0 1155.2V1163.5M1036.6 1156.4V1164.7M1038.1 1157.5V1165.9M1039.7 1158.6V1167.1M1041.2 1159.7V1168.2M1042.7 1160.8V1169.3M1044.3 1161.8V1170.4M1045.8 1162.9V1171.6M1047.3 1163.9V1172.7M1048.8 1165.0V1173.8M1050.3 1166.0V1174.9M1051.8 1166.9V1176.0M1053.3 1167.9V1177.1M1054.7 1168.8V1178.2M1056.2 1169.8V1179.3M1057.6 1170.7V1180.3M1059.1 1171.6V1181.4M1060.5 1172.4V1182.4M1061.9 1173.3V1183.4M1063.4 1174.1V1184.3M1064.8 1174.9V1185.3M1066.2 1175.7V1186.2M1067.6 1176.4V1187.1M1069.0 1177.2V1188.0M1070.4 1177.9V1188.8M1071.7 1178.6V1189.6M1073.1 1179.2V1190.4M1074.5 1179.9V1191.2M1075.8 1180.5V1192.0M1077.2 1181.1V1192.7M1078.5 1181.7V1193.5M1079.9 1182.3V1194.2M1081.2 1182.9V1194.9M1082.5 1183.5V1195.6M1083.9 1184.0V1196.3M1085.2 1184.6V1197.0M1086.5 1185.1V1197.6M1087.8 1185.6V1198.3M1089.1 1186.1V1198.9M1090.4 1186.6V1199.6M1091.6 1187.1V1200.2M1092.9 1187.6V1200.8M1094.2 1188.1V1201.4M1095.4 1188.6V1202.0M1096.7 1189.1V1202.6M1098.0 1189.5V1203.2M1099.2 1190.0V1203.8M1100.4 1190.4V1204.4M1101.7 1190.9V1204.9M1102.9 1191.3V1205.5M1104.1 1191.7V1206.0M1105.4 1192.1V1206.6M1106.6 1192.5V1211.0M1107.8 1192.9V1211.8M1109.0 1193.3V1212.7M1110.2 1193.6V1213.6M1111.4 1194.0V1214.4M1112.6 1194.4V1215.3M1113.7 1194.7V1216.2M1114.9 1195.1V1217.0M1116.1 1195.4V1217.9M1117.3 1195.8V1218.8M1118.4 1196.2V1219.7M1119.6 1196.5V1220.7M1120.7 1196.9V1221.6M1121.9 1197.3V1222.5M1123.0 1197.6V1223.4M1124.2 1198.0V1224.3M1125.3 1198.4V1225.3M1126.4 1198.8V1226.2M1127.5 1199.2V1227.1M1128.7 1199.6V1228.0M1129.8 1200.0V1228.9M1130.9 1200.4V1229.7M1132.0 1200.8V1230.7M1133.1 1201.2V1231.9M1134.2 1201.6V1233.1M1135.3 1202.0V1234.3M1136.4 1202.4V1235.5M1137.4 1202.8V1236.7M1138.5 1203.3V1237.9M1139.6 1203.7V1239.1M1140.7 1204.2V1240.2M1141.7 1204.7V1241.4M1142.8 1205.2V1242.6M1143.9 1205.7V1243.7M1144.9 1206.2V1244.9M1146.0 1206.8V1246.0M1147.0 1207.4V1247.2M1148.1 1208.0V1248.3M1149.1 1208.6V1249.5M1150.1 1209.2V1250.7M1151.2 1209.9V1251.9M1152.2 1210.5V1253.1M1153.2 1211.2V1254.3M1154.2 1211.8V1255.4M1155.2 1212.5V1256.6M1156.3 1213.1V1257.7M1157.3 1212.0V1258.9M1158.3 1212.0V1260.0M1159.3 1212.0V1261.4M1160.3 1212.0V1262.8M1161.3 1212.0V1264.2M1162.2 1212.0V1265.6M1163.2 1212.0V1267.0M1164.2 1212.0V1268.4M1165.2 1212.0V1269.8M1166.2 1212.0V1271.2M1167.1 1212.0V1273.1M1168.1 1212.0V1275.0M1169.1 1212.0V1276.9M1170.0 1212.0V1278.8M1171.0 1212.0V1260.0M1171.9 1212.0V1262.0M1172.9 1212.0V1266.0M1173.8 1212.0V1270.0M1174.8 1212.0V1275.0M1175.7 1212.0V1280.0M1176.7 1210.0V1286.8M1177.6 1208.0V1290.0M1178.5 1205.0V1305.7M1179.5 1200.0V1316.6M1180.4 1194.3V1341.7M1181.3 1174.7V1373.0M1182.2 1145.7V1546.9" stroke="#8a8a8a" stroke-width="3.5" fill="none"/>
<path d="M326.7 839.6h25M326.7 846.2h25M346.1 843.7h25M346.1 850.3h25M364.2 847.8h25M364.2 854.5h25M381.2 852.0h25M381.2 858.6h25M397.2 856.1h25M397.2 862.8h25M412.3 860.3h25M412.3 866.9h25M426.6 864.6h25M426.6 871.2h25M440.2 868.9h25M440.2 875.5h25M453.1 873.1h25M453.1 879.7h25M465.5 877.1h25M465.5 883.8h25M477.3 880.9h25M477.3 887.6h25M488.7 884.4h25M488.7 891.1h25M499.6 887.7h25M499.6 894.3h25M510.0 890.8h25M510.0 897.4h25M520.1 893.8h25M520.1 900.5h25M529.8 897.0h25M529.8 903.7h25M539.2 900.2h25M539.2 906.9h25M548.3 903.5h25M548.3 910.2h25M557.1 906.8h25M557.1 913.5h25M565.6 910.1h25M565.6 916.7h25M573.8 913.2h25M573.8 919.9h25M581.9 916.4h25M581.9 923.0h25M589.6 919.4h25M589.6 926.1h25M597.2 922.3h25M597.2 929.0h25M604.6 925.1h25M604.6 931.8h25M611.7 927.8h25M611.7 934.5h25M618.7 930.3h25M618.7 937.0h25M625.6 932.8h25M625.6 939.4h25M632.2 935.1h25M632.2 941.8h25M638.7 937.4h25M638.7 944.1h25M645.0 939.7h25M645.0 946.3h25M651.2 941.9h25M651.2 948.6h25M657.3 944.1h25M657.3 950.8h25M663.2 946.3h25M663.2 953.0h25M669.0 948.6h25M669.0 955.2h25M674.7 950.8h25M674.7 957.5h25M680.3 953.1h25M680.3 959.8h25M685.7 955.4h25M685.7 962.1h25M691.1 957.8h25M691.1 964.5h25M696.3 960.3h25M696.3 967.0h25M701.4 962.9h25M701.4 969.6h25M706.5 965.6h25M706.5 972.2h25M711.4 968.2h25M711.4 974.9h25M716.3 970.9h25M716.3 977.5h25M721.1 973.5h25M721.1 980.1h25M725.8 976.0h25M725.8 982.7h25M730.4 978.5h25M730.4 985.2h25M735.0 980.9h25M735.0 987.5h25M739.4 983.2h25M739.4 989.8h25M743.8 985.4h25M743.8 992.0h25M748.2 987.5h25M748.2 994.2h25M752.4 989.6h25M752.4 996.3h25M756.6 991.7h25M756.6 998.4h25M760.8 993.7h25M760.8 1000.4h25M764.8 995.7h25M764.8 1002.4h25M768.9 997.7h25M768.9 1004.3h25M772.8 999.6h25M772.8 1006.3h25M776.7 1001.6h25M776.7 1008.3h25M780.5 1003.5h25M780.5 1010.2h25M784.3 1005.5h25M784.3 1012.1h25M788.1 1007.4h25M788.1 1014.1h25M791.8 1009.4h25M791.8 1016.1h25M795.4 1011.4h25M795.4 1018.0h25M799.0 1013.3h25M799.0 1020.0h25M802.5 1015.3h25M802.5 1022.0h25M806.0 1017.3h25M806.0 1024.0h25M809.5 1019.3h25M809.5 1026.0h25M812.9 1021.3h25M812.9 1028.0h25M816.3 1023.3h25M816.3 1030.0h25M819.6 1025.3h25M819.6 1032.0h25M822.9 1027.3h25M822.9 1034.0h25M826.1 1029.3h25M826.1 1035.9h25M829.3 1031.2h25M829.3 1037.9h25M832.5 1033.2h25M832.5 1039.9h25M835.6 1035.1h25M835.6 1041.8h25M838.7 1037.0h25M838.7 1043.7h25M841.8 1038.9h25M841.8 1045.6h25M844.8 1040.8h25M844.8 1047.5h25M847.8 1042.7h25M847.8 1049.3h25M850.8 1044.5h25M850.8 1051.2h25M853.7 1046.3h25M853.7 1053.0h25M856.6 1048.1h25M856.6 1054.8h25M859.5 1049.9h25M859.5 1056.5h25M862.4 1051.6h25M862.4 1058.2h25M865.2 1053.3h25M865.2 1060.0h25M868.0 1055.0h25M868.0 1061.6h25M870.7 1056.6h25M870.7 1063.3h25M873.4 1058.3h25M873.4 1064.9h25M876.1 1059.9h25M876.1 1066.5h25M878.8 1061.5h25M878.8 1068.1h25M881.5 1063.1h25M881.5 1069.7h25M884.1 1064.6h25M884.1 1071.3h25M886.7 1066.2h25M886.7 1072.9h25M889.3 1067.7h25M889.3 1074.4h25M891.8 1069.3h25M891.8 1075.9h25M894.3 1070.8h25M894.3 1077.4h25M896.9 1072.3h25M896.9 1078.9h25M899.3 1073.8h25M899.3 1080.4h25M901.8 1075.3h25M901.8 1081.9h25M904.2 1076.7h25M904.2 1083.4h25M906.6 1078.2h25M906.6 1084.9h25M909.0 1079.7h25M909.0 1086.3h25M911.4 1081.1h25M911.4 1087.8h25M913.8 1082.6h25M913.8 1089.3h25M916.1 1084.0h25M916.1 1090.7h25M918.4 1085.5h25M918.4 1092.1h25M920.7 1086.9h25M920.7 1093.6h25M923.0 1088.4h25M923.0 1095.0h25M925.2 1089.8h25M925.2 1096.5h25M927.5 1091.2h25M927.5 1097.9h25M929.7 1092.7h25M929.7 1099.3h25M931.9 1094.1h25M931.9 1100.8h25M934.1 1095.6h25M934.1 1102.2h25M936.2 1097.0h25M936.2 1103.7h25M938.4 1098.5h25M938.4 1105.1h25M940.5 1099.9h25M940.5 1106.6h25M942.6 1101.4h25M942.6 1108.1h25M944.7 1102.9h25M944.7 1109.6h25M946.8 1104.4h25M946.8 1111.0h25M948.9 1105.9h25M948.9 1112.5h25M950.9 1107.3h25M950.9 1114.0h25M953.0 1108.8h25M953.0 1115.4h25M955.0 1110.2h25M955.0 1116.9h25M957.0 1111.7h25M957.0 1118.3h25M959.0 1113.1h25M959.0 1119.7h25M961.0 1114.5h25M961.0 1121.2h25M962.9 1115.9h25M962.9 1122.5h25M964.9 1117.2h25M964.9 1123.9h25M966.8 1118.6h25M966.8 1125.3h25M968.8 1119.9h25M968.8 1126.6h25M970.7 1121.2h25M970.7 1127.9h25M972.6 1122.5h25M972.6 1129.2h25M974.4 1123.7h25M974.4 1130.4h25M976.3 1125.0h25M976.3 1131.6h25M978.2 1126.1h25M978.2 1132.8h25M980.0 1127.3h25M980.0 1133.9h25M981.8 1128.4h25M981.8 1135.1h25M983.7 1129.5h25M983.7 1136.1h25M985.5 1130.5h25M985.5 1137.2h25M987.3 1131.6h25M987.3 1138.2h25M989.1 1132.5h25M989.1 1139.3h25M990.8 1133.5h25M990.8 1140.3h25M992.6 1134.5h25M992.6 1141.4h25M994.3 1135.5h25M994.3 1142.4h25M996.1 1136.5h25M996.1 1143.5h25M997.8 1137.5h25M997.8 1144.6h25M999.5 1138.5h25M999.5 1145.7h25M1001.2 1139.6h25M1001.2 1146.9h25M1002.9 1140.7h25M1002.9 1148.0h25M1004.6 1141.8h25M1004.6 1149.2h25M1006.3 1143.0h25M1006.3 1150.5h25M1007.9 1144.2h25M1007.9 1151.7h25M1009.6 1145.4h25M1009.6 1153.0h25M1011.2 1146.6h25M1011.2 1154.3h25M1012.9 1147.9h25M1012.9 1155.7h25M1014.5 1149.1h25M1014.5 1157.0h25M1016.1 1150.4h25M1016.1 1158.3h25M1017.7 1151.6h25M1017.7 1159.6h25M1019.3 1152.8h25M1019.3 1160.9h25M1020.9 1154.1h25M1020.9 1162.2h25M1022.5 1155.2h25M1022.5 1163.5h25M1024.1 1156.4h25M1024.1 1164.7h25M1025.6 1157.5h25M1025.6 1165.9h25M1027.2 1158.6h25M1027.2 1167.1h25M1028.7 1159.7h25M1028.7 1168.2h25M1030.2 1160.8h25M1030.2 1169.3h25M1031.8 1161.8h25M1031.8 1170.4h25M1033.3 1162.9h25M1033.3 1171.6h25M1034.8 1163.9h25M1034.8 1172.7h25M1036.3 1165.0h25M1036.3 1173.8h25M1037.8 1166.0h25M1037.8 1174.9h25M1039.3 1166.9h25M1039.3 1176.0h25M1040.8 1167.9h25M1040.8 1177.1h25M1042.2 1168.8h25M1042.2 1178.2h25M1043.7 1169.8h25M1043.7 1179.3h25M1045.1 1170.7h25M1045.1 1180.3h25M1046.6 1171.6h25M1046.6 1181.4h25M1048.0 1172.4h25M1048.0 1182.4h25M1049.4 1173.3h25M1049.4 1183.4h25M1050.9 1174.1h25M1050.9 1184.3h25M1052.3 1174.9h25M1052.3 1185.3h25M1053.7 1175.7h25M1053.7 1186.2h25M1055.1 1176.4h25M1055.1 1187.1h25M1056.5 1177.2h25M1056.5 1188.0h25M1057.9 1177.9h25M1057.9 1188.8h25M1059.2 1178.6h25M1059.2 1189.6h25M1060.6 1179.2h25M1060.6 1190.4h25M1062.0 1179.9h25M1062.0 1191.2h25M1063.3 1180.5h25M1063.3 1192.0h25M1064.7 1181.1h25M1064.7 1192.7h25M1066.0 1181.7h25M1066.0 1193.5h25M1067.4 1182.3h25M1067.4 1194.2h25M1068.7 1182.9h25M1068.7 1194.9h25M1070.0 1183.5h25M1070.0 1195.6h25M1071.4 1184.0h25M1071.4 1196.3h25M1072.7 1184.6h25M1072.7 1197.0h25M1074.0 1185.1h25M1074.0 1197.6h25M1075.3 1185.6h25M1075.3 1198.3h25M1076.6 1186.1h25M1076.6 1198.9h25M1077.9 1186.6h25M1077.9 1199.6h25M1079.1 1187.1h25M1079.1 1200.2h25M1080.4 1187.6h25M1080.4 1200.8h25M1081.7 1188.1h25M1081.7 1201.4h25M1082.9 1188.6h25M1082.9 1202.0h25M1084.2 1189.1h25M1084.2 1202.6h25M1085.5 1189.5h25M1085.5 1203.2h25M1086.7 1190.0h25M1086.7 1203.8h25M1087.9 1190.4h25M1087.9 1204.4h25M1089.2 1190.9h25M1089.2 1204.9h25M1090.4 1191.3h25M1090.4 1205.5h25M1091.6 1191.7h25M1091.6 1206.0h25M1092.9 1192.1h25M1092.9 1206.6h25M1094.1 1192.5h25M1094.1 1211.0h25M1095.3 1192.9h25M1095.3 1211.8h25M1096.5 1193.3h25M1096.5 1212.7h25M1097.7 1193.6h25M1097.7 1213.6h25M1098.9 1194.0h25M1098.9 1214.4h25M1100.1 1194.4h25M1100.1 1215.3h25M1101.2 1194.7h25M1101.2 1216.2h25M1102.4 1195.1h25M1102.4 1217.0h25M1103.6 1195.4h25M1103.6 1217.9h25M1104.8 1195.8h25M1104.8 1218.8h25M1105.9 1196.2h25M1105.9 1219.7h25M1107.1 1196.5h25M1107.1 1220.7h25M1108.2 1196.9h25M1108.2 1221.6h25M1109.4 1197.3h25M1109.4 1222.5h25M1110.5 1197.6h25M1110.5 1223.4h25M1111.7 1198.0h25M1111.7 1224.3h25M1112.8 1198.4h25M1112.8 1225.3h25M1113.9 1198.8h25M1113.9 1226.2h25M1115.0 1199.2h25M1115.0 1227.1h25M1116.2 1199.6h25M1116.2 1228.0h25M1117.3 1200.0h25M1117.3 1228.9h25M1118.4 1200.4h25M1118.4 1229.7h25M1119.5 1200.8h25M1119.5 1230.7h25M1120.6 1201.2h25M1120.6 1231.9h25M1121.7 1201.6h25M1121.7 1233.1h25M1122.8 1202.0h25M1122.8 1234.3h25M1123.9 1202.4h25M1123.9 1235.5h25M1124.9 1202.8h25M1124.9 1236.7h25M1126.0 1203.3h25M1126.0 1237.9h25M1127.1 1203.7h25M1127.1 1239.1h25M1128.2 1204.2h25M1128.2 1240.2h25M1129.2 1204.7h25M1129.2 1241.4h25M1130.3 1205.2h25M1130.3 1242.6h25M1131.4 1205.7h25M1131.4 1243.7h25M1132.4 1206.2h25M1132.4 1244.9h25M1133.5 1206.8h25M1133.5 1246.0h25M1134.5 1207.4h25M1134.5 1247.2h25M1135.6 1208.0h25M1135.6 1248.3h25M1136.6 1208.6h25M1136.6 1249.5h25M1137.6 1209.2h25M1137.6 1250.7h25M1138.7 1209.9h25M1138.7 1251.9h25M1139.7 1210.5h25M1139.7 1253.1h25M1140.7 1211.2h25M1140.7 1254.3h25M1141.7 1211.8h25M1141.7 1255.4h25M1142.7 1212.5h25M1142.7 1256.6h25M1143.8 1213.1h25M1143.8 1257.7h25M1144.8 1212.0h25M1144.8 1258.9h25M1145.8 1212.0h25M1145.8 1260.0h25M1146.8 1212.0h25M1146.8 1261.4h25M1147.8 1212.0h25M1147.8 1262.8h25M1148.8 1212.0h25M1148.8 1264.2h25M1149.7 1212.0h25M1149.7 1265.6h25M1150.7 1212.0h25M1150.7 1267.0h25M1151.7 1212.0h25M1151.7 1268.4h25M1152.7 1212.0h25M1152.7 1269.8h25M1153.7 1212.0h25M1153.7 1271.2h25M1154.6 1212.0h25M1154.6 1273.1h25M1155.6 1212.0h25M1155.6 1275.0h25M1156.6 1212.0h25M1156.6 1276.9h25M1157.5 1212.0h25M1157.5 1278.8h25M1158.5 1212.0h25M1158.5 1260.0h25M1159.4 1212.0h25M1159.4 1262.0h25M1160.4 1212.0h25M1160.4 1266.0h25M1161.3 1212.0h25M1161.3 1270.0h25M1162.3 1212.0h25M1162.3 1275.0h25M1163.2 1212.0h25M1163.2 1280.0h25M1164.2 1210.0h25M1164.2 1286.8h25M1165.1 1208.0h25M1165.1 1290.0h25M1166.0 1205.0h25M1166.0 1305.7h25M1167.0 1200.0h25M1167.0 1316.6h25M1167.9 1194.3h25M1167.9 1341.7h25M1168.8 1174.7h25M1168.8 1373.0h25M1169.7 1145.7h25M1169.7 1546.9h25" stroke="#8a8a8a" stroke-width="3.5" fill="none"/>
<path d="M339.9 850.0 L343.4 850.5 L347.0 850.9 L350.5 851.4 L354.0 851.9 L357.5 852.4 L361.1 852.9 L364.6 853.4 L368.1 854.0 L371.6 854.6 L375.2 855.1 L378.7 855.7 L382.2 856.4 L385.7 857.0 L389.3 857.6 L392.8 858.3 L396.3 859.0 L399.9 859.6 L403.4 860.3 L406.9 861.1 L410.4 861.8 L414.0 862.5 L417.5 863.3 L421.0 864.1 L424.5 864.9 L428.1 865.7 L431.6 866.5 L435.1 867.3 L438.6 868.2 L442.2 869.0 L445.7 869.9 L449.2 870.8 L452.8 871.7 L456.3 872.6 L459.8 873.5 L463.3 874.4 L466.9 875.4 L470.4 876.4 L473.9 877.3 L477.4 878.3 L481.0 879.3 L484.5 880.3 L488.0 881.4 L491.6 882.4 L495.1 883.5 L498.6 884.5 L502.1 885.6 L505.7 886.7 L509.2 887.8 L512.7 888.9 L516.2 890.0 L519.8 891.2 L523.3 892.3 L526.8 893.5 L530.3 894.7 L533.9 895.8 L537.4 897.0 L540.9 898.2 L544.5 899.4 L548.0 900.7 L551.5 901.9 L555.0 903.2 L558.6 904.4 L562.1 905.7 L565.6 907.0 L569.1 908.3 L572.7 909.6 L576.2 910.9 L579.7 912.2 L583.2 913.5 L586.8 914.9 L590.3 916.2 L593.8 917.6 L597.4 918.9 L600.9 920.3 L604.4 921.7 L607.9 923.1 L611.5 924.5 L615.0 925.9 L618.5 927.4 L622.0 928.8 L625.6 930.3 L629.1 931.7 L632.6 933.2 L636.1 934.6 L639.7 936.1 L643.2 937.6 L646.7 939.1 L650.3 940.6 L653.8 942.1 L657.3 943.7 L660.8 945.2 L664.4 946.7 L667.9 948.3 L671.4 949.8 L674.9 951.4 L678.5 953.0 L682.0 954.5 L685.5 956.1 L689.1 957.7 L692.6 959.3 L696.1 960.9 L699.6 962.5 L703.2 964.2 L706.7 965.8 L710.2 967.4 L713.7 969.1 L717.3 970.7 L720.8 972.4 L724.3 974.0 L727.8 975.7 L731.4 977.4 L734.9 979.1 L738.4 980.8 L742.0 982.5 L745.5 984.2 L749.0 985.9 L752.5 987.7 L756.1 989.4 L759.6 991.1 L763.1 992.9 L766.6 994.7 L770.2 996.5 L773.7 998.2 L777.2 1000.0 L780.7 1001.9 L784.3 1003.7 L787.8 1005.5 L791.3 1007.3 L794.9 1009.2 L798.4 1011.0 L801.9 1012.9 L805.4 1014.8 L809.0 1016.7 L812.5 1018.6 L816.0 1020.5 L819.5 1022.4 L823.1 1024.4 L826.6 1026.3 L830.1 1028.3 L833.6 1030.2 L837.2 1032.2 L840.7 1034.2 L844.2 1036.2 L847.8 1038.3 L851.3 1040.3 L854.8 1042.3 L858.3 1044.4 L861.9 1046.5 L865.4 1048.6 L868.9 1050.7 L872.4 1052.8 L876.0 1054.9 L879.5 1057.0 L883.0 1059.2 L886.6 1061.3 L890.1 1063.5 L893.6 1065.7 L897.1 1067.9 L900.7 1070.1 L904.2 1072.4 L907.7 1074.6 L911.2 1076.9 L914.8 1079.2 L918.3 1081.5 L921.8 1083.8 L925.3 1086.1 L928.9 1088.5 L932.4 1090.8 L935.9 1093.2 L939.5 1095.6 L943.0 1098.0 L946.5 1100.4 L950.0 1102.8 L953.6 1105.3 L957.1 1107.7 L960.6 1110.2 L964.1 1112.7 L967.7 1115.2 L971.2 1117.7 L974.7 1120.2 L978.2 1122.7 L981.8 1125.2 L985.3 1127.7 L988.8 1130.2 L992.4 1132.6 L995.9 1135.1 L999.4 1137.6 L1002.9 1140.1 L1006.5 1142.5 L1010.0 1145.0 L1013.5 1147.4 L1017.0 1149.9 L1020.6 1152.3 L1024.1 1154.6 L1027.6 1157.0 L1031.1 1159.4 L1034.7 1161.7 L1038.2 1164.0 L1041.7 1166.3 L1045.3 1168.5 L1048.8 1170.7 L1052.3 1172.9 L1055.8 1175.1 L1059.4 1177.2 L1062.9 1179.3 L1066.4 1181.3 L1069.9 1183.3 L1073.5 1185.3 L1077.0 1187.3 L1080.5 1189.1 L1084.1 1191.0 L1087.6 1192.8 L1091.1 1194.5 L1094.6 1196.2 L1098.2 1197.8 L1101.7 1199.4 L1105.2 1200.9 L1108.7 1202.3 L1112.3 1203.7 L1115.8 1205.0 L1119.3 1206.3 L1122.8 1207.4 L1126.4 1208.5 L1129.9 1209.5 L1133.4 1210.5 L1137.0 1211.4 L1140.5 1212.2 L1144.0 1213.0 L1147.5 1213.8 L1151.1 1214.5 L1154.6 1215.2 L1158.1 1216.0 L1161.6 1216.7 L1165.2 1217.5 L1168.7 1218.3 L1172.2 1219.2 L1175.7 1220.1 L1179.3 1221.1 L1182.8 1222.1" stroke="#000" stroke-width="12.5" fill="none" stroke-linejoin="round"/>
</g>
<g clip-path="url(#cBR)">
<path d="M1382.6 836.1a11.6 11.6 0 1 0 23.2 0a11.6 11.6 0 1 0 -23.2 0M1402.0 840.1a11.6 11.6 0 1 0 23.2 0a11.6 11.6 0 1 0 -23.2 0M1420.1 844.0a11.6 11.6 0 1 0 23.2 0a11.6 11.6 0 1 0 -23.2 0M1437.1 847.9a11.6 11.6 0 1 0 23.2 0a11.6 11.6 0 1 0 -23.2 0M1453.1 851.7a11.6 11.6 0 1 0 23.2 0a11.6 11.6 0 1 0 -23.2 0M1468.2 855.3a11.6 11.6 0 1 0 23.2 0a11.6 11.6 0 1 0 -23.2 0M1482.5 858.9a11.6 11.6 0 1 0 23.2 0a11.6 11.6 0 1 0 -23.2 0M1496.1 862.4a11.6 11.6 0 1 0 23.2 0a11.6 11.6 0 1 0 -23.2 0M1509.0 865.8a11.6 11.6 0 1 0 23.2 0a11.6 11.6 0 1 0 -23.2 0M1521.4 869.1a11.6 11.6 0 1 0 23.2 0a11.6 11.6 0 1 0 -23.2 0M1533.2 872.4a11.6 11.6 0 1 0 23.2 0a11.6 11.6 0 1 0 -23.2 0M1544.6 875.7a11.6 11.6 0 1 0 23.2 0a11.6 11.6 0 1 0 -23.2 0M1555.5 879.1a11.6 11.6 0 1 0 23.2 0a11.6 11.6 0 1 0 -23.2 0M1565.9 882.4a11.6 11.6 0 1 0 23.2 0a11.6 11.6 0 1 0 -23.2 0M1576.0 885.8a11.6 11.6 0 1 0 23.2 0a11.6 11.6 0 1 0 -23.2 0M1585.7 889.3a11.6 11.6 0 1 0 23.2 0a11.6 11.6 0 1 0 -23.2 0M1595.1 892.7a11.6 11.6 0 1 0 23.2 0a11.6 11.6 0 1 0 -23.2 0M1604.2 896.2a11.6 11.6 0 1 0 23.2 0a11.6 11.6 0 1 0 -23.2 0M1613.0 899.6a11.6 11.6 0 1 0 23.2 0a11.6 11.6 0 1 0 -23.2 0M1621.5 903.0a11.6 11.6 0 1 0 23.2 0a11.6 11.6 0 1 0 -23.2 0M1629.7 906.4a11.6 11.6 0 1 0 23.2 0a11.6 11.6 0 1 0 -23.2 0M1637.8 909.8a11.6 11.6 0 1 0 23.2 0a11.6 11.6 0 1 0 -23.2 0M1645.5 913.1a11.6 11.6 0 1 0 23.2 0a11.6 11.6 0 1 0 -23.2 0M1653.1 916.3a11.6 11.6 0 1 0 23.2 0a11.6 11.6 0 1 0 -23.2 0M1660.5 919.5a11.6 11.6 0 1 0 23.2 0a11.6 11.6 0 1 0 -23.2 0M1667.6 922.7a11.6 11.6 0 1 0 23.2 0a11.6 11.6 0 1 0 -23.2 0M1674.6 925.9a11.6 11.6 0 1 0 23.2 0a11.6 11.6 0 1 0 -23.2 0M1681.5 929.0a11.6 11.6 0 1 0 23.2 0a11.6 11.6 0 1 0 -23.2 0M1688.1 932.1a11.6 11.6 0 1 0 23.2 0a11.6 11.6 0 1 0 -23.2 0M1694.6 935.2a11.6 11.6 0 1 0 23.2 0a11.6 11.6 0 1 0 -23.2 0M1700.9 938.3a11.6 11.6 0 1 0 23.2 0a11.6 11.6 0 1 0 -23.2 0M1707.1 941.3a11.6 11.6 0 1 0 23.2 0a11.6 11.6 0 1 0 -23.2 0M1713.2 944.4a11.6 11.6 0 1 0 23.2 0a11.6 11.6 0 1 0 -23.2 0M1719.1 947.3a11.6 11.6 0 1 0 23.2 0a11.6 11.6 0 1 0 -23.2 0M1724.9 950.3a11.6 11.6 0 1 0 23.2 0a11.6 11.6 0 1 0 -23.2 0M1730.6 953.2a11.6 11.6 0 1 0 23.2 0a11.6 11.6 0 1 0 -23.2 0M1736.2 956.1a11.6 11.6 0 1 0 23.2 0a11.6 11.6 0 1 0 -23.2 0M1741.6 959.0a11.6 11.6 0 1 0 23.2 0a11.6 11.6 0 1 0 -23.2 0M1747.0 961.8a11.6 11.6 0 1 0 23.2 0a11.6 11.6 0 1 0 -23.2 0M1752.2 964.6a11.6 11.6 0 1 0 23.2 0a11.6 11.6 0 1 0 -23.2 0M1757.3 967.5a11.6 11.6 0 1 0 23.2 0a11.6 11.6 0 1 0 -23.2 0M1762.4 970.3a11.6 11.6 0 1 0 23.2 0a11.6 11.6 0 1 0 -23.2 0M1767.3 973.1a11.6 11.6 0 1 0 23.2 0a11.6 11.6 0 1 0 -23.2 0M1772.2 975.9a11.6 11.6 0 1 0 23.2 0a11.6 11.6 0 1 0 -23.2 0M1777.0 978.8a11.6 11.6 0 1 0 23.2 0a11.6 11.6 0 1 0 -23.2 0M1781.7 981.6a11.6 11.6 0 1 0 23.2 0a11.6 11.6 0 1 0 -23.2 0M1786.3 984.3a11.6 11.6 0 1 0 23.2 0a11.6 11.6 0 1 0 -23.2 0M1790.9 987.1a11.6 11.6 0 1 0 23.2 0a11.6 11.6 0 1 0 -23.2 0M1795.3 989.9a11.6 11.6 0 1 0 23.2 0a11.6 11.6 0 1 0 -23.2 0M1799.7 992.6a11.6 11.6 0 1 0 23.2 0a11.6 11.6 0 1 0 -23.2 0M1804.1 995.4a11.6 11.6 0 1 0 23.2 0a11.6 11.6 0 1 0 -23.2 0M1808.3 998.1a11.6 11.6 0 1 0 23.2 0a11.6 11.6 0 1 0 -23.2 0M1812.5 1000.9a11.6 11.6 0 1 0 23.2 0a11.6 11.6 0 1 0 -23.2 0M1816.7 1003.6a11.6 11.6 0 1 0 23.2 0a11.6 11.6 0 1 0 -23.2 0M1820.7 1006.2a11.6 11.6 0 1 0 23.2 0a11.6 11.6 0 1 0 -23.2 0M1824.8 1008.9a11.6 11.6 0 1 0 23.2 0a11.6 11.6 0 1 0 -23.2 0M1828.7 1011.5a11.6 11.6 0 1 0 23.2 0a11.6 11.6 0 1 0 -23.2 0M1832.6 1014.2a11.6 11.6 0 1 0 23.2 0a11.6 11.6 0 1 0 -23.2 0M1836.4 1016.7a11.6 11.6 0 1 0 23.2 0a11.6 11.6 0 1 0 -23.2 0M1840.2 1019.3a11.6 11.6 0 1 0 23.2 0a11.6 11.6 0 1 0 -23.2 0M1844.0 1021.8a11.6 11.6 0 1 0 23.2 0a11.6 11.6 0 1 0 -23.2 0M1847.7 1024.3a11.6 11.6 0 1 0 23.2 0a11.6 11.6 0 1 0 -23.2 0M1851.3 1026.8a11.6 11.6 0 1 0 23.2 0a11.6 11.6 0 1 0 -23.2 0M1854.9 1029.2a11.6 11.6 0 1 0 23.2 0a11.6 11.6 0 1 0 -23.2 0M1858.4 1031.7a11.6 11.6 0 1 0 23.2 0a11.6 11.6 0 1 0 -23.2 0M1861.9 1034.1a11.6 11.6 0 1 0 23.2 0a11.6 11.6 0 1 0 -23.2 0M1865.4 1036.5a11.6 11.6 0 1 0 23.2 0a11.6 11.6 0 1 0 -23.2 0M1868.8 1038.8a11.6 11.6 0 1 0 23.2 0a11.6 11.6 0 1 0 -23.2 0M1872.2 1041.2a11.6 11.6 0 1 0 23.2 0a11.6 11.6 0 1 0 -23.2 0M1875.5 1043.6a11.6 11.6 0 1 0 23.2 0a11.6 11.6 0 1 0 -23.2 0M1878.8 1045.9a11.6 11.6 0 1 0 23.2 0a11.6 11.6 0 1 0 -23.2 0M1882.0 1048.3a11.6 11.6 0 1 0 23.2 0a11.6 11.6 0 1 0 -23.2 0M1885.2 1050.6a11.6 11.6 0 1 0 23.2 0a11.6 11.6 0 1 0 -23.2 0M1888.4 1053.0a11.6 11.6 0 1 0 23.2 0a11.6 11.6 0 1 0 -23.2 0M1891.5 1055.3a11.6 11.6 0 1 0 23.2 0a11.6 11.6 0 1 0 -23.2 0M1894.6 1057.6a11.6 11.6 0 1 0 23.2 0a11.6 11.6 0 1 0 -23.2 0M1897.7 1060.0a11.6 11.6 0 1 0 23.2 0a11.6 11.6 0 1 0 -23.2 0M1900.7 1062.3a11.6 11.6 0 1 0 23.2 0a11.6 11.6 0 1 0 -23.2 0M1903.7 1064.6a11.6 11.6 0 1 0 23.2 0a11.6 11.6 0 1 0 -23.2 0M1906.7 1066.9a11.6 11.6 0 1 0 23.2 0a11.6 11.6 0 1 0 -23.2 0M1909.6 1069.2a11.6 11.6 0 1 0 23.2 0a11.6 11.6 0 1 0 -23.2 0M1912.5 1071.5a11.6 11.6 0 1 0 23.2 0a11.6 11.6 0 1 0 -23.2 0M1915.4 1073.8a11.6 11.6 0 1 0 23.2 0a11.6 11.6 0 1 0 -23.2 0M1918.3 1076.1a11.6 11.6 0 1 0 23.2 0a11.6 11.6 0 1 0 -23.2 0M1921.1 1078.4a11.6 11.6 0 1 0 23.2 0a11.6 11.6 0 1 0 -23.2 0M1923.9 1080.6a11.6 11.6 0 1 0 23.2 0a11.6 11.6 0 1 0 -23.2 0M1926.6 1082.9a11.6 11.6 0 1 0 23.2 0a11.6 11.6 0 1 0 -23.2 0M1929.3 1085.2a11.6 11.6 0 1 0 23.2 0a11.6 11.6 0 1 0 -23.2 0M1932.0 1087.4a11.6 11.6 0 1 0 23.2 0a11.6 11.6 0 1 0 -23.2 0M1934.7 1089.6a11.6 11.6 0 1 0 23.2 0a11.6 11.6 0 1 0 -23.2 0M1937.4 1091.8a11.6 11.6 0 1 0 23.2 0a11.6 11.6 0 1 0 -23.2 0M1940.0 1094.1a11.6 11.6 0 1 0 23.2 0a11.6 11.6 0 1 0 -23.2 0M1942.6 1096.3a11.6 11.6 0 1 0 23.2 0a11.6 11.6 0 1 0 -23.2 0M1945.2 1098.5a11.6 11.6 0 1 0 23.2 0a11.6 11.6 0 1 0 -23.2 0M1947.7 1100.7a11.6 11.6 0 1 0 23.2 0a11.6 11.6 0 1 0 -23.2 0M1950.2 1102.9a11.6 11.6 0 1 0 23.2 0a11.6 11.6 0 1 0 -23.2 0M1952.8 1105.1a11.6 11.6 0 1 0 23.2 0a11.6 11.6 0 1 0 -23.2 0M1955.2 1107.3a11.6 11.6 0 1 0 23.2 0a11.6 11.6 0 1 0 -23.2 0M1957.7 1109.5a11.6 11.6 0 1 0 23.2 0a11.6 11.6 0 1 0 -23.2 0M1960.1 1111.7a11.6 11.6 0 1 0 23.2 0a11.6 11.6 0 1 0 -23.2 0M1962.5 1113.9a11.6 11.6 0 1 0 23.2 0a11.6 11.6 0 1 0 -23.2 0M1964.9 1116.1a11.6 11.6 0 1 0 23.2 0a11.6 11.6 0 1 0 -23.2 0M1967.3 1118.2a11.6 11.6 0 1 0 23.2 0a11.6 11.6 0 1 0 -23.2 0M1969.7 1120.4a11.6 11.6 0 1 0 23.2 0a11.6 11.6 0 1 0 -23.2 0M1972.0 1122.5a11.6 11.6 0 1 0 23.2 0a11.6 11.6 0 1 0 -23.2 0M1974.3 1124.6a11.6 11.6 0 1 0 23.2 0a11.6 11.6 0 1 0 -23.2 0M1976.6 1126.7a11.6 11.6 0 1 0 23.2 0a11.6 11.6 0 1 0 -23.2 0M1978.9 1128.8a11.6 11.6 0 1 0 23.2 0a11.6 11.6 0 1 0 -23.2 0M1981.1 1130.9a11.6 11.6 0 1 0 23.2 0a11.6 11.6 0 1 0 -23.2 0M1983.4 1132.9a11.6 11.6 0 1 0 23.2 0a11.6 11.6 0 1 0 -23.2 0M1985.6 1135.0a11.6 11.6 0 1 0 23.2 0a11.6 11.6 0 1 0 -23.2 0M1987.8 1137.0a11.6 11.6 0 1 0 23.2 0a11.6 11.6 0 1 0 -23.2 0M1990.0 1139.0a11.6 11.6 0 1 0 23.2 0a11.6 11.6 0 1 0 -23.2 0M1992.1 1140.9a11.6 11.6 0 1 0 23.2 0a11.6 11.6 0 1 0 -23.2 0M1994.3 1142.8a11.6 11.6 0 1 0 23.2 0a11.6 11.6 0 1 0 -23.2 0M1996.4 1144.8a11.6 11.6 0 1 0 23.2 0a11.6 11.6 0 1 0 -23.2 0M1998.5 1146.7a11.6 11.6 0 1 0 23.2 0a11.6 11.6 0 1 0 -23.2 0M2000.6 1148.6a11.6 11.6 0 1 0 23.2 0a11.6 11.6 0 1 0 -23.2 0M2002.7 1150.5a11.6 11.6 0 1 0 23.2 0a11.6 11.6 0 1 0 -23.2 0M2004.8 1152.4a11.6 11.6 0 1 0 23.2 0a11.6 11.6 0 1 0 -23.2 0M2006.8 1154.3a11.6 11.6 0 1 0 23.2 0a11.6 11.6 0 1 0 -23.2 0M2008.9 1156.1a11.6 11.6 0 1 0 23.2 0a11.6 11.6 0 1 0 -23.2 0M2010.9 1158.0a11.6 11.6 0 1 0 23.2 0a11.6 11.6 0 1 0 -23.2 0M2012.9 1159.8a11.6 11.6 0 1 0 23.2 0a11.6 11.6 0 1 0 -23.2 0M2014.9 1161.6a11.6 11.6 0 1 0 23.2 0a11.6 11.6 0 1 0 -23.2 0M2016.9 1163.5a11.6 11.6 0 1 0 23.2 0a11.6 11.6 0 1 0 -23.2 0M2018.8 1165.2a11.6 11.6 0 1 0 23.2 0a11.6 11.6 0 1 0 -23.2 0M2020.8 1167.0a11.6 11.6 0 1 0 23.2 0a11.6 11.6 0 1 0 -23.2 0M2022.7 1168.8a11.6 11.6 0 1 0 23.2 0a11.6 11.6 0 1 0 -23.2 0M2024.7 1170.5a11.6 11.6 0 1 0 23.2 0a11.6 11.6 0 1 0 -23.2 0M2026.6 1172.2a11.6 11.6 0 1 0 23.2 0a11.6 11.6 0 1 0 -23.2 0M2028.5 1173.9a11.6 11.6 0 1 0 23.2 0a11.6 11.6 0 1 0 -23.2 0M2030.3 1175.6a11.6 11.6 0 1 0 23.2 0a11.6 11.6 0 1 0 -23.2 0M2032.2 1177.3a11.6 11.6 0 1 0 23.2 0a11.6 11.6 0 1 0 -23.2 0M2034.1 1178.9a11.6 11.6 0 1 0 23.2 0a11.6 11.6 0 1 0 -23.2 0M2035.9 1180.5a11.6 11.6 0 1 0 23.2 0a11.6 11.6 0 1 0 -23.2 0M2037.7 1182.1a11.6 11.6 0 1 0 23.2 0a11.6 11.6 0 1 0 -23.2 0M2039.6 1183.7a11.6 11.6 0 1 0 23.2 0a11.6 11.6 0 1 0 -23.2 0M2041.4 1185.3a11.6 11.6 0 1 0 23.2 0a11.6 11.6 0 1 0 -23.2 0M2043.2 1186.8a11.6 11.6 0 1 0 23.2 0a11.6 11.6 0 1 0 -23.2 0M2045.0 1188.3a11.6 11.6 0 1 0 23.2 0a11.6 11.6 0 1 0 -23.2 0M2046.7 1189.8a11.6 11.6 0 1 0 23.2 0a11.6 11.6 0 1 0 -23.2 0M2048.5 1191.3a11.6 11.6 0 1 0 23.2 0a11.6 11.6 0 1 0 -23.2 0M2050.2 1192.7a11.6 11.6 0 1 0 23.2 0a11.6 11.6 0 1 0 -23.2 0M2052.0 1194.1a11.6 11.6 0 1 0 23.2 0a11.6 11.6 0 1 0 -23.2 0M2053.7 1195.6a11.6 11.6 0 1 0 23.2 0a11.6 11.6 0 1 0 -23.2 0M2055.4 1196.9a11.6 11.6 0 1 0 23.2 0a11.6 11.6 0 1 0 -23.2 0M2057.1 1198.3a11.6 11.6 0 1 0 23.2 0a11.6 11.6 0 1 0 -23.2 0M2058.8 1199.7a11.6 11.6 0 1 0 23.2 0a11.6 11.6 0 1 0 -23.2 0M2060.5 1201.0a11.6 11.6 0 1 0 23.2 0a11.6 11.6 0 1 0 -23.2 0M2062.2 1202.4a11.6 11.6 0 1 0 23.2 0a11.6 11.6 0 1 0 -23.2 0M2063.8 1203.7a11.6 11.6 0 1 0 23.2 0a11.6 11.6 0 1 0 -23.2 0M2065.5 1205.0a11.6 11.6 0 1 0 23.2 0a11.6 11.6 0 1 0 -23.2 0M2067.1 1206.3a11.6 11.6 0 1 0 23.2 0a11.6 11.6 0 1 0 -23.2 0M2068.8 1207.6a11.6 11.6 0 1 0 23.2 0a11.6 11.6 0 1 0 -23.2 0M2070.4 1208.9a11.6 11.6 0 1 0 23.2 0a11.6 11.6 0 1 0 -23.2 0M2072.0 1210.1a11.6 11.6 0 1 0 23.2 0a11.6 11.6 0 1 0 -23.2 0M2073.6 1211.4a11.6 11.6 0 1 0 23.2 0a11.6 11.6 0 1 0 -23.2 0M2075.2 1212.7a11.6 11.6 0 1 0 23.2 0a11.6 11.6 0 1 0 -23.2 0M2076.8 1213.9a11.6 11.6 0 1 0 23.2 0a11.6 11.6 0 1 0 -23.2 0M2078.4 1215.1a11.6 11.6 0 1 0 23.2 0a11.6 11.6 0 1 0 -23.2 0M2080.0 1216.4a11.6 11.6 0 1 0 23.2 0a11.6 11.6 0 1 0 -23.2 0M2081.5 1217.6a11.6 11.6 0 1 0 23.2 0a11.6 11.6 0 1 0 -23.2 0M2083.1 1218.8a11.6 11.6 0 1 0 23.2 0a11.6 11.6 0 1 0 -23.2 0M2084.6 1220.0a11.6 11.6 0 1 0 23.2 0a11.6 11.6 0 1 0 -23.2 0M2086.1 1221.3a11.6 11.6 0 1 0 23.2 0a11.6 11.6 0 1 0 -23.2 0M2087.7 1222.5a11.6 11.6 0 1 0 23.2 0a11.6 11.6 0 1 0 -23.2 0M2089.2 1223.7a11.6 11.6 0 1 0 23.2 0a11.6 11.6 0 1 0 -23.2 0M2090.7 1224.9a11.6 11.6 0 1 0 23.2 0a11.6 11.6 0 1 0 -23.2 0M2092.2 1226.1a11.6 11.6 0 1 0 23.2 0a11.6 11.6 0 1 0 -23.2 0M2093.7 1227.3a11.6 11.6 0 1 0 23.2 0a11.6 11.6 0 1 0 -23.2 0M2095.2 1228.5a11.6 11.6 0 1 0 23.2 0a11.6 11.6 0 1 0 -23.2 0M2096.7 1229.7a11.6 11.6 0 1 0 23.2 0a11.6 11.6 0 1 0 -23.2 0M2098.1 1230.8a11.6 11.6 0 1 0 23.2 0a11.6 11.6 0 1 0 -23.2 0M2099.6 1232.0a11.6 11.6 0 1 0 23.2 0a11.6 11.6 0 1 0 -23.2 0M2101.0 1233.2a11.6 11.6 0 1 0 23.2 0a11.6 11.6 0 1 0 -23.2 0M2102.5 1234.4a11.6 11.6 0 1 0 23.2 0a11.6 11.6 0 1 0 -23.2 0M2103.9 1235.6a11.6 11.6 0 1 0 23.2 0a11.6 11.6 0 1 0 -23.2 0M2105.3 1236.7a11.6 11.6 0 1 0 23.2 0a11.6 11.6 0 1 0 -23.2 0M2106.8 1237.9a11.6 11.6 0 1 0 23.2 0a11.6 11.6 0 1 0 -23.2 0M2108.2 1239.0a11.6 11.6 0 1 0 23.2 0a11.6 11.6 0 1 0 -23.2 0M2109.6 1240.2a11.6 11.6 0 1 0 23.2 0a11.6 11.6 0 1 0 -23.2 0M2111.0 1241.3a11.6 11.6 0 1 0 23.2 0a11.6 11.6 0 1 0 -23.2 0M2112.4 1242.5a11.6 11.6 0 1 0 23.2 0a11.6 11.6 0 1 0 -23.2 0M2113.8 1243.6a11.6 11.6 0 1 0 23.2 0a11.6 11.6 0 1 0 -23.2 0M2115.1 1244.7a11.6 11.6 0 1 0 23.2 0a11.6 11.6 0 1 0 -23.2 0M2116.5 1245.9a11.6 11.6 0 1 0 23.2 0a11.6 11.6 0 1 0 -23.2 0M2117.9 1247.0a11.6 11.6 0 1 0 23.2 0a11.6 11.6 0 1 0 -23.2 0M2119.2 1248.1a11.6 11.6 0 1 0 23.2 0a11.6 11.6 0 1 0 -23.2 0M2120.6 1249.2a11.6 11.6 0 1 0 23.2 0a11.6 11.6 0 1 0 -23.2 0M2121.9 1250.3a11.6 11.6 0 1 0 23.2 0a11.6 11.6 0 1 0 -23.2 0M2123.3 1251.4a11.6 11.6 0 1 0 23.2 0a11.6 11.6 0 1 0 -23.2 0M2124.6 1252.5a11.6 11.6 0 1 0 23.2 0a11.6 11.6 0 1 0 -23.2 0M2125.9 1253.6a11.6 11.6 0 1 0 23.2 0a11.6 11.6 0 1 0 -23.2 0M2127.3 1254.7a11.6 11.6 0 1 0 23.2 0a11.6 11.6 0 1 0 -23.2 0M2128.6 1255.7a11.6 11.6 0 1 0 23.2 0a11.6 11.6 0 1 0 -23.2 0M2129.9 1256.8a11.6 11.6 0 1 0 23.2 0a11.6 11.6 0 1 0 -23.2 0M2131.2 1257.9a11.6 11.6 0 1 0 23.2 0a11.6 11.6 0 1 0 -23.2 0M2132.5 1258.9a11.6 11.6 0 1 0 23.2 0a11.6 11.6 0 1 0 -23.2 0M2133.8 1260.0a11.6 11.6 0 1 0 23.2 0a11.6 11.6 0 1 0 -23.2 0M2135.0 1261.0a11.6 11.6 0 1 0 23.2 0a11.6 11.6 0 1 0 -23.2 0M2136.3 1262.0a11.6 11.6 0 1 0 23.2 0a11.6 11.6 0 1 0 -23.2 0M2137.6 1263.1a11.6 11.6 0 1 0 23.2 0a11.6 11.6 0 1 0 -23.2 0M2138.8 1264.1a11.6 11.6 0 1 0 23.2 0a11.6 11.6 0 1 0 -23.2 0M2140.1 1265.1a11.6 11.6 0 1 0 23.2 0a11.6 11.6 0 1 0 -23.2 0M2141.4 1266.1a11.6 11.6 0 1 0 23.2 0a11.6 11.6 0 1 0 -23.2 0M2142.6 1267.1a11.6 11.6 0 1 0 23.2 0a11.6 11.6 0 1 0 -23.2 0M2143.8 1268.1a11.6 11.6 0 1 0 23.2 0a11.6 11.6 0 1 0 -23.2 0M2145.1 1269.1a11.6 11.6 0 1 0 23.2 0a11.6 11.6 0 1 0 -23.2 0M2146.3 1270.1a11.6 11.6 0 1 0 23.2 0a11.6 11.6 0 1 0 -23.2 0M2147.5 1271.1a11.6 11.6 0 1 0 23.2 0a11.6 11.6 0 1 0 -23.2 0M2148.8 1272.0a11.6 11.6 0 1 0 23.2 0a11.6 11.6 0 1 0 -23.2 0M2150.0 1273.0a11.6 11.6 0 1 0 23.2 0a11.6 11.6 0 1 0 -23.2 0M2151.2 1274.0a11.6 11.6 0 1 0 23.2 0a11.6 11.6 0 1 0 -23.2 0M2152.4 1274.9a11.6 11.6 0 1 0 23.2 0a11.6 11.6 0 1 0 -23.2 0M2153.6 1275.9a11.6 11.6 0 1 0 23.2 0a11.6 11.6 0 1 0 -23.2 0M2154.8 1276.8a11.6 11.6 0 1 0 23.2 0a11.6 11.6 0 1 0 -23.2 0M2156.0 1277.7a11.6 11.6 0 1 0 23.2 0a11.6 11.6 0 1 0 -23.2 0M2157.1 1278.7a11.6 11.6 0 1 0 23.2 0a11.6 11.6 0 1 0 -23.2 0M2158.3 1279.6a11.6 11.6 0 1 0 23.2 0a11.6 11.6 0 1 0 -23.2 0M2159.5 1280.5a11.6 11.6 0 1 0 23.2 0a11.6 11.6 0 1 0 -23.2 0M2160.7 1281.4a11.6 11.6 0 1 0 23.2 0a11.6 11.6 0 1 0 -23.2 0M2161.8 1282.3a11.6 11.6 0 1 0 23.2 0a11.6 11.6 0 1 0 -23.2 0M2163.0 1283.2a11.6 11.6 0 1 0 23.2 0a11.6 11.6 0 1 0 -23.2 0M2164.1 1284.1a11.6 11.6 0 1 0 23.2 0a11.6 11.6 0 1 0 -23.2 0M2165.3 1285.0a11.6 11.6 0 1 0 23.2 0a11.6 11.6 0 1 0 -23.2 0M2166.4 1285.9a11.6 11.6 0 1 0 23.2 0a11.6 11.6 0 1 0 -23.2 0M2167.6 1286.8a11.6 11.6 0 1 0 23.2 0a11.6 11.6 0 1 0 -23.2 0M2168.7 1287.7a11.6 11.6 0 1 0 23.2 0a11.6 11.6 0 1 0 -23.2 0M2169.8 1288.6a11.6 11.6 0 1 0 23.2 0a11.6 11.6 0 1 0 -23.2 0M2170.9 1289.4a11.6 11.6 0 1 0 23.2 0a11.6 11.6 0 1 0 -23.2 0M2172.1 1290.3a11.6 11.6 0 1 0 23.2 0a11.6 11.6 0 1 0 -23.2 0M2173.2 1291.1a11.6 11.6 0 1 0 23.2 0a11.6 11.6 0 1 0 -23.2 0M2174.3 1292.0a11.6 11.6 0 1 0 23.2 0a11.6 11.6 0 1 0 -23.2 0M2175.4 1292.9a11.6 11.6 0 1 0 23.2 0a11.6 11.6 0 1 0 -23.2 0M2176.5 1293.7a11.6 11.6 0 1 0 23.2 0a11.6 11.6 0 1 0 -23.2 0M2177.6 1294.6a11.6 11.6 0 1 0 23.2 0a11.6 11.6 0 1 0 -23.2 0M2178.7 1295.5a11.6 11.6 0 1 0 23.2 0a11.6 11.6 0 1 0 -23.2 0M2179.8 1296.3a11.6 11.6 0 1 0 23.2 0a11.6 11.6 0 1 0 -23.2 0M2180.8 1297.2a11.6 11.6 0 1 0 23.2 0a11.6 11.6 0 1 0 -23.2 0M2181.9 1298.0a11.6 11.6 0 1 0 23.2 0a11.6 11.6 0 1 0 -23.2 0M2183.0 1298.9a11.6 11.6 0 1 0 23.2 0a11.6 11.6 0 1 0 -23.2 0M2184.1 1299.7a11.6 11.6 0 1 0 23.2 0a11.6 11.6 0 1 0 -23.2 0M2185.1 1300.5a11.6 11.6 0 1 0 23.2 0a11.6 11.6 0 1 0 -23.2 0M2186.2 1301.4a11.6 11.6 0 1 0 23.2 0a11.6 11.6 0 1 0 -23.2 0M2187.3 1302.2a11.6 11.6 0 1 0 23.2 0a11.6 11.6 0 1 0 -23.2 0M2188.3 1303.0a11.6 11.6 0 1 0 23.2 0a11.6 11.6 0 1 0 -23.2 0M2189.4 1303.8a11.6 11.6 0 1 0 23.2 0a11.6 11.6 0 1 0 -23.2 0M2190.4 1304.5a11.6 11.6 0 1 0 23.2 0a11.6 11.6 0 1 0 -23.2 0M2191.5 1305.3a11.6 11.6 0 1 0 23.2 0a11.6 11.6 0 1 0 -23.2 0M2192.5 1306.0a11.6 11.6 0 1 0 23.2 0a11.6 11.6 0 1 0 -23.2 0M2193.5 1306.8a11.6 11.6 0 1 0 23.2 0a11.6 11.6 0 1 0 -23.2 0M2194.6 1307.5a11.6 11.6 0 1 0 23.2 0a11.6 11.6 0 1 0 -23.2 0M2195.6 1308.2a11.6 11.6 0 1 0 23.2 0a11.6 11.6 0 1 0 -23.2 0M2196.6 1308.9a11.6 11.6 0 1 0 23.2 0a11.6 11.6 0 1 0 -23.2 0M2197.6 1309.5a11.6 11.6 0 1 0 23.2 0a11.6 11.6 0 1 0 -23.2 0M2198.6 1310.2a11.6 11.6 0 1 0 23.2 0a11.6 11.6 0 1 0 -23.2 0M2199.7 1310.8a11.6 11.6 0 1 0 23.2 0a11.6 11.6 0 1 0 -23.2 0M2200.7 1311.4a11.6 11.6 0 1 0 23.2 0a11.6 11.6 0 1 0 -23.2 0M2201.7 1312.0a11.6 11.6 0 1 0 23.2 0a11.6 11.6 0 1 0 -23.2 0M2202.7 1312.6a11.6 11.6 0 1 0 23.2 0a11.6 11.6 0 1 0 -23.2 0M2203.7 1313.2a11.6 11.6 0 1 0 23.2 0a11.6 11.6 0 1 0 -23.2 0M2204.7 1313.8a11.6 11.6 0 1 0 23.2 0a11.6 11.6 0 1 0 -23.2 0M2205.6 1314.4a11.6 11.6 0 1 0 23.2 0a11.6 11.6 0 1 0 -23.2 0M2206.6 1315.0a11.6 11.6 0 1 0 23.2 0a11.6 11.6 0 1 0 -23.2 0M2207.6 1315.5a11.6 11.6 0 1 0 23.2 0a11.6 11.6 0 1 0 -23.2 0M2208.6 1316.1a11.6 11.6 0 1 0 23.2 0a11.6 11.6 0 1 0 -23.2 0M2209.6 1316.6a11.6 11.6 0 1 0 23.2 0a11.6 11.6 0 1 0 -23.2 0M2210.5 1317.2a11.6 11.6 0 1 0 23.2 0a11.6 11.6 0 1 0 -23.2 0M2211.5 1317.7a11.6 11.6 0 1 0 23.2 0a11.6 11.6 0 1 0 -23.2 0M2212.5 1318.2a11.6 11.6 0 1 0 23.2 0a11.6 11.6 0 1 0 -23.2 0M2213.4 1318.8a11.6 11.6 0 1 0 23.2 0a11.6 11.6 0 1 0 -23.2 0M2214.4 1319.3a11.6 11.6 0 1 0 23.2 0a11.6 11.6 0 1 0 -23.2 0M2215.3 1319.8a11.6 11.6 0 1 0 23.2 0a11.6 11.6 0 1 0 -23.2 0M2216.3 1320.2a11.6 11.6 0 1 0 23.2 0a11.6 11.6 0 1 0 -23.2 0M2217.2 1320.7a11.6 11.6 0 1 0 23.2 0a11.6 11.6 0 1 0 -23.2 0M2218.2 1321.2a11.6 11.6 0 1 0 23.2 0a11.6 11.6 0 1 0 -23.2 0M2219.1 1321.7a11.6 11.6 0 1 0 23.2 0a11.6 11.6 0 1 0 -23.2 0M2220.1 1322.1a11.6 11.6 0 1 0 23.2 0a11.6 11.6 0 1 0 -23.2 0M2221.0 1322.6a11.6 11.6 0 1 0 23.2 0a11.6 11.6 0 1 0 -23.2 0M2221.9 1323.0a11.6 11.6 0 1 0 23.2 0a11.6 11.6 0 1 0 -23.2 0M2222.9 1323.4a11.6 11.6 0 1 0 23.2 0a11.6 11.6 0 1 0 -23.2 0M2223.8 1314.3a11.6 11.6 0 1 0 23.2 0a11.6 11.6 0 1 0 -23.2 0M2224.7 1312.0a11.6 11.6 0 1 0 23.2 0a11.6 11.6 0 1 0 -23.2 0M2225.6 1303.2a11.6 11.6 0 1 0 23.2 0a11.6 11.6 0 1 0 -23.2 0" fill="#8a8a8a"/>
<path d="M1394.2 833.5V838.7M1413.6 837.5V842.8M1431.7 841.4V846.8M1448.7 845.2V850.7M1464.7 849.0V854.4M1479.8 852.6V858.2M1494.1 856.1V861.7M1507.7 859.6V865.2M1520.6 862.9V868.6M1533.0 866.3V872.0M1544.8 869.6V875.3M1556.2 872.8V878.7M1567.1 876.2V882.0M1577.5 879.5V885.4M1587.6 882.9V888.8M1597.3 886.3V892.3M1606.7 889.7V895.8M1615.8 893.2V899.2M1624.6 896.6V902.7M1633.1 900.0V906.1M1641.3 903.4V909.5M1649.4 906.7V912.9M1657.1 910.0V916.2M1664.7 913.2V919.5M1672.1 916.4V922.7M1679.2 919.6V925.9M1686.2 922.7V929.1M1693.1 925.9V932.2M1699.7 929.0V935.3M1706.2 932.1V938.5M1712.5 935.1V941.5M1718.7 938.2V944.6M1724.8 941.2V947.6M1730.7 944.1V950.6M1736.5 947.1V953.6M1742.2 950.0V956.5M1747.8 952.9V959.4M1753.2 955.8V962.3M1758.6 958.6V965.2M1763.8 961.4V968.0M1768.9 964.2V970.8M1774.0 967.0V973.7M1778.9 969.8V976.5M1783.8 972.6V979.3M1788.6 975.4V982.1M1793.3 978.2V985.0M1797.9 981.0V987.8M1802.5 983.8V990.5M1806.9 986.5V993.3M1811.3 989.3V996.1M1815.7 992.0V998.8M1819.9 994.8V1001.6M1824.1 997.5V1004.3M1828.3 1000.2V1007.0M1832.3 1002.9V1009.7M1836.4 1005.5V1012.4M1840.3 1008.1V1015.0M1844.2 1010.8V1017.7M1848.0 1013.3V1020.2M1851.8 1015.9V1022.8M1855.6 1018.4V1025.3M1859.3 1020.9V1027.8M1862.9 1023.3V1030.3M1866.5 1025.8V1032.8M1870.0 1028.2V1035.2M1873.5 1030.6V1037.6M1877.0 1033.0V1040.0M1880.4 1035.4V1042.4M1883.8 1037.7V1044.8M1887.1 1040.1V1047.2M1890.4 1042.4V1049.5M1893.6 1044.8V1051.9M1896.8 1047.1V1054.2M1900.0 1049.5V1056.6M1903.1 1051.8V1058.9M1906.2 1054.1V1061.3M1909.3 1056.4V1063.6M1912.3 1058.8V1065.9M1915.3 1061.1V1068.2M1918.3 1063.4V1070.6M1921.2 1065.7V1072.9M1924.1 1068.0V1075.2M1927.0 1070.3V1077.5M1929.9 1072.5V1079.8M1932.7 1074.8V1082.0M1935.5 1077.1V1084.3M1938.2 1079.3V1086.6M1940.9 1081.6V1088.8M1943.6 1083.8V1091.1M1946.3 1086.0V1093.3M1949.0 1088.2V1095.5M1951.6 1090.5V1097.8M1954.2 1092.7V1100.0M1956.8 1094.9V1102.2M1959.3 1097.1V1104.4M1961.8 1099.3V1106.6M1964.4 1101.5V1108.8M1966.8 1103.7V1111.0M1969.3 1105.9V1113.2M1971.7 1108.1V1115.4M1974.1 1110.2V1117.6M1976.5 1112.4V1119.8M1978.9 1114.6V1122.0M1981.3 1116.7V1124.1M1983.6 1118.9V1126.3M1985.9 1121.0V1128.4M1988.2 1123.1V1130.5M1990.5 1125.2V1132.6M1992.7 1127.2V1134.7M1995.0 1129.3V1136.7M1997.2 1131.3V1138.8M1999.4 1133.3V1140.8M2001.6 1135.3V1142.8M2003.7 1137.2V1144.7M2005.9 1139.1V1146.7M2008.0 1141.1V1148.6M2010.1 1143.0V1150.5M2012.2 1144.9V1152.4M2014.3 1146.8V1154.3M2016.4 1148.7V1156.2M2018.4 1150.5V1158.1M2020.5 1152.4V1160.0M2022.5 1154.3V1161.8M2024.5 1156.1V1163.7M2026.5 1157.9V1165.5M2028.5 1159.7V1167.3M2030.4 1161.5V1169.1M2032.4 1163.3V1170.9M2034.3 1165.0V1172.6M2036.3 1166.8V1174.4M2038.2 1168.5V1176.1M2040.1 1170.2V1177.8M2041.9 1171.8V1179.5M2043.8 1173.5V1181.2M2045.7 1175.1V1182.8M2047.5 1176.8V1184.4M2049.3 1178.4V1186.0M2051.2 1179.9V1187.6M2053.0 1181.5V1189.2M2054.8 1183.0V1190.7M2056.6 1184.5V1192.2M2058.3 1186.0V1193.7M2060.1 1187.5V1195.2M2061.8 1188.9V1196.6M2063.6 1190.3V1198.1M2065.3 1191.7V1199.5M2067.0 1193.1V1200.9M2068.7 1194.5V1202.3M2070.4 1195.9V1203.6M2072.1 1197.2V1205.0M2073.8 1198.6V1206.3M2075.4 1199.9V1207.6M2077.1 1201.2V1209.0M2078.7 1202.5V1210.3M2080.4 1203.8V1211.5M2082.0 1205.0V1212.8M2083.6 1206.3V1214.1M2085.2 1207.6V1215.4M2086.8 1208.8V1216.6M2088.4 1210.1V1217.9M2090.0 1211.3V1219.1M2091.6 1212.5V1220.3M2093.1 1213.7V1221.6M2094.7 1215.0V1222.8M2096.2 1216.2V1224.0M2097.7 1217.4V1225.2M2099.3 1218.6V1226.4M2100.8 1219.7V1227.7M2102.3 1220.8V1229.0M2103.8 1221.9V1230.4M2105.3 1223.0V1231.7M2106.8 1224.1V1233.0M2108.3 1225.2V1234.3M2109.7 1226.2V1235.6M2111.2 1227.3V1236.9M2112.6 1228.4V1238.2M2114.1 1229.4V1239.5M2115.5 1230.5V1240.8M2116.9 1231.6V1242.1M2118.4 1232.6V1243.4M2119.8 1233.7V1244.6M2121.2 1234.7V1245.9M2122.6 1235.8V1247.2M2124.0 1236.8V1248.4M2125.4 1237.8V1249.7M2126.7 1238.9V1250.9M2128.1 1239.9V1252.2M2129.5 1240.9V1253.4M2130.8 1241.9V1254.6M2132.2 1242.9V1255.8M2133.5 1243.9V1257.0M2134.9 1244.9V1258.3M2136.2 1245.9V1259.5M2137.5 1246.9V1260.7M2138.9 1247.9V1261.8M2140.2 1248.8V1263.0M2141.5 1249.8V1264.2M2142.8 1250.8V1265.4M2144.1 1251.7V1266.5M2145.4 1252.7V1267.7M2146.6 1253.6V1268.8M2147.9 1254.6V1270.0M2149.2 1255.5V1271.1M2150.4 1256.4V1272.3M2151.7 1257.1V1273.6M2153.0 1257.8V1275.0M2154.2 1258.6V1276.3M2155.4 1259.3V1277.6M2156.7 1260.0V1278.9M2157.9 1260.7V1280.2M2159.1 1261.4V1281.5M2160.4 1262.1V1282.8M2161.6 1262.8V1284.1M2162.8 1263.5V1285.3M2164.0 1264.2V1286.6M2165.2 1264.9V1287.9M2166.4 1265.6V1289.1M2167.6 1266.2V1290.4M2168.7 1266.9V1291.6M2169.9 1267.6V1292.8M2171.1 1268.2V1294.1M2172.3 1268.9V1295.3M2173.4 1269.6V1296.5M2174.6 1270.2V1297.7M2175.7 1270.9V1298.9M2176.9 1271.5V1300.1M2178.0 1272.2V1301.3M2179.2 1272.8V1302.5M2180.3 1273.4V1303.7M2181.4 1274.1V1304.9M2182.5 1274.7V1306.0M2183.7 1275.2V1307.3M2184.8 1275.7V1308.6M2185.9 1276.2V1309.9M2187.0 1276.7V1311.3M2188.1 1277.2V1305.0M2189.2 1277.8V1306.1M2190.3 1278.3V1307.2M2191.4 1278.8V1308.2M2192.4 1279.3V1309.3M2193.5 1279.8V1310.4M2194.6 1280.3V1311.5M2195.7 1280.8V1312.6M2196.7 1281.3V1313.3M2197.8 1281.8V1313.9M2198.9 1282.2V1314.6M2199.9 1282.7V1315.2M2201.0 1283.2V1315.9M2202.0 1283.6V1316.5M2203.1 1284.1V1317.2M2204.1 1284.5V1317.8M2205.1 1284.9V1318.4M2206.2 1285.3V1319.1M2207.2 1285.7V1319.7M2208.2 1285.9V1320.3M2209.2 1285.7V1320.9M2210.2 1285.5V1321.8M2211.3 1285.2V1323.1M2212.3 1285.0V1324.4M2213.3 1284.8V1325.6M2214.3 1284.5V1326.8M2215.3 1284.3V1328.1M2216.3 1284.1V1329.3M2217.2 1283.9V1330.5M2218.2 1283.6V1331.8M2219.2 1283.4V1333.0M2220.2 1283.2V1334.2M2221.2 1283.0V1335.4M2222.1 1282.7V1335.8M2223.1 1282.3V1336.0M2224.1 1281.8V1336.1M2225.0 1281.4V1336.3M2226.0 1281.0V1336.4M2226.9 1280.5V1336.6M2227.9 1280.1V1336.7M2228.8 1279.7V1336.8M2229.8 1279.2V1337.0M2230.7 1278.8V1337.1M2231.7 1278.4V1337.3M2232.6 1277.6V1337.4M2233.5 1276.6V1337.6M2234.5 1275.6V1337.7M2235.4 1280.5V1360.0M2236.3 1263.5V1389.8M2237.2 1232.1V1470.4" stroke="#8a8a8a" stroke-width="3.5" fill="none"/>
<path d="M1381.7 833.5h25M1381.7 838.7h25M1401.1 837.5h25M1401.1 842.8h25M1419.2 841.4h25M1419.2 846.8h25M1436.2 845.2h25M1436.2 850.7h25M1452.2 849.0h25M1452.2 854.4h25M1467.3 852.6h25M1467.3 858.2h25M1481.6 856.1h25M1481.6 861.7h25M1495.2 859.6h25M1495.2 865.2h25M1508.1 862.9h25M1508.1 868.6h25M1520.5 866.3h25M1520.5 872.0h25M1532.3 869.6h25M1532.3 875.3h25M1543.7 872.8h25M1543.7 878.7h25M1554.6 876.2h25M1554.6 882.0h25M1565.0 879.5h25M1565.0 885.4h25M1575.1 882.9h25M1575.1 888.8h25M1584.8 886.3h25M1584.8 892.3h25M1594.2 889.7h25M1594.2 895.8h25M1603.3 893.2h25M1603.3 899.2h25M1612.1 896.6h25M1612.1 902.7h25M1620.6 900.0h25M1620.6 906.1h25M1628.8 903.4h25M1628.8 909.5h25M1636.9 906.7h25M1636.9 912.9h25M1644.6 910.0h25M1644.6 916.2h25M1652.2 913.2h25M1652.2 919.5h25M1659.6 916.4h25M1659.6 922.7h25M1666.7 919.6h25M1666.7 925.9h25M1673.7 922.7h25M1673.7 929.1h25M1680.6 925.9h25M1680.6 932.2h25M1687.2 929.0h25M1687.2 935.3h25M1693.7 932.1h25M1693.7 938.5h25M1700.0 935.1h25M1700.0 941.5h25M1706.2 938.2h25M1706.2 944.6h25M1712.3 941.2h25M1712.3 947.6h25M1718.2 944.1h25M1718.2 950.6h25M1724.0 947.1h25M1724.0 953.6h25M1729.7 950.0h25M1729.7 956.5h25M1735.3 952.9h25M1735.3 959.4h25M1740.7 955.8h25M1740.7 962.3h25M1746.1 958.6h25M1746.1 965.2h25M1751.3 961.4h25M1751.3 968.0h25M1756.4 964.2h25M1756.4 970.8h25M1761.5 967.0h25M1761.5 973.7h25M1766.4 969.8h25M1766.4 976.5h25M1771.3 972.6h25M1771.3 979.3h25M1776.1 975.4h25M1776.1 982.1h25M1780.8 978.2h25M1780.8 985.0h25M1785.4 981.0h25M1785.4 987.8h25M1790.0 983.8h25M1790.0 990.5h25M1794.4 986.5h25M1794.4 993.3h25M1798.8 989.3h25M1798.8 996.1h25M1803.2 992.0h25M1803.2 998.8h25M1807.4 994.8h25M1807.4 1001.6h25M1811.6 997.5h25M1811.6 1004.3h25M1815.8 1000.2h25M1815.8 1007.0h25M1819.8 1002.9h25M1819.8 1009.7h25M1823.9 1005.5h25M1823.9 1012.4h25M1827.8 1008.1h25M1827.8 1015.0h25M1831.7 1010.8h25M1831.7 1017.7h25M1835.5 1013.3h25M1835.5 1020.2h25M1839.3 1015.9h25M1839.3 1022.8h25M1843.1 1018.4h25M1843.1 1025.3h25M1846.8 1020.9h25M1846.8 1027.8h25M1850.4 1023.3h25M1850.4 1030.3h25M1854.0 1025.8h25M1854.0 1032.8h25M1857.5 1028.2h25M1857.5 1035.2h25M1861.0 1030.6h25M1861.0 1037.6h25M1864.5 1033.0h25M1864.5 1040.0h25M1867.9 1035.4h25M1867.9 1042.4h25M1871.3 1037.7h25M1871.3 1044.8h25M1874.6 1040.1h25M1874.6 1047.2h25M1877.9 1042.4h25M1877.9 1049.5h25M1881.1 1044.8h25M1881.1 1051.9h25M1884.3 1047.1h25M1884.3 1054.2h25M1887.5 1049.5h25M1887.5 1056.6h25M1890.6 1051.8h25M1890.6 1058.9h25M1893.7 1054.1h25M1893.7 1061.3h25M1896.8 1056.4h25M1896.8 1063.6h25M1899.8 1058.8h25M1899.8 1065.9h25M1902.8 1061.1h25M1902.8 1068.2h25M1905.8 1063.4h25M1905.8 1070.6h25M1908.7 1065.7h25M1908.7 1072.9h25M1911.6 1068.0h25M1911.6 1075.2h25M1914.5 1070.3h25M1914.5 1077.5h25M1917.4 1072.5h25M1917.4 1079.8h25M1920.2 1074.8h25M1920.2 1082.0h25M1923.0 1077.1h25M1923.0 1084.3h25M1925.7 1079.3h25M1925.7 1086.6h25M1928.4 1081.6h25M1928.4 1088.8h25M1931.1 1083.8h25M1931.1 1091.1h25M1933.8 1086.0h25M1933.8 1093.3h25M1936.5 1088.2h25M1936.5 1095.5h25M1939.1 1090.5h25M1939.1 1097.8h25M1941.7 1092.7h25M1941.7 1100.0h25M1944.3 1094.9h25M1944.3 1102.2h25M1946.8 1097.1h25M1946.8 1104.4h25M1949.3 1099.3h25M1949.3 1106.6h25M1951.9 1101.5h25M1951.9 1108.8h25M1954.3 1103.7h25M1954.3 1111.0h25M1956.8 1105.9h25M1956.8 1113.2h25M1959.2 1108.1h25M1959.2 1115.4h25M1961.6 1110.2h25M1961.6 1117.6h25M1964.0 1112.4h25M1964.0 1119.8h25M1966.4 1114.6h25M1966.4 1122.0h25M1968.8 1116.7h25M1968.8 1124.1h25M1971.1 1118.9h25M1971.1 1126.3h25M1973.4 1121.0h25M1973.4 1128.4h25M1975.7 1123.1h25M1975.7 1130.5h25M1978.0 1125.2h25M1978.0 1132.6h25M1980.2 1127.2h25M1980.2 1134.7h25M1982.5 1129.3h25M1982.5 1136.7h25M1984.7 1131.3h25M1984.7 1138.8h25M1986.9 1133.3h25M1986.9 1140.8h25M1989.1 1135.3h25M1989.1 1142.8h25M1991.2 1137.2h25M1991.2 1144.7h25M1993.4 1139.1h25M1993.4 1146.7h25M1995.5 1141.1h25M1995.5 1148.6h25M1997.6 1143.0h25M1997.6 1150.5h25M1999.7 1144.9h25M1999.7 1152.4h25M2001.8 1146.8h25M2001.8 1154.3h25M2003.9 1148.7h25M2003.9 1156.2h25M2005.9 1150.5h25M2005.9 1158.1h25M2008.0 1152.4h25M2008.0 1160.0h25M2010.0 1154.3h25M2010.0 1161.8h25M2012.0 1156.1h25M2012.0 1163.7h25M2014.0 1157.9h25M2014.0 1165.5h25M2016.0 1159.7h25M2016.0 1167.3h25M2017.9 1161.5h25M2017.9 1169.1h25M2019.9 1163.3h25M2019.9 1170.9h25M2021.8 1165.0h25M2021.8 1172.6h25M2023.8 1166.8h25M2023.8 1174.4h25M2025.7 1168.5h25M2025.7 1176.1h25M2027.6 1170.2h25M2027.6 1177.8h25M2029.4 1171.8h25M2029.4 1179.5h25M2031.3 1173.5h25M2031.3 1181.2h25M2033.2 1175.1h25M2033.2 1182.8h25M2035.0 1176.8h25M2035.0 1184.4h25M2036.8 1178.4h25M2036.8 1186.0h25M2038.7 1179.9h25M2038.7 1187.6h25M2040.5 1181.5h25M2040.5 1189.2h25M2042.3 1183.0h25M2042.3 1190.7h25M2044.1 1184.5h25M2044.1 1192.2h25M2045.8 1186.0h25M2045.8 1193.7h25M2047.6 1187.5h25M2047.6 1195.2h25M2049.3 1188.9h25M2049.3 1196.6h25M2051.1 1190.3h25M2051.1 1198.1h25M2052.8 1191.7h25M2052.8 1199.5h25M2054.5 1193.1h25M2054.5 1200.9h25M2056.2 1194.5h25M2056.2 1202.3h25M2057.9 1195.9h25M2057.9 1203.6h25M2059.6 1197.2h25M2059.6 1205.0h25M2061.3 1198.6h25M2061.3 1206.3h25M2062.9 1199.9h25M2062.9 1207.6h25M2064.6 1201.2h25M2064.6 1209.0h25M2066.2 1202.5h25M2066.2 1210.3h25M2067.9 1203.8h25M2067.9 1211.5h25M2069.5 1205.0h25M2069.5 1212.8h25M2071.1 1206.3h25M2071.1 1214.1h25M2072.7 1207.6h25M2072.7 1215.4h25M2074.3 1208.8h25M2074.3 1216.6h25M2075.9 1210.1h25M2075.9 1217.9h25M2077.5 1211.3h25M2077.5 1219.1h25M2079.1 1212.5h25M2079.1 1220.3h25M2080.6 1213.7h25M2080.6 1221.6h25M2082.2 1215.0h25M2082.2 1222.8h25M2083.7 1216.2h25M2083.7 1224.0h25M2085.2 1217.4h25M2085.2 1225.2h25M2086.8 1218.6h25M2086.8 1226.4h25M2088.3 1219.7h25M2088.3 1227.7h25M2089.8 1220.8h25M2089.8 1229.0h25M2091.3 1221.9h25M2091.3 1230.4h25M2092.8 1223.0h25M2092.8 1231.7h25M2094.3 1224.1h25M2094.3 1233.0h25M2095.8 1225.2h25M2095.8 1234.3h25M2097.2 1226.2h25M2097.2 1235.6h25M2098.7 1227.3h25M2098.7 1236.9h25M2100.1 1228.4h25M2100.1 1238.2h25M2101.6 1229.4h25M2101.6 1239.5h25M2103.0 1230.5h25M2103.0 1240.8h25M2104.4 1231.6h25M2104.4 1242.1h25M2105.9 1232.6h25M2105.9 1243.4h25M2107.3 1233.7h25M2107.3 1244.6h25M2108.7 1234.7h25M2108.7 1245.9h25M2110.1 1235.8h25M2110.1 1247.2h25M2111.5 1236.8h25M2111.5 1248.4h25M2112.9 1237.8h25M2112.9 1249.7h25M2114.2 1238.9h25M2114.2 1250.9h25M2115.6 1239.9h25M2115.6 1252.2h25M2117.0 1240.9h25M2117.0 1253.4h25M2118.3 1241.9h25M2118.3 1254.6h25M2119.7 1242.9h25M2119.7 1255.8h25M2121.0 1243.9h25M2121.0 1257.0h25M2122.4 1244.9h25M2122.4 1258.3h25M2123.7 1245.9h25M2123.7 1259.5h25M2125.0 1246.9h25M2125.0 1260.7h25M2126.4 1247.9h25M2126.4 1261.8h25M2127.7 1248.8h25M2127.7 1263.0h25M2129.0 1249.8h25M2129.0 1264.2h25M2130.3 1250.8h25M2130.3 1265.4h25M2131.6 1251.7h25M2131.6 1266.5h25M2132.9 1252.7h25M2132.9 1267.7h25M2134.1 1253.6h25M2134.1 1268.8h25M2135.4 1254.6h25M2135.4 1270.0h25M2136.7 1255.5h25M2136.7 1271.1h25M2137.9 1256.4h25M2137.9 1272.3h25M2139.2 1257.1h25M2139.2 1273.6h25M2140.5 1257.8h25M2140.5 1275.0h25M2141.7 1258.6h25M2141.7 1276.3h25M2142.9 1259.3h25M2142.9 1277.6h25M2144.2 1260.0h25M2144.2 1278.9h25M2145.4 1260.7h25M2145.4 1280.2h25M2146.6 1261.4h25M2146.6 1281.5h25M2147.9 1262.1h25M2147.9 1282.8h25M2149.1 1262.8h25M2149.1 1284.1h25M2150.3 1263.5h25M2150.3 1285.3h25M2151.5 1264.2h25M2151.5 1286.6h25M2152.7 1264.9h25M2152.7 1287.9h25M2153.9 1265.6h25M2153.9 1289.1h25M2155.1 1266.2h25M2155.1 1290.4h25M2156.2 1266.9h25M2156.2 1291.6h25M2157.4 1267.6h25M2157.4 1292.8h25M2158.6 1268.2h25M2158.6 1294.1h25M2159.8 1268.9h25M2159.8 1295.3h25M2160.9 1269.6h25M2160.9 1296.5h25M2162.1 1270.2h25M2162.1 1297.7h25M2163.2 1270.9h25M2163.2 1298.9h25M2164.4 1271.5h25M2164.4 1300.1h25M2165.5 1272.2h25M2165.5 1301.3h25M2166.7 1272.8h25M2166.7 1302.5h25M2167.8 1273.4h25M2167.8 1303.7h25M2168.9 1274.1h25M2168.9 1304.9h25M2170.0 1274.7h25M2170.0 1306.0h25M2171.2 1275.2h25M2171.2 1307.3h25M2172.3 1275.7h25M2172.3 1308.6h25M2173.4 1276.2h25M2173.4 1309.9h25M2174.5 1276.7h25M2174.5 1311.3h25M2175.6 1277.2h25M2175.6 1305.0h25M2176.7 1277.8h25M2176.7 1306.1h25M2177.8 1278.3h25M2177.8 1307.2h25M2178.9 1278.8h25M2178.9 1308.2h25M2179.9 1279.3h25M2179.9 1309.3h25M2181.0 1279.8h25M2181.0 1310.4h25M2182.1 1280.3h25M2182.1 1311.5h25M2183.2 1280.8h25M2183.2 1312.6h25M2184.2 1281.3h25M2184.2 1313.3h25M2185.3 1281.8h25M2185.3 1313.9h25M2186.4 1282.2h25M2186.4 1314.6h25M2187.4 1282.7h25M2187.4 1315.2h25M2188.5 1283.2h25M2188.5 1315.9h25M2189.5 1283.6h25M2189.5 1316.5h25M2190.6 1284.1h25M2190.6 1317.2h25M2191.6 1284.5h25M2191.6 1317.8h25M2192.6 1284.9h25M2192.6 1318.4h25M2193.7 1285.3h25M2193.7 1319.1h25M2194.7 1285.7h25M2194.7 1319.7h25M2195.7 1285.9h25M2195.7 1320.3h25M2196.7 1285.7h25M2196.7 1320.9h25M2197.7 1285.5h25M2197.7 1321.8h25M2198.8 1285.2h25M2198.8 1323.1h25M2199.8 1285.0h25M2199.8 1324.4h25M2200.8 1284.8h25M2200.8 1325.6h25M2201.8 1284.5h25M2201.8 1326.8h25M2202.8 1284.3h25M2202.8 1328.1h25M2203.8 1284.1h25M2203.8 1329.3h25M2204.7 1283.9h25M2204.7 1330.5h25M2205.7 1283.6h25M2205.7 1331.8h25M2206.7 1283.4h25M2206.7 1333.0h25M2207.7 1283.2h25M2207.7 1334.2h25M2208.7 1283.0h25M2208.7 1335.4h25M2209.6 1282.7h25M2209.6 1335.8h25M2210.6 1282.3h25M2210.6 1336.0h25M2211.6 1281.8h25M2211.6 1336.1h25M2212.5 1281.4h25M2212.5 1336.3h25M2213.5 1281.0h25M2213.5 1336.4h25M2214.4 1280.5h25M2214.4 1336.6h25M2215.4 1280.1h25M2215.4 1336.7h25M2216.3 1279.7h25M2216.3 1336.8h25M2217.3 1279.2h25M2217.3 1337.0h25M2218.2 1278.8h25M2218.2 1337.1h25M2219.2 1278.4h25M2219.2 1337.3h25M2220.1 1277.6h25M2220.1 1337.4h25M2221.0 1276.6h25M2221.0 1337.6h25M2222.0 1275.6h25M2222.0 1337.7h25M2222.9 1280.5h25M2222.9 1360.0h25M2223.8 1263.5h25M2223.8 1389.8h25M2224.7 1232.1h25M2224.7 1470.4h25" stroke="#8a8a8a" stroke-width="3.5" fill="none"/>
<path d="M1382.6 1170.6a11.6 11.6 0 1 0 23.2 0a11.6 11.6 0 1 0 -23.2 0M1402.0 1170.9a11.6 11.6 0 1 0 23.2 0a11.6 11.6 0 1 0 -23.2 0M1420.1 1171.3a11.6 11.6 0 1 0 23.2 0a11.6 11.6 0 1 0 -23.2 0M1437.1 1171.6a11.6 11.6 0 1 0 23.2 0a11.6 11.6 0 1 0 -23.2 0M1453.1 1171.9a11.6 11.6 0 1 0 23.2 0a11.6 11.6 0 1 0 -23.2 0M1468.2 1172.3a11.6 11.6 0 1 0 23.2 0a11.6 11.6 0 1 0 -23.2 0M1482.5 1172.6a11.6 11.6 0 1 0 23.2 0a11.6 11.6 0 1 0 -23.2 0M1496.1 1172.9a11.6 11.6 0 1 0 23.2 0a11.6 11.6 0 1 0 -23.2 0M1509.0 1173.2a11.6 11.6 0 1 0 23.2 0a11.6 11.6 0 1 0 -23.2 0M1521.4 1173.5a11.6 11.6 0 1 0 23.2 0a11.6 11.6 0 1 0 -23.2 0M1533.2 1173.8a11.6 11.6 0 1 0 23.2 0a11.6 11.6 0 1 0 -23.2 0M1544.6 1174.1a11.6 11.6 0 1 0 23.2 0a11.6 11.6 0 1 0 -23.2 0M1555.5 1174.4a11.6 11.6 0 1 0 23.2 0a11.6 11.6 0 1 0 -23.2 0M1565.9 1174.7a11.6 11.6 0 1 0 23.2 0a11.6 11.6 0 1 0 -23.2 0M1576.0 1175.0a11.6 11.6 0 1 0 23.2 0a11.6 11.6 0 1 0 -23.2 0M1585.7 1175.4a11.6 11.6 0 1 0 23.2 0a11.6 11.6 0 1 0 -23.2 0M1595.1 1175.7a11.6 11.6 0 1 0 23.2 0a11.6 11.6 0 1 0 -23.2 0M1604.2 1176.0a11.6 11.6 0 1 0 23.2 0a11.6 11.6 0 1 0 -23.2 0M1613.0 1176.4a11.6 11.6 0 1 0 23.2 0a11.6 11.6 0 1 0 -23.2 0M1621.5 1176.7a11.6 11.6 0 1 0 23.2 0a11.6 11.6 0 1 0 -23.2 0M1629.7 1177.0a11.6 11.6 0 1 0 23.2 0a11.6 11.6 0 1 0 -23.2 0M1637.8 1177.4a11.6 11.6 0 1 0 23.2 0a11.6 11.6 0 1 0 -23.2 0M1645.5 1177.7a11.6 11.6 0 1 0 23.2 0a11.6 11.6 0 1 0 -23.2 0M1653.1 1178.1a11.6 11.6 0 1 0 23.2 0a11.6 11.6 0 1 0 -23.2 0M1660.5 1178.4a11.6 11.6 0 1 0 23.2 0a11.6 11.6 0 1 0 -23.2 0M1667.6 1178.8a11.6 11.6 0 1 0 23.2 0a11.6 11.6 0 1 0 -23.2 0M1674.6 1179.2a11.6 11.6 0 1 0 23.2 0a11.6 11.6 0 1 0 -23.2 0M1681.5 1179.5a11.6 11.6 0 1 0 23.2 0a11.6 11.6 0 1 0 -23.2 0M1688.1 1179.9a11.6 11.6 0 1 0 23.2 0a11.6 11.6 0 1 0 -23.2 0M1694.6 1180.2a11.6 11.6 0 1 0 23.2 0a11.6 11.6 0 1 0 -23.2 0M1700.9 1180.6a11.6 11.6 0 1 0 23.2 0a11.6 11.6 0 1 0 -23.2 0M1707.1 1181.0a11.6 11.6 0 1 0 23.2 0a11.6 11.6 0 1 0 -23.2 0M1713.2 1181.4a11.6 11.6 0 1 0 23.2 0a11.6 11.6 0 1 0 -23.2 0M1719.1 1181.8a11.6 11.6 0 1 0 23.2 0a11.6 11.6 0 1 0 -23.2 0M1724.9 1182.2a11.6 11.6 0 1 0 23.2 0a11.6 11.6 0 1 0 -23.2 0M1730.6 1182.6a11.6 11.6 0 1 0 23.2 0a11.6 11.6 0 1 0 -23.2 0M1736.2 1183.0a11.6 11.6 0 1 0 23.2 0a11.6 11.6 0 1 0 -23.2 0M1741.6 1183.4a11.6 11.6 0 1 0 23.2 0a11.6 11.6 0 1 0 -23.2 0M1747.0 1183.8a11.6 11.6 0 1 0 23.2 0a11.6 11.6 0 1 0 -23.2 0M1752.2 1184.2a11.6 11.6 0 1 0 23.2 0a11.6 11.6 0 1 0 -23.2 0M1757.3 1184.7a11.6 11.6 0 1 0 23.2 0a11.6 11.6 0 1 0 -23.2 0M1762.4 1185.2a11.6 11.6 0 1 0 23.2 0a11.6 11.6 0 1 0 -23.2 0M1767.3 1185.7a11.6 11.6 0 1 0 23.2 0a11.6 11.6 0 1 0 -23.2 0M1772.2 1186.2a11.6 11.6 0 1 0 23.2 0a11.6 11.6 0 1 0 -23.2 0M1777.0 1186.7a11.6 11.6 0 1 0 23.2 0a11.6 11.6 0 1 0 -23.2 0M1781.7 1187.3a11.6 11.6 0 1 0 23.2 0a11.6 11.6 0 1 0 -23.2 0M1786.3 1187.8a11.6 11.6 0 1 0 23.2 0a11.6 11.6 0 1 0 -23.2 0M1790.9 1188.3a11.6 11.6 0 1 0 23.2 0a11.6 11.6 0 1 0 -23.2 0M1795.3 1188.7a11.6 11.6 0 1 0 23.2 0a11.6 11.6 0 1 0 -23.2 0M1799.7 1189.2a11.6 11.6 0 1 0 23.2 0a11.6 11.6 0 1 0 -23.2 0M1804.1 1189.6a11.6 11.6 0 1 0 23.2 0a11.6 11.6 0 1 0 -23.2 0M1808.3 1190.1a11.6 11.6 0 1 0 23.2 0a11.6 11.6 0 1 0 -23.2 0M1812.5 1190.5a11.6 11.6 0 1 0 23.2 0a11.6 11.6 0 1 0 -23.2 0M1816.7 1191.0a11.6 11.6 0 1 0 23.2 0a11.6 11.6 0 1 0 -23.2 0M1820.7 1191.4a11.6 11.6 0 1 0 23.2 0a11.6 11.6 0 1 0 -23.2 0M1824.8 1191.9a11.6 11.6 0 1 0 23.2 0a11.6 11.6 0 1 0 -23.2 0M1828.7 1192.4a11.6 11.6 0 1 0 23.2 0a11.6 11.6 0 1 0 -23.2 0M1832.6 1192.9a11.6 11.6 0 1 0 23.2 0a11.6 11.6 0 1 0 -23.2 0M1836.4 1193.4a11.6 11.6 0 1 0 23.2 0a11.6 11.6 0 1 0 -23.2 0M1840.2 1193.9a11.6 11.6 0 1 0 23.2 0a11.6 11.6 0 1 0 -23.2 0M1844.0 1194.5a11.6 11.6 0 1 0 23.2 0a11.6 11.6 0 1 0 -23.2 0M1847.7 1195.1a11.6 11.6 0 1 0 23.2 0a11.6 11.6 0 1 0 -23.2 0M1851.3 1195.7a11.6 11.6 0 1 0 23.2 0a11.6 11.6 0 1 0 -23.2 0M1854.9 1196.3a11.6 11.6 0 1 0 23.2 0a11.6 11.6 0 1 0 -23.2 0M1858.4 1197.0a11.6 11.6 0 1 0 23.2 0a11.6 11.6 0 1 0 -23.2 0M1861.9 1197.7a11.6 11.6 0 1 0 23.2 0a11.6 11.6 0 1 0 -23.2 0M1865.4 1198.4a11.6 11.6 0 1 0 23.2 0a11.6 11.6 0 1 0 -23.2 0M1868.8 1199.1a11.6 11.6 0 1 0 23.2 0a11.6 11.6 0 1 0 -23.2 0M1872.2 1199.8a11.6 11.6 0 1 0 23.2 0a11.6 11.6 0 1 0 -23.2 0M1875.5 1200.5a11.6 11.6 0 1 0 23.2 0a11.6 11.6 0 1 0 -23.2 0M1878.8 1201.3a11.6 11.6 0 1 0 23.2 0a11.6 11.6 0 1 0 -23.2 0M1882.0 1202.0a11.6 11.6 0 1 0 23.2 0a11.6 11.6 0 1 0 -23.2 0M1885.2 1202.7a11.6 11.6 0 1 0 23.2 0a11.6 11.6 0 1 0 -23.2 0M1888.4 1203.5a11.6 11.6 0 1 0 23.2 0a11.6 11.6 0 1 0 -23.2 0M1891.5 1204.2a11.6 11.6 0 1 0 23.2 0a11.6 11.6 0 1 0 -23.2 0M1894.6 1205.0a11.6 11.6 0 1 0 23.2 0a11.6 11.6 0 1 0 -23.2 0M1897.7 1205.7a11.6 11.6 0 1 0 23.2 0a11.6 11.6 0 1 0 -23.2 0M1900.7 1206.5a11.6 11.6 0 1 0 23.2 0a11.6 11.6 0 1 0 -23.2 0M1903.7 1207.3a11.6 11.6 0 1 0 23.2 0a11.6 11.6 0 1 0 -23.2 0M1906.7 1208.1a11.6 11.6 0 1 0 23.2 0a11.6 11.6 0 1 0 -23.2 0M1909.6 1208.9a11.6 11.6 0 1 0 23.2 0a11.6 11.6 0 1 0 -23.2 0M1912.5 1209.7a11.6 11.6 0 1 0 23.2 0a11.6 11.6 0 1 0 -23.2 0M1915.4 1210.5a11.6 11.6 0 1 0 23.2 0a11.6 11.6 0 1 0 -23.2 0M1918.3 1211.3a11.6 11.6 0 1 0 23.2 0a11.6 11.6 0 1 0 -23.2 0M1921.1 1212.1a11.6 11.6 0 1 0 23.2 0a11.6 11.6 0 1 0 -23.2 0M1923.9 1212.9a11.6 11.6 0 1 0 23.2 0a11.6 11.6 0 1 0 -23.2 0M1926.6 1213.7a11.6 11.6 0 1 0 23.2 0a11.6 11.6 0 1 0 -23.2 0M1929.3 1214.5a11.6 11.6 0 1 0 23.2 0a11.6 11.6 0 1 0 -23.2 0M1932.0 1215.3a11.6 11.6 0 1 0 23.2 0a11.6 11.6 0 1 0 -23.2 0M1934.7 1216.2a11.6 11.6 0 1 0 23.2 0a11.6 11.6 0 1 0 -23.2 0M1937.4 1217.0a11.6 11.6 0 1 0 23.2 0a11.6 11.6 0 1 0 -23.2 0M1940.0 1217.8a11.6 11.6 0 1 0 23.2 0a11.6 11.6 0 1 0 -23.2 0M1942.6 1218.6a11.6 11.6 0 1 0 23.2 0a11.6 11.6 0 1 0 -23.2 0M1945.2 1219.5a11.6 11.6 0 1 0 23.2 0a11.6 11.6 0 1 0 -23.2 0M1947.7 1220.3a11.6 11.6 0 1 0 23.2 0a11.6 11.6 0 1 0 -23.2 0M1950.2 1221.1a11.6 11.6 0 1 0 23.2 0a11.6 11.6 0 1 0 -23.2 0M1952.8 1222.0a11.6 11.6 0 1 0 23.2 0a11.6 11.6 0 1 0 -23.2 0M1955.2 1222.8a11.6 11.6 0 1 0 23.2 0a11.6 11.6 0 1 0 -23.2 0M1957.7 1223.6a11.6 11.6 0 1 0 23.2 0a11.6 11.6 0 1 0 -23.2 0M1960.1 1224.4a11.6 11.6 0 1 0 23.2 0a11.6 11.6 0 1 0 -23.2 0M1962.5 1225.3a11.6 11.6 0 1 0 23.2 0a11.6 11.6 0 1 0 -23.2 0M1964.9 1226.1a11.6 11.6 0 1 0 23.2 0a11.6 11.6 0 1 0 -23.2 0M1967.3 1226.9a11.6 11.6 0 1 0 23.2 0a11.6 11.6 0 1 0 -23.2 0M1969.7 1227.7a11.6 11.6 0 1 0 23.2 0a11.6 11.6 0 1 0 -23.2 0M1972.0 1228.5a11.6 11.6 0 1 0 23.2 0a11.6 11.6 0 1 0 -23.2 0M1974.3 1229.3a11.6 11.6 0 1 0 23.2 0a11.6 11.6 0 1 0 -23.2 0M1976.6 1230.2a11.6 11.6 0 1 0 23.2 0a11.6 11.6 0 1 0 -23.2 0M1978.9 1231.0a11.6 11.6 0 1 0 23.2 0a11.6 11.6 0 1 0 -23.2 0M1981.1 1231.8a11.6 11.6 0 1 0 23.2 0a11.6 11.6 0 1 0 -23.2 0M1983.4 1232.6a11.6 11.6 0 1 0 23.2 0a11.6 11.6 0 1 0 -23.2 0M1985.6 1233.4a11.6 11.6 0 1 0 23.2 0a11.6 11.6 0 1 0 -23.2 0M1987.8 1234.2a11.6 11.6 0 1 0 23.2 0a11.6 11.6 0 1 0 -23.2 0M1990.0 1235.0a11.6 11.6 0 1 0 23.2 0a11.6 11.6 0 1 0 -23.2 0M1992.1 1235.8a11.6 11.6 0 1 0 23.2 0a11.6 11.6 0 1 0 -23.2 0M1994.3 1236.5a11.6 11.6 0 1 0 23.2 0a11.6 11.6 0 1 0 -23.2 0M1996.4 1237.3a11.6 11.6 0 1 0 23.2 0a11.6 11.6 0 1 0 -23.2 0M1998.5 1238.2a11.6 11.6 0 1 0 23.2 0a11.6 11.6 0 1 0 -23.2 0M2000.6 1239.0a11.6 11.6 0 1 0 23.2 0a11.6 11.6 0 1 0 -23.2 0M2002.7 1239.8a11.6 11.6 0 1 0 23.2 0a11.6 11.6 0 1 0 -23.2 0M2004.8 1240.6a11.6 11.6 0 1 0 23.2 0a11.6 11.6 0 1 0 -23.2 0M2006.8 1241.4a11.6 11.6 0 1 0 23.2 0a11.6 11.6 0 1 0 -23.2 0M2008.9 1242.3a11.6 11.6 0 1 0 23.2 0a11.6 11.6 0 1 0 -23.2 0M2010.9 1243.1a11.6 11.6 0 1 0 23.2 0a11.6 11.6 0 1 0 -23.2 0M2012.9 1243.9a11.6 11.6 0 1 0 23.2 0a11.6 11.6 0 1 0 -23.2 0M2014.9 1244.8a11.6 11.6 0 1 0 23.2 0a11.6 11.6 0 1 0 -23.2 0M2016.9 1245.6a11.6 11.6 0 1 0 23.2 0a11.6 11.6 0 1 0 -23.2 0M2018.8 1246.4a11.6 11.6 0 1 0 23.2 0a11.6 11.6 0 1 0 -23.2 0M2020.8 1247.3a11.6 11.6 0 1 0 23.2 0a11.6 11.6 0 1 0 -23.2 0M2022.7 1248.1a11.6 11.6 0 1 0 23.2 0a11.6 11.6 0 1 0 -23.2 0M2024.7 1249.0a11.6 11.6 0 1 0 23.2 0a11.6 11.6 0 1 0 -23.2 0M2026.6 1249.8a11.6 11.6 0 1 0 23.2 0a11.6 11.6 0 1 0 -23.2 0M2028.5 1250.7a11.6 11.6 0 1 0 23.2 0a11.6 11.6 0 1 0 -23.2 0M2030.3 1251.5a11.6 11.6 0 1 0 23.2 0a11.6 11.6 0 1 0 -23.2 0M2032.2 1252.3a11.6 11.6 0 1 0 23.2 0a11.6 11.6 0 1 0 -23.2 0M2034.1 1253.2a11.6 11.6 0 1 0 23.2 0a11.6 11.6 0 1 0 -23.2 0M2035.9 1254.0a11.6 11.6 0 1 0 23.2 0a11.6 11.6 0 1 0 -23.2 0M2037.7 1254.8a11.6 11.6 0 1 0 23.2 0a11.6 11.6 0 1 0 -23.2 0M2039.6 1255.7a11.6 11.6 0 1 0 23.2 0a11.6 11.6 0 1 0 -23.2 0M2041.4 1256.5a11.6 11.6 0 1 0 23.2 0a11.6 11.6 0 1 0 -23.2 0M2043.2 1257.3a11.6 11.6 0 1 0 23.2 0a11.6 11.6 0 1 0 -23.2 0M2045.0 1258.1a11.6 11.6 0 1 0 23.2 0a11.6 11.6 0 1 0 -23.2 0M2046.7 1259.0a11.6 11.6 0 1 0 23.2 0a11.6 11.6 0 1 0 -23.2 0M2048.5 1259.8a11.6 11.6 0 1 0 23.2 0a11.6 11.6 0 1 0 -23.2 0M2050.2 1260.6a11.6 11.6 0 1 0 23.2 0a11.6 11.6 0 1 0 -23.2 0M2052.0 1261.4a11.6 11.6 0 1 0 23.2 0a11.6 11.6 0 1 0 -23.2 0M2053.7 1262.2a11.6 11.6 0 1 0 23.2 0a11.6 11.6 0 1 0 -23.2 0M2055.4 1263.0a11.6 11.6 0 1 0 23.2 0a11.6 11.6 0 1 0 -23.2 0M2057.1 1263.8a11.6 11.6 0 1 0 23.2 0a11.6 11.6 0 1 0 -23.2 0M2058.8 1264.6a11.6 11.6 0 1 0 23.2 0a11.6 11.6 0 1 0 -23.2 0M2060.5 1265.4a11.6 11.6 0 1 0 23.2 0a11.6 11.6 0 1 0 -23.2 0M2062.2 1266.2a11.6 11.6 0 1 0 23.2 0a11.6 11.6 0 1 0 -23.2 0M2063.8 1267.0a11.6 11.6 0 1 0 23.2 0a11.6 11.6 0 1 0 -23.2 0M2065.5 1267.8a11.6 11.6 0 1 0 23.2 0a11.6 11.6 0 1 0 -23.2 0M2067.1 1268.6a11.6 11.6 0 1 0 23.2 0a11.6 11.6 0 1 0 -23.2 0M2068.8 1269.4a11.6 11.6 0 1 0 23.2 0a11.6 11.6 0 1 0 -23.2 0M2070.4 1270.2a11.6 11.6 0 1 0 23.2 0a11.6 11.6 0 1 0 -23.2 0M2072.0 1271.1a11.6 11.6 0 1 0 23.2 0a11.6 11.6 0 1 0 -23.2 0M2073.6 1271.9a11.6 11.6 0 1 0 23.2 0a11.6 11.6 0 1 0 -23.2 0M2075.2 1272.7a11.6 11.6 0 1 0 23.2 0a11.6 11.6 0 1 0 -23.2 0M2076.8 1273.5a11.6 11.6 0 1 0 23.2 0a11.6 11.6 0 1 0 -23.2 0M2078.4 1274.3a11.6 11.6 0 1 0 23.2 0a11.6 11.6 0 1 0 -23.2 0M2080.0 1275.1a11.6 11.6 0 1 0 23.2 0a11.6 11.6 0 1 0 -23.2 0M2081.5 1275.9a11.6 11.6 0 1 0 23.2 0a11.6 11.6 0 1 0 -23.2 0M2083.1 1276.7a11.6 11.6 0 1 0 23.2 0a11.6 11.6 0 1 0 -23.2 0M2084.6 1277.5a11.6 11.6 0 1 0 23.2 0a11.6 11.6 0 1 0 -23.2 0M2086.1 1278.4a11.6 11.6 0 1 0 23.2 0a11.6 11.6 0 1 0 -23.2 0M2087.7 1279.2a11.6 11.6 0 1 0 23.2 0a11.6 11.6 0 1 0 -23.2 0M2089.2 1280.0a11.6 11.6 0 1 0 23.2 0a11.6 11.6 0 1 0 -23.2 0M2090.7 1280.8a11.6 11.6 0 1 0 23.2 0a11.6 11.6 0 1 0 -23.2 0M2092.2 1281.7a11.6 11.6 0 1 0 23.2 0a11.6 11.6 0 1 0 -23.2 0M2093.7 1282.5a11.6 11.6 0 1 0 23.2 0a11.6 11.6 0 1 0 -23.2 0M2095.2 1283.3a11.6 11.6 0 1 0 23.2 0a11.6 11.6 0 1 0 -23.2 0M2096.7 1284.2a11.6 11.6 0 1 0 23.2 0a11.6 11.6 0 1 0 -23.2 0M2098.1 1285.0a11.6 11.6 0 1 0 23.2 0a11.6 11.6 0 1 0 -23.2 0M2099.6 1285.9a11.6 11.6 0 1 0 23.2 0a11.6 11.6 0 1 0 -23.2 0M2101.0 1286.7a11.6 11.6 0 1 0 23.2 0a11.6 11.6 0 1 0 -23.2 0M2102.5 1287.6a11.6 11.6 0 1 0 23.2 0a11.6 11.6 0 1 0 -23.2 0M2103.9 1288.5a11.6 11.6 0 1 0 23.2 0a11.6 11.6 0 1 0 -23.2 0M2105.3 1289.3a11.6 11.6 0 1 0 23.2 0a11.6 11.6 0 1 0 -23.2 0M2106.8 1290.2a11.6 11.6 0 1 0 23.2 0a11.6 11.6 0 1 0 -23.2 0M2108.2 1291.1a11.6 11.6 0 1 0 23.2 0a11.6 11.6 0 1 0 -23.2 0M2109.6 1291.9a11.6 11.6 0 1 0 23.2 0a11.6 11.6 0 1 0 -23.2 0M2111.0 1292.8a11.6 11.6 0 1 0 23.2 0a11.6 11.6 0 1 0 -23.2 0M2112.4 1293.7a11.6 11.6 0 1 0 23.2 0a11.6 11.6 0 1 0 -23.2 0M2113.8 1294.6a11.6 11.6 0 1 0 23.2 0a11.6 11.6 0 1 0 -23.2 0M2115.1 1295.5a11.6 11.6 0 1 0 23.2 0a11.6 11.6 0 1 0 -23.2 0M2116.5 1296.4a11.6 11.6 0 1 0 23.2 0a11.6 11.6 0 1 0 -23.2 0M2117.9 1297.2a11.6 11.6 0 1 0 23.2 0a11.6 11.6 0 1 0 -23.2 0M2119.2 1298.1a11.6 11.6 0 1 0 23.2 0a11.6 11.6 0 1 0 -23.2 0M2120.6 1299.0a11.6 11.6 0 1 0 23.2 0a11.6 11.6 0 1 0 -23.2 0M2121.9 1299.9a11.6 11.6 0 1 0 23.2 0a11.6 11.6 0 1 0 -23.2 0M2123.3 1300.8a11.6 11.6 0 1 0 23.2 0a11.6 11.6 0 1 0 -23.2 0M2124.6 1301.7a11.6 11.6 0 1 0 23.2 0a11.6 11.6 0 1 0 -23.2 0M2125.9 1302.6a11.6 11.6 0 1 0 23.2 0a11.6 11.6 0 1 0 -23.2 0M2127.3 1303.5a11.6 11.6 0 1 0 23.2 0a11.6 11.6 0 1 0 -23.2 0M2128.6 1304.4a11.6 11.6 0 1 0 23.2 0a11.6 11.6 0 1 0 -23.2 0M2129.9 1305.2a11.6 11.6 0 1 0 23.2 0a11.6 11.6 0 1 0 -23.2 0M2131.2 1306.1a11.6 11.6 0 1 0 23.2 0a11.6 11.6 0 1 0 -23.2 0M2132.5 1307.0a11.6 11.6 0 1 0 23.2 0a11.6 11.6 0 1 0 -23.2 0M2133.8 1307.9a11.6 11.6 0 1 0 23.2 0a11.6 11.6 0 1 0 -23.2 0M2135.0 1308.8a11.6 11.6 0 1 0 23.2 0a11.6 11.6 0 1 0 -23.2 0M2136.3 1309.6a11.6 11.6 0 1 0 23.2 0a11.6 11.6 0 1 0 -23.2 0M2137.6 1310.5a11.6 11.6 0 1 0 23.2 0a11.6 11.6 0 1 0 -23.2 0M2138.8 1311.4a11.6 11.6 0 1 0 23.2 0a11.6 11.6 0 1 0 -23.2 0M2140.1 1312.3a11.6 11.6 0 1 0 23.2 0a11.6 11.6 0 1 0 -23.2 0M2141.4 1313.1a11.6 11.6 0 1 0 23.2 0a11.6 11.6 0 1 0 -23.2 0M2142.6 1314.0a11.6 11.6 0 1 0 23.2 0a11.6 11.6 0 1 0 -23.2 0M2143.8 1314.9a11.6 11.6 0 1 0 23.2 0a11.6 11.6 0 1 0 -23.2 0M2145.1 1315.7a11.6 11.6 0 1 0 23.2 0a11.6 11.6 0 1 0 -23.2 0M2146.3 1316.6a11.6 11.6 0 1 0 23.2 0a11.6 11.6 0 1 0 -23.2 0M2147.5 1317.4a11.6 11.6 0 1 0 23.2 0a11.6 11.6 0 1 0 -23.2 0M2148.8 1318.3a11.6 11.6 0 1 0 23.2 0a11.6 11.6 0 1 0 -23.2 0M2150.0 1319.2a11.6 11.6 0 1 0 23.2 0a11.6 11.6 0 1 0 -23.2 0M2151.2 1320.0a11.6 11.6 0 1 0 23.2 0a11.6 11.6 0 1 0 -23.2 0M2152.4 1320.9a11.6 11.6 0 1 0 23.2 0a11.6 11.6 0 1 0 -23.2 0M2153.6 1321.8a11.6 11.6 0 1 0 23.2 0a11.6 11.6 0 1 0 -23.2 0M2154.8 1322.7a11.6 11.6 0 1 0 23.2 0a11.6 11.6 0 1 0 -23.2 0M2156.0 1323.6a11.6 11.6 0 1 0 23.2 0a11.6 11.6 0 1 0 -23.2 0M2157.1 1324.4a11.6 11.6 0 1 0 23.2 0a11.6 11.6 0 1 0 -23.2 0M2158.3 1325.3a11.6 11.6 0 1 0 23.2 0a11.6 11.6 0 1 0 -23.2 0M2159.5 1326.2a11.6 11.6 0 1 0 23.2 0a11.6 11.6 0 1 0 -23.2 0M2160.7 1327.1a11.6 11.6 0 1 0 23.2 0a11.6 11.6 0 1 0 -23.2 0M2161.8 1328.0a11.6 11.6 0 1 0 23.2 0a11.6 11.6 0 1 0 -23.2 0M2163.0 1328.8a11.6 11.6 0 1 0 23.2 0a11.6 11.6 0 1 0 -23.2 0M2164.1 1329.7a11.6 11.6 0 1 0 23.2 0a11.6 11.6 0 1 0 -23.2 0M2165.3 1330.6a11.6 11.6 0 1 0 23.2 0a11.6 11.6 0 1 0 -23.2 0M2166.4 1331.5a11.6 11.6 0 1 0 23.2 0a11.6 11.6 0 1 0 -23.2 0M2167.6 1332.3a11.6 11.6 0 1 0 23.2 0a11.6 11.6 0 1 0 -23.2 0M2168.7 1333.2a11.6 11.6 0 1 0 23.2 0a11.6 11.6 0 1 0 -23.2 0M2169.8 1334.1a11.6 11.6 0 1 0 23.2 0a11.6 11.6 0 1 0 -23.2 0M2170.9 1334.9a11.6 11.6 0 1 0 23.2 0a11.6 11.6 0 1 0 -23.2 0M2172.1 1335.8a11.6 11.6 0 1 0 23.2 0a11.6 11.6 0 1 0 -23.2 0M2173.2 1336.6a11.6 11.6 0 1 0 23.2 0a11.6 11.6 0 1 0 -23.2 0M2174.3 1337.5a11.6 11.6 0 1 0 23.2 0a11.6 11.6 0 1 0 -23.2 0M2175.4 1338.3a11.6 11.6 0 1 0 23.2 0a11.6 11.6 0 1 0 -23.2 0M2176.5 1339.1a11.6 11.6 0 1 0 23.2 0a11.6 11.6 0 1 0 -23.2 0M2177.6 1340.0a11.6 11.6 0 1 0 23.2 0a11.6 11.6 0 1 0 -23.2 0M2178.7 1340.8a11.6 11.6 0 1 0 23.2 0a11.6 11.6 0 1 0 -23.2 0M2179.8 1341.6a11.6 11.6 0 1 0 23.2 0a11.6 11.6 0 1 0 -23.2 0M2180.8 1342.4a11.6 11.6 0 1 0 23.2 0a11.6 11.6 0 1 0 -23.2 0M2181.9 1343.2a11.6 11.6 0 1 0 23.2 0a11.6 11.6 0 1 0 -23.2 0M2183.0 1344.0a11.6 11.6 0 1 0 23.2 0a11.6 11.6 0 1 0 -23.2 0M2184.1 1344.8a11.6 11.6 0 1 0 23.2 0a11.6 11.6 0 1 0 -23.2 0M2185.1 1345.5a11.6 11.6 0 1 0 23.2 0a11.6 11.6 0 1 0 -23.2 0M2186.2 1346.3a11.6 11.6 0 1 0 23.2 0a11.6 11.6 0 1 0 -23.2 0M2187.3 1347.1a11.6 11.6 0 1 0 23.2 0a11.6 11.6 0 1 0 -23.2 0M2188.3 1347.9a11.6 11.6 0 1 0 23.2 0a11.6 11.6 0 1 0 -23.2 0M2189.4 1348.6a11.6 11.6 0 1 0 23.2 0a11.6 11.6 0 1 0 -23.2 0M2190.4 1349.4a11.6 11.6 0 1 0 23.2 0a11.6 11.6 0 1 0 -23.2 0M2191.5 1350.2a11.6 11.6 0 1 0 23.2 0a11.6 11.6 0 1 0 -23.2 0M2192.5 1351.0a11.6 11.6 0 1 0 23.2 0a11.6 11.6 0 1 0 -23.2 0M2193.5 1351.7a11.6 11.6 0 1 0 23.2 0a11.6 11.6 0 1 0 -23.2 0M2194.6 1352.5a11.6 11.6 0 1 0 23.2 0a11.6 11.6 0 1 0 -23.2 0M2195.6 1353.2a11.6 11.6 0 1 0 23.2 0a11.6 11.6 0 1 0 -23.2 0M2196.6 1354.0a11.6 11.6 0 1 0 23.2 0a11.6 11.6 0 1 0 -23.2 0M2197.6 1354.7a11.6 11.6 0 1 0 23.2 0a11.6 11.6 0 1 0 -23.2 0M2198.6 1355.4a11.6 11.6 0 1 0 23.2 0a11.6 11.6 0 1 0 -23.2 0M2199.7 1356.2a11.6 11.6 0 1 0 23.2 0a11.6 11.6 0 1 0 -23.2 0M2200.7 1356.9a11.6 11.6 0 1 0 23.2 0a11.6 11.6 0 1 0 -23.2 0M2201.7 1357.6a11.6 11.6 0 1 0 23.2 0a11.6 11.6 0 1 0 -23.2 0M2202.7 1358.3a11.6 11.6 0 1 0 23.2 0a11.6 11.6 0 1 0 -23.2 0M2203.7 1358.9a11.6 11.6 0 1 0 23.2 0a11.6 11.6 0 1 0 -23.2 0M2204.7 1359.6a11.6 11.6 0 1 0 23.2 0a11.6 11.6 0 1 0 -23.2 0M2205.6 1360.2a11.6 11.6 0 1 0 23.2 0a11.6 11.6 0 1 0 -23.2 0M2206.6 1360.9a11.6 11.6 0 1 0 23.2 0a11.6 11.6 0 1 0 -23.2 0M2207.6 1361.5a11.6 11.6 0 1 0 23.2 0a11.6 11.6 0 1 0 -23.2 0M2208.6 1362.1a11.6 11.6 0 1 0 23.2 0a11.6 11.6 0 1 0 -23.2 0M2209.6 1362.7a11.6 11.6 0 1 0 23.2 0a11.6 11.6 0 1 0 -23.2 0M2210.5 1363.3a11.6 11.6 0 1 0 23.2 0a11.6 11.6 0 1 0 -23.2 0M2211.5 1363.9a11.6 11.6 0 1 0 23.2 0a11.6 11.6 0 1 0 -23.2 0M2212.5 1364.5a11.6 11.6 0 1 0 23.2 0a11.6 11.6 0 1 0 -23.2 0M2213.4 1365.0a11.6 11.6 0 1 0 23.2 0a11.6 11.6 0 1 0 -23.2 0M2214.4 1365.6a11.6 11.6 0 1 0 23.2 0a11.6 11.6 0 1 0 -23.2 0M2215.3 1366.1a11.6 11.6 0 1 0 23.2 0a11.6 11.6 0 1 0 -23.2 0M2216.3 1366.7a11.6 11.6 0 1 0 23.2 0a11.6 11.6 0 1 0 -23.2 0M2217.2 1367.2a11.6 11.6 0 1 0 23.2 0a11.6 11.6 0 1 0 -23.2 0M2218.2 1367.7a11.6 11.6 0 1 0 23.2 0a11.6 11.6 0 1 0 -23.2 0M2219.1 1368.2a11.6 11.6 0 1 0 23.2 0a11.6 11.6 0 1 0 -23.2 0M2220.1 1368.7a11.6 11.6 0 1 0 23.2 0a11.6 11.6 0 1 0 -23.2 0M2221.0 1369.2a11.6 11.6 0 1 0 23.2 0a11.6 11.6 0 1 0 -23.2 0M2221.9 1367.2a11.6 11.6 0 1 0 23.2 0a11.6 11.6 0 1 0 -23.2 0M2222.9 1368.1a11.6 11.6 0 1 0 23.2 0a11.6 11.6 0 1 0 -23.2 0M2223.8 1359.3a11.6 11.6 0 1 0 23.2 0a11.6 11.6 0 1 0 -23.2 0M2224.7 1357.8a11.6 11.6 0 1 0 23.2 0a11.6 11.6 0 1 0 -23.2 0M2225.6 1333.8a11.6 11.6 0 1 0 23.2 0a11.6 11.6 0 1 0 -23.2 0" fill="#bababa"/>
<path d="M1394.2 1168.0V1173.2M1413.6 1168.3V1173.6M1431.7 1168.6V1174.0M1448.7 1168.9V1174.4M1464.7 1169.2V1174.7M1479.8 1169.5V1175.1M1494.1 1169.8V1175.4M1507.7 1170.1V1175.7M1520.6 1170.4V1176.1M1533.0 1170.6V1176.4M1544.8 1170.9V1176.7M1556.2 1171.2V1177.0M1567.1 1171.5V1177.4M1577.5 1171.8V1177.7M1587.6 1172.1V1178.0M1597.3 1172.4V1178.4M1606.7 1172.7V1178.7M1615.8 1173.0V1179.1M1624.6 1173.3V1179.4M1633.1 1173.7V1179.8M1641.3 1174.0V1180.2M1649.4 1174.3V1180.5M1657.1 1174.7V1180.9M1664.7 1175.0V1181.2M1672.1 1175.3V1181.6M1679.2 1175.7V1182.0M1686.2 1176.0V1182.4M1693.1 1176.4V1182.7M1699.7 1176.7V1183.1M1706.2 1177.1V1183.5M1712.5 1177.5V1183.9M1718.7 1177.8V1184.3M1724.8 1178.2V1184.7M1730.7 1178.6V1185.1M1736.5 1178.9V1185.5M1742.2 1179.3V1185.9M1747.8 1179.7V1186.3M1753.2 1180.1V1186.7M1758.6 1180.5V1187.1M1763.8 1181.0V1187.6M1768.9 1181.4V1188.0M1774.0 1181.9V1188.5M1778.9 1182.4V1189.1M1783.8 1182.9V1189.6M1788.6 1183.4V1190.1M1793.3 1184.0V1190.7M1797.9 1184.5V1191.2M1802.5 1184.9V1191.7M1806.9 1185.4V1192.2M1811.3 1185.8V1192.6M1815.7 1186.3V1193.1M1819.9 1186.7V1193.5M1824.1 1187.1V1194.0M1828.3 1187.6V1194.4M1832.3 1188.0V1194.9M1836.4 1188.5V1195.4M1840.3 1189.0V1195.8M1844.2 1189.4V1196.3M1848.0 1190.0V1196.9M1851.8 1190.5V1197.4M1855.6 1191.0V1198.0M1859.3 1191.6V1198.6M1862.9 1192.2V1199.2M1866.5 1192.9V1199.9M1870.0 1193.5V1200.5M1873.5 1194.2V1201.2M1877.0 1194.9V1201.9M1880.4 1195.6V1202.6M1883.8 1196.3V1203.4M1887.1 1197.0V1204.1M1890.4 1197.8V1204.8M1893.6 1198.5V1205.6M1896.8 1199.2V1206.3M1900.0 1200.0V1207.1M1903.1 1200.7V1207.8M1906.2 1201.5V1208.6M1909.3 1202.2V1209.4M1912.3 1203.0V1210.1M1915.3 1203.7V1210.9M1918.3 1204.5V1211.7M1921.2 1205.3V1212.5M1924.1 1206.1V1213.3M1927.0 1206.9V1214.1M1929.9 1207.7V1214.9M1932.7 1208.5V1215.7M1935.5 1209.3V1216.6M1938.2 1210.1V1217.4M1940.9 1210.9V1218.2M1943.6 1211.8V1219.0M1946.3 1212.6V1219.9M1949.0 1213.4V1220.7M1951.6 1214.2V1221.5M1954.2 1215.0V1222.4M1956.8 1215.9V1223.2M1959.3 1216.7V1224.0M1961.8 1217.5V1224.9M1964.4 1218.3V1225.7M1966.8 1219.2V1226.5M1969.3 1220.0V1227.3M1971.7 1220.8V1228.2M1974.1 1221.6V1229.0M1976.5 1222.4V1229.8M1978.9 1223.2V1230.7M1981.3 1224.1V1231.5M1983.6 1224.9V1232.3M1985.9 1225.7V1233.1M1988.2 1226.5V1233.9M1990.5 1227.3V1234.7M1992.7 1228.1V1235.6M1995.0 1228.9V1236.4M1997.2 1229.7V1237.2M1999.4 1230.5V1238.0M2001.6 1231.3V1238.8M2003.7 1232.1V1239.6M2005.9 1232.9V1240.4M2008.0 1233.6V1241.2M2010.1 1234.4V1242.0M2012.2 1235.3V1242.8M2014.3 1236.1V1243.6M2016.4 1236.9V1244.4M2018.4 1237.7V1245.3M2020.5 1238.5V1246.1M2022.5 1239.4V1246.9M2024.5 1240.2V1247.8M2026.5 1241.0V1248.6M2028.5 1241.9V1249.5M2030.4 1242.7V1250.3M2032.4 1243.5V1251.1M2034.3 1244.4V1252.0M2036.3 1245.2V1252.8M2038.2 1246.1V1253.7M2040.1 1246.9V1254.5M2041.9 1247.7V1255.4M2043.8 1248.6V1256.2M2045.7 1249.4V1257.1M2047.5 1250.2V1257.9M2049.3 1251.1V1258.7M2051.2 1251.9V1259.6M2053.0 1252.7V1260.4M2054.8 1253.5V1261.2M2056.6 1254.3V1262.0M2058.3 1255.2V1262.9M2060.1 1256.0V1263.7M2061.8 1256.8V1264.5M2063.6 1257.6V1265.3M2065.3 1258.4V1266.1M2067.0 1259.2V1266.9M2068.7 1260.0V1267.7M2070.4 1260.8V1268.5M2072.1 1261.6V1269.4M2073.8 1262.4V1270.2M2075.4 1263.2V1271.0M2077.1 1264.0V1271.8M2078.7 1264.8V1272.6M2080.4 1265.6V1273.4M2082.0 1266.4V1274.2M2083.6 1267.2V1275.0M2085.2 1268.0V1275.8M2086.8 1268.8V1276.6M2088.4 1269.6V1277.4M2090.0 1270.4V1278.3M2091.6 1271.2V1279.1M2093.1 1272.1V1279.9M2094.7 1272.9V1280.7M2096.2 1273.7V1281.5M2097.7 1274.5V1282.3M2099.3 1275.3V1283.2M2100.8 1276.1V1284.1M2102.3 1276.8V1285.0M2103.8 1277.5V1286.0M2105.3 1278.2V1286.9M2106.8 1279.0V1287.9M2108.3 1279.7V1288.8M2109.7 1280.4V1289.8M2111.2 1281.2V1290.8M2112.6 1281.9V1291.7M2114.1 1282.7V1292.7M2115.5 1283.4V1293.7M2116.9 1284.2V1294.7M2118.4 1284.9V1295.7M2119.8 1285.7V1296.7M2121.2 1286.5V1297.7M2122.6 1287.2V1298.7M2124.0 1288.0V1299.7M2125.4 1288.8V1300.6M2126.7 1289.6V1301.6M2128.1 1290.4V1302.6M2129.5 1291.2V1303.6M2130.8 1291.9V1304.6M2132.2 1292.7V1305.6M2133.5 1293.5V1306.6M2134.9 1294.3V1307.6M2136.2 1295.1V1308.6M2137.5 1295.9V1309.6M2138.9 1296.7V1310.6M2140.2 1297.5V1311.6M2141.5 1298.2V1312.6M2142.8 1299.0V1313.6M2144.1 1299.8V1314.6M2145.4 1300.6V1315.6M2146.6 1301.4V1316.6M2147.9 1302.2V1317.6M2149.2 1303.0V1318.5M2150.4 1303.6V1319.6M2151.7 1304.2V1320.9M2153.0 1304.7V1322.2M2154.2 1305.2V1323.4M2155.4 1305.7V1324.7M2156.7 1306.2V1325.9M2157.9 1306.8V1327.2M2159.1 1307.3V1328.4M2160.4 1307.8V1329.7M2161.6 1308.4V1330.9M2162.8 1308.9V1332.2M2164.0 1309.5V1333.5M2165.2 1310.0V1334.7M2166.4 1310.6V1336.0M2167.6 1311.1V1337.3M2168.7 1311.7V1338.5M2169.9 1312.3V1339.8M2171.1 1312.8V1341.1M2172.3 1313.4V1342.3M2173.4 1314.0V1343.6M2174.6 1314.6V1344.9M2175.7 1315.1V1346.1M2176.9 1315.7V1347.4M2178.0 1316.3V1342.7M2179.2 1316.8V1343.7M2180.3 1317.4V1344.7M2181.4 1318.0V1345.7M2182.5 1318.6V1346.7M2183.7 1319.1V1347.7M2184.8 1319.7V1348.8M2185.9 1320.2V1349.8M2187.0 1320.8V1350.8M2188.1 1321.3V1351.7M2189.2 1321.9V1352.7M2190.3 1322.3V1353.7M2191.4 1322.4V1354.7M2192.4 1322.6V1355.7M2193.5 1322.7V1356.7M2194.6 1322.8V1357.6M2195.7 1322.9V1358.6M2196.7 1323.0V1359.6M2197.8 1323.1V1360.6M2198.9 1323.3V1361.7M2199.9 1323.4V1362.7M2201.0 1323.5V1363.7M2202.0 1323.7V1364.7M2203.1 1323.8V1365.7M2204.1 1324.0V1366.8M2205.1 1324.1V1367.8M2206.2 1324.3V1368.8M2207.2 1324.4V1369.8M2208.2 1324.6V1370.7M2209.2 1324.7V1371.7M2210.2 1324.8V1372.7M2211.3 1325.0V1373.7M2212.3 1325.1V1374.7M2213.3 1325.2V1375.7M2214.3 1325.3V1376.6M2215.3 1325.3V1377.6M2216.3 1324.6V1378.6M2217.2 1324.0V1380.4M2218.2 1323.4V1382.3M2219.2 1322.8V1384.3M2220.2 1322.2V1386.2M2221.2 1321.6V1388.2M2222.1 1321.0V1390.1M2223.1 1320.2V1392.1M2224.1 1319.4V1394.0M2225.0 1318.6V1395.9M2226.0 1317.9V1397.8M2226.9 1317.1V1399.7M2227.9 1316.4V1402.1M2228.8 1315.7V1405.3M2229.8 1314.9V1408.5M2230.7 1314.4V1411.6M2231.7 1313.9V1414.8M2232.6 1313.4V1417.9M2233.5 1325.0V1430.0M2234.5 1320.0V1445.0M2235.4 1318.0V1420.0M2236.3 1297.0V1474.8M2237.2 1257.3V1541.0" stroke="#bababa" stroke-width="3.5" fill="none"/>
<path d="M1381.7 1168.0h25M1381.7 1173.2h25M1401.1 1168.3h25M1401.1 1173.6h25M1419.2 1168.6h25M1419.2 1174.0h25M1436.2 1168.9h25M1436.2 1174.4h25M1452.2 1169.2h25M1452.2 1174.7h25M1467.3 1169.5h25M1467.3 1175.1h25M1481.6 1169.8h25M1481.6 1175.4h25M1495.2 1170.1h25M1495.2 1175.7h25M1508.1 1170.4h25M1508.1 1176.1h25M1520.5 1170.6h25M1520.5 1176.4h25M1532.3 1170.9h25M1532.3 1176.7h25M1543.7 1171.2h25M1543.7 1177.0h25M1554.6 1171.5h25M1554.6 1177.4h25M1565.0 1171.8h25M1565.0 1177.7h25M1575.1 1172.1h25M1575.1 1178.0h25M1584.8 1172.4h25M1584.8 1178.4h25M1594.2 1172.7h25M1594.2 1178.7h25M1603.3 1173.0h25M1603.3 1179.1h25M1612.1 1173.3h25M1612.1 1179.4h25M1620.6 1173.7h25M1620.6 1179.8h25M1628.8 1174.0h25M1628.8 1180.2h25M1636.9 1174.3h25M1636.9 1180.5h25M1644.6 1174.7h25M1644.6 1180.9h25M1652.2 1175.0h25M1652.2 1181.2h25M1659.6 1175.3h25M1659.6 1181.6h25M1666.7 1175.7h25M1666.7 1182.0h25M1673.7 1176.0h25M1673.7 1182.4h25M1680.6 1176.4h25M1680.6 1182.7h25M1687.2 1176.7h25M1687.2 1183.1h25M1693.7 1177.1h25M1693.7 1183.5h25M1700.0 1177.5h25M1700.0 1183.9h25M1706.2 1177.8h25M1706.2 1184.3h25M1712.3 1178.2h25M1712.3 1184.7h25M1718.2 1178.6h25M1718.2 1185.1h25M1724.0 1178.9h25M1724.0 1185.5h25M1729.7 1179.3h25M1729.7 1185.9h25M1735.3 1179.7h25M1735.3 1186.3h25M1740.7 1180.1h25M1740.7 1186.7h25M1746.1 1180.5h25M1746.1 1187.1h25M1751.3 1181.0h25M1751.3 1187.6h25M1756.4 1181.4h25M1756.4 1188.0h25M1761.5 1181.9h25M1761.5 1188.5h25M1766.4 1182.4h25M1766.4 1189.1h25M1771.3 1182.9h25M1771.3 1189.6h25M1776.1 1183.4h25M1776.1 1190.1h25M1780.8 1184.0h25M1780.8 1190.7h25M1785.4 1184.5h25M1785.4 1191.2h25M1790.0 1184.9h25M1790.0 1191.7h25M1794.4 1185.4h25M1794.4 1192.2h25M1798.8 1185.8h25M1798.8 1192.6h25M1803.2 1186.3h25M1803.2 1193.1h25M1807.4 1186.7h25M1807.4 1193.5h25M1811.6 1187.1h25M1811.6 1194.0h25M1815.8 1187.6h25M1815.8 1194.4h25M1819.8 1188.0h25M1819.8 1194.9h25M1823.9 1188.5h25M1823.9 1195.4h25M1827.8 1189.0h25M1827.8 1195.8h25M1831.7 1189.4h25M1831.7 1196.3h25M1835.5 1190.0h25M1835.5 1196.9h25M1839.3 1190.5h25M1839.3 1197.4h25M1843.1 1191.0h25M1843.1 1198.0h25M1846.8 1191.6h25M1846.8 1198.6h25M1850.4 1192.2h25M1850.4 1199.2h25M1854.0 1192.9h25M1854.0 1199.9h25M1857.5 1193.5h25M1857.5 1200.5h25M1861.0 1194.2h25M1861.0 1201.2h25M1864.5 1194.9h25M1864.5 1201.9h25M1867.9 1195.6h25M1867.9 1202.6h25M1871.3 1196.3h25M1871.3 1203.4h25M1874.6 1197.0h25M1874.6 1204.1h25M1877.9 1197.8h25M1877.9 1204.8h25M1881.1 1198.5h25M1881.1 1205.6h25M1884.3 1199.2h25M1884.3 1206.3h25M1887.5 1200.0h25M1887.5 1207.1h25M1890.6 1200.7h25M1890.6 1207.8h25M1893.7 1201.5h25M1893.7 1208.6h25M1896.8 1202.2h25M1896.8 1209.4h25M1899.8 1203.0h25M1899.8 1210.1h25M1902.8 1203.7h25M1902.8 1210.9h25M1905.8 1204.5h25M1905.8 1211.7h25M1908.7 1205.3h25M1908.7 1212.5h25M1911.6 1206.1h25M1911.6 1213.3h25M1914.5 1206.9h25M1914.5 1214.1h25M1917.4 1207.7h25M1917.4 1214.9h25M1920.2 1208.5h25M1920.2 1215.7h25M1923.0 1209.3h25M1923.0 1216.6h25M1925.7 1210.1h25M1925.7 1217.4h25M1928.4 1210.9h25M1928.4 1218.2h25M1931.1 1211.8h25M1931.1 1219.0h25M1933.8 1212.6h25M1933.8 1219.9h25M1936.5 1213.4h25M1936.5 1220.7h25M1939.1 1214.2h25M1939.1 1221.5h25M1941.7 1215.0h25M1941.7 1222.4h25M1944.3 1215.9h25M1944.3 1223.2h25M1946.8 1216.7h25M1946.8 1224.0h25M1949.3 1217.5h25M1949.3 1224.9h25M1951.9 1218.3h25M1951.9 1225.7h25M1954.3 1219.2h25M1954.3 1226.5h25M1956.8 1220.0h25M1956.8 1227.3h25M1959.2 1220.8h25M1959.2 1228.2h25M1961.6 1221.6h25M1961.6 1229.0h25M1964.0 1222.4h25M1964.0 1229.8h25M1966.4 1223.2h25M1966.4 1230.7h25M1968.8 1224.1h25M1968.8 1231.5h25M1971.1 1224.9h25M1971.1 1232.3h25M1973.4 1225.7h25M1973.4 1233.1h25M1975.7 1226.5h25M1975.7 1233.9h25M1978.0 1227.3h25M1978.0 1234.7h25M1980.2 1228.1h25M1980.2 1235.6h25M1982.5 1228.9h25M1982.5 1236.4h25M1984.7 1229.7h25M1984.7 1237.2h25M1986.9 1230.5h25M1986.9 1238.0h25M1989.1 1231.3h25M1989.1 1238.8h25M1991.2 1232.1h25M1991.2 1239.6h25M1993.4 1232.9h25M1993.4 1240.4h25M1995.5 1233.6h25M1995.5 1241.2h25M1997.6 1234.4h25M1997.6 1242.0h25M1999.7 1235.3h25M1999.7 1242.8h25M2001.8 1236.1h25M2001.8 1243.6h25M2003.9 1236.9h25M2003.9 1244.4h25M2005.9 1237.7h25M2005.9 1245.3h25M2008.0 1238.5h25M2008.0 1246.1h25M2010.0 1239.4h25M2010.0 1246.9h25M2012.0 1240.2h25M2012.0 1247.8h25M2014.0 1241.0h25M2014.0 1248.6h25M2016.0 1241.9h25M2016.0 1249.5h25M2017.9 1242.7h25M2017.9 1250.3h25M2019.9 1243.5h25M2019.9 1251.1h25M2021.8 1244.4h25M2021.8 1252.0h25M2023.8 1245.2h25M2023.8 1252.8h25M2025.7 1246.1h25M2025.7 1253.7h25M2027.6 1246.9h25M2027.6 1254.5h25M2029.4 1247.7h25M2029.4 1255.4h25M2031.3 1248.6h25M2031.3 1256.2h25M2033.2 1249.4h25M2033.2 1257.1h25M2035.0 1250.2h25M2035.0 1257.9h25M2036.8 1251.1h25M2036.8 1258.7h25M2038.7 1251.9h25M2038.7 1259.6h25M2040.5 1252.7h25M2040.5 1260.4h25M2042.3 1253.5h25M2042.3 1261.2h25M2044.1 1254.3h25M2044.1 1262.0h25M2045.8 1255.2h25M2045.8 1262.9h25M2047.6 1256.0h25M2047.6 1263.7h25M2049.3 1256.8h25M2049.3 1264.5h25M2051.1 1257.6h25M2051.1 1265.3h25M2052.8 1258.4h25M2052.8 1266.1h25M2054.5 1259.2h25M2054.5 1266.9h25M2056.2 1260.0h25M2056.2 1267.7h25M2057.9 1260.8h25M2057.9 1268.5h25M2059.6 1261.6h25M2059.6 1269.4h25M2061.3 1262.4h25M2061.3 1270.2h25M2062.9 1263.2h25M2062.9 1271.0h25M2064.6 1264.0h25M2064.6 1271.8h25M2066.2 1264.8h25M2066.2 1272.6h25M2067.9 1265.6h25M2067.9 1273.4h25M2069.5 1266.4h25M2069.5 1274.2h25M2071.1 1267.2h25M2071.1 1275.0h25M2072.7 1268.0h25M2072.7 1275.8h25M2074.3 1268.8h25M2074.3 1276.6h25M2075.9 1269.6h25M2075.9 1277.4h25M2077.5 1270.4h25M2077.5 1278.3h25M2079.1 1271.2h25M2079.1 1279.1h25M2080.6 1272.1h25M2080.6 1279.9h25M2082.2 1272.9h25M2082.2 1280.7h25M2083.7 1273.7h25M2083.7 1281.5h25M2085.2 1274.5h25M2085.2 1282.3h25M2086.8 1275.3h25M2086.8 1283.2h25M2088.3 1276.1h25M2088.3 1284.1h25M2089.8 1276.8h25M2089.8 1285.0h25M2091.3 1277.5h25M2091.3 1286.0h25M2092.8 1278.2h25M2092.8 1286.9h25M2094.3 1279.0h25M2094.3 1287.9h25M2095.8 1279.7h25M2095.8 1288.8h25M2097.2 1280.4h25M2097.2 1289.8h25M2098.7 1281.2h25M2098.7 1290.8h25M2100.1 1281.9h25M2100.1 1291.7h25M2101.6 1282.7h25M2101.6 1292.7h25M2103.0 1283.4h25M2103.0 1293.7h25M2104.4 1284.2h25M2104.4 1294.7h25M2105.9 1284.9h25M2105.9 1295.7h25M2107.3 1285.7h25M2107.3 1296.7h25M2108.7 1286.5h25M2108.7 1297.7h25M2110.1 1287.2h25M2110.1 1298.7h25M2111.5 1288.0h25M2111.5 1299.7h25M2112.9 1288.8h25M2112.9 1300.6h25M2114.2 1289.6h25M2114.2 1301.6h25M2115.6 1290.4h25M2115.6 1302.6h25M2117.0 1291.2h25M2117.0 1303.6h25M2118.3 1291.9h25M2118.3 1304.6h25M2119.7 1292.7h25M2119.7 1305.6h25M2121.0 1293.5h25M2121.0 1306.6h25M2122.4 1294.3h25M2122.4 1307.6h25M2123.7 1295.1h25M2123.7 1308.6h25M2125.0 1295.9h25M2125.0 1309.6h25M2126.4 1296.7h25M2126.4 1310.6h25M2127.7 1297.5h25M2127.7 1311.6h25M2129.0 1298.2h25M2129.0 1312.6h25M2130.3 1299.0h25M2130.3 1313.6h25M2131.6 1299.8h25M2131.6 1314.6h25M2132.9 1300.6h25M2132.9 1315.6h25M2134.1 1301.4h25M2134.1 1316.6h25M2135.4 1302.2h25M2135.4 1317.6h25M2136.7 1303.0h25M2136.7 1318.5h25M2137.9 1303.6h25M2137.9 1319.6h25M2139.2 1304.2h25M2139.2 1320.9h25M2140.5 1304.7h25M2140.5 1322.2h25M2141.7 1305.2h25M2141.7 1323.4h25M2142.9 1305.7h25M2142.9 1324.7h25M2144.2 1306.2h25M2144.2 1325.9h25M2145.4 1306.8h25M2145.4 1327.2h25M2146.6 1307.3h25M2146.6 1328.4h25M2147.9 1307.8h25M2147.9 1329.7h25M2149.1 1308.4h25M2149.1 1330.9h25M2150.3 1308.9h25M2150.3 1332.2h25M2151.5 1309.5h25M2151.5 1333.5h25M2152.7 1310.0h25M2152.7 1334.7h25M2153.9 1310.6h25M2153.9 1336.0h25M2155.1 1311.1h25M2155.1 1337.3h25M2156.2 1311.7h25M2156.2 1338.5h25M2157.4 1312.3h25M2157.4 1339.8h25M2158.6 1312.8h25M2158.6 1341.1h25M2159.8 1313.4h25M2159.8 1342.3h25M2160.9 1314.0h25M2160.9 1343.6h25M2162.1 1314.6h25M2162.1 1344.9h25M2163.2 1315.1h25M2163.2 1346.1h25M2164.4 1315.7h25M2164.4 1347.4h25M2165.5 1316.3h25M2165.5 1342.7h25M2166.7 1316.8h25M2166.7 1343.7h25M2167.8 1317.4h25M2167.8 1344.7h25M2168.9 1318.0h25M2168.9 1345.7h25M2170.0 1318.6h25M2170.0 1346.7h25M2171.2 1319.1h25M2171.2 1347.7h25M2172.3 1319.7h25M2172.3 1348.8h25M2173.4 1320.2h25M2173.4 1349.8h25M2174.5 1320.8h25M2174.5 1350.8h25M2175.6 1321.3h25M2175.6 1351.7h25M2176.7 1321.9h25M2176.7 1352.7h25M2177.8 1322.3h25M2177.8 1353.7h25M2178.9 1322.4h25M2178.9 1354.7h25M2179.9 1322.6h25M2179.9 1355.7h25M2181.0 1322.7h25M2181.0 1356.7h25M2182.1 1322.8h25M2182.1 1357.6h25M2183.2 1322.9h25M2183.2 1358.6h25M2184.2 1323.0h25M2184.2 1359.6h25M2185.3 1323.1h25M2185.3 1360.6h25M2186.4 1323.3h25M2186.4 1361.7h25M2187.4 1323.4h25M2187.4 1362.7h25M2188.5 1323.5h25M2188.5 1363.7h25M2189.5 1323.7h25M2189.5 1364.7h25M2190.6 1323.8h25M2190.6 1365.7h25M2191.6 1324.0h25M2191.6 1366.8h25M2192.6 1324.1h25M2192.6 1367.8h25M2193.7 1324.3h25M2193.7 1368.8h25M2194.7 1324.4h25M2194.7 1369.8h25M2195.7 1324.6h25M2195.7 1370.7h25M2196.7 1324.7h25M2196.7 1371.7h25M2197.7 1324.8h25M2197.7 1372.7h25M2198.8 1325.0h25M2198.8 1373.7h25M2199.8 1325.1h25M2199.8 1374.7h25M2200.8 1325.2h25M2200.8 1375.7h25M2201.8 1325.3h25M2201.8 1376.6h25M2202.8 1325.3h25M2202.8 1377.6h25M2203.8 1324.6h25M2203.8 1378.6h25M2204.7 1324.0h25M2204.7 1380.4h25M2205.7 1323.4h25M2205.7 1382.3h25M2206.7 1322.8h25M2206.7 1384.3h25M2207.7 1322.2h25M2207.7 1386.2h25M2208.7 1321.6h25M2208.7 1388.2h25M2209.6 1321.0h25M2209.6 1390.1h25M2210.6 1320.2h25M2210.6 1392.1h25M2211.6 1319.4h25M2211.6 1394.0h25M2212.5 1318.6h25M2212.5 1395.9h25M2213.5 1317.9h25M2213.5 1397.8h25M2214.4 1317.1h25M2214.4 1399.7h25M2215.4 1316.4h25M2215.4 1402.1h25M2216.3 1315.7h25M2216.3 1405.3h25M2217.3 1314.9h25M2217.3 1408.5h25M2218.2 1314.4h25M2218.2 1411.6h25M2219.2 1313.9h25M2219.2 1414.8h25M2220.1 1313.4h25M2220.1 1417.9h25M2221.0 1325.0h25M2221.0 1430.0h25M2222.0 1320.0h25M2222.0 1445.0h25M2222.9 1318.0h25M2222.9 1420.0h25M2223.8 1297.0h25M2223.8 1474.8h25M2224.7 1257.3h25M2224.7 1541.0h25" stroke="#bababa" stroke-width="3.5" fill="none"/>
<path d="M1394.7 844.8 L1398.2 845.2 L1401.7 845.6 L1405.3 846.0 L1408.8 846.4 L1412.3 846.8 L1415.8 847.3 L1419.3 847.7 L1422.9 848.2 L1426.4 848.6 L1429.9 849.1 L1433.4 849.6 L1436.9 850.1 L1440.4 850.6 L1444.0 851.2 L1447.5 851.7 L1451.0 852.3 L1454.5 852.8 L1458.0 853.4 L1461.6 854.0 L1465.1 854.6 L1468.6 855.3 L1472.1 855.9 L1475.6 856.6 L1479.2 857.2 L1482.7 857.9 L1486.2 858.6 L1489.7 859.4 L1493.2 860.1 L1496.7 860.8 L1500.3 861.6 L1503.8 862.4 L1507.3 863.2 L1510.8 864.0 L1514.3 864.8 L1517.9 865.7 L1521.4 866.5 L1524.9 867.4 L1528.4 868.3 L1531.9 869.2 L1535.5 870.2 L1539.0 871.1 L1542.5 872.1 L1546.0 873.1 L1549.5 874.1 L1553.0 875.1 L1556.6 876.1 L1560.1 877.2 L1563.6 878.3 L1567.1 879.4 L1570.6 880.5 L1574.2 881.7 L1577.7 882.8 L1581.2 884.0 L1584.7 885.2 L1588.2 886.4 L1591.8 887.7 L1595.3 888.9 L1598.8 890.2 L1602.3 891.5 L1605.8 892.8 L1609.3 894.1 L1612.9 895.5 L1616.4 896.8 L1619.9 898.2 L1623.4 899.6 L1626.9 901.0 L1630.5 902.5 L1634.0 903.9 L1637.5 905.4 L1641.0 906.8 L1644.5 908.3 L1648.1 909.9 L1651.6 911.4 L1655.1 912.9 L1658.6 914.5 L1662.1 916.0 L1665.6 917.6 L1669.2 919.2 L1672.7 920.8 L1676.2 922.5 L1679.7 924.1 L1683.2 925.8 L1686.8 927.4 L1690.3 929.1 L1693.8 930.8 L1697.3 932.5 L1700.8 934.2 L1704.4 935.9 L1707.9 937.7 L1711.4 939.4 L1714.9 941.2 L1718.4 942.9 L1722.0 944.7 L1725.5 946.5 L1729.0 948.3 L1732.5 950.1 L1736.0 951.9 L1739.5 953.7 L1743.1 955.6 L1746.6 957.4 L1750.1 959.3 L1753.6 961.1 L1757.1 963.0 L1760.7 964.9 L1764.2 966.8 L1767.7 968.7 L1771.2 970.6 L1774.7 972.5 L1778.3 974.4 L1781.8 976.4 L1785.3 978.3 L1788.8 980.3 L1792.3 982.2 L1795.8 984.2 L1799.4 986.2 L1802.9 988.2 L1806.4 990.3 L1809.9 992.3 L1813.4 994.4 L1817.0 996.4 L1820.5 998.5 L1824.0 1000.6 L1827.5 1002.8 L1831.0 1004.9 L1834.6 1007.1 L1838.1 1009.3 L1841.6 1011.5 L1845.1 1013.7 L1848.6 1015.9 L1852.1 1018.2 L1855.7 1020.5 L1859.2 1022.8 L1862.7 1025.2 L1866.2 1027.5 L1869.7 1029.9 L1873.3 1032.3 L1876.8 1034.8 L1880.3 1037.2 L1883.8 1039.7 L1887.3 1042.2 L1890.9 1044.8 L1894.4 1047.4 L1897.9 1050.0 L1901.4 1052.6 L1904.9 1055.3 L1908.4 1058.0 L1912.0 1060.7 L1915.5 1063.5 L1919.0 1066.3 L1922.5 1069.1 L1926.0 1071.9 L1929.6 1074.8 L1933.1 1077.7 L1936.6 1080.6 L1940.1 1083.5 L1943.6 1086.4 L1947.2 1089.4 L1950.7 1092.4 L1954.2 1095.4 L1957.7 1098.4 L1961.2 1101.4 L1964.8 1104.4 L1968.3 1107.5 L1971.8 1110.6 L1975.3 1113.6 L1978.8 1116.7 L1982.3 1119.8 L1985.9 1122.9 L1989.4 1126.0 L1992.9 1129.1 L1996.4 1132.2 L1999.9 1135.4 L2003.5 1138.5 L2007.0 1141.6 L2010.5 1144.7 L2014.0 1147.8 L2017.5 1150.9 L2021.1 1154.1 L2024.6 1157.2 L2028.1 1160.3 L2031.6 1163.4 L2035.1 1166.5 L2038.6 1169.5 L2042.2 1172.6 L2045.7 1175.7 L2049.2 1178.7 L2052.7 1181.8 L2056.2 1184.8 L2059.8 1187.8 L2063.3 1190.8 L2066.8 1193.7 L2070.3 1196.7 L2073.8 1199.6 L2077.4 1202.6 L2080.9 1205.5 L2084.4 1208.3 L2087.9 1211.2 L2091.4 1214.0 L2094.9 1216.8 L2098.5 1219.6 L2102.0 1222.3 L2105.5 1225.1 L2109.0 1227.8 L2112.5 1230.4 L2116.1 1233.0 L2119.6 1235.6 L2123.1 1238.2 L2126.6 1240.7 L2130.1 1243.2 L2133.7 1245.6 L2137.2 1248.0 L2140.7 1250.3 L2144.2 1252.6 L2147.7 1254.9 L2151.2 1257.1 L2154.8 1259.2 L2158.3 1261.3 L2161.8 1263.3 L2165.3 1265.2 L2168.8 1267.1 L2172.4 1269.0 L2175.9 1270.7 L2179.4 1272.4 L2182.9 1274.0 L2186.4 1275.6 L2190.0 1277.0 L2193.5 1278.4 L2197.0 1279.7 L2200.5 1281.0 L2204.0 1282.1 L2207.5 1283.2 L2211.1 1284.1 L2214.6 1285.0 L2218.1 1285.8 L2221.6 1286.5 L2225.1 1287.1 L2228.7 1287.6 L2232.2 1288.0 L2235.7 1288.3" stroke="#000" stroke-width="12.5" fill="none" stroke-linejoin="round"/>
<path d="M1383.6 1174.8 L1387.2 1174.9 L1390.7 1175.1 L1394.3 1175.2 L1397.8 1175.4 L1401.4 1175.5 L1404.9 1175.7 L1408.5 1175.8 L1412.1 1175.9 L1415.6 1176.1 L1419.2 1176.2 L1422.7 1176.3 L1426.3 1176.4 L1429.9 1176.5 L1433.4 1176.6 L1437.0 1176.7 L1440.5 1176.8 L1444.1 1176.9 L1447.6 1177.0 L1451.2 1177.1 L1454.8 1177.2 L1458.3 1177.3 L1461.9 1177.4 L1465.4 1177.5 L1469.0 1177.6 L1472.6 1177.6 L1476.1 1177.7 L1479.7 1177.8 L1483.2 1177.9 L1486.8 1177.9 L1490.3 1178.0 L1493.9 1178.1 L1497.5 1178.1 L1501.0 1178.2 L1504.6 1178.3 L1508.1 1178.3 L1511.7 1178.4 L1515.3 1178.4 L1518.8 1178.5 L1522.4 1178.6 L1525.9 1178.6 L1529.5 1178.7 L1533.0 1178.7 L1536.6 1178.8 L1540.2 1178.9 L1543.7 1178.9 L1547.3 1179.0 L1550.8 1179.0 L1554.4 1179.1 L1557.9 1179.2 L1561.5 1179.2 L1565.1 1179.3 L1568.6 1179.3 L1572.2 1179.4 L1575.7 1179.5 L1579.3 1179.5 L1582.9 1179.6 L1586.4 1179.7 L1590.0 1179.7 L1593.5 1179.8 L1597.1 1179.9 L1600.6 1180.0 L1604.2 1180.0 L1607.8 1180.1 L1611.3 1180.2 L1614.9 1180.3 L1618.4 1180.4 L1622.0 1180.4 L1625.6 1180.5 L1629.1 1180.6 L1632.7 1180.7 L1636.2 1180.8 L1639.8 1180.9 L1643.3 1181.0 L1646.9 1181.1 L1650.5 1181.3 L1654.0 1181.4 L1657.6 1181.5 L1661.1 1181.6 L1664.7 1181.7 L1668.3 1181.9 L1671.8 1182.0 L1675.4 1182.1 L1678.9 1182.3 L1682.5 1182.4 L1686.0 1182.6 L1689.6 1182.7 L1693.2 1182.9 L1696.7 1183.1 L1700.3 1183.2 L1703.8 1183.4 L1707.4 1183.6 L1711.0 1183.8 L1714.5 1184.0 L1718.1 1184.2 L1721.6 1184.4 L1725.2 1184.6 L1728.7 1184.8 L1732.3 1185.0 L1735.9 1185.3 L1739.4 1185.5 L1743.0 1185.7 L1746.5 1186.0 L1750.1 1186.2 L1753.6 1186.5 L1757.2 1186.7 L1760.8 1187.0 L1764.3 1187.3 L1767.9 1187.6 L1771.4 1187.9 L1775.0 1188.2 L1778.6 1188.5 L1782.1 1188.8 L1785.7 1189.1 L1789.2 1189.5 L1792.8 1189.8 L1796.3 1190.2 L1799.9 1190.5 L1803.5 1190.9 L1807.0 1191.3 L1810.6 1191.7 L1814.1 1192.1 L1817.7 1192.5 L1821.3 1192.9 L1824.8 1193.4 L1828.4 1193.8 L1831.9 1194.3 L1835.5 1194.7 L1839.0 1195.2 L1842.6 1195.7 L1846.2 1196.2 L1849.7 1196.8 L1853.3 1197.3 L1856.8 1197.8 L1860.4 1198.4 L1864.0 1199.0 L1867.5 1199.6 L1871.1 1200.2 L1874.6 1200.8 L1878.2 1201.4 L1881.7 1202.1 L1885.3 1202.7 L1888.9 1203.4 L1892.4 1204.1 L1896.0 1204.8 L1899.5 1205.6 L1903.1 1206.3 L1906.6 1207.1 L1910.2 1207.9 L1913.8 1208.7 L1917.3 1209.5 L1920.9 1210.3 L1924.4 1211.2 L1928.0 1212.0 L1931.6 1212.9 L1935.1 1213.8 L1938.7 1214.7 L1942.2 1215.7 L1945.8 1216.6 L1949.3 1217.6 L1952.9 1218.6 L1956.5 1219.6 L1960.0 1220.7 L1963.6 1221.7 L1967.1 1222.8 L1970.7 1223.9 L1974.3 1225.0 L1977.8 1226.1 L1981.4 1227.3 L1984.9 1228.4 L1988.5 1229.6 L1992.0 1230.8 L1995.6 1232.1 L1999.2 1233.3 L2002.7 1234.6 L2006.3 1235.9 L2009.8 1237.2 L2013.4 1238.5 L2017.0 1239.9 L2020.5 1241.3 L2024.1 1242.7 L2027.6 1244.1 L2031.2 1245.5 L2034.7 1247.0 L2038.3 1248.5 L2041.9 1250.0 L2045.4 1251.5 L2049.0 1253.1 L2052.5 1254.7 L2056.1 1256.3 L2059.7 1257.9 L2063.2 1259.5 L2066.8 1261.2 L2070.3 1262.9 L2073.9 1264.6 L2077.4 1266.3 L2081.0 1268.1 L2084.6 1269.9 L2088.1 1271.7 L2091.7 1273.5 L2095.2 1275.4 L2098.8 1277.3 L2102.3 1279.2 L2105.9 1281.1 L2109.5 1283.1 L2113.0 1285.0 L2116.6 1287.1 L2120.1 1289.1 L2123.7 1291.1 L2127.3 1293.2 L2130.8 1295.3 L2134.4 1297.5 L2137.9 1299.6 L2141.5 1301.8 L2145.0 1304.0 L2148.6 1306.3 L2152.2 1308.5 L2155.7 1310.8 L2159.3 1313.1 L2162.8 1315.5 L2166.4 1317.9 L2170.0 1320.3 L2173.5 1322.7 L2177.1 1325.2 L2180.6 1327.6 L2184.2 1330.2 L2187.7 1332.7 L2191.3 1335.3 L2194.9 1337.9 L2198.4 1340.5 L2202.0 1343.2 L2205.5 1345.9 L2209.1 1348.6 L2212.7 1351.3 L2216.2 1354.1 L2219.8 1356.9 L2223.3 1359.8 L2226.9 1362.6 L2230.4 1365.5 L2234.0 1368.5" stroke="#000" stroke-width="12.5" fill="none" stroke-linejoin="round"/>
</g>
<rect x="310" y="37" width="890.5" height="761.0" fill="none" stroke="#000" stroke-width="3.8"/>
<rect x="1365" y="37" width="891" height="761.0" fill="none" stroke="#000" stroke-width="3.8"/>
<rect x="310" y="799.0" width="890.5" height="760.9000000000001" fill="none" stroke="#000" stroke-width="3.8"/>
<rect x="1365" y="799.0" width="891" height="760.9000000000001" fill="none" stroke="#000" stroke-width="3.8"/>
<text x="172.22" y="70.70" font-size="47.00" textLength="88.62" lengthAdjust="spacingAndGlyphs">0.01</text>
<text x="144.38" y="794.70" font-size="47.00" textLength="116.52" lengthAdjust="spacingAndGlyphs">0.001</text>
<text x="269.84" y="572.45" font-size="33.52">2</text>
<text x="269.64" y="444.96" font-size="33.52">3</text>
<text x="269.13" y="354.51" font-size="33.52">4</text>
<text x="269.57" y="284.35" font-size="33.52">5</text>
<text x="269.64" y="227.02" font-size="33.52">6</text>
<text x="269.84" y="178.55" font-size="33.52">7</text>
<text x="269.60" y="136.56" font-size="33.52">8</text>
<text x="269.74" y="99.53" font-size="33.52">9</text>
<path d="M278.0 55.9H310M278.0 779.9H310M293.2 562.0H310M293.2 434.5H310M293.2 344.0H310M293.2 273.8H310M293.2 216.5H310M293.2 168.0H310M293.2 126.1H310M293.2 89.0H310" stroke="#000" stroke-width="3.8"/>
<text x="1255.82" y="167.90" font-size="47.00" textLength="59.90" lengthAdjust="spacingAndGlyphs">0.1</text>
<text x="1227.22" y="422.95" font-size="47.00" textLength="88.62" lengthAdjust="spacingAndGlyphs">0.01</text>
<text x="1199.38" y="678.00" font-size="47.00" textLength="116.52" lengthAdjust="spacingAndGlyphs">0.001</text>
<text x="1324.84" y="86.82" font-size="33.52">2</text>
<text x="1324.64" y="220.18" font-size="33.52">6</text>
<text x="1324.13" y="265.09" font-size="33.52">4</text>
<text x="1324.84" y="341.87" font-size="33.52">2</text>
<text x="1324.64" y="475.23" font-size="33.52">6</text>
<text x="1324.13" y="520.14" font-size="33.52">4</text>
<text x="1324.84" y="596.92" font-size="33.52">2</text>
<text x="1324.64" y="730.28" font-size="33.52">6</text>
<text x="1324.13" y="775.19" font-size="33.52">4</text>
<path d="M1333.0 153.1H1365M1333.0 408.2H1365M1333.0 663.2H1365M1348.2 76.3H1365M1348.2 209.7H1365M1348.2 254.6H1365M1348.2 331.4H1365M1348.2 464.7H1365M1348.2 509.6H1365M1348.2 586.4H1365M1348.2 719.8H1365M1348.2 764.7H1365M1348.2 164.8H1365M1348.2 177.8H1365M1348.2 192.6H1365M1348.2 229.9H1365M1348.2 286.5H1365M1348.2 419.8H1365M1348.2 432.9H1365M1348.2 447.7H1365M1348.2 484.9H1365M1348.2 541.5H1365M1348.2 674.9H1365M1348.2 687.9H1365M1348.2 702.7H1365M1348.2 740.0H1365" stroke="#000" stroke-width="3.8"/>
<text x="200.82" y="928.60" font-size="47.00" textLength="59.90" lengthAdjust="spacingAndGlyphs">0.1</text>
<text x="172.22" y="1184.10" font-size="47.00" textLength="88.62" lengthAdjust="spacingAndGlyphs">0.01</text>
<text x="144.38" y="1439.60" font-size="47.00" textLength="116.52" lengthAdjust="spacingAndGlyphs">0.001</text>
<text x="269.84" y="847.39" font-size="33.52">2</text>
<text x="269.64" y="980.98" font-size="33.52">6</text>
<text x="269.13" y="1025.97" font-size="33.52">4</text>
<text x="269.84" y="1102.89" font-size="33.52">2</text>
<text x="269.64" y="1236.48" font-size="33.52">6</text>
<text x="269.13" y="1281.47" font-size="33.52">4</text>
<text x="269.84" y="1358.39" font-size="33.52">2</text>
<text x="269.64" y="1491.98" font-size="33.52">6</text>
<text x="269.13" y="1536.97" font-size="33.52">4</text>
<path d="M278.0 913.8H310M278.0 1169.3H310M278.0 1424.8H310M293.2 836.9H310M293.2 970.5H310M293.2 1015.5H310M293.2 1092.4H310M293.2 1226.0H310M293.2 1271.0H310M293.2 1347.9H310M293.2 1481.5H310M293.2 1526.5H310M293.2 925.5H310M293.2 938.6H310M293.2 953.4H310M293.2 990.7H310M293.2 1047.4H310M293.2 1181.0H310M293.2 1194.1H310M293.2 1208.9H310M293.2 1246.2H310M293.2 1302.9H310M293.2 1436.5H310M293.2 1449.6H310M293.2 1464.4H310M293.2 1501.7H310" stroke="#000" stroke-width="3.8"/>
<text x="1255.82" y="993.70" font-size="47.00" textLength="59.90" lengthAdjust="spacingAndGlyphs">0.1</text>
<text x="1227.22" y="1295.10" font-size="47.00" textLength="88.62" lengthAdjust="spacingAndGlyphs">0.01</text>
<text x="1324.84" y="898.67" font-size="33.52">2</text>
<text x="1324.64" y="1056.27" font-size="33.52">6</text>
<text x="1324.13" y="1109.34" font-size="33.52">4</text>
<text x="1324.84" y="1200.07" font-size="33.52">2</text>
<text x="1324.64" y="1357.67" font-size="33.52">6</text>
<text x="1324.13" y="1410.74" font-size="33.52">4</text>
<text x="1324.84" y="1501.47" font-size="33.52">2</text>
<path d="M1333.0 978.9H1365M1333.0 1280.3H1365M1348.2 888.2H1365M1348.2 1045.8H1365M1348.2 1098.8H1365M1348.2 1189.6H1365M1348.2 1347.2H1365M1348.2 1400.2H1365M1348.2 1491.0H1365M1348.2 835.1H1365M1348.2 992.7H1365M1348.2 1008.1H1365M1348.2 1025.6H1365M1348.2 1069.6H1365M1348.2 1136.5H1365M1348.2 1294.1H1365M1348.2 1309.5H1365M1348.2 1327.0H1365M1348.2 1371.0H1365M1348.2 1437.9H1365" stroke="#000" stroke-width="3.8"/>
<path d="M328.5 789.5V807.5M328.5 1559.9V1575.8M439.3 789.5V807.5M439.3 1559.9V1575.8M517.8 789.5V807.5M517.8 1559.9V1575.8M578.8 789.5V807.5M578.8 1559.9V1575.8M628.6 789.5V807.5M628.6 1559.9V1575.8M670.7 789.5V807.5M670.7 1559.9V1575.8M707.2 789.5V807.5M707.2 1559.9V1575.8M739.4 789.5V807.5M739.4 1559.9V1575.8M957.5 789.5V807.5M957.5 1559.9V1575.8M1068.3 789.5V807.5M1068.3 1559.9V1575.8M1146.8 789.5V807.5M1146.8 1559.9V1575.8M768.2 782.2V814.8M768.2 1559.9V1590.9M1383.5 789.5V807.5M1383.5 1559.9V1575.8M1494.3 789.5V807.5M1494.3 1559.9V1575.8M1572.8 789.5V807.5M1572.8 1559.9V1575.8M1633.8 789.5V807.5M1633.8 1559.9V1575.8M1683.6 789.5V807.5M1683.6 1559.9V1575.8M1725.7 789.5V807.5M1725.7 1559.9V1575.8M1762.2 789.5V807.5M1762.2 1559.9V1575.8M1794.4 789.5V807.5M1794.4 1559.9V1575.8M2012.5 789.5V807.5M2012.5 1559.9V1575.8M2123.3 789.5V807.5M2123.3 1559.9V1575.8M2201.8 789.5V807.5M2201.8 1559.9V1575.8M1823.2 782.2V814.8M1823.2 1559.9V1590.9" stroke="#000" stroke-width="3.8"/>
<text x="319.02" y="1611.50" font-size="34.10" textLength="18.96" lengthAdjust="spacingAndGlyphs">2</text>
<text x="429.88" y="1611.50" font-size="34.10" textLength="18.96" lengthAdjust="spacingAndGlyphs">3</text>
<text x="508.47" y="1611.50" font-size="34.10" textLength="18.96" lengthAdjust="spacingAndGlyphs">4</text>
<text x="569.36" y="1611.50" font-size="34.10" textLength="18.96" lengthAdjust="spacingAndGlyphs">5</text>
<text x="619.01" y="1611.50" font-size="34.10" textLength="18.96" lengthAdjust="spacingAndGlyphs">6</text>
<text x="661.22" y="1611.50" font-size="34.10" textLength="18.96" lengthAdjust="spacingAndGlyphs">7</text>
<text x="697.72" y="1611.50" font-size="34.10" textLength="18.96" lengthAdjust="spacingAndGlyphs">8</text>
<text x="948.02" y="1611.50" font-size="34.10" textLength="18.96" lengthAdjust="spacingAndGlyphs">2</text>
<text x="1058.88" y="1611.50" font-size="34.10" textLength="18.96" lengthAdjust="spacingAndGlyphs">3</text>
<text x="1137.47" y="1611.50" font-size="34.10" textLength="18.96" lengthAdjust="spacingAndGlyphs">4</text>
<text x="733.95" y="1653.00" font-size="45.85" textLength="62.25" lengthAdjust="spacingAndGlyphs">0.1</text>
<text x="1374.02" y="1611.50" font-size="34.10" textLength="18.96" lengthAdjust="spacingAndGlyphs">2</text>
<text x="1484.88" y="1611.50" font-size="34.10" textLength="18.96" lengthAdjust="spacingAndGlyphs">3</text>
<text x="1563.47" y="1611.50" font-size="34.10" textLength="18.96" lengthAdjust="spacingAndGlyphs">4</text>
<text x="1624.36" y="1611.50" font-size="34.10" textLength="18.96" lengthAdjust="spacingAndGlyphs">5</text>
<text x="1674.01" y="1611.50" font-size="34.10" textLength="18.96" lengthAdjust="spacingAndGlyphs">6</text>
<text x="1716.22" y="1611.50" font-size="34.10" textLength="18.96" lengthAdjust="spacingAndGlyphs">7</text>
<text x="1752.72" y="1611.50" font-size="34.10" textLength="18.96" lengthAdjust="spacingAndGlyphs">8</text>
<text x="2003.02" y="1611.50" font-size="34.10" textLength="18.96" lengthAdjust="spacingAndGlyphs">2</text>
<text x="2113.88" y="1611.50" font-size="34.10" textLength="18.96" lengthAdjust="spacingAndGlyphs">3</text>
<text x="2192.47" y="1611.50" font-size="34.10" textLength="18.96" lengthAdjust="spacingAndGlyphs">4</text>
<text x="1788.95" y="1653.00" font-size="45.85" textLength="62.25" lengthAdjust="spacingAndGlyphs">0.1</text>
<g transform="translate(88.7 0) rotate(-90)">
<text x="-907.12" y="0.00" font-size="83.14" textLength="368.25" lengthAdjust="spacingAndGlyphs">I(Q) (a.u.)</text>
</g>
<text x="1070.28" y="1763.70" font-size="82.41" textLength="144.47" lengthAdjust="spacingAndGlyphs">Q(Å</text>
<text x="1216.17" y="1708.00" font-size="58.14" textLength="42.67" lengthAdjust="spacingAndGlyphs">−1</text>
<text x="1275.28" y="1763.70" font-size="82.41" textLength="28.90" lengthAdjust="spacingAndGlyphs">)</text>
<circle cx="416.5" cy="650.7" r="15.5" fill="#8a8a8a"/>
<text x="482.58" y="665.70" font-size="47.38" textLength="136.63" lengthAdjust="spacingAndGlyphs">GMPNa</text>
<text x="622.03" y="676.00" font-size="32.95" textLength="19.64" lengthAdjust="spacingAndGlyphs">2</text>
<text x="657.85" y="665.70" font-size="47.38" textLength="24.29" lengthAdjust="spacingAndGlyphs">5</text>
<text x="696.65" y="665.70" font-size="47.38" textLength="134.06" lengthAdjust="spacingAndGlyphs">mg/ml</text>
<text x="843.95" y="665.70" font-size="47.38" textLength="35.42" lengthAdjust="spacingAndGlyphs">in</text>
<text x="893.10" y="665.70" font-size="47.38" textLength="102.59" lengthAdjust="spacingAndGlyphs">0.4M</text>
<text x="1008.20" y="665.70" font-size="47.38" textLength="64.92" lengthAdjust="spacingAndGlyphs">KCl</text>
<circle cx="416.5" cy="713.4" r="15.5" fill="#bababa"/>
<text x="482.58" y="728.40" font-size="47.38" textLength="136.63" lengthAdjust="spacingAndGlyphs">GMPNa</text>
<text x="622.03" y="738.70" font-size="32.95" textLength="19.64" lengthAdjust="spacingAndGlyphs">2</text>
<text x="657.85" y="728.40" font-size="47.38" textLength="24.29" lengthAdjust="spacingAndGlyphs">5</text>
<text x="696.65" y="728.40" font-size="47.38" textLength="134.06" lengthAdjust="spacingAndGlyphs">mg/ml</text>
<text x="843.95" y="728.40" font-size="47.38" textLength="35.42" lengthAdjust="spacingAndGlyphs">in</text>
<text x="893.10" y="728.40" font-size="47.38" textLength="102.59" lengthAdjust="spacingAndGlyphs">0.4M</text>
<text x="1008.07" y="728.40" font-size="47.38" textLength="92.91" lengthAdjust="spacingAndGlyphs">NaCl</text>
<path d="M370.5 776.8H462.2" stroke="#000" stroke-width="12.5"/>
<text x="483.75" y="791.10" font-size="47.38" textLength="41.61" lengthAdjust="spacingAndGlyphs">fit</text>
<circle cx="1504.4" cy="624.0" r="15.5" fill="#8a8a8a"/>
<text x="1570.48" y="639.00" font-size="47.38" textLength="136.63" lengthAdjust="spacingAndGlyphs">GMPNa</text>
<text x="1709.93" y="649.30" font-size="32.95" textLength="19.64" lengthAdjust="spacingAndGlyphs">2</text>
<text x="1745.08" y="639.00" font-size="47.38" textLength="53.93" lengthAdjust="spacingAndGlyphs">20</text>
<text x="1813.45" y="639.00" font-size="47.38" textLength="134.06" lengthAdjust="spacingAndGlyphs">mg/ml</text>
<text x="1960.75" y="639.00" font-size="47.38" textLength="35.42" lengthAdjust="spacingAndGlyphs">in</text>
<text x="2009.90" y="639.00" font-size="47.38" textLength="102.59" lengthAdjust="spacingAndGlyphs">0.6M</text>
<text x="2125.00" y="639.00" font-size="47.38" textLength="64.92" lengthAdjust="spacingAndGlyphs">KCl</text>
<circle cx="1504.4" cy="686.7" r="15.5" fill="#bababa"/>
<text x="1570.48" y="701.70" font-size="47.38" textLength="136.63" lengthAdjust="spacingAndGlyphs">GMPNa</text>
<text x="1709.93" y="712.00" font-size="32.95" textLength="19.64" lengthAdjust="spacingAndGlyphs">2</text>
<text x="1745.08" y="701.70" font-size="47.38" textLength="53.93" lengthAdjust="spacingAndGlyphs">20</text>
<text x="1813.45" y="701.70" font-size="47.38" textLength="134.06" lengthAdjust="spacingAndGlyphs">mg/ml</text>
<text x="1960.75" y="701.70" font-size="47.38" textLength="35.42" lengthAdjust="spacingAndGlyphs">in</text>
<text x="2009.90" y="701.70" font-size="47.38" textLength="102.59" lengthAdjust="spacingAndGlyphs">0.6M</text>
<text x="2124.87" y="701.70" font-size="47.38" textLength="92.91" lengthAdjust="spacingAndGlyphs">NaCl</text>
<path d="M1458.4 750.1H1550.1" stroke="#000" stroke-width="12.5"/>
<text x="1571.65" y="764.40" font-size="47.38" textLength="41.61" lengthAdjust="spacingAndGlyphs">fit</text>
<circle cx="434.5" cy="1401.4" r="15.5" fill="#8a8a8a"/>
<text x="500.58" y="1416.40" font-size="47.38" textLength="136.63" lengthAdjust="spacingAndGlyphs">GMPNa</text>
<text x="640.03" y="1426.70" font-size="32.95" textLength="19.64" lengthAdjust="spacingAndGlyphs">2</text>
<text x="675.18" y="1416.40" font-size="47.38" textLength="53.93" lengthAdjust="spacingAndGlyphs">20</text>
<text x="743.55" y="1416.40" font-size="47.38" textLength="134.06" lengthAdjust="spacingAndGlyphs">mg/ml</text>
<text x="890.85" y="1416.40" font-size="47.38" textLength="35.42" lengthAdjust="spacingAndGlyphs">in</text>
<text x="939.96" y="1416.40" font-size="47.38" textLength="131.23" lengthAdjust="spacingAndGlyphs">0.06M</text>
<text x="1083.60" y="1416.40" font-size="47.38" textLength="64.92" lengthAdjust="spacingAndGlyphs">KCl</text>
<circle cx="434.5" cy="1464.1" r="15.5" fill="#bababa"/>
<text x="500.58" y="1479.10" font-size="47.38" textLength="136.63" lengthAdjust="spacingAndGlyphs">GMPNa</text>
<text x="640.03" y="1489.40" font-size="32.95" textLength="19.64" lengthAdjust="spacingAndGlyphs">2</text>
<text x="675.18" y="1479.10" font-size="47.38" textLength="53.93" lengthAdjust="spacingAndGlyphs">20</text>
<text x="743.55" y="1479.10" font-size="47.38" textLength="134.06" lengthAdjust="spacingAndGlyphs">mg/ml</text>
<text x="890.85" y="1479.10" font-size="47.38" textLength="35.42" lengthAdjust="spacingAndGlyphs">in</text>
<text x="939.96" y="1479.10" font-size="47.38" textLength="131.23" lengthAdjust="spacingAndGlyphs">0.06M</text>
<text x="1083.47" y="1479.10" font-size="47.38" textLength="92.91" lengthAdjust="spacingAndGlyphs">NaCl</text>
<path d="M388.5 1527.5H480.2" stroke="#000" stroke-width="12.5"/>
<text x="501.75" y="1541.80" font-size="47.38" textLength="41.61" lengthAdjust="spacingAndGlyphs">fit</text>
<circle cx="1461.6" cy="1408.1" r="15.5" fill="#8a8a8a"/>
<text x="1527.68" y="1423.10" font-size="47.38" textLength="136.63" lengthAdjust="spacingAndGlyphs">GMPNa</text>
<text x="1667.13" y="1433.40" font-size="32.95" textLength="19.64" lengthAdjust="spacingAndGlyphs">2</text>
<text x="1702.88" y="1423.10" font-size="47.38" textLength="53.31" lengthAdjust="spacingAndGlyphs">30</text>
<text x="1770.65" y="1423.10" font-size="47.38" textLength="134.06" lengthAdjust="spacingAndGlyphs">mg/ml</text>
<text x="1917.95" y="1423.10" font-size="47.38" textLength="35.42" lengthAdjust="spacingAndGlyphs">in</text>
<text x="1967.10" y="1423.10" font-size="47.38" textLength="102.59" lengthAdjust="spacingAndGlyphs">0.4M</text>
<text x="2082.20" y="1423.10" font-size="47.38" textLength="64.92" lengthAdjust="spacingAndGlyphs">KCl</text>
<circle cx="1461.6" cy="1470.8" r="15.5" fill="#bababa"/>
<text x="1527.68" y="1485.80" font-size="47.38" textLength="136.63" lengthAdjust="spacingAndGlyphs">GMPNa</text>
<text x="1667.13" y="1496.10" font-size="32.95" textLength="19.64" lengthAdjust="spacingAndGlyphs">2</text>
<text x="1702.88" y="1485.80" font-size="47.38" textLength="53.31" lengthAdjust="spacingAndGlyphs">30</text>
<text x="1770.65" y="1485.80" font-size="47.38" textLength="134.06" lengthAdjust="spacingAndGlyphs">mg/ml</text>
<text x="1917.95" y="1485.80" font-size="47.38" textLength="35.42" lengthAdjust="spacingAndGlyphs">in</text>
<text x="1967.10" y="1485.80" font-size="47.38" textLength="102.59" lengthAdjust="spacingAndGlyphs">0.4M</text>
<text x="2082.07" y="1485.80" font-size="47.38" textLength="92.91" lengthAdjust="spacingAndGlyphs">NaCl</text>
<path d="M1415.6 1534.2H1507.3" stroke="#000" stroke-width="12.5"/>
<text x="1528.85" y="1548.50" font-size="47.38" textLength="41.61" lengthAdjust="spacingAndGlyphs">fit</text>
</svg>
</body></html>
